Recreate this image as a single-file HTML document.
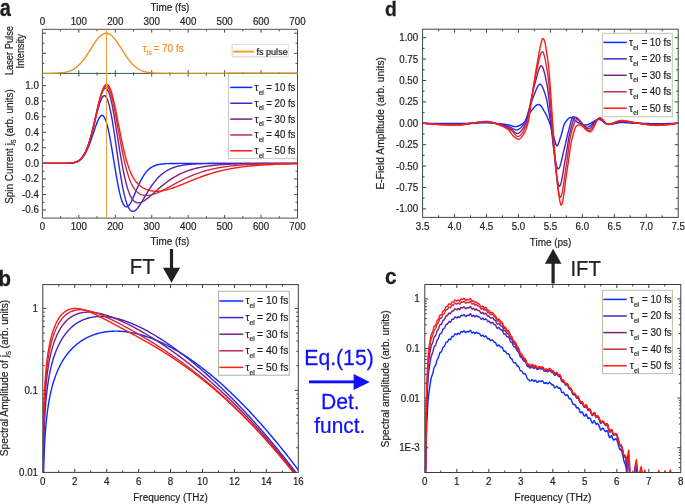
<!DOCTYPE html><html><head><meta charset="utf-8"><title>Spin current figure</title><style>html,body{margin:0;padding:0;background:#fff;width:685px;height:504px;overflow:hidden;}svg{display:block;filter:blur(0.3px);font-family:"Liberation Sans",sans-serif;}</style></head><body><svg width="685" height="504" viewBox="0 0 685 504" font-family="'Liberation Sans', sans-serif"><defs><clipPath id="ca1"><rect x="42.4" y="29.3" width="255.1" height="44.10000000000001"/></clipPath><clipPath id="ca2"><rect x="42.4" y="72.4" width="255.1" height="145.7"/></clipPath><clipPath id="ca1b"><rect x="42.4" y="29.3" width="255.1" height="44.400000000000006"/></clipPath><clipPath id="cb"><rect x="42.8" y="284.6" width="255.5" height="187.79999999999995"/></clipPath><clipPath id="cc"><rect x="424.8" y="284.5" width="255.99999999999994" height="188.0"/></clipPath><clipPath id="cd"><rect x="422.6" y="29.2" width="255.60000000000002" height="188.20000000000002"/></clipPath></defs><rect width="685" height="504" fill="#ffffff"/><line x1="60.62" y1="29.30" x2="60.62" y2="31.30" stroke="#4a4040" stroke-width="1.0" />
<line x1="60.62" y1="218.10" x2="60.62" y2="216.10" stroke="#3f5a4c" stroke-width="1.0" />
<line x1="60.62" y1="72.40" x2="60.62" y2="75.60" stroke="#2f6050" stroke-width="1.0" />
<line x1="78.84" y1="29.30" x2="78.84" y2="32.60" stroke="#4a4040" stroke-width="1.0" />
<line x1="78.84" y1="218.10" x2="78.84" y2="214.80" stroke="#3f5a4c" stroke-width="1.0" />
<line x1="78.84" y1="70.20" x2="78.84" y2="76.70" stroke="#2f6050" stroke-width="1.0" />
<line x1="97.06" y1="29.30" x2="97.06" y2="31.30" stroke="#4a4040" stroke-width="1.0" />
<line x1="97.06" y1="218.10" x2="97.06" y2="216.10" stroke="#3f5a4c" stroke-width="1.0" />
<line x1="97.06" y1="72.40" x2="97.06" y2="75.60" stroke="#2f6050" stroke-width="1.0" />
<line x1="115.29" y1="29.30" x2="115.29" y2="32.60" stroke="#4a4040" stroke-width="1.0" />
<line x1="115.29" y1="218.10" x2="115.29" y2="214.80" stroke="#3f5a4c" stroke-width="1.0" />
<line x1="115.29" y1="70.20" x2="115.29" y2="76.70" stroke="#2f6050" stroke-width="1.0" />
<line x1="133.51" y1="29.30" x2="133.51" y2="31.30" stroke="#4a4040" stroke-width="1.0" />
<line x1="133.51" y1="218.10" x2="133.51" y2="216.10" stroke="#3f5a4c" stroke-width="1.0" />
<line x1="133.51" y1="72.40" x2="133.51" y2="75.60" stroke="#2f6050" stroke-width="1.0" />
<line x1="151.73" y1="29.30" x2="151.73" y2="32.60" stroke="#4a4040" stroke-width="1.0" />
<line x1="151.73" y1="218.10" x2="151.73" y2="214.80" stroke="#3f5a4c" stroke-width="1.0" />
<line x1="151.73" y1="70.20" x2="151.73" y2="76.70" stroke="#2f6050" stroke-width="1.0" />
<line x1="169.95" y1="29.30" x2="169.95" y2="31.30" stroke="#4a4040" stroke-width="1.0" />
<line x1="169.95" y1="218.10" x2="169.95" y2="216.10" stroke="#3f5a4c" stroke-width="1.0" />
<line x1="169.95" y1="72.40" x2="169.95" y2="75.60" stroke="#2f6050" stroke-width="1.0" />
<line x1="188.17" y1="29.30" x2="188.17" y2="32.60" stroke="#4a4040" stroke-width="1.0" />
<line x1="188.17" y1="218.10" x2="188.17" y2="214.80" stroke="#3f5a4c" stroke-width="1.0" />
<line x1="188.17" y1="70.20" x2="188.17" y2="76.70" stroke="#2f6050" stroke-width="1.0" />
<line x1="206.39" y1="29.30" x2="206.39" y2="31.30" stroke="#4a4040" stroke-width="1.0" />
<line x1="206.39" y1="218.10" x2="206.39" y2="216.10" stroke="#3f5a4c" stroke-width="1.0" />
<line x1="206.39" y1="72.40" x2="206.39" y2="75.60" stroke="#2f6050" stroke-width="1.0" />
<line x1="224.61" y1="29.30" x2="224.61" y2="32.60" stroke="#4a4040" stroke-width="1.0" />
<line x1="224.61" y1="218.10" x2="224.61" y2="214.80" stroke="#3f5a4c" stroke-width="1.0" />
<line x1="224.61" y1="70.20" x2="224.61" y2="76.70" stroke="#2f6050" stroke-width="1.0" />
<line x1="242.84" y1="29.30" x2="242.84" y2="31.30" stroke="#4a4040" stroke-width="1.0" />
<line x1="242.84" y1="218.10" x2="242.84" y2="216.10" stroke="#3f5a4c" stroke-width="1.0" />
<line x1="242.84" y1="72.40" x2="242.84" y2="75.60" stroke="#2f6050" stroke-width="1.0" />
<line x1="261.06" y1="29.30" x2="261.06" y2="32.60" stroke="#4a4040" stroke-width="1.0" />
<line x1="261.06" y1="218.10" x2="261.06" y2="214.80" stroke="#3f5a4c" stroke-width="1.0" />
<line x1="261.06" y1="70.20" x2="261.06" y2="76.70" stroke="#2f6050" stroke-width="1.0" />
<line x1="279.28" y1="29.30" x2="279.28" y2="31.30" stroke="#4a4040" stroke-width="1.0" />
<line x1="279.28" y1="218.10" x2="279.28" y2="216.10" stroke="#3f5a4c" stroke-width="1.0" />
<line x1="279.28" y1="72.40" x2="279.28" y2="75.60" stroke="#2f6050" stroke-width="1.0" />
<line x1="42.40" y1="63.35" x2="44.40" y2="63.35" stroke="#3d3d3d" stroke-width="1.0" />
<line x1="297.50" y1="63.35" x2="295.50" y2="63.35" stroke="#3f5a4c" stroke-width="1.0" />
<line x1="42.40" y1="53.30" x2="45.90" y2="53.30" stroke="#3d3d3d" stroke-width="1.0" />
<line x1="297.50" y1="53.30" x2="294.00" y2="53.30" stroke="#3f5a4c" stroke-width="1.0" />
<line x1="42.40" y1="43.25" x2="44.40" y2="43.25" stroke="#3d3d3d" stroke-width="1.0" />
<line x1="297.50" y1="43.25" x2="295.50" y2="43.25" stroke="#3f5a4c" stroke-width="1.0" />
<line x1="42.40" y1="33.20" x2="45.90" y2="33.20" stroke="#3d3d3d" stroke-width="1.0" />
<line x1="297.50" y1="33.20" x2="294.00" y2="33.20" stroke="#3f5a4c" stroke-width="1.0" />
<line x1="42.40" y1="210.08" x2="45.90" y2="210.08" stroke="#3d3d3d" stroke-width="1.0" />
<line x1="297.50" y1="210.08" x2="294.00" y2="210.08" stroke="#3f5a4c" stroke-width="1.0" />
<line x1="42.40" y1="202.30" x2="44.40" y2="202.30" stroke="#3d3d3d" stroke-width="1.0" />
<line x1="297.50" y1="202.30" x2="295.50" y2="202.30" stroke="#3f5a4c" stroke-width="1.0" />
<line x1="42.40" y1="194.52" x2="45.90" y2="194.52" stroke="#3d3d3d" stroke-width="1.0" />
<line x1="297.50" y1="194.52" x2="294.00" y2="194.52" stroke="#3f5a4c" stroke-width="1.0" />
<line x1="42.40" y1="186.74" x2="44.40" y2="186.74" stroke="#3d3d3d" stroke-width="1.0" />
<line x1="297.50" y1="186.74" x2="295.50" y2="186.74" stroke="#3f5a4c" stroke-width="1.0" />
<line x1="42.40" y1="178.96" x2="45.90" y2="178.96" stroke="#3d3d3d" stroke-width="1.0" />
<line x1="297.50" y1="178.96" x2="294.00" y2="178.96" stroke="#3f5a4c" stroke-width="1.0" />
<line x1="42.40" y1="171.18" x2="44.40" y2="171.18" stroke="#3d3d3d" stroke-width="1.0" />
<line x1="297.50" y1="171.18" x2="295.50" y2="171.18" stroke="#3f5a4c" stroke-width="1.0" />
<line x1="42.40" y1="163.40" x2="45.90" y2="163.40" stroke="#3d3d3d" stroke-width="1.0" />
<line x1="297.50" y1="163.40" x2="294.00" y2="163.40" stroke="#3f5a4c" stroke-width="1.0" />
<line x1="42.40" y1="155.62" x2="44.40" y2="155.62" stroke="#3d3d3d" stroke-width="1.0" />
<line x1="297.50" y1="155.62" x2="295.50" y2="155.62" stroke="#3f5a4c" stroke-width="1.0" />
<line x1="42.40" y1="147.84" x2="45.90" y2="147.84" stroke="#3d3d3d" stroke-width="1.0" />
<line x1="297.50" y1="147.84" x2="294.00" y2="147.84" stroke="#3f5a4c" stroke-width="1.0" />
<line x1="42.40" y1="140.06" x2="44.40" y2="140.06" stroke="#3d3d3d" stroke-width="1.0" />
<line x1="297.50" y1="140.06" x2="295.50" y2="140.06" stroke="#3f5a4c" stroke-width="1.0" />
<line x1="42.40" y1="132.28" x2="45.90" y2="132.28" stroke="#3d3d3d" stroke-width="1.0" />
<line x1="297.50" y1="132.28" x2="294.00" y2="132.28" stroke="#3f5a4c" stroke-width="1.0" />
<line x1="42.40" y1="124.50" x2="44.40" y2="124.50" stroke="#3d3d3d" stroke-width="1.0" />
<line x1="297.50" y1="124.50" x2="295.50" y2="124.50" stroke="#3f5a4c" stroke-width="1.0" />
<line x1="42.40" y1="116.72" x2="45.90" y2="116.72" stroke="#3d3d3d" stroke-width="1.0" />
<line x1="297.50" y1="116.72" x2="294.00" y2="116.72" stroke="#3f5a4c" stroke-width="1.0" />
<line x1="42.40" y1="108.94" x2="44.40" y2="108.94" stroke="#3d3d3d" stroke-width="1.0" />
<line x1="297.50" y1="108.94" x2="295.50" y2="108.94" stroke="#3f5a4c" stroke-width="1.0" />
<line x1="42.40" y1="101.16" x2="45.90" y2="101.16" stroke="#3d3d3d" stroke-width="1.0" />
<line x1="297.50" y1="101.16" x2="294.00" y2="101.16" stroke="#3f5a4c" stroke-width="1.0" />
<line x1="42.40" y1="93.38" x2="44.40" y2="93.38" stroke="#3d3d3d" stroke-width="1.0" />
<line x1="297.50" y1="93.38" x2="295.50" y2="93.38" stroke="#3f5a4c" stroke-width="1.0" />
<line x1="42.40" y1="85.60" x2="45.90" y2="85.60" stroke="#3d3d3d" stroke-width="1.0" />
<line x1="297.50" y1="85.60" x2="294.00" y2="85.60" stroke="#3f5a4c" stroke-width="1.0" />
<line x1="42.40" y1="77.82" x2="44.40" y2="77.82" stroke="#3d3d3d" stroke-width="1.0" />
<line x1="297.50" y1="77.82" x2="295.50" y2="77.82" stroke="#3f5a4c" stroke-width="1.0" />
<text transform="translate(42.80 485.30) scale(0.93 1)" font-size="10.50" text-anchor="middle" fill="#1e1e1e" stroke="#1e1e1e" stroke-width="0.2" font-weight="normal" >0</text>
<line x1="58.77" y1="284.60" x2="58.77" y2="286.60" stroke="#3d3d3d" stroke-width="1.0" />
<line x1="58.77" y1="472.40" x2="58.77" y2="470.40" stroke="#3d3d3d" stroke-width="1.0" />
<line x1="74.74" y1="284.60" x2="74.74" y2="288.10" stroke="#3d3d3d" stroke-width="1.0" />
<line x1="74.74" y1="472.40" x2="74.74" y2="468.90" stroke="#3d3d3d" stroke-width="1.0" />
<text transform="translate(74.74 485.30) scale(0.93 1)" font-size="10.50" text-anchor="middle" fill="#1e1e1e" stroke="#1e1e1e" stroke-width="0.2" font-weight="normal" >2</text>
<line x1="90.71" y1="284.60" x2="90.71" y2="286.60" stroke="#3d3d3d" stroke-width="1.0" />
<line x1="90.71" y1="472.40" x2="90.71" y2="470.40" stroke="#3d3d3d" stroke-width="1.0" />
<line x1="106.67" y1="284.60" x2="106.67" y2="288.10" stroke="#3d3d3d" stroke-width="1.0" />
<line x1="106.67" y1="472.40" x2="106.67" y2="468.90" stroke="#3d3d3d" stroke-width="1.0" />
<text transform="translate(106.67 485.30) scale(0.93 1)" font-size="10.50" text-anchor="middle" fill="#1e1e1e" stroke="#1e1e1e" stroke-width="0.2" font-weight="normal" >4</text>
<line x1="122.64" y1="284.60" x2="122.64" y2="286.60" stroke="#3d3d3d" stroke-width="1.0" />
<line x1="122.64" y1="472.40" x2="122.64" y2="470.40" stroke="#3d3d3d" stroke-width="1.0" />
<line x1="138.61" y1="284.60" x2="138.61" y2="288.10" stroke="#3d3d3d" stroke-width="1.0" />
<line x1="138.61" y1="472.40" x2="138.61" y2="468.90" stroke="#3d3d3d" stroke-width="1.0" />
<text transform="translate(138.61 485.30) scale(0.93 1)" font-size="10.50" text-anchor="middle" fill="#1e1e1e" stroke="#1e1e1e" stroke-width="0.2" font-weight="normal" >6</text>
<line x1="154.58" y1="284.60" x2="154.58" y2="286.60" stroke="#3d3d3d" stroke-width="1.0" />
<line x1="154.58" y1="472.40" x2="154.58" y2="470.40" stroke="#3d3d3d" stroke-width="1.0" />
<line x1="170.55" y1="284.60" x2="170.55" y2="288.10" stroke="#3d3d3d" stroke-width="1.0" />
<line x1="170.55" y1="472.40" x2="170.55" y2="468.90" stroke="#3d3d3d" stroke-width="1.0" />
<text transform="translate(170.55 485.30) scale(0.93 1)" font-size="10.50" text-anchor="middle" fill="#1e1e1e" stroke="#1e1e1e" stroke-width="0.2" font-weight="normal" >8</text>
<line x1="186.52" y1="284.60" x2="186.52" y2="286.60" stroke="#3d3d3d" stroke-width="1.0" />
<line x1="186.52" y1="472.40" x2="186.52" y2="470.40" stroke="#3d3d3d" stroke-width="1.0" />
<line x1="202.49" y1="284.60" x2="202.49" y2="288.10" stroke="#3d3d3d" stroke-width="1.0" />
<line x1="202.49" y1="472.40" x2="202.49" y2="468.90" stroke="#3d3d3d" stroke-width="1.0" />
<text transform="translate(202.49 485.30) scale(0.93 1)" font-size="10.50" text-anchor="middle" fill="#1e1e1e" stroke="#1e1e1e" stroke-width="0.2" font-weight="normal" >10</text>
<line x1="218.46" y1="284.60" x2="218.46" y2="286.60" stroke="#3d3d3d" stroke-width="1.0" />
<line x1="218.46" y1="472.40" x2="218.46" y2="470.40" stroke="#3d3d3d" stroke-width="1.0" />
<line x1="234.43" y1="284.60" x2="234.43" y2="288.10" stroke="#3d3d3d" stroke-width="1.0" />
<line x1="234.43" y1="472.40" x2="234.43" y2="468.90" stroke="#3d3d3d" stroke-width="1.0" />
<text transform="translate(234.43 485.30) scale(0.93 1)" font-size="10.50" text-anchor="middle" fill="#1e1e1e" stroke="#1e1e1e" stroke-width="0.2" font-weight="normal" >12</text>
<line x1="250.39" y1="284.60" x2="250.39" y2="286.60" stroke="#3d3d3d" stroke-width="1.0" />
<line x1="250.39" y1="472.40" x2="250.39" y2="470.40" stroke="#3d3d3d" stroke-width="1.0" />
<line x1="266.36" y1="284.60" x2="266.36" y2="288.10" stroke="#3d3d3d" stroke-width="1.0" />
<line x1="266.36" y1="472.40" x2="266.36" y2="468.90" stroke="#3d3d3d" stroke-width="1.0" />
<text transform="translate(266.36 485.30) scale(0.93 1)" font-size="10.50" text-anchor="middle" fill="#1e1e1e" stroke="#1e1e1e" stroke-width="0.2" font-weight="normal" >14</text>
<line x1="282.33" y1="284.60" x2="282.33" y2="286.60" stroke="#3d3d3d" stroke-width="1.0" />
<line x1="282.33" y1="472.40" x2="282.33" y2="470.40" stroke="#3d3d3d" stroke-width="1.0" />
<text transform="translate(298.30 485.30) scale(0.93 1)" font-size="10.50" text-anchor="middle" fill="#1e1e1e" stroke="#1e1e1e" stroke-width="0.2" font-weight="normal" >16</text>
<line x1="42.80" y1="447.72" x2="44.80" y2="447.72" stroke="#3d3d3d" stroke-width="1.0" />
<line x1="298.30" y1="447.72" x2="296.30" y2="447.72" stroke="#3d3d3d" stroke-width="1.0" />
<line x1="42.80" y1="433.28" x2="44.80" y2="433.28" stroke="#3d3d3d" stroke-width="1.0" />
<line x1="298.30" y1="433.28" x2="296.30" y2="433.28" stroke="#3d3d3d" stroke-width="1.0" />
<line x1="42.80" y1="423.03" x2="44.80" y2="423.03" stroke="#3d3d3d" stroke-width="1.0" />
<line x1="298.30" y1="423.03" x2="296.30" y2="423.03" stroke="#3d3d3d" stroke-width="1.0" />
<line x1="42.80" y1="415.08" x2="44.80" y2="415.08" stroke="#3d3d3d" stroke-width="1.0" />
<line x1="298.30" y1="415.08" x2="296.30" y2="415.08" stroke="#3d3d3d" stroke-width="1.0" />
<line x1="42.80" y1="408.59" x2="44.80" y2="408.59" stroke="#3d3d3d" stroke-width="1.0" />
<line x1="298.30" y1="408.59" x2="296.30" y2="408.59" stroke="#3d3d3d" stroke-width="1.0" />
<line x1="42.80" y1="403.10" x2="44.80" y2="403.10" stroke="#3d3d3d" stroke-width="1.0" />
<line x1="298.30" y1="403.10" x2="296.30" y2="403.10" stroke="#3d3d3d" stroke-width="1.0" />
<line x1="42.80" y1="398.35" x2="44.80" y2="398.35" stroke="#3d3d3d" stroke-width="1.0" />
<line x1="298.30" y1="398.35" x2="296.30" y2="398.35" stroke="#3d3d3d" stroke-width="1.0" />
<line x1="42.80" y1="394.15" x2="44.80" y2="394.15" stroke="#3d3d3d" stroke-width="1.0" />
<line x1="298.30" y1="394.15" x2="296.30" y2="394.15" stroke="#3d3d3d" stroke-width="1.0" />
<line x1="42.80" y1="390.40" x2="46.30" y2="390.40" stroke="#3d3d3d" stroke-width="1.0" />
<line x1="298.30" y1="390.40" x2="294.80" y2="390.40" stroke="#3d3d3d" stroke-width="1.0" />
<line x1="42.80" y1="365.72" x2="44.80" y2="365.72" stroke="#3d3d3d" stroke-width="1.0" />
<line x1="298.30" y1="365.72" x2="296.30" y2="365.72" stroke="#3d3d3d" stroke-width="1.0" />
<line x1="42.80" y1="351.28" x2="44.80" y2="351.28" stroke="#3d3d3d" stroke-width="1.0" />
<line x1="298.30" y1="351.28" x2="296.30" y2="351.28" stroke="#3d3d3d" stroke-width="1.0" />
<line x1="42.80" y1="341.03" x2="44.80" y2="341.03" stroke="#3d3d3d" stroke-width="1.0" />
<line x1="298.30" y1="341.03" x2="296.30" y2="341.03" stroke="#3d3d3d" stroke-width="1.0" />
<line x1="42.80" y1="333.08" x2="44.80" y2="333.08" stroke="#3d3d3d" stroke-width="1.0" />
<line x1="298.30" y1="333.08" x2="296.30" y2="333.08" stroke="#3d3d3d" stroke-width="1.0" />
<line x1="42.80" y1="326.59" x2="44.80" y2="326.59" stroke="#3d3d3d" stroke-width="1.0" />
<line x1="298.30" y1="326.59" x2="296.30" y2="326.59" stroke="#3d3d3d" stroke-width="1.0" />
<line x1="42.80" y1="321.10" x2="44.80" y2="321.10" stroke="#3d3d3d" stroke-width="1.0" />
<line x1="298.30" y1="321.10" x2="296.30" y2="321.10" stroke="#3d3d3d" stroke-width="1.0" />
<line x1="42.80" y1="316.35" x2="44.80" y2="316.35" stroke="#3d3d3d" stroke-width="1.0" />
<line x1="298.30" y1="316.35" x2="296.30" y2="316.35" stroke="#3d3d3d" stroke-width="1.0" />
<line x1="42.80" y1="312.15" x2="44.80" y2="312.15" stroke="#3d3d3d" stroke-width="1.0" />
<line x1="298.30" y1="312.15" x2="296.30" y2="312.15" stroke="#3d3d3d" stroke-width="1.0" />
<line x1="42.80" y1="308.40" x2="46.30" y2="308.40" stroke="#3d3d3d" stroke-width="1.0" />
<line x1="298.30" y1="308.40" x2="294.80" y2="308.40" stroke="#3d3d3d" stroke-width="1.0" />
<text transform="translate(424.80 485.20) scale(0.93 1)" font-size="10.50" text-anchor="middle" fill="#1e1e1e" stroke="#1e1e1e" stroke-width="0.2" font-weight="normal" >0</text>
<line x1="440.80" y1="284.50" x2="440.80" y2="286.50" stroke="#3d3d3d" stroke-width="1.0" />
<line x1="440.80" y1="472.50" x2="440.80" y2="470.50" stroke="#3d3d3d" stroke-width="1.0" />
<line x1="456.80" y1="284.50" x2="456.80" y2="288.00" stroke="#3d3d3d" stroke-width="1.0" />
<line x1="456.80" y1="472.50" x2="456.80" y2="469.00" stroke="#3d3d3d" stroke-width="1.0" />
<text transform="translate(456.80 485.20) scale(0.93 1)" font-size="10.50" text-anchor="middle" fill="#1e1e1e" stroke="#1e1e1e" stroke-width="0.2" font-weight="normal" >1</text>
<line x1="472.80" y1="284.50" x2="472.80" y2="286.50" stroke="#3d3d3d" stroke-width="1.0" />
<line x1="472.80" y1="472.50" x2="472.80" y2="470.50" stroke="#3d3d3d" stroke-width="1.0" />
<line x1="488.80" y1="284.50" x2="488.80" y2="288.00" stroke="#3d3d3d" stroke-width="1.0" />
<line x1="488.80" y1="472.50" x2="488.80" y2="469.00" stroke="#3d3d3d" stroke-width="1.0" />
<text transform="translate(488.80 485.20) scale(0.93 1)" font-size="10.50" text-anchor="middle" fill="#1e1e1e" stroke="#1e1e1e" stroke-width="0.2" font-weight="normal" >2</text>
<line x1="504.80" y1="284.50" x2="504.80" y2="286.50" stroke="#3d3d3d" stroke-width="1.0" />
<line x1="504.80" y1="472.50" x2="504.80" y2="470.50" stroke="#3d3d3d" stroke-width="1.0" />
<line x1="520.80" y1="284.50" x2="520.80" y2="288.00" stroke="#3d3d3d" stroke-width="1.0" />
<line x1="520.80" y1="472.50" x2="520.80" y2="469.00" stroke="#3d3d3d" stroke-width="1.0" />
<text transform="translate(520.80 485.20) scale(0.93 1)" font-size="10.50" text-anchor="middle" fill="#1e1e1e" stroke="#1e1e1e" stroke-width="0.2" font-weight="normal" >3</text>
<line x1="536.80" y1="284.50" x2="536.80" y2="286.50" stroke="#3d3d3d" stroke-width="1.0" />
<line x1="536.80" y1="472.50" x2="536.80" y2="470.50" stroke="#3d3d3d" stroke-width="1.0" />
<line x1="552.80" y1="284.50" x2="552.80" y2="288.00" stroke="#3d3d3d" stroke-width="1.0" />
<line x1="552.80" y1="472.50" x2="552.80" y2="469.00" stroke="#3d3d3d" stroke-width="1.0" />
<text transform="translate(552.80 485.20) scale(0.93 1)" font-size="10.50" text-anchor="middle" fill="#1e1e1e" stroke="#1e1e1e" stroke-width="0.2" font-weight="normal" >4</text>
<line x1="568.80" y1="284.50" x2="568.80" y2="286.50" stroke="#3d3d3d" stroke-width="1.0" />
<line x1="568.80" y1="472.50" x2="568.80" y2="470.50" stroke="#3d3d3d" stroke-width="1.0" />
<line x1="584.80" y1="284.50" x2="584.80" y2="288.00" stroke="#3d3d3d" stroke-width="1.0" />
<line x1="584.80" y1="472.50" x2="584.80" y2="469.00" stroke="#3d3d3d" stroke-width="1.0" />
<text transform="translate(584.80 485.20) scale(0.93 1)" font-size="10.50" text-anchor="middle" fill="#1e1e1e" stroke="#1e1e1e" stroke-width="0.2" font-weight="normal" >5</text>
<line x1="600.80" y1="284.50" x2="600.80" y2="286.50" stroke="#3d3d3d" stroke-width="1.0" />
<line x1="600.80" y1="472.50" x2="600.80" y2="470.50" stroke="#3d3d3d" stroke-width="1.0" />
<line x1="616.80" y1="284.50" x2="616.80" y2="288.00" stroke="#3d3d3d" stroke-width="1.0" />
<line x1="616.80" y1="472.50" x2="616.80" y2="469.00" stroke="#3d3d3d" stroke-width="1.0" />
<text transform="translate(616.80 485.20) scale(0.93 1)" font-size="10.50" text-anchor="middle" fill="#1e1e1e" stroke="#1e1e1e" stroke-width="0.2" font-weight="normal" >6</text>
<line x1="632.80" y1="284.50" x2="632.80" y2="286.50" stroke="#3d3d3d" stroke-width="1.0" />
<line x1="632.80" y1="472.50" x2="632.80" y2="470.50" stroke="#3d3d3d" stroke-width="1.0" />
<line x1="648.80" y1="284.50" x2="648.80" y2="288.00" stroke="#3d3d3d" stroke-width="1.0" />
<line x1="648.80" y1="472.50" x2="648.80" y2="469.00" stroke="#3d3d3d" stroke-width="1.0" />
<text transform="translate(648.80 485.20) scale(0.93 1)" font-size="10.50" text-anchor="middle" fill="#1e1e1e" stroke="#1e1e1e" stroke-width="0.2" font-weight="normal" >7</text>
<line x1="664.80" y1="284.50" x2="664.80" y2="286.50" stroke="#3d3d3d" stroke-width="1.0" />
<line x1="664.80" y1="472.50" x2="664.80" y2="470.50" stroke="#3d3d3d" stroke-width="1.0" />
<text transform="translate(680.80 485.20) scale(0.93 1)" font-size="10.50" text-anchor="middle" fill="#1e1e1e" stroke="#1e1e1e" stroke-width="0.2" font-weight="normal" >8</text>
<line x1="424.80" y1="467.44" x2="426.80" y2="467.44" stroke="#3d3d3d" stroke-width="1.0" />
<line x1="680.80" y1="467.44" x2="678.80" y2="467.44" stroke="#3d3d3d" stroke-width="1.0" />
<line x1="424.80" y1="462.63" x2="426.80" y2="462.63" stroke="#3d3d3d" stroke-width="1.0" />
<line x1="680.80" y1="462.63" x2="678.80" y2="462.63" stroke="#3d3d3d" stroke-width="1.0" />
<line x1="424.80" y1="458.70" x2="426.80" y2="458.70" stroke="#3d3d3d" stroke-width="1.0" />
<line x1="680.80" y1="458.70" x2="678.80" y2="458.70" stroke="#3d3d3d" stroke-width="1.0" />
<line x1="424.80" y1="455.38" x2="426.80" y2="455.38" stroke="#3d3d3d" stroke-width="1.0" />
<line x1="680.80" y1="455.38" x2="678.80" y2="455.38" stroke="#3d3d3d" stroke-width="1.0" />
<line x1="424.80" y1="452.51" x2="426.80" y2="452.51" stroke="#3d3d3d" stroke-width="1.0" />
<line x1="680.80" y1="452.51" x2="678.80" y2="452.51" stroke="#3d3d3d" stroke-width="1.0" />
<line x1="424.80" y1="449.97" x2="426.80" y2="449.97" stroke="#3d3d3d" stroke-width="1.0" />
<line x1="680.80" y1="449.97" x2="678.80" y2="449.97" stroke="#3d3d3d" stroke-width="1.0" />
<line x1="424.80" y1="447.70" x2="428.30" y2="447.70" stroke="#3d3d3d" stroke-width="1.0" />
<line x1="680.80" y1="447.70" x2="677.30" y2="447.70" stroke="#3d3d3d" stroke-width="1.0" />
<line x1="424.80" y1="432.77" x2="426.80" y2="432.77" stroke="#3d3d3d" stroke-width="1.0" />
<line x1="680.80" y1="432.77" x2="678.80" y2="432.77" stroke="#3d3d3d" stroke-width="1.0" />
<line x1="424.80" y1="424.03" x2="426.80" y2="424.03" stroke="#3d3d3d" stroke-width="1.0" />
<line x1="680.80" y1="424.03" x2="678.80" y2="424.03" stroke="#3d3d3d" stroke-width="1.0" />
<line x1="424.80" y1="417.84" x2="426.80" y2="417.84" stroke="#3d3d3d" stroke-width="1.0" />
<line x1="680.80" y1="417.84" x2="678.80" y2="417.84" stroke="#3d3d3d" stroke-width="1.0" />
<line x1="424.80" y1="413.03" x2="426.80" y2="413.03" stroke="#3d3d3d" stroke-width="1.0" />
<line x1="680.80" y1="413.03" x2="678.80" y2="413.03" stroke="#3d3d3d" stroke-width="1.0" />
<line x1="424.80" y1="409.10" x2="426.80" y2="409.10" stroke="#3d3d3d" stroke-width="1.0" />
<line x1="680.80" y1="409.10" x2="678.80" y2="409.10" stroke="#3d3d3d" stroke-width="1.0" />
<line x1="424.80" y1="405.78" x2="426.80" y2="405.78" stroke="#3d3d3d" stroke-width="1.0" />
<line x1="680.80" y1="405.78" x2="678.80" y2="405.78" stroke="#3d3d3d" stroke-width="1.0" />
<line x1="424.80" y1="402.91" x2="426.80" y2="402.91" stroke="#3d3d3d" stroke-width="1.0" />
<line x1="680.80" y1="402.91" x2="678.80" y2="402.91" stroke="#3d3d3d" stroke-width="1.0" />
<line x1="424.80" y1="400.37" x2="426.80" y2="400.37" stroke="#3d3d3d" stroke-width="1.0" />
<line x1="680.80" y1="400.37" x2="678.80" y2="400.37" stroke="#3d3d3d" stroke-width="1.0" />
<line x1="424.80" y1="398.10" x2="428.30" y2="398.10" stroke="#3d3d3d" stroke-width="1.0" />
<line x1="680.80" y1="398.10" x2="677.30" y2="398.10" stroke="#3d3d3d" stroke-width="1.0" />
<line x1="424.80" y1="383.17" x2="426.80" y2="383.17" stroke="#3d3d3d" stroke-width="1.0" />
<line x1="680.80" y1="383.17" x2="678.80" y2="383.17" stroke="#3d3d3d" stroke-width="1.0" />
<line x1="424.80" y1="374.43" x2="426.80" y2="374.43" stroke="#3d3d3d" stroke-width="1.0" />
<line x1="680.80" y1="374.43" x2="678.80" y2="374.43" stroke="#3d3d3d" stroke-width="1.0" />
<line x1="424.80" y1="368.24" x2="426.80" y2="368.24" stroke="#3d3d3d" stroke-width="1.0" />
<line x1="680.80" y1="368.24" x2="678.80" y2="368.24" stroke="#3d3d3d" stroke-width="1.0" />
<line x1="424.80" y1="363.43" x2="426.80" y2="363.43" stroke="#3d3d3d" stroke-width="1.0" />
<line x1="680.80" y1="363.43" x2="678.80" y2="363.43" stroke="#3d3d3d" stroke-width="1.0" />
<line x1="424.80" y1="359.50" x2="426.80" y2="359.50" stroke="#3d3d3d" stroke-width="1.0" />
<line x1="680.80" y1="359.50" x2="678.80" y2="359.50" stroke="#3d3d3d" stroke-width="1.0" />
<line x1="424.80" y1="356.18" x2="426.80" y2="356.18" stroke="#3d3d3d" stroke-width="1.0" />
<line x1="680.80" y1="356.18" x2="678.80" y2="356.18" stroke="#3d3d3d" stroke-width="1.0" />
<line x1="424.80" y1="353.31" x2="426.80" y2="353.31" stroke="#3d3d3d" stroke-width="1.0" />
<line x1="680.80" y1="353.31" x2="678.80" y2="353.31" stroke="#3d3d3d" stroke-width="1.0" />
<line x1="424.80" y1="350.77" x2="426.80" y2="350.77" stroke="#3d3d3d" stroke-width="1.0" />
<line x1="680.80" y1="350.77" x2="678.80" y2="350.77" stroke="#3d3d3d" stroke-width="1.0" />
<line x1="424.80" y1="348.50" x2="428.30" y2="348.50" stroke="#3d3d3d" stroke-width="1.0" />
<line x1="680.80" y1="348.50" x2="677.30" y2="348.50" stroke="#3d3d3d" stroke-width="1.0" />
<line x1="424.80" y1="333.57" x2="426.80" y2="333.57" stroke="#3d3d3d" stroke-width="1.0" />
<line x1="680.80" y1="333.57" x2="678.80" y2="333.57" stroke="#3d3d3d" stroke-width="1.0" />
<line x1="424.80" y1="324.83" x2="426.80" y2="324.83" stroke="#3d3d3d" stroke-width="1.0" />
<line x1="680.80" y1="324.83" x2="678.80" y2="324.83" stroke="#3d3d3d" stroke-width="1.0" />
<line x1="424.80" y1="318.64" x2="426.80" y2="318.64" stroke="#3d3d3d" stroke-width="1.0" />
<line x1="680.80" y1="318.64" x2="678.80" y2="318.64" stroke="#3d3d3d" stroke-width="1.0" />
<line x1="424.80" y1="313.83" x2="426.80" y2="313.83" stroke="#3d3d3d" stroke-width="1.0" />
<line x1="680.80" y1="313.83" x2="678.80" y2="313.83" stroke="#3d3d3d" stroke-width="1.0" />
<line x1="424.80" y1="309.90" x2="426.80" y2="309.90" stroke="#3d3d3d" stroke-width="1.0" />
<line x1="680.80" y1="309.90" x2="678.80" y2="309.90" stroke="#3d3d3d" stroke-width="1.0" />
<line x1="424.80" y1="306.58" x2="426.80" y2="306.58" stroke="#3d3d3d" stroke-width="1.0" />
<line x1="680.80" y1="306.58" x2="678.80" y2="306.58" stroke="#3d3d3d" stroke-width="1.0" />
<line x1="424.80" y1="303.71" x2="426.80" y2="303.71" stroke="#3d3d3d" stroke-width="1.0" />
<line x1="680.80" y1="303.71" x2="678.80" y2="303.71" stroke="#3d3d3d" stroke-width="1.0" />
<line x1="424.80" y1="301.17" x2="426.80" y2="301.17" stroke="#3d3d3d" stroke-width="1.0" />
<line x1="680.80" y1="301.17" x2="678.80" y2="301.17" stroke="#3d3d3d" stroke-width="1.0" />
<line x1="424.80" y1="298.90" x2="428.30" y2="298.90" stroke="#3d3d3d" stroke-width="1.0" />
<line x1="680.80" y1="298.90" x2="677.30" y2="298.90" stroke="#3d3d3d" stroke-width="1.0" />
<text transform="translate(422.60 229.80) scale(0.93 1)" font-size="10.50" text-anchor="middle" fill="#1e1e1e" stroke="#1e1e1e" stroke-width="0.2" font-weight="normal" >3.5</text>
<line x1="438.58" y1="29.20" x2="438.58" y2="31.20" stroke="#3d3d3d" stroke-width="1.0" />
<line x1="438.58" y1="217.40" x2="438.58" y2="215.40" stroke="#3d3d3d" stroke-width="1.0" />
<line x1="454.55" y1="29.20" x2="454.55" y2="32.70" stroke="#3d3d3d" stroke-width="1.0" />
<line x1="454.55" y1="217.40" x2="454.55" y2="213.90" stroke="#3d3d3d" stroke-width="1.0" />
<text transform="translate(454.55 229.80) scale(0.93 1)" font-size="10.50" text-anchor="middle" fill="#1e1e1e" stroke="#1e1e1e" stroke-width="0.2" font-weight="normal" >4.0</text>
<line x1="470.53" y1="29.20" x2="470.53" y2="31.20" stroke="#3d3d3d" stroke-width="1.0" />
<line x1="470.53" y1="217.40" x2="470.53" y2="215.40" stroke="#3d3d3d" stroke-width="1.0" />
<line x1="486.50" y1="29.20" x2="486.50" y2="32.70" stroke="#3d3d3d" stroke-width="1.0" />
<line x1="486.50" y1="217.40" x2="486.50" y2="213.90" stroke="#3d3d3d" stroke-width="1.0" />
<text transform="translate(486.50 229.80) scale(0.93 1)" font-size="10.50" text-anchor="middle" fill="#1e1e1e" stroke="#1e1e1e" stroke-width="0.2" font-weight="normal" >4.5</text>
<line x1="502.48" y1="29.20" x2="502.48" y2="31.20" stroke="#3d3d3d" stroke-width="1.0" />
<line x1="502.48" y1="217.40" x2="502.48" y2="215.40" stroke="#3d3d3d" stroke-width="1.0" />
<line x1="518.45" y1="29.20" x2="518.45" y2="32.70" stroke="#3d3d3d" stroke-width="1.0" />
<line x1="518.45" y1="217.40" x2="518.45" y2="213.90" stroke="#3d3d3d" stroke-width="1.0" />
<text transform="translate(518.45 229.80) scale(0.93 1)" font-size="10.50" text-anchor="middle" fill="#1e1e1e" stroke="#1e1e1e" stroke-width="0.2" font-weight="normal" >5.0</text>
<line x1="534.43" y1="29.20" x2="534.43" y2="31.20" stroke="#3d3d3d" stroke-width="1.0" />
<line x1="534.43" y1="217.40" x2="534.43" y2="215.40" stroke="#3d3d3d" stroke-width="1.0" />
<line x1="550.40" y1="29.20" x2="550.40" y2="32.70" stroke="#3d3d3d" stroke-width="1.0" />
<line x1="550.40" y1="217.40" x2="550.40" y2="213.90" stroke="#3d3d3d" stroke-width="1.0" />
<text transform="translate(550.40 229.80) scale(0.93 1)" font-size="10.50" text-anchor="middle" fill="#1e1e1e" stroke="#1e1e1e" stroke-width="0.2" font-weight="normal" >5.5</text>
<line x1="566.38" y1="29.20" x2="566.38" y2="31.20" stroke="#3d3d3d" stroke-width="1.0" />
<line x1="566.38" y1="217.40" x2="566.38" y2="215.40" stroke="#3d3d3d" stroke-width="1.0" />
<line x1="582.35" y1="29.20" x2="582.35" y2="32.70" stroke="#3d3d3d" stroke-width="1.0" />
<line x1="582.35" y1="217.40" x2="582.35" y2="213.90" stroke="#3d3d3d" stroke-width="1.0" />
<text transform="translate(582.35 229.80) scale(0.93 1)" font-size="10.50" text-anchor="middle" fill="#1e1e1e" stroke="#1e1e1e" stroke-width="0.2" font-weight="normal" >6.0</text>
<line x1="598.33" y1="29.20" x2="598.33" y2="31.20" stroke="#3d3d3d" stroke-width="1.0" />
<line x1="598.33" y1="217.40" x2="598.33" y2="215.40" stroke="#3d3d3d" stroke-width="1.0" />
<line x1="614.30" y1="29.20" x2="614.30" y2="32.70" stroke="#3d3d3d" stroke-width="1.0" />
<line x1="614.30" y1="217.40" x2="614.30" y2="213.90" stroke="#3d3d3d" stroke-width="1.0" />
<text transform="translate(614.30 229.80) scale(0.93 1)" font-size="10.50" text-anchor="middle" fill="#1e1e1e" stroke="#1e1e1e" stroke-width="0.2" font-weight="normal" >6.5</text>
<line x1="630.27" y1="29.20" x2="630.27" y2="31.20" stroke="#3d3d3d" stroke-width="1.0" />
<line x1="630.27" y1="217.40" x2="630.27" y2="215.40" stroke="#3d3d3d" stroke-width="1.0" />
<line x1="646.25" y1="29.20" x2="646.25" y2="32.70" stroke="#3d3d3d" stroke-width="1.0" />
<line x1="646.25" y1="217.40" x2="646.25" y2="213.90" stroke="#3d3d3d" stroke-width="1.0" />
<text transform="translate(646.25 229.80) scale(0.93 1)" font-size="10.50" text-anchor="middle" fill="#1e1e1e" stroke="#1e1e1e" stroke-width="0.2" font-weight="normal" >7.0</text>
<line x1="662.23" y1="29.20" x2="662.23" y2="31.20" stroke="#3d3d3d" stroke-width="1.0" />
<line x1="662.23" y1="217.40" x2="662.23" y2="215.40" stroke="#3d3d3d" stroke-width="1.0" />
<text transform="translate(678.20 229.80) scale(0.93 1)" font-size="10.50" text-anchor="middle" fill="#1e1e1e" stroke="#1e1e1e" stroke-width="0.2" font-weight="normal" >7.5</text>
<line x1="422.60" y1="208.90" x2="426.10" y2="208.90" stroke="#3d3d3d" stroke-width="1.0" />
<line x1="678.20" y1="208.90" x2="674.70" y2="208.90" stroke="#3d3d3d" stroke-width="1.0" />
<text transform="translate(418.20 212.30) scale(0.93 1)" font-size="10.50" text-anchor="end" fill="#1e1e1e" stroke="#1e1e1e" stroke-width="0.2" font-weight="normal" >-1.00</text>
<line x1="422.60" y1="198.20" x2="424.60" y2="198.20" stroke="#3d3d3d" stroke-width="1.0" />
<line x1="678.20" y1="198.20" x2="676.20" y2="198.20" stroke="#3d3d3d" stroke-width="1.0" />
<line x1="422.60" y1="187.50" x2="426.10" y2="187.50" stroke="#3d3d3d" stroke-width="1.0" />
<line x1="678.20" y1="187.50" x2="674.70" y2="187.50" stroke="#3d3d3d" stroke-width="1.0" />
<text transform="translate(418.20 190.90) scale(0.93 1)" font-size="10.50" text-anchor="end" fill="#1e1e1e" stroke="#1e1e1e" stroke-width="0.2" font-weight="normal" >-0.75</text>
<line x1="422.60" y1="176.80" x2="424.60" y2="176.80" stroke="#3d3d3d" stroke-width="1.0" />
<line x1="678.20" y1="176.80" x2="676.20" y2="176.80" stroke="#3d3d3d" stroke-width="1.0" />
<line x1="422.60" y1="166.10" x2="426.10" y2="166.10" stroke="#3d3d3d" stroke-width="1.0" />
<line x1="678.20" y1="166.10" x2="674.70" y2="166.10" stroke="#3d3d3d" stroke-width="1.0" />
<text transform="translate(418.20 169.50) scale(0.93 1)" font-size="10.50" text-anchor="end" fill="#1e1e1e" stroke="#1e1e1e" stroke-width="0.2" font-weight="normal" >-0.50</text>
<line x1="422.60" y1="155.40" x2="424.60" y2="155.40" stroke="#3d3d3d" stroke-width="1.0" />
<line x1="678.20" y1="155.40" x2="676.20" y2="155.40" stroke="#3d3d3d" stroke-width="1.0" />
<line x1="422.60" y1="144.70" x2="426.10" y2="144.70" stroke="#3d3d3d" stroke-width="1.0" />
<line x1="678.20" y1="144.70" x2="674.70" y2="144.70" stroke="#3d3d3d" stroke-width="1.0" />
<text transform="translate(418.20 148.10) scale(0.93 1)" font-size="10.50" text-anchor="end" fill="#1e1e1e" stroke="#1e1e1e" stroke-width="0.2" font-weight="normal" >-0.25</text>
<line x1="422.60" y1="134.00" x2="424.60" y2="134.00" stroke="#3d3d3d" stroke-width="1.0" />
<line x1="678.20" y1="134.00" x2="676.20" y2="134.00" stroke="#3d3d3d" stroke-width="1.0" />
<line x1="422.60" y1="123.30" x2="426.10" y2="123.30" stroke="#3d3d3d" stroke-width="1.0" />
<line x1="678.20" y1="123.30" x2="674.70" y2="123.30" stroke="#3d3d3d" stroke-width="1.0" />
<text transform="translate(418.20 126.70) scale(0.93 1)" font-size="10.50" text-anchor="end" fill="#1e1e1e" stroke="#1e1e1e" stroke-width="0.2" font-weight="normal" >0.00</text>
<line x1="422.60" y1="112.60" x2="424.60" y2="112.60" stroke="#3d3d3d" stroke-width="1.0" />
<line x1="678.20" y1="112.60" x2="676.20" y2="112.60" stroke="#3d3d3d" stroke-width="1.0" />
<line x1="422.60" y1="101.90" x2="426.10" y2="101.90" stroke="#3d3d3d" stroke-width="1.0" />
<line x1="678.20" y1="101.90" x2="674.70" y2="101.90" stroke="#3d3d3d" stroke-width="1.0" />
<text transform="translate(418.20 105.30) scale(0.93 1)" font-size="10.50" text-anchor="end" fill="#1e1e1e" stroke="#1e1e1e" stroke-width="0.2" font-weight="normal" >0.25</text>
<line x1="422.60" y1="91.20" x2="424.60" y2="91.20" stroke="#3d3d3d" stroke-width="1.0" />
<line x1="678.20" y1="91.20" x2="676.20" y2="91.20" stroke="#3d3d3d" stroke-width="1.0" />
<line x1="422.60" y1="80.50" x2="426.10" y2="80.50" stroke="#3d3d3d" stroke-width="1.0" />
<line x1="678.20" y1="80.50" x2="674.70" y2="80.50" stroke="#3d3d3d" stroke-width="1.0" />
<text transform="translate(418.20 83.90) scale(0.93 1)" font-size="10.50" text-anchor="end" fill="#1e1e1e" stroke="#1e1e1e" stroke-width="0.2" font-weight="normal" >0.50</text>
<line x1="422.60" y1="69.80" x2="424.60" y2="69.80" stroke="#3d3d3d" stroke-width="1.0" />
<line x1="678.20" y1="69.80" x2="676.20" y2="69.80" stroke="#3d3d3d" stroke-width="1.0" />
<line x1="422.60" y1="59.10" x2="426.10" y2="59.10" stroke="#3d3d3d" stroke-width="1.0" />
<line x1="678.20" y1="59.10" x2="674.70" y2="59.10" stroke="#3d3d3d" stroke-width="1.0" />
<text transform="translate(418.20 62.50) scale(0.93 1)" font-size="10.50" text-anchor="end" fill="#1e1e1e" stroke="#1e1e1e" stroke-width="0.2" font-weight="normal" >0.75</text>
<line x1="422.60" y1="48.40" x2="424.60" y2="48.40" stroke="#3d3d3d" stroke-width="1.0" />
<line x1="678.20" y1="48.40" x2="676.20" y2="48.40" stroke="#3d3d3d" stroke-width="1.0" />
<line x1="422.60" y1="37.70" x2="426.10" y2="37.70" stroke="#3d3d3d" stroke-width="1.0" />
<line x1="678.20" y1="37.70" x2="674.70" y2="37.70" stroke="#3d3d3d" stroke-width="1.0" />
<text transform="translate(418.20 41.10) scale(0.93 1)" font-size="10.50" text-anchor="end" fill="#1e1e1e" stroke="#1e1e1e" stroke-width="0.2" font-weight="normal" >1.00</text>
<path d="M42.40,163.40 L43.13,163.40 L43.86,163.40 L44.59,163.40 L45.32,163.40 L46.04,163.40 L46.77,163.40 L47.50,163.40 L48.23,163.40 L48.96,163.40 L49.69,163.40 L50.42,163.40 L51.15,163.40 L51.88,163.40 L52.60,163.40 L53.33,163.40 L54.06,163.40 L54.79,163.40 L55.52,163.40 L56.25,163.40 L56.98,163.40 L57.71,163.40 L58.43,163.40 L59.16,163.40 L59.89,163.39 L60.62,163.39 L61.35,163.39 L62.08,163.39 L62.81,163.38 L63.54,163.37 L64.27,163.37 L64.99,163.36 L65.72,163.34 L66.45,163.33 L67.18,163.31 L67.91,163.28 L68.64,163.25 L69.37,163.21 L70.10,163.16 L70.83,163.10 L71.55,163.03 L72.28,162.94 L73.01,162.83 L73.74,162.70 L74.47,162.55 L75.20,162.36 L75.93,162.14 L76.66,161.88 L77.39,161.58 L78.11,161.22 L78.84,160.80 L79.57,160.33 L80.30,159.78 L81.03,159.15 L81.76,158.43 L82.49,157.63 L83.22,156.73 L83.94,155.72 L84.67,154.60 L85.40,153.37 L86.13,152.02 L86.86,150.56 L87.59,148.98 L88.32,147.28 L89.05,145.47 L89.78,143.56 L90.50,141.56 L91.23,139.47 L91.96,137.33 L92.69,135.14 L93.42,132.92 L94.15,130.71 L94.88,128.53 L95.61,126.41 L96.34,124.39 L97.06,122.48 L97.79,120.74 L98.52,119.18 L99.25,117.86 L99.98,116.79 L100.71,116.02 L101.44,115.56 L102.17,115.45 L102.90,115.70 L103.62,116.34 L104.35,117.36 L105.08,118.79 L105.81,120.61 L106.54,122.82 L107.27,125.41 L108.00,128.36 L108.73,131.65 L109.45,135.23 L110.18,139.08 L110.91,143.16 L111.64,147.43 L112.37,151.83 L113.10,156.32 L113.83,160.85 L114.56,165.37 L115.29,169.83 L116.01,174.18 L116.74,178.38 L117.47,182.39 L118.20,186.18 L118.93,189.69 L119.66,192.92 L120.39,195.84 L121.12,198.42 L121.85,200.66 L122.57,202.56 L123.30,204.10 L124.03,205.30 L124.76,206.15 L125.49,206.68 L126.22,206.90 L126.95,206.83 L127.68,206.48 L128.41,205.88 L129.13,205.07 L129.86,204.05 L130.59,202.86 L131.32,201.52 L132.05,200.06 L132.78,198.51 L133.51,196.88 L134.24,195.20 L134.96,193.49 L135.69,191.76 L136.42,190.04 L137.15,188.34 L137.88,186.67 L138.61,185.04 L139.34,183.46 L140.07,181.94 L140.80,180.49 L141.52,179.10 L142.25,177.79 L142.98,176.56 L143.71,175.40 L144.44,174.31 L145.17,173.30 L145.90,172.36 L146.63,171.50 L147.36,170.70 L148.08,169.96 L148.81,169.29 L149.54,168.68 L150.27,168.12 L151.00,167.61 L151.73,167.15 L152.46,166.74 L153.19,166.36 L153.92,166.02 L154.64,165.72 L155.37,165.45 L156.10,165.21 L156.83,165.00 L157.56,164.80 L158.29,164.63 L159.02,164.48 L159.75,164.35 L160.47,164.23 L161.20,164.13 L161.93,164.03 L162.66,163.95 L163.39,163.88 L164.12,163.82 L164.85,163.76 L165.58,163.72 L166.31,163.67 L167.03,163.64 L167.76,163.61 L168.49,163.58 L169.22,163.55 L169.95,163.53 L170.68,163.52 L171.41,163.50 L172.14,163.49 L172.87,163.47 L173.59,163.46 L174.32,163.45 L175.05,163.45 L175.78,163.44 L176.51,163.43 L177.24,163.43 L177.97,163.43 L178.70,163.42 L179.43,163.42 L180.15,163.42 L180.88,163.41 L181.61,163.41 L182.34,163.41 L183.07,163.41 L183.80,163.41 L184.53,163.41 L185.26,163.41 L185.98,163.40 L186.71,163.40 L187.44,163.40 L188.17,163.40 L188.90,163.40 L189.63,163.40 L190.36,163.40 L191.09,163.40 L191.82,163.40 L192.54,163.40 L193.27,163.40 L194.00,163.40 L194.73,163.40 L195.46,163.40 L196.19,163.40 L196.92,163.40 L197.65,163.40 L198.38,163.40 L199.10,163.40 L199.83,163.40 L200.56,163.40 L201.29,163.40 L202.02,163.40 L202.75,163.40 L203.48,163.40 L204.21,163.40 L204.94,163.40 L205.66,163.40 L206.39,163.40 L207.12,163.40 L207.85,163.40 L208.58,163.40 L209.31,163.40 L210.04,163.40 L210.77,163.40 L211.49,163.40 L212.22,163.40 L212.95,163.40 L213.68,163.40 L214.41,163.40 L215.14,163.40 L215.87,163.40 L216.60,163.40 L217.33,163.40 L218.05,163.40 L218.78,163.40 L219.51,163.40 L220.24,163.40 L220.97,163.40 L221.70,163.40 L222.43,163.40 L223.16,163.40 L223.89,163.40 L224.61,163.40 L225.34,163.40 L226.07,163.40 L226.80,163.40 L227.53,163.40 L228.26,163.40 L228.99,163.40 L229.72,163.40 L230.45,163.40 L231.17,163.40 L231.90,163.40 L232.63,163.40 L233.36,163.40 L234.09,163.40 L234.82,163.40 L235.55,163.40 L236.28,163.40 L237.00,163.40 L237.73,163.40 L238.46,163.40 L239.19,163.40 L239.92,163.40 L240.65,163.40 L241.38,163.40 L242.11,163.40 L242.84,163.40 L243.56,163.40 L244.29,163.40 L245.02,163.40 L245.75,163.40 L246.48,163.40 L247.21,163.40 L247.94,163.40 L248.67,163.40 L249.40,163.40 L250.12,163.40 L250.85,163.40 L251.58,163.40 L252.31,163.40 L253.04,163.40 L253.77,163.40 L254.50,163.40 L255.23,163.40 L255.96,163.40 L256.68,163.40 L257.41,163.40 L258.14,163.40 L258.87,163.40 L259.60,163.40 L260.33,163.40 L261.06,163.40 L261.79,163.40 L262.51,163.40 L263.24,163.40 L263.97,163.40 L264.70,163.40 L265.43,163.40 L266.16,163.40 L266.89,163.40 L267.62,163.40 L268.35,163.40 L269.07,163.40 L269.80,163.40 L270.53,163.40 L271.26,163.40 L271.99,163.40 L272.72,163.40 L273.45,163.40 L274.18,163.40 L274.91,163.40 L275.63,163.40 L276.36,163.40 L277.09,163.40 L277.82,163.40 L278.55,163.40 L279.28,163.40 L280.01,163.40 L280.74,163.40 L281.47,163.40 L282.19,163.40 L282.92,163.40 L283.65,163.40 L284.38,163.40 L285.11,163.40 L285.84,163.40 L286.57,163.40 L287.30,163.40 L288.02,163.40 L288.75,163.40 L289.48,163.40 L290.21,163.40 L290.94,163.40 L291.67,163.40 L292.40,163.40 L293.13,163.40 L293.86,163.40 L294.58,163.40 L295.31,163.40 L296.04,163.40 L296.77,163.40 L297.50,163.40" fill="none" stroke="#0a2aff" stroke-width="1.4" stroke-linejoin="round" clip-path="url(#ca2)" />
<path d="M42.40,163.40 L43.13,163.40 L43.86,163.40 L44.59,163.40 L45.32,163.40 L46.04,163.40 L46.77,163.40 L47.50,163.40 L48.23,163.40 L48.96,163.40 L49.69,163.40 L50.42,163.40 L51.15,163.40 L51.88,163.40 L52.60,163.40 L53.33,163.40 L54.06,163.40 L54.79,163.40 L55.52,163.40 L56.25,163.40 L56.98,163.40 L57.71,163.40 L58.43,163.40 L59.16,163.40 L59.89,163.39 L60.62,163.39 L61.35,163.39 L62.08,163.38 L62.81,163.38 L63.54,163.37 L64.27,163.37 L64.99,163.35 L65.72,163.34 L66.45,163.32 L67.18,163.30 L67.91,163.28 L68.64,163.24 L69.37,163.20 L70.10,163.15 L70.83,163.09 L71.55,163.01 L72.28,162.91 L73.01,162.80 L73.74,162.66 L74.47,162.49 L75.20,162.29 L75.93,162.05 L76.66,161.76 L77.39,161.43 L78.11,161.04 L78.84,160.58 L79.57,160.06 L80.30,159.45 L81.03,158.75 L81.76,157.95 L82.49,157.05 L83.22,156.03 L83.94,154.89 L84.67,153.61 L85.40,152.20 L86.13,150.64 L86.86,148.94 L87.59,147.08 L88.32,145.07 L89.05,142.91 L89.78,140.61 L90.50,138.16 L91.23,135.59 L91.96,132.89 L92.69,130.10 L93.42,127.23 L94.15,124.30 L94.88,121.34 L95.61,118.38 L96.34,115.45 L97.06,112.59 L97.79,109.83 L98.52,107.21 L99.25,104.76 L99.98,102.53 L100.71,100.56 L101.44,98.87 L102.17,97.51 L102.90,96.50 L103.62,95.88 L104.35,95.66 L105.08,95.86 L105.81,96.51 L106.54,97.59 L107.27,99.12 L108.00,101.10 L108.73,103.50 L109.45,106.32 L110.18,109.52 L110.91,113.09 L111.64,116.99 L112.37,121.19 L113.10,125.64 L113.83,130.30 L114.56,135.12 L115.29,140.07 L116.01,145.09 L116.74,150.14 L117.47,155.17 L118.20,160.14 L118.93,165.01 L119.66,169.75 L120.39,174.31 L121.12,178.67 L121.85,182.80 L122.57,186.67 L123.30,190.29 L124.03,193.61 L124.76,196.65 L125.49,199.39 L126.22,201.83 L126.95,203.98 L127.68,205.82 L128.41,207.39 L129.13,208.68 L129.86,209.70 L130.59,210.47 L131.32,211.00 L132.05,211.31 L132.78,211.42 L133.51,211.34 L134.24,211.08 L134.96,210.67 L135.69,210.11 L136.42,209.43 L137.15,208.64 L137.88,207.76 L138.61,206.79 L139.34,205.75 L140.07,204.66 L140.80,203.52 L141.52,202.34 L142.25,201.13 L142.98,199.90 L143.71,198.66 L144.44,197.42 L145.17,196.17 L145.90,194.94 L146.63,193.71 L147.36,192.50 L148.08,191.30 L148.81,190.13 L149.54,188.98 L150.27,187.86 L151.00,186.76 L151.73,185.70 L152.46,184.67 L153.19,183.66 L153.92,182.69 L154.64,181.76 L155.37,180.85 L156.10,179.98 L156.83,179.14 L157.56,178.34 L158.29,177.57 L159.02,176.82 L159.75,176.11 L160.47,175.43 L161.20,174.79 L161.93,174.17 L162.66,173.57 L163.39,173.01 L164.12,172.47 L164.85,171.96 L165.58,171.48 L166.31,171.01 L167.03,170.58 L167.76,170.16 L168.49,169.76 L169.22,169.39 L169.95,169.04 L170.68,168.70 L171.41,168.38 L172.14,168.08 L172.87,167.80 L173.59,167.53 L174.32,167.28 L175.05,167.04 L175.78,166.81 L176.51,166.60 L177.24,166.40 L177.97,166.21 L178.70,166.04 L179.43,165.87 L180.15,165.71 L180.88,165.57 L181.61,165.43 L182.34,165.30 L183.07,165.17 L183.80,165.06 L184.53,164.95 L185.26,164.85 L185.98,164.76 L186.71,164.67 L187.44,164.58 L188.17,164.51 L188.90,164.43 L189.63,164.36 L190.36,164.30 L191.09,164.24 L191.82,164.18 L192.54,164.13 L193.27,164.08 L194.00,164.04 L194.73,163.99 L195.46,163.95 L196.19,163.91 L196.92,163.88 L197.65,163.85 L198.38,163.82 L199.10,163.79 L199.83,163.76 L200.56,163.74 L201.29,163.71 L202.02,163.69 L202.75,163.67 L203.48,163.65 L204.21,163.63 L204.94,163.62 L205.66,163.60 L206.39,163.59 L207.12,163.58 L207.85,163.56 L208.58,163.55 L209.31,163.54 L210.04,163.53 L210.77,163.52 L211.49,163.51 L212.22,163.50 L212.95,163.50 L213.68,163.49 L214.41,163.48 L215.14,163.48 L215.87,163.47 L216.60,163.47 L217.33,163.46 L218.05,163.46 L218.78,163.45 L219.51,163.45 L220.24,163.45 L220.97,163.44 L221.70,163.44 L222.43,163.44 L223.16,163.43 L223.89,163.43 L224.61,163.43 L225.34,163.43 L226.07,163.43 L226.80,163.42 L227.53,163.42 L228.26,163.42 L228.99,163.42 L229.72,163.42 L230.45,163.42 L231.17,163.41 L231.90,163.41 L232.63,163.41 L233.36,163.41 L234.09,163.41 L234.82,163.41 L235.55,163.41 L236.28,163.41 L237.00,163.41 L237.73,163.41 L238.46,163.41 L239.19,163.41 L239.92,163.41 L240.65,163.41 L241.38,163.41 L242.11,163.40 L242.84,163.40 L243.56,163.40 L244.29,163.40 L245.02,163.40 L245.75,163.40 L246.48,163.40 L247.21,163.40 L247.94,163.40 L248.67,163.40 L249.40,163.40 L250.12,163.40 L250.85,163.40 L251.58,163.40 L252.31,163.40 L253.04,163.40 L253.77,163.40 L254.50,163.40 L255.23,163.40 L255.96,163.40 L256.68,163.40 L257.41,163.40 L258.14,163.40 L258.87,163.40 L259.60,163.40 L260.33,163.40 L261.06,163.40 L261.79,163.40 L262.51,163.40 L263.24,163.40 L263.97,163.40 L264.70,163.40 L265.43,163.40 L266.16,163.40 L266.89,163.40 L267.62,163.40 L268.35,163.40 L269.07,163.40 L269.80,163.40 L270.53,163.40 L271.26,163.40 L271.99,163.40 L272.72,163.40 L273.45,163.40 L274.18,163.40 L274.91,163.40 L275.63,163.40 L276.36,163.40 L277.09,163.40 L277.82,163.40 L278.55,163.40 L279.28,163.40 L280.01,163.40 L280.74,163.40 L281.47,163.40 L282.19,163.40 L282.92,163.40 L283.65,163.40 L284.38,163.40 L285.11,163.40 L285.84,163.40 L286.57,163.40 L287.30,163.40 L288.02,163.40 L288.75,163.40 L289.48,163.40 L290.21,163.40 L290.94,163.40 L291.67,163.40 L292.40,163.40 L293.13,163.40 L293.86,163.40 L294.58,163.40 L295.31,163.40 L296.04,163.40 L296.77,163.40 L297.50,163.40" fill="none" stroke="#3c26c8" stroke-width="1.4" stroke-linejoin="round" clip-path="url(#ca2)" />
<path d="M42.40,163.40 L43.13,163.40 L43.86,163.40 L44.59,163.40 L45.32,163.40 L46.04,163.40 L46.77,163.40 L47.50,163.40 L48.23,163.40 L48.96,163.40 L49.69,163.40 L50.42,163.40 L51.15,163.40 L51.88,163.40 L52.60,163.40 L53.33,163.40 L54.06,163.40 L54.79,163.40 L55.52,163.40 L56.25,163.40 L56.98,163.40 L57.71,163.40 L58.43,163.40 L59.16,163.40 L59.89,163.39 L60.62,163.39 L61.35,163.39 L62.08,163.38 L62.81,163.38 L63.54,163.37 L64.27,163.37 L64.99,163.35 L65.72,163.34 L66.45,163.32 L67.18,163.30 L67.91,163.28 L68.64,163.24 L69.37,163.20 L70.10,163.15 L70.83,163.08 L71.55,163.01 L72.28,162.91 L73.01,162.79 L73.74,162.65 L74.47,162.48 L75.20,162.28 L75.93,162.04 L76.66,161.75 L77.39,161.42 L78.11,161.02 L78.84,160.56 L79.57,160.03 L80.30,159.41 L81.03,158.71 L81.76,157.90 L82.49,156.98 L83.22,155.94 L83.94,154.78 L84.67,153.48 L85.40,152.04 L86.13,150.44 L86.86,148.69 L87.59,146.78 L88.32,144.71 L89.05,142.48 L89.78,140.09 L90.50,137.55 L91.23,134.86 L91.96,132.04 L92.69,129.10 L93.42,126.06 L94.15,122.94 L94.88,119.77 L95.61,116.57 L96.34,113.37 L97.06,110.22 L97.79,107.13 L98.52,104.15 L99.25,101.32 L99.98,98.67 L100.71,96.24 L101.44,94.07 L102.17,92.19 L102.90,90.63 L103.62,89.42 L104.35,88.59 L105.08,88.15 L105.81,88.13 L106.54,88.53 L107.27,89.35 L108.00,90.61 L108.73,92.28 L109.45,94.37 L110.18,96.84 L110.91,99.68 L111.64,102.87 L112.37,106.37 L113.10,110.14 L113.83,114.16 L114.56,118.38 L115.29,122.76 L116.01,127.26 L116.74,131.83 L117.47,136.45 L118.20,141.07 L118.93,145.65 L119.66,150.17 L120.39,154.58 L121.12,158.86 L121.85,162.99 L122.57,166.95 L123.30,170.71 L124.03,174.26 L124.76,177.60 L125.49,180.71 L126.22,183.60 L126.95,186.25 L127.68,188.68 L128.41,190.88 L129.13,192.85 L129.86,194.62 L130.59,196.18 L131.32,197.55 L132.05,198.73 L132.78,199.73 L133.51,200.58 L134.24,201.27 L134.96,201.82 L135.69,202.24 L136.42,202.54 L137.15,202.74 L137.88,202.83 L138.61,202.84 L139.34,202.76 L140.07,202.61 L140.80,202.40 L141.52,202.12 L142.25,201.79 L142.98,201.42 L143.71,201.00 L144.44,200.55 L145.17,200.07 L145.90,199.55 L146.63,199.02 L147.36,198.46 L148.08,197.88 L148.81,197.28 L149.54,196.68 L150.27,196.06 L151.00,195.43 L151.73,194.80 L152.46,194.16 L153.19,193.52 L153.92,192.87 L154.64,192.23 L155.37,191.58 L156.10,190.94 L156.83,190.30 L157.56,189.66 L158.29,189.02 L159.02,188.39 L159.75,187.77 L160.47,187.15 L161.20,186.54 L161.93,185.94 L162.66,185.34 L163.39,184.75 L164.12,184.18 L164.85,183.61 L165.58,183.05 L166.31,182.50 L167.03,181.96 L167.76,181.42 L168.49,180.90 L169.22,180.39 L169.95,179.89 L170.68,179.40 L171.41,178.92 L172.14,178.46 L172.87,178.00 L173.59,177.55 L174.32,177.11 L175.05,176.69 L175.78,176.27 L176.51,175.86 L177.24,175.47 L177.97,175.08 L178.70,174.71 L179.43,174.34 L180.15,173.98 L180.88,173.64 L181.61,173.30 L182.34,172.97 L183.07,172.65 L183.80,172.34 L184.53,172.04 L185.26,171.75 L185.98,171.47 L186.71,171.19 L187.44,170.93 L188.17,170.67 L188.90,170.42 L189.63,170.17 L190.36,169.94 L191.09,169.71 L191.82,169.49 L192.54,169.27 L193.27,169.06 L194.00,168.86 L194.73,168.67 L195.46,168.48 L196.19,168.30 L196.92,168.12 L197.65,167.95 L198.38,167.78 L199.10,167.62 L199.83,167.47 L200.56,167.32 L201.29,167.18 L202.02,167.04 L202.75,166.90 L203.48,166.77 L204.21,166.65 L204.94,166.53 L205.66,166.41 L206.39,166.30 L207.12,166.19 L207.85,166.08 L208.58,165.98 L209.31,165.88 L210.04,165.79 L210.77,165.70 L211.49,165.61 L212.22,165.53 L212.95,165.45 L213.68,165.37 L214.41,165.29 L215.14,165.22 L215.87,165.15 L216.60,165.08 L217.33,165.02 L218.05,164.95 L218.78,164.89 L219.51,164.83 L220.24,164.78 L220.97,164.72 L221.70,164.67 L222.43,164.62 L223.16,164.57 L223.89,164.53 L224.61,164.48 L225.34,164.44 L226.07,164.40 L226.80,164.36 L227.53,164.32 L228.26,164.28 L228.99,164.25 L229.72,164.21 L230.45,164.18 L231.17,164.15 L231.90,164.12 L232.63,164.09 L233.36,164.06 L234.09,164.04 L234.82,164.01 L235.55,163.99 L236.28,163.96 L237.00,163.94 L237.73,163.92 L238.46,163.90 L239.19,163.88 L239.92,163.86 L240.65,163.84 L241.38,163.82 L242.11,163.80 L242.84,163.79 L243.56,163.77 L244.29,163.76 L245.02,163.74 L245.75,163.73 L246.48,163.71 L247.21,163.70 L247.94,163.69 L248.67,163.68 L249.40,163.66 L250.12,163.65 L250.85,163.64 L251.58,163.63 L252.31,163.62 L253.04,163.61 L253.77,163.61 L254.50,163.60 L255.23,163.59 L255.96,163.58 L256.68,163.57 L257.41,163.57 L258.14,163.56 L258.87,163.55 L259.60,163.55 L260.33,163.54 L261.06,163.53 L261.79,163.53 L262.51,163.52 L263.24,163.52 L263.97,163.51 L264.70,163.51 L265.43,163.50 L266.16,163.50 L266.89,163.49 L267.62,163.49 L268.35,163.49 L269.07,163.48 L269.80,163.48 L270.53,163.48 L271.26,163.47 L271.99,163.47 L272.72,163.47 L273.45,163.46 L274.18,163.46 L274.91,163.46 L275.63,163.46 L276.36,163.45 L277.09,163.45 L277.82,163.45 L278.55,163.45 L279.28,163.45 L280.01,163.44 L280.74,163.44 L281.47,163.44 L282.19,163.44 L282.92,163.44 L283.65,163.43 L284.38,163.43 L285.11,163.43 L285.84,163.43 L286.57,163.43 L287.30,163.43 L288.02,163.43 L288.75,163.43 L289.48,163.42 L290.21,163.42 L290.94,163.42 L291.67,163.42 L292.40,163.42 L293.13,163.42 L293.86,163.42 L294.58,163.42 L295.31,163.42 L296.04,163.42 L296.77,163.42 L297.50,163.41" fill="none" stroke="#7a1e86" stroke-width="1.4" stroke-linejoin="round" clip-path="url(#ca2)" />
<path d="M42.40,163.40 L43.13,163.40 L43.86,163.40 L44.59,163.40 L45.32,163.40 L46.04,163.40 L46.77,163.40 L47.50,163.40 L48.23,163.40 L48.96,163.40 L49.69,163.40 L50.42,163.40 L51.15,163.40 L51.88,163.40 L52.60,163.40 L53.33,163.40 L54.06,163.40 L54.79,163.40 L55.52,163.40 L56.25,163.40 L56.98,163.40 L57.71,163.40 L58.43,163.40 L59.16,163.40 L59.89,163.39 L60.62,163.39 L61.35,163.39 L62.08,163.38 L62.81,163.38 L63.54,163.37 L64.27,163.37 L64.99,163.36 L65.72,163.34 L66.45,163.33 L67.18,163.30 L67.91,163.28 L68.64,163.25 L69.37,163.20 L70.10,163.15 L70.83,163.09 L71.55,163.01 L72.28,162.92 L73.01,162.81 L73.74,162.67 L74.47,162.50 L75.20,162.30 L75.93,162.07 L76.66,161.79 L77.39,161.46 L78.11,161.07 L78.84,160.62 L79.57,160.10 L80.30,159.50 L81.03,158.80 L81.76,158.01 L82.49,157.12 L83.22,156.10 L83.94,154.96 L84.67,153.69 L85.40,152.27 L86.13,150.71 L86.86,148.99 L87.59,147.12 L88.32,145.08 L89.05,142.89 L89.78,140.53 L90.50,138.02 L91.23,135.37 L91.96,132.58 L92.69,129.66 L93.42,126.64 L94.15,123.53 L94.88,120.36 L95.61,117.15 L96.34,113.93 L97.06,110.73 L97.79,107.59 L98.52,104.53 L99.25,101.59 L99.98,98.81 L100.71,96.23 L101.44,93.87 L102.17,91.77 L102.90,89.96 L103.62,88.47 L104.35,87.32 L105.08,86.53 L105.81,86.11 L106.54,86.09 L107.27,86.46 L108.00,87.22 L108.73,88.38 L109.45,89.91 L110.18,91.82 L110.91,94.07 L111.64,96.65 L112.37,99.52 L113.10,102.67 L113.83,106.05 L114.56,109.64 L115.29,113.39 L116.01,117.27 L116.74,121.25 L117.47,125.30 L118.20,129.37 L118.93,133.43 L119.66,137.46 L120.39,141.42 L121.12,145.30 L121.85,149.07 L122.57,152.71 L123.30,156.21 L124.03,159.55 L124.76,162.72 L125.49,165.72 L126.22,168.55 L126.95,171.19 L127.68,173.66 L128.41,175.95 L129.13,178.06 L129.86,180.01 L130.59,181.80 L131.32,183.44 L132.05,184.93 L132.78,186.28 L133.51,187.51 L134.24,188.61 L134.96,189.60 L135.69,190.48 L136.42,191.27 L137.15,191.97 L137.88,192.59 L138.61,193.13 L139.34,193.60 L140.07,194.01 L140.80,194.36 L141.52,194.65 L142.25,194.90 L142.98,195.10 L143.71,195.25 L144.44,195.36 L145.17,195.44 L145.90,195.48 L146.63,195.49 L147.36,195.47 L148.08,195.42 L148.81,195.34 L149.54,195.24 L150.27,195.11 L151.00,194.96 L151.73,194.79 L152.46,194.61 L153.19,194.40 L153.92,194.17 L154.64,193.93 L155.37,193.67 L156.10,193.40 L156.83,193.11 L157.56,192.81 L158.29,192.50 L159.02,192.18 L159.75,191.85 L160.47,191.51 L161.20,191.16 L161.93,190.80 L162.66,190.44 L163.39,190.07 L164.12,189.69 L164.85,189.31 L165.58,188.92 L166.31,188.53 L167.03,188.14 L167.76,187.74 L168.49,187.34 L169.22,186.94 L169.95,186.54 L170.68,186.14 L171.41,185.74 L172.14,185.33 L172.87,184.93 L173.59,184.53 L174.32,184.13 L175.05,183.73 L175.78,183.34 L176.51,182.94 L177.24,182.55 L177.97,182.17 L178.70,181.78 L179.43,181.40 L180.15,181.02 L180.88,180.64 L181.61,180.27 L182.34,179.91 L183.07,179.54 L183.80,179.19 L184.53,178.83 L185.26,178.48 L185.98,178.14 L186.71,177.80 L187.44,177.46 L188.17,177.13 L188.90,176.81 L189.63,176.49 L190.36,176.18 L191.09,175.87 L191.82,175.56 L192.54,175.26 L193.27,174.97 L194.00,174.68 L194.73,174.40 L195.46,174.12 L196.19,173.85 L196.92,173.58 L197.65,173.32 L198.38,173.06 L199.10,172.81 L199.83,172.56 L200.56,172.32 L201.29,172.09 L202.02,171.85 L202.75,171.63 L203.48,171.41 L204.21,171.19 L204.94,170.98 L205.66,170.77 L206.39,170.57 L207.12,170.37 L207.85,170.18 L208.58,169.99 L209.31,169.80 L210.04,169.62 L210.77,169.45 L211.49,169.28 L212.22,169.11 L212.95,168.95 L213.68,168.79 L214.41,168.63 L215.14,168.48 L215.87,168.34 L216.60,168.19 L217.33,168.05 L218.05,167.92 L218.78,167.78 L219.51,167.65 L220.24,167.53 L220.97,167.40 L221.70,167.29 L222.43,167.17 L223.16,167.06 L223.89,166.95 L224.61,166.84 L225.34,166.74 L226.07,166.63 L226.80,166.54 L227.53,166.44 L228.26,166.35 L228.99,166.26 L229.72,166.17 L230.45,166.08 L231.17,166.00 L231.90,165.92 L232.63,165.84 L233.36,165.76 L234.09,165.69 L234.82,165.62 L235.55,165.55 L236.28,165.48 L237.00,165.42 L237.73,165.35 L238.46,165.29 L239.19,165.23 L239.92,165.17 L240.65,165.11 L241.38,165.06 L242.11,165.01 L242.84,164.95 L243.56,164.90 L244.29,164.86 L245.02,164.81 L245.75,164.76 L246.48,164.72 L247.21,164.68 L247.94,164.63 L248.67,164.59 L249.40,164.56 L250.12,164.52 L250.85,164.48 L251.58,164.45 L252.31,164.41 L253.04,164.38 L253.77,164.34 L254.50,164.31 L255.23,164.28 L255.96,164.25 L256.68,164.23 L257.41,164.20 L258.14,164.17 L258.87,164.15 L259.60,164.12 L260.33,164.10 L261.06,164.07 L261.79,164.05 L262.51,164.03 L263.24,164.01 L263.97,163.99 L264.70,163.97 L265.43,163.95 L266.16,163.93 L266.89,163.91 L267.62,163.89 L268.35,163.88 L269.07,163.86 L269.80,163.84 L270.53,163.83 L271.26,163.81 L271.99,163.80 L272.72,163.79 L273.45,163.77 L274.18,163.76 L274.91,163.75 L275.63,163.74 L276.36,163.72 L277.09,163.71 L277.82,163.70 L278.55,163.69 L279.28,163.68 L280.01,163.67 L280.74,163.66 L281.47,163.65 L282.19,163.64 L282.92,163.64 L283.65,163.63 L284.38,163.62 L285.11,163.61 L285.84,163.60 L286.57,163.60 L287.30,163.59 L288.02,163.58 L288.75,163.58 L289.48,163.57 L290.21,163.56 L290.94,163.56 L291.67,163.55 L292.40,163.55 L293.13,163.54 L293.86,163.54 L294.58,163.53 L295.31,163.53 L296.04,163.52 L296.77,163.52 L297.50,163.51" fill="none" stroke="#c0304c" stroke-width="1.4" stroke-linejoin="round" clip-path="url(#ca2)" />
<path d="M42.40,163.40 L43.13,163.40 L43.86,163.40 L44.59,163.40 L45.32,163.40 L46.04,163.40 L46.77,163.40 L47.50,163.40 L48.23,163.40 L48.96,163.40 L49.69,163.40 L50.42,163.40 L51.15,163.40 L51.88,163.40 L52.60,163.40 L53.33,163.40 L54.06,163.40 L54.79,163.40 L55.52,163.40 L56.25,163.40 L56.98,163.40 L57.71,163.40 L58.43,163.40 L59.16,163.40 L59.89,163.39 L60.62,163.39 L61.35,163.39 L62.08,163.39 L62.81,163.38 L63.54,163.37 L64.27,163.37 L64.99,163.36 L65.72,163.34 L66.45,163.33 L67.18,163.31 L67.91,163.28 L68.64,163.25 L69.37,163.21 L70.10,163.16 L70.83,163.10 L71.55,163.02 L72.28,162.93 L73.01,162.82 L73.74,162.69 L74.47,162.52 L75.20,162.33 L75.93,162.10 L76.66,161.82 L77.39,161.50 L78.11,161.12 L78.84,160.68 L79.57,160.16 L80.30,159.57 L81.03,158.89 L81.76,158.11 L82.49,157.22 L83.22,156.22 L83.94,155.09 L84.67,153.83 L85.40,152.43 L86.13,150.88 L86.86,149.18 L87.59,147.32 L88.32,145.29 L89.05,143.11 L89.78,140.76 L90.50,138.26 L91.23,135.61 L91.96,132.81 L92.69,129.89 L93.42,126.86 L94.15,123.73 L94.88,120.53 L95.61,117.29 L96.34,114.02 L97.06,110.77 L97.79,107.56 L98.52,104.42 L99.25,101.39 L99.98,98.51 L100.71,95.81 L101.44,93.32 L102.17,91.07 L102.90,89.10 L103.62,87.43 L104.35,86.09 L105.08,85.09 L105.81,84.46 L106.54,84.20 L107.27,84.33 L108.00,84.83 L108.73,85.72 L109.45,86.97 L110.18,88.59 L110.91,90.54 L111.64,92.82 L112.37,95.38 L113.10,98.22 L113.83,101.29 L114.56,104.56 L115.29,108.00 L116.01,111.57 L116.74,115.25 L117.47,118.99 L118.20,122.76 L118.93,126.54 L119.66,130.29 L120.39,133.99 L121.12,137.62 L121.85,141.14 L122.57,144.56 L123.30,147.84 L124.03,150.99 L124.76,153.99 L125.49,156.83 L126.22,159.51 L126.95,162.03 L127.68,164.39 L128.41,166.59 L129.13,168.64 L129.86,170.54 L130.59,172.30 L131.32,173.93 L132.05,175.43 L132.78,176.81 L133.51,178.08 L134.24,179.25 L134.96,180.33 L135.69,181.32 L136.42,182.23 L137.15,183.06 L137.88,183.83 L138.61,184.54 L139.34,185.19 L140.07,185.79 L140.80,186.35 L141.52,186.86 L142.25,187.33 L142.98,187.77 L143.71,188.17 L144.44,188.54 L145.17,188.89 L145.90,189.20 L146.63,189.49 L147.36,189.75 L148.08,189.99 L148.81,190.20 L149.54,190.40 L150.27,190.57 L151.00,190.72 L151.73,190.85 L152.46,190.96 L153.19,191.05 L153.92,191.12 L154.64,191.17 L155.37,191.21 L156.10,191.23 L156.83,191.23 L157.56,191.22 L158.29,191.19 L159.02,191.14 L159.75,191.08 L160.47,191.01 L161.20,190.92 L161.93,190.81 L162.66,190.70 L163.39,190.57 L164.12,190.43 L164.85,190.28 L165.58,190.12 L166.31,189.94 L167.03,189.76 L167.76,189.57 L168.49,189.36 L169.22,189.15 L169.95,188.93 L170.68,188.71 L171.41,188.47 L172.14,188.23 L172.87,187.98 L173.59,187.73 L174.32,187.47 L175.05,187.20 L175.78,186.93 L176.51,186.66 L177.24,186.38 L177.97,186.10 L178.70,185.81 L179.43,185.52 L180.15,185.23 L180.88,184.94 L181.61,184.64 L182.34,184.34 L183.07,184.05 L183.80,183.75 L184.53,183.44 L185.26,183.14 L185.98,182.84 L186.71,182.54 L187.44,182.24 L188.17,181.93 L188.90,181.63 L189.63,181.33 L190.36,181.03 L191.09,180.73 L191.82,180.44 L192.54,180.14 L193.27,179.85 L194.00,179.56 L194.73,179.27 L195.46,178.98 L196.19,178.69 L196.92,178.41 L197.65,178.13 L198.38,177.85 L199.10,177.57 L199.83,177.30 L200.56,177.03 L201.29,176.76 L202.02,176.50 L202.75,176.23 L203.48,175.98 L204.21,175.72 L204.94,175.47 L205.66,175.22 L206.39,174.97 L207.12,174.73 L207.85,174.49 L208.58,174.26 L209.31,174.02 L210.04,173.80 L210.77,173.57 L211.49,173.35 L212.22,173.13 L212.95,172.91 L213.68,172.70 L214.41,172.49 L215.14,172.29 L215.87,172.09 L216.60,171.89 L217.33,171.70 L218.05,171.51 L218.78,171.32 L219.51,171.13 L220.24,170.95 L220.97,170.78 L221.70,170.60 L222.43,170.43 L223.16,170.26 L223.89,170.10 L224.61,169.94 L225.34,169.78 L226.07,169.63 L226.80,169.47 L227.53,169.32 L228.26,169.18 L228.99,169.04 L229.72,168.90 L230.45,168.76 L231.17,168.63 L231.90,168.49 L232.63,168.37 L233.36,168.24 L234.09,168.12 L234.82,168.00 L235.55,167.88 L236.28,167.77 L237.00,167.65 L237.73,167.54 L238.46,167.44 L239.19,167.33 L239.92,167.23 L240.65,167.13 L241.38,167.03 L242.11,166.93 L242.84,166.84 L243.56,166.75 L244.29,166.66 L245.02,166.57 L245.75,166.49 L246.48,166.41 L247.21,166.32 L247.94,166.25 L248.67,166.17 L249.40,166.09 L250.12,166.02 L250.85,165.95 L251.58,165.88 L252.31,165.81 L253.04,165.74 L253.77,165.68 L254.50,165.62 L255.23,165.56 L255.96,165.50 L256.68,165.44 L257.41,165.38 L258.14,165.32 L258.87,165.27 L259.60,165.22 L260.33,165.17 L261.06,165.12 L261.79,165.07 L262.51,165.02 L263.24,164.98 L263.97,164.93 L264.70,164.89 L265.43,164.84 L266.16,164.80 L266.89,164.76 L267.62,164.72 L268.35,164.68 L269.07,164.65 L269.80,164.61 L270.53,164.58 L271.26,164.54 L271.99,164.51 L272.72,164.48 L273.45,164.45 L274.18,164.41 L274.91,164.38 L275.63,164.36 L276.36,164.33 L277.09,164.30 L277.82,164.27 L278.55,164.25 L279.28,164.22 L280.01,164.20 L280.74,164.17 L281.47,164.15 L282.19,164.13 L282.92,164.11 L283.65,164.09 L284.38,164.07 L285.11,164.05 L285.84,164.03 L286.57,164.01 L287.30,163.99 L288.02,163.97 L288.75,163.95 L289.48,163.94 L290.21,163.92 L290.94,163.90 L291.67,163.89 L292.40,163.87 L293.13,163.86 L293.86,163.85 L294.58,163.83 L295.31,163.82 L296.04,163.81 L296.77,163.79 L297.50,163.78" fill="none" stroke="#ff1c10" stroke-width="1.4" stroke-linejoin="round" clip-path="url(#ca2)" />
<path d="M42.88,555.94 L42.98,527.01 L43.08,511.26 L43.18,500.38 L43.28,492.06 L43.38,485.31 L43.48,479.65 L43.58,474.76 L43.68,470.47 L43.78,466.63 L43.88,463.17 L43.98,460.02 L44.08,457.12 L44.18,454.44 L44.28,451.95 L44.38,449.63 L44.48,447.44 L44.58,445.38 L44.68,443.44 L44.78,441.59 L44.88,439.84 L44.98,438.17 L45.08,436.57 L45.18,435.04 L45.28,433.58 L45.38,432.17 L45.48,430.82 L45.58,429.52 L45.68,428.26 L45.78,427.05 L45.88,425.88 L45.98,424.74 L46.08,423.64 L46.18,422.57 L46.28,421.54 L46.38,420.53 L46.48,419.55 L46.58,418.60 L46.68,417.67 L46.78,416.77 L46.88,415.89 L46.98,415.03 L47.08,414.19 L47.18,413.37 L47.28,412.57 L47.38,411.78 L47.48,411.02 L47.58,410.27 L47.68,409.53 L47.78,408.82 L47.88,408.11 L47.98,407.42 L48.08,406.74 L48.18,406.08 L48.28,405.43 L48.38,404.79 L48.48,404.16 L48.58,403.54 L48.68,402.93 L48.78,402.34 L48.88,401.75 L48.98,401.17 L49.08,400.61 L49.18,400.05 L49.28,399.50 L49.38,398.96 L49.48,398.42 L49.58,397.90 L49.68,397.38 L49.78,396.87 L49.88,396.37 L49.98,395.88 L50.08,395.39 L50.18,394.91 L50.28,394.43 L50.38,393.97 L50.48,393.51 L50.58,393.05 L50.68,392.60 L50.78,392.16 L50.78,392.16 L51.62,388.65 L52.46,385.47 L53.30,382.56 L54.14,379.89 L54.98,377.42 L55.82,375.12 L56.65,372.97 L57.49,370.96 L58.33,369.07 L59.17,367.29 L60.01,365.61 L60.85,364.01 L61.68,362.50 L62.52,361.07 L63.36,359.70 L64.20,358.40 L65.04,357.15 L65.88,355.96 L66.72,354.83 L67.55,353.74 L68.39,352.70 L69.23,351.70 L70.07,350.74 L70.91,349.82 L71.75,348.94 L72.59,348.09 L73.42,347.27 L74.26,346.49 L75.10,345.73 L75.94,345.01 L76.78,344.31 L77.62,343.64 L78.45,342.99 L79.29,342.37 L80.13,341.77 L80.97,341.19 L81.81,340.64 L82.65,340.11 L83.49,339.60 L84.32,339.10 L85.16,338.63 L86.00,338.18 L86.84,337.74 L87.68,337.32 L88.52,336.92 L89.36,336.54 L90.19,336.17 L91.03,335.81 L91.87,335.48 L92.71,335.15 L93.55,334.85 L94.39,334.55 L95.22,334.27 L96.06,334.01 L96.90,333.76 L97.74,333.52 L98.58,333.29 L99.42,333.08 L100.26,332.88 L101.09,332.69 L101.93,332.51 L102.77,332.35 L103.61,332.19 L104.45,332.05 L105.29,331.92 L106.12,331.80 L106.96,331.69 L107.80,331.59 L108.64,331.50 L109.48,331.43 L110.32,331.36 L111.16,331.30 L111.99,331.25 L112.83,331.21 L113.67,331.19 L114.51,331.17 L115.35,331.16 L116.19,331.16 L117.03,331.17 L117.86,331.18 L118.70,331.21 L119.54,331.24 L120.38,331.29 L121.22,331.34 L122.06,331.40 L122.89,331.47 L123.73,331.55 L124.57,331.64 L125.41,331.73 L126.25,331.83 L127.09,331.94 L127.93,332.06 L128.76,332.19 L129.60,332.32 L130.44,332.46 L131.28,332.61 L132.12,332.77 L132.96,332.93 L133.80,333.11 L134.63,333.28 L135.47,333.47 L136.31,333.66 L137.15,333.86 L137.99,334.07 L138.83,334.29 L139.66,334.51 L140.50,334.74 L141.34,334.97 L142.18,335.22 L143.02,335.47 L143.86,335.72 L144.70,335.98 L145.53,336.25 L146.37,336.53 L147.21,336.81 L148.05,337.10 L148.89,337.40 L149.73,337.70 L150.57,338.01 L151.40,338.32 L152.24,338.64 L153.08,338.97 L153.92,339.30 L154.76,339.64 L155.60,339.99 L156.43,340.34 L157.27,340.70 L158.11,341.06 L158.95,341.43 L159.79,341.81 L160.63,342.19 L161.47,342.57 L162.30,342.97 L163.14,343.37 L163.98,343.77 L164.82,344.18 L165.66,344.60 L166.50,345.02 L167.33,345.45 L168.17,345.88 L169.01,346.32 L169.85,346.77 L170.69,347.22 L171.53,347.67 L172.37,348.13 L173.20,348.60 L174.04,349.07 L174.88,349.55 L175.72,350.03 L176.56,350.52 L177.40,351.02 L178.24,351.52 L179.07,352.02 L179.91,352.53 L180.75,353.05 L181.59,353.57 L182.43,354.09 L183.27,354.62 L184.10,355.16 L184.94,355.70 L185.78,356.24 L186.62,356.80 L187.46,357.35 L188.30,357.91 L189.14,358.48 L189.97,359.05 L190.81,359.63 L191.65,360.21 L192.49,360.79 L193.33,361.39 L194.17,361.98 L195.01,362.58 L195.84,363.19 L196.68,363.80 L197.52,364.42 L198.36,365.04 L199.20,365.66 L200.04,366.29 L200.87,366.93 L201.71,367.57 L202.55,368.21 L203.39,368.86 L204.23,369.51 L205.07,370.17 L205.91,370.84 L206.74,371.50 L207.58,372.18 L208.42,372.85 L209.26,373.53 L210.10,374.22 L210.94,374.91 L211.78,375.61 L212.61,376.31 L213.45,377.01 L214.29,377.72 L215.13,378.44 L215.97,379.15 L216.81,379.88 L217.64,380.60 L218.48,381.34 L219.32,382.07 L220.16,382.81 L221.00,383.56 L221.84,384.31 L222.68,385.06 L223.51,385.82 L224.35,386.58 L225.19,387.35 L226.03,388.12 L226.87,388.90 L227.71,389.68 L228.54,390.46 L229.38,391.25 L230.22,392.04 L231.06,392.84 L231.90,393.64 L232.74,394.45 L233.58,395.26 L234.41,396.07 L235.25,396.89 L236.09,397.71 L236.93,398.54 L237.77,399.37 L238.61,400.21 L239.45,401.05 L240.28,401.89 L241.12,402.74 L241.96,403.59 L242.80,404.45 L243.64,405.31 L244.48,406.17 L245.31,407.04 L246.15,407.91 L246.99,408.79 L247.83,409.67 L248.67,410.56 L249.51,411.45 L250.35,412.34 L251.18,413.24 L252.02,414.14 L252.86,415.04 L253.70,415.95 L254.54,416.86 L255.38,417.78 L256.22,418.70 L257.05,419.63 L257.89,420.56 L258.73,421.49 L259.57,422.43 L260.41,423.37 L261.25,424.32 L262.08,425.27 L262.92,426.22 L263.76,427.18 L264.60,428.14 L265.44,429.10 L266.28,430.07 L267.12,431.04 L267.95,432.02 L268.79,433.00 L269.63,433.99 L270.47,434.97 L271.31,435.97 L272.15,436.96 L272.98,437.96 L273.82,438.97 L274.66,439.97 L275.50,440.99 L276.34,442.00 L277.18,443.02 L278.02,444.04 L278.85,445.07 L279.69,446.10 L280.53,447.14 L281.37,448.17 L282.21,449.22 L283.05,450.26 L283.89,451.31 L284.72,452.37 L285.56,453.42 L286.40,454.48 L287.24,455.55 L288.08,456.62 L288.92,457.69 L289.75,458.77 L290.59,459.85 L291.43,460.93 L292.27,462.02 L293.11,463.11 L293.95,464.20 L294.79,465.30 L295.62,466.41 L296.46,467.51 L297.30,468.62 L298.14,469.74 L298.98,470.85 L299.82,471.97 L300.66,473.10 L301.49,474.23" fill="none" stroke="#0a2aff" stroke-width="1.4" stroke-linejoin="round" clip-path="url(#cb)" />
<path d="M42.88,531.88 L42.98,502.95 L43.08,487.20 L43.18,476.32 L43.28,468.00 L43.38,461.26 L43.48,455.59 L43.58,450.71 L43.68,446.41 L43.78,442.58 L43.88,439.12 L43.98,435.96 L44.08,433.07 L44.18,430.39 L44.28,427.90 L44.38,425.57 L44.48,423.39 L44.58,421.33 L44.68,419.39 L44.78,417.55 L44.88,415.79 L44.98,414.12 L45.08,412.53 L45.18,411.00 L45.28,409.54 L45.38,408.14 L45.48,406.78 L45.58,405.48 L45.68,404.23 L45.78,403.02 L45.88,401.84 L45.98,400.71 L46.08,399.61 L46.18,398.55 L46.28,397.51 L46.38,396.51 L46.48,395.53 L46.58,394.58 L46.68,393.65 L46.78,392.75 L46.88,391.87 L46.98,391.02 L47.08,390.18 L47.18,389.36 L47.28,388.56 L47.38,387.78 L47.48,387.02 L47.58,386.27 L47.68,385.54 L47.78,384.83 L47.88,384.12 L47.98,383.44 L48.08,382.76 L48.18,382.10 L48.28,381.45 L48.38,380.81 L48.48,380.19 L48.58,379.57 L48.68,378.97 L48.78,378.38 L48.88,377.79 L48.98,377.22 L49.08,376.66 L49.18,376.10 L49.28,375.56 L49.38,375.02 L49.48,374.49 L49.58,373.97 L49.68,373.46 L49.78,372.95 L49.88,372.45 L49.98,371.96 L50.08,371.48 L50.18,371.00 L50.28,370.53 L50.38,370.07 L50.48,369.61 L50.58,369.16 L50.68,368.71 L50.78,368.27 L50.78,368.27 L51.62,364.80 L52.46,361.67 L53.30,358.81 L54.14,356.18 L54.98,353.76 L55.82,351.52 L56.65,349.43 L57.49,347.49 L58.33,345.67 L59.17,343.96 L60.01,342.35 L60.85,340.83 L61.68,339.40 L62.52,338.05 L63.36,336.78 L64.20,335.56 L65.04,334.42 L65.88,333.33 L66.72,332.29 L67.55,331.31 L68.39,330.38 L69.23,329.49 L70.07,328.64 L70.91,327.84 L71.75,327.08 L72.59,326.35 L73.42,325.66 L74.26,325.00 L75.10,324.38 L75.94,323.79 L76.78,323.23 L77.62,322.70 L78.45,322.19 L79.29,321.71 L80.13,321.26 L80.97,320.83 L81.81,320.43 L82.65,320.05 L83.49,319.70 L84.32,319.36 L85.16,319.05 L86.00,318.76 L86.84,318.48 L87.68,318.23 L88.52,318.00 L89.36,317.78 L90.19,317.58 L91.03,317.40 L91.87,317.24 L92.71,317.09 L93.55,316.96 L94.39,316.84 L95.22,316.74 L96.06,316.66 L96.90,316.59 L97.74,316.53 L98.58,316.49 L99.42,316.46 L100.26,316.45 L101.09,316.45 L101.93,316.46 L102.77,316.48 L103.61,316.52 L104.45,316.57 L105.29,316.63 L106.12,316.70 L106.96,316.78 L107.80,316.88 L108.64,316.98 L109.48,317.10 L110.32,317.22 L111.16,317.36 L111.99,317.51 L112.83,317.66 L113.67,317.83 L114.51,318.01 L115.35,318.19 L116.19,318.39 L117.03,318.59 L117.86,318.80 L118.70,319.03 L119.54,319.26 L120.38,319.49 L121.22,319.74 L122.06,320.00 L122.89,320.26 L123.73,320.53 L124.57,320.81 L125.41,321.10 L126.25,321.39 L127.09,321.69 L127.93,322.00 L128.76,322.32 L129.60,322.65 L130.44,322.98 L131.28,323.31 L132.12,323.66 L132.96,324.01 L133.80,324.37 L134.63,324.73 L135.47,325.10 L136.31,325.48 L137.15,325.87 L137.99,326.26 L138.83,326.65 L139.66,327.06 L140.50,327.46 L141.34,327.88 L142.18,328.30 L143.02,328.72 L143.86,329.16 L144.70,329.59 L145.53,330.04 L146.37,330.48 L147.21,330.94 L148.05,331.40 L148.89,331.86 L149.73,332.33 L150.57,332.80 L151.40,333.28 L152.24,333.77 L153.08,334.26 L153.92,334.75 L154.76,335.25 L155.60,335.76 L156.43,336.27 L157.27,336.78 L158.11,337.30 L158.95,337.82 L159.79,338.35 L160.63,338.89 L161.47,339.42 L162.30,339.96 L163.14,340.51 L163.98,341.06 L164.82,341.62 L165.66,342.18 L166.50,342.74 L167.33,343.31 L168.17,343.88 L169.01,344.46 L169.85,345.04 L170.69,345.62 L171.53,346.21 L172.37,346.81 L173.20,347.40 L174.04,348.00 L174.88,348.61 L175.72,349.22 L176.56,349.83 L177.40,350.45 L178.24,351.07 L179.07,351.70 L179.91,352.32 L180.75,352.96 L181.59,353.59 L182.43,354.23 L183.27,354.88 L184.10,355.53 L184.94,356.18 L185.78,356.83 L186.62,357.49 L187.46,358.15 L188.30,358.82 L189.14,359.49 L189.97,360.16 L190.81,360.84 L191.65,361.52 L192.49,362.21 L193.33,362.90 L194.17,363.59 L195.01,364.28 L195.84,364.98 L196.68,365.68 L197.52,366.39 L198.36,367.10 L199.20,367.81 L200.04,368.53 L200.87,369.25 L201.71,369.97 L202.55,370.70 L203.39,371.43 L204.23,372.16 L205.07,372.90 L205.91,373.64 L206.74,374.38 L207.58,375.13 L208.42,375.88 L209.26,376.64 L210.10,377.39 L210.94,378.16 L211.78,378.92 L212.61,379.69 L213.45,380.46 L214.29,381.23 L215.13,382.01 L215.97,382.79 L216.81,383.58 L217.64,384.36 L218.48,385.16 L219.32,385.95 L220.16,386.75 L221.00,387.55 L221.84,388.35 L222.68,389.16 L223.51,389.97 L224.35,390.79 L225.19,391.60 L226.03,392.43 L226.87,393.25 L227.71,394.08 L228.54,394.91 L229.38,395.74 L230.22,396.58 L231.06,397.42 L231.90,398.27 L232.74,399.11 L233.58,399.96 L234.41,400.82 L235.25,401.68 L236.09,402.54 L236.93,403.40 L237.77,404.27 L238.61,405.14 L239.45,406.01 L240.28,406.89 L241.12,407.77 L241.96,408.65 L242.80,409.54 L243.64,410.43 L244.48,411.32 L245.31,412.22 L246.15,413.12 L246.99,414.02 L247.83,414.93 L248.67,415.84 L249.51,416.75 L250.35,417.67 L251.18,418.59 L252.02,419.51 L252.86,420.44 L253.70,421.37 L254.54,422.30 L255.38,423.24 L256.22,424.18 L257.05,425.12 L257.89,426.07 L258.73,427.02 L259.57,427.97 L260.41,428.93 L261.25,429.89 L262.08,430.85 L262.92,431.82 L263.76,432.79 L264.60,433.76 L265.44,434.74 L266.28,435.71 L267.12,436.70 L267.95,437.68 L268.79,438.67 L269.63,439.67 L270.47,440.66 L271.31,441.66 L272.15,442.66 L272.98,443.67 L273.82,444.68 L274.66,445.69 L275.50,446.71 L276.34,447.73 L277.18,448.75 L278.02,449.78 L278.85,450.80 L279.69,451.84 L280.53,452.87 L281.37,453.91 L282.21,454.96 L283.05,456.00 L283.89,457.05 L284.72,458.10 L285.56,459.16 L286.40,460.22 L287.24,461.28 L288.08,462.35 L288.92,463.42 L289.75,464.49 L290.59,465.57 L291.43,466.65 L292.27,467.73 L293.11,468.81 L293.95,469.90 L294.79,471.00 L295.62,472.09 L296.46,473.19 L297.30,474.30 L298.14,475.40 L298.98,476.51 L299.82,477.63 L300.66,478.74 L301.49,479.86" fill="none" stroke="#3c26c8" stroke-width="1.4" stroke-linejoin="round" clip-path="url(#cb)" />
<path d="M42.88,517.04 L42.98,488.11 L43.08,472.36 L43.18,461.48 L43.28,453.16 L43.38,446.42 L43.48,440.75 L43.58,435.87 L43.68,431.57 L43.78,427.74 L43.88,424.28 L43.98,421.13 L44.08,418.24 L44.18,415.56 L44.28,413.07 L44.38,410.75 L44.48,408.57 L44.58,406.51 L44.68,404.57 L44.78,402.73 L44.88,400.98 L44.98,399.31 L45.08,397.72 L45.18,396.20 L45.28,394.74 L45.38,393.33 L45.48,391.99 L45.58,390.69 L45.68,389.44 L45.78,388.23 L45.88,387.06 L45.98,385.93 L46.08,384.84 L46.18,383.77 L46.28,382.74 L46.38,381.74 L46.48,380.77 L46.58,379.83 L46.68,378.90 L46.78,378.01 L46.88,377.13 L46.98,376.28 L47.08,375.45 L47.18,374.64 L47.28,373.85 L47.38,373.07 L47.48,372.31 L47.58,371.57 L47.68,370.85 L47.78,370.13 L47.88,369.44 L47.98,368.76 L48.08,368.09 L48.18,367.43 L48.28,366.79 L48.38,366.16 L48.48,365.54 L48.58,364.93 L48.68,364.34 L48.78,363.75 L48.88,363.18 L48.98,362.61 L49.08,362.05 L49.18,361.51 L49.28,360.97 L49.38,360.44 L49.48,359.92 L49.58,359.40 L49.68,358.90 L49.78,358.40 L49.88,357.91 L49.98,357.43 L50.08,356.96 L50.18,356.49 L50.28,356.03 L50.38,355.57 L50.48,355.12 L50.58,354.68 L50.68,354.24 L50.78,353.81 L50.78,353.81 L51.62,350.43 L52.46,347.38 L53.30,344.62 L54.14,342.10 L54.98,339.80 L55.82,337.68 L56.65,335.72 L57.49,333.91 L58.33,332.22 L59.17,330.66 L60.01,329.21 L60.85,327.85 L61.68,326.59 L62.52,325.41 L63.36,324.31 L64.20,323.28 L65.04,322.32 L65.88,321.42 L66.72,320.58 L67.55,319.79 L68.39,319.06 L69.23,318.38 L70.07,317.75 L70.91,317.16 L71.75,316.61 L72.59,316.10 L73.42,315.63 L74.26,315.20 L75.10,314.80 L75.94,314.44 L76.78,314.11 L77.62,313.80 L78.45,313.53 L79.29,313.29 L80.13,313.07 L80.97,312.87 L81.81,312.70 L82.65,312.56 L83.49,312.43 L84.32,312.33 L85.16,312.25 L86.00,312.19 L86.84,312.15 L87.68,312.13 L88.52,312.12 L89.36,312.13 L90.19,312.16 L91.03,312.21 L91.87,312.27 L92.71,312.34 L93.55,312.43 L94.39,312.53 L95.22,312.65 L96.06,312.78 L96.90,312.92 L97.74,313.08 L98.58,313.24 L99.42,313.42 L100.26,313.60 L101.09,313.80 L101.93,314.01 L102.77,314.23 L103.61,314.46 L104.45,314.69 L105.29,314.94 L106.12,315.19 L106.96,315.45 L107.80,315.72 L108.64,316.00 L109.48,316.29 L110.32,316.58 L111.16,316.88 L111.99,317.19 L112.83,317.51 L113.67,317.83 L114.51,318.16 L115.35,318.49 L116.19,318.83 L117.03,319.18 L117.86,319.53 L118.70,319.89 L119.54,320.25 L120.38,320.62 L121.22,321.00 L122.06,321.37 L122.89,321.76 L123.73,322.15 L124.57,322.54 L125.41,322.94 L126.25,323.35 L127.09,323.76 L127.93,324.17 L128.76,324.59 L129.60,325.01 L130.44,325.43 L131.28,325.86 L132.12,326.30 L132.96,326.74 L133.80,327.18 L134.63,327.62 L135.47,328.07 L136.31,328.53 L137.15,328.99 L137.99,329.45 L138.83,329.91 L139.66,330.38 L140.50,330.85 L141.34,331.33 L142.18,331.81 L143.02,332.29 L143.86,332.78 L144.70,333.27 L145.53,333.76 L146.37,334.26 L147.21,334.76 L148.05,335.26 L148.89,335.77 L149.73,336.28 L150.57,336.79 L151.40,337.31 L152.24,337.83 L153.08,338.35 L153.92,338.88 L154.76,339.41 L155.60,339.94 L156.43,340.48 L157.27,341.02 L158.11,341.56 L158.95,342.10 L159.79,342.65 L160.63,343.20 L161.47,343.76 L162.30,344.32 L163.14,344.88 L163.98,345.44 L164.82,346.01 L165.66,346.58 L166.50,347.15 L167.33,347.73 L168.17,348.31 L169.01,348.89 L169.85,349.48 L170.69,350.06 L171.53,350.66 L172.37,351.25 L173.20,351.85 L174.04,352.45 L174.88,353.05 L175.72,353.66 L176.56,354.27 L177.40,354.88 L178.24,355.50 L179.07,356.12 L179.91,356.74 L180.75,357.37 L181.59,358.00 L182.43,358.63 L183.27,359.26 L184.10,359.90 L184.94,360.54 L185.78,361.19 L186.62,361.83 L187.46,362.48 L188.30,363.14 L189.14,363.79 L189.97,364.45 L190.81,365.11 L191.65,365.78 L192.49,366.45 L193.33,367.12 L194.17,367.80 L195.01,368.48 L195.84,369.16 L196.68,369.84 L197.52,370.53 L198.36,371.22 L199.20,371.92 L200.04,372.61 L200.87,373.31 L201.71,374.02 L202.55,374.72 L203.39,375.43 L204.23,376.15 L205.07,376.86 L205.91,377.58 L206.74,378.31 L207.58,379.03 L208.42,379.76 L209.26,380.49 L210.10,381.23 L210.94,381.97 L211.78,382.71 L212.61,383.46 L213.45,384.21 L214.29,384.96 L215.13,385.71 L215.97,386.47 L216.81,387.23 L217.64,388.00 L218.48,388.77 L219.32,389.54 L220.16,390.31 L221.00,391.09 L221.84,391.87 L222.68,392.66 L223.51,393.44 L224.35,394.24 L225.19,395.03 L226.03,395.83 L226.87,396.63 L227.71,397.43 L228.54,398.24 L229.38,399.05 L230.22,399.87 L231.06,400.68 L231.90,401.50 L232.74,402.33 L233.58,403.16 L234.41,403.99 L235.25,404.82 L236.09,405.66 L236.93,406.50 L237.77,407.34 L238.61,408.19 L239.45,409.04 L240.28,409.90 L241.12,410.75 L241.96,411.61 L242.80,412.48 L243.64,413.35 L244.48,414.22 L245.31,415.09 L246.15,415.97 L246.99,416.85 L247.83,417.73 L248.67,418.62 L249.51,419.51 L250.35,420.41 L251.18,421.31 L252.02,422.21 L252.86,423.11 L253.70,424.02 L254.54,424.93 L255.38,425.85 L256.22,426.77 L257.05,427.69 L257.89,428.61 L258.73,429.54 L259.57,430.47 L260.41,431.41 L261.25,432.35 L262.08,433.29 L262.92,434.23 L263.76,435.18 L264.60,436.14 L265.44,437.09 L266.28,438.05 L267.12,439.01 L267.95,439.98 L268.79,440.95 L269.63,441.92 L270.47,442.90 L271.31,443.88 L272.15,444.86 L272.98,445.85 L273.82,446.84 L274.66,447.83 L275.50,448.83 L276.34,449.83 L277.18,450.83 L278.02,451.84 L278.85,452.85 L279.69,453.87 L280.53,454.88 L281.37,455.91 L282.21,456.93 L283.05,457.96 L283.89,458.99 L284.72,460.03 L285.56,461.06 L286.40,462.11 L287.24,463.15 L288.08,464.20 L288.92,465.25 L289.75,466.31 L290.59,467.37 L291.43,468.43 L292.27,469.50 L293.11,470.57 L293.95,471.64 L294.79,472.72 L295.62,473.80 L296.46,474.88 L297.30,475.97 L298.14,477.06 L298.98,478.15 L299.82,479.25 L300.66,480.35 L301.49,481.45" fill="none" stroke="#7a1e86" stroke-width="1.4" stroke-linejoin="round" clip-path="url(#cb)" />
<path d="M42.88,507.69 L42.98,478.76 L43.08,463.01 L43.18,452.13 L43.28,443.81 L43.38,437.07 L43.48,431.41 L43.58,426.52 L43.68,422.23 L43.78,418.40 L43.88,414.94 L43.98,411.79 L44.08,408.90 L44.18,406.22 L44.28,403.74 L44.38,401.41 L44.48,399.23 L44.58,397.18 L44.68,395.24 L44.78,393.40 L44.88,391.66 L44.98,389.99 L45.08,388.40 L45.18,386.88 L45.28,385.42 L45.38,384.02 L45.48,382.68 L45.58,381.39 L45.68,380.14 L45.78,378.93 L45.88,377.77 L45.98,376.64 L46.08,375.55 L46.18,374.49 L46.28,373.47 L46.38,372.47 L46.48,371.50 L46.58,370.56 L46.68,369.64 L46.78,368.75 L46.88,367.88 L46.98,367.04 L47.08,366.21 L47.18,365.40 L47.28,364.61 L47.38,363.84 L47.48,363.09 L47.58,362.36 L47.68,361.64 L47.78,360.93 L47.88,360.24 L47.98,359.57 L48.08,358.90 L48.18,358.25 L48.28,357.62 L48.38,356.99 L48.48,356.38 L48.58,355.78 L48.68,355.19 L48.78,354.61 L48.88,354.04 L48.98,353.48 L49.08,352.93 L49.18,352.39 L49.28,351.86 L49.38,351.34 L49.48,350.83 L49.58,350.32 L49.68,349.83 L49.78,349.34 L49.88,348.86 L49.98,348.38 L50.08,347.91 L50.18,347.45 L50.28,347.00 L50.38,346.56 L50.48,346.12 L50.58,345.68 L50.68,345.26 L50.78,344.84 L50.78,344.84 L51.62,341.53 L52.46,338.57 L53.30,335.90 L54.14,333.49 L54.98,331.29 L55.82,329.28 L56.65,327.45 L57.49,325.76 L58.33,324.21 L59.17,322.79 L60.01,321.48 L60.85,320.28 L61.68,319.17 L62.52,318.15 L63.36,317.21 L64.20,316.35 L65.04,315.56 L65.88,314.83 L66.72,314.17 L67.55,313.57 L68.39,313.02 L69.23,312.53 L70.07,312.08 L70.91,311.69 L71.75,311.33 L72.59,311.02 L73.42,310.75 L74.26,310.51 L75.10,310.31 L75.94,310.15 L76.78,310.01 L77.62,309.91 L78.45,309.83 L79.29,309.79 L80.13,309.77 L80.97,309.77 L81.81,309.80 L82.65,309.85 L83.49,309.92 L84.32,310.01 L85.16,310.12 L86.00,310.25 L86.84,310.40 L87.68,310.56 L88.52,310.74 L89.36,310.93 L90.19,311.14 L91.03,311.36 L91.87,311.60 L92.71,311.85 L93.55,312.11 L94.39,312.38 L95.22,312.66 L96.06,312.95 L96.90,313.25 L97.74,313.56 L98.58,313.88 L99.42,314.20 L100.26,314.53 L101.09,314.88 L101.93,315.22 L102.77,315.58 L103.61,315.94 L104.45,316.31 L105.29,316.68 L106.12,317.06 L106.96,317.44 L107.80,317.83 L108.64,318.22 L109.48,318.62 L110.32,319.02 L111.16,319.43 L111.99,319.84 L112.83,320.25 L113.67,320.67 L114.51,321.09 L115.35,321.51 L116.19,321.94 L117.03,322.37 L117.86,322.80 L118.70,323.23 L119.54,323.67 L120.38,324.11 L121.22,324.55 L122.06,325.00 L122.89,325.45 L123.73,325.90 L124.57,326.35 L125.41,326.80 L126.25,327.26 L127.09,327.72 L127.93,328.18 L128.76,328.64 L129.60,329.11 L130.44,329.58 L131.28,330.04 L132.12,330.51 L132.96,330.99 L133.80,331.46 L134.63,331.94 L135.47,332.42 L136.31,332.90 L137.15,333.38 L137.99,333.86 L138.83,334.35 L139.66,334.84 L140.50,335.33 L141.34,335.82 L142.18,336.32 L143.02,336.81 L143.86,337.31 L144.70,337.81 L145.53,338.31 L146.37,338.82 L147.21,339.32 L148.05,339.83 L148.89,340.34 L149.73,340.86 L150.57,341.37 L151.40,341.89 L152.24,342.41 L153.08,342.93 L153.92,343.45 L154.76,343.98 L155.60,344.51 L156.43,345.04 L157.27,345.57 L158.11,346.10 L158.95,346.64 L159.79,347.18 L160.63,347.72 L161.47,348.27 L162.30,348.81 L163.14,349.36 L163.98,349.92 L164.82,350.47 L165.66,351.03 L166.50,351.59 L167.33,352.15 L168.17,352.71 L169.01,353.28 L169.85,353.85 L170.69,354.43 L171.53,355.00 L172.37,355.58 L173.20,356.16 L174.04,356.74 L174.88,357.33 L175.72,357.92 L176.56,358.51 L177.40,359.10 L178.24,359.70 L179.07,360.30 L179.91,360.91 L180.75,361.51 L181.59,362.12 L182.43,362.73 L183.27,363.35 L184.10,363.96 L184.94,364.59 L185.78,365.21 L186.62,365.84 L187.46,366.46 L188.30,367.10 L189.14,367.73 L189.97,368.37 L190.81,369.01 L191.65,369.66 L192.49,370.30 L193.33,370.95 L194.17,371.61 L195.01,372.27 L195.84,372.93 L196.68,373.59 L197.52,374.25 L198.36,374.92 L199.20,375.60 L200.04,376.27 L200.87,376.95 L201.71,377.63 L202.55,378.32 L203.39,379.00 L204.23,379.70 L205.07,380.39 L205.91,381.09 L206.74,381.79 L207.58,382.49 L208.42,383.20 L209.26,383.91 L210.10,384.63 L210.94,385.34 L211.78,386.06 L212.61,386.79 L213.45,387.51 L214.29,388.24 L215.13,388.98 L215.97,389.71 L216.81,390.45 L217.64,391.20 L218.48,391.94 L219.32,392.69 L220.16,393.45 L221.00,394.20 L221.84,394.96 L222.68,395.73 L223.51,396.49 L224.35,397.26 L225.19,398.04 L226.03,398.81 L226.87,399.59 L227.71,400.37 L228.54,401.16 L229.38,401.95 L230.22,402.74 L231.06,403.54 L231.90,404.34 L232.74,405.14 L233.58,405.95 L234.41,406.76 L235.25,407.57 L236.09,408.39 L236.93,409.21 L237.77,410.04 L238.61,410.86 L239.45,411.69 L240.28,412.53 L241.12,413.36 L241.96,414.21 L242.80,415.05 L243.64,415.90 L244.48,416.75 L245.31,417.60 L246.15,418.46 L246.99,419.32 L247.83,420.19 L248.67,421.05 L249.51,421.93 L250.35,422.80 L251.18,423.68 L252.02,424.56 L252.86,425.45 L253.70,426.33 L254.54,427.23 L255.38,428.12 L256.22,429.02 L257.05,429.92 L257.89,430.83 L258.73,431.74 L259.57,432.65 L260.41,433.57 L261.25,434.49 L262.08,435.41 L262.92,436.34 L263.76,437.27 L264.60,438.20 L265.44,439.14 L266.28,440.08 L267.12,441.02 L267.95,441.97 L268.79,442.92 L269.63,443.87 L270.47,444.83 L271.31,445.79 L272.15,446.76 L272.98,447.73 L273.82,448.70 L274.66,449.67 L275.50,450.65 L276.34,451.63 L277.18,452.62 L278.02,453.61 L278.85,454.60 L279.69,455.60 L280.53,456.60 L281.37,457.60 L282.21,458.61 L283.05,459.62 L283.89,460.63 L284.72,461.65 L285.56,462.67 L286.40,463.69 L287.24,464.72 L288.08,465.75 L288.92,466.78 L289.75,467.82 L290.59,468.86 L291.43,469.91 L292.27,470.96 L293.11,472.01 L293.95,473.06 L294.79,474.12 L295.62,475.18 L296.46,476.25 L297.30,477.32 L298.14,478.39 L298.98,479.47 L299.82,480.55 L300.66,481.63 L301.49,482.72" fill="none" stroke="#c0304c" stroke-width="1.4" stroke-linejoin="round" clip-path="url(#cb)" />
<path d="M42.88,501.24 L42.98,472.31 L43.08,456.57 L43.18,445.69 L43.28,437.36 L43.38,430.63 L43.48,424.96 L43.58,420.08 L43.68,415.79 L43.78,411.96 L43.88,408.50 L43.98,405.35 L44.08,402.46 L44.18,399.79 L44.28,397.30 L44.38,394.98 L44.48,392.80 L44.58,390.75 L44.68,388.81 L44.78,386.98 L44.88,385.23 L44.98,383.57 L45.08,381.98 L45.18,380.46 L45.28,379.01 L45.38,377.61 L45.48,376.27 L45.58,374.98 L45.68,373.74 L45.78,372.53 L45.88,371.37 L45.98,370.25 L46.08,369.16 L46.18,368.11 L46.28,367.09 L46.38,366.10 L46.48,365.13 L46.58,364.19 L46.68,363.28 L46.78,362.40 L46.88,361.53 L46.98,360.69 L47.08,359.87 L47.18,359.06 L47.28,358.28 L47.38,357.52 L47.48,356.77 L47.58,356.04 L47.68,355.32 L47.78,354.63 L47.88,353.94 L47.98,353.27 L48.08,352.61 L48.18,351.97 L48.28,351.34 L48.38,350.72 L48.48,350.12 L48.58,349.52 L48.68,348.94 L48.78,348.37 L48.88,347.81 L48.98,347.25 L49.08,346.71 L49.18,346.18 L49.28,345.65 L49.38,345.14 L49.48,344.63 L49.58,344.14 L49.68,343.65 L49.78,343.17 L49.88,342.69 L49.98,342.23 L50.08,341.77 L50.18,341.32 L50.28,340.87 L50.38,340.43 L50.48,340.00 L50.58,339.58 L50.68,339.16 L50.78,338.75 L50.78,338.75 L51.62,335.52 L52.46,332.65 L53.30,330.07 L54.14,327.75 L54.98,325.66 L55.82,323.77 L56.65,322.05 L57.49,320.49 L58.33,319.07 L59.17,317.78 L60.01,316.61 L60.85,315.55 L61.68,314.58 L62.52,313.72 L63.36,312.93 L64.20,312.23 L65.04,311.60 L65.88,311.04 L66.72,310.55 L67.55,310.12 L68.39,309.74 L69.23,309.42 L70.07,309.15 L70.91,308.93 L71.75,308.75 L72.59,308.62 L73.42,308.52 L74.26,308.47 L75.10,308.44 L75.94,308.45 L76.78,308.50 L77.62,308.57 L78.45,308.67 L79.29,308.79 L80.13,308.94 L80.97,309.12 L81.81,309.31 L82.65,309.53 L83.49,309.76 L84.32,310.01 L85.16,310.28 L86.00,310.57 L86.84,310.86 L87.68,311.18 L88.52,311.50 L89.36,311.84 L90.19,312.18 L91.03,312.54 L91.87,312.91 L92.71,313.28 L93.55,313.66 L94.39,314.05 L95.22,314.45 L96.06,314.85 L96.90,315.26 L97.74,315.67 L98.58,316.09 L99.42,316.51 L100.26,316.93 L101.09,317.36 L101.93,317.79 L102.77,318.22 L103.61,318.66 L104.45,319.10 L105.29,319.54 L106.12,319.98 L106.96,320.42 L107.80,320.86 L108.64,321.31 L109.48,321.75 L110.32,322.20 L111.16,322.65 L111.99,323.09 L112.83,323.54 L113.67,323.99 L114.51,324.44 L115.35,324.88 L116.19,325.33 L117.03,325.78 L117.86,326.23 L118.70,326.68 L119.54,327.13 L120.38,327.58 L121.22,328.02 L122.06,328.47 L122.89,328.92 L123.73,329.37 L124.57,329.82 L125.41,330.27 L126.25,330.72 L127.09,331.17 L127.93,331.62 L128.76,332.07 L129.60,332.53 L130.44,332.98 L131.28,333.43 L132.12,333.89 L132.96,334.34 L133.80,334.80 L134.63,335.25 L135.47,335.71 L136.31,336.17 L137.15,336.63 L137.99,337.09 L138.83,337.55 L139.66,338.01 L140.50,338.48 L141.34,338.95 L142.18,339.41 L143.02,339.88 L143.86,340.35 L144.70,340.83 L145.53,341.30 L146.37,341.77 L147.21,342.25 L148.05,342.73 L148.89,343.21 L149.73,343.70 L150.57,344.18 L151.40,344.67 L152.24,345.16 L153.08,345.65 L153.92,346.14 L154.76,346.64 L155.60,347.14 L156.43,347.64 L157.27,348.14 L158.11,348.65 L158.95,349.16 L159.79,349.67 L160.63,350.18 L161.47,350.70 L162.30,351.21 L163.14,351.74 L163.98,352.26 L164.82,352.79 L165.66,353.31 L166.50,353.85 L167.33,354.38 L168.17,354.92 L169.01,355.46 L169.85,356.00 L170.69,356.55 L171.53,357.09 L172.37,357.65 L173.20,358.20 L174.04,358.76 L174.88,359.32 L175.72,359.88 L176.56,360.45 L177.40,361.02 L178.24,361.59 L179.07,362.16 L179.91,362.74 L180.75,363.33 L181.59,363.91 L182.43,364.50 L183.27,365.09 L184.10,365.68 L184.94,366.28 L185.78,366.88 L186.62,367.48 L187.46,368.09 L188.30,368.70 L189.14,369.31 L189.97,369.93 L190.81,370.55 L191.65,371.17 L192.49,371.80 L193.33,372.43 L194.17,373.06 L195.01,373.70 L195.84,374.34 L196.68,374.98 L197.52,375.63 L198.36,376.27 L199.20,376.93 L200.04,377.58 L200.87,378.24 L201.71,378.90 L202.55,379.57 L203.39,380.24 L204.23,380.91 L205.07,381.59 L205.91,382.27 L206.74,382.95 L207.58,383.63 L208.42,384.32 L209.26,385.02 L210.10,385.71 L210.94,386.41 L211.78,387.11 L212.61,387.82 L213.45,388.53 L214.29,389.24 L215.13,389.96 L215.97,390.68 L216.81,391.40 L217.64,392.13 L218.48,392.86 L219.32,393.59 L220.16,394.33 L221.00,395.07 L221.84,395.81 L222.68,396.56 L223.51,397.31 L224.35,398.06 L225.19,398.82 L226.03,399.58 L226.87,400.35 L227.71,401.11 L228.54,401.88 L229.38,402.66 L230.22,403.44 L231.06,404.22 L231.90,405.00 L232.74,405.79 L233.58,406.58 L234.41,407.38 L235.25,408.18 L236.09,408.98 L236.93,409.78 L237.77,410.59 L238.61,411.41 L239.45,412.22 L240.28,413.04 L241.12,413.86 L241.96,414.69 L242.80,415.52 L243.64,416.35 L244.48,417.19 L245.31,418.03 L246.15,418.87 L246.99,419.72 L247.83,420.57 L248.67,421.42 L249.51,422.28 L250.35,423.14 L251.18,424.01 L252.02,424.88 L252.86,425.75 L253.70,426.62 L254.54,427.50 L255.38,428.38 L256.22,429.27 L257.05,430.15 L257.89,431.05 L258.73,431.94 L259.57,432.84 L260.41,433.74 L261.25,434.65 L262.08,435.56 L262.92,436.47 L263.76,437.39 L264.60,438.31 L265.44,439.23 L266.28,440.16 L267.12,441.09 L267.95,442.02 L268.79,442.96 L269.63,443.90 L270.47,444.85 L271.31,445.79 L272.15,446.74 L272.98,447.70 L273.82,448.66 L274.66,449.62 L275.50,450.58 L276.34,451.55 L277.18,452.52 L278.02,453.50 L278.85,454.48 L279.69,455.46 L280.53,456.45 L281.37,457.44 L282.21,458.43 L283.05,459.43 L283.89,460.43 L284.72,461.43 L285.56,462.44 L286.40,463.45 L287.24,464.46 L288.08,465.48 L288.92,466.50 L289.75,467.52 L290.59,468.55 L291.43,469.58 L292.27,470.62 L293.11,471.65 L293.95,472.70 L294.79,473.74 L295.62,474.79 L296.46,475.84 L297.30,476.90 L298.14,477.96 L298.98,479.02 L299.82,480.09 L300.66,481.16 L301.49,482.23" fill="none" stroke="#ff1c10" stroke-width="1.4" stroke-linejoin="round" clip-path="url(#cb)" />
<path d="M424.80,475.50 L424.99,475.50 L425.18,475.50 L425.36,475.50 L425.55,475.50 L425.74,464.84 L425.93,454.37 L426.11,446.69 L426.30,440.31 L426.49,434.45 L426.68,429.12 L426.86,424.22 L427.05,419.63 L427.24,415.49 L427.43,411.47 L427.61,407.89 L427.80,404.87 L427.99,402.15 L428.18,399.74 L428.36,397.67 L428.55,395.93 L428.74,394.34 L428.93,392.72 L429.11,391.47 L429.30,390.16 L429.49,388.83 L429.68,387.49 L429.86,386.16 L430.05,384.97 L430.24,383.63 L430.43,382.35 L430.61,381.36 L430.80,380.28 L430.99,379.27 L431.18,378.24 L431.36,377.52 L431.55,377.13 L431.74,376.39 L431.93,375.83 L432.11,375.38 L432.30,374.69 L432.49,374.07 L432.68,373.39 L432.87,372.75 L433.05,372.14 L433.24,371.23 L433.43,370.40 L433.62,369.54 L433.80,368.63 L433.99,367.91 L434.18,367.28 L434.37,366.92 L434.55,366.57 L434.74,366.30 L434.93,366.10 L435.12,366.08 L435.30,365.76 L435.49,365.34 L435.68,364.95 L435.87,364.33 L436.05,363.64 L436.24,362.98 L436.43,362.11 L436.62,361.47 L436.80,360.66 L436.99,360.05 L437.18,359.79 L437.37,359.33 L437.55,359.18 L437.74,358.71 L437.93,358.40 L438.12,358.04 L438.30,357.51 L438.49,357.06 L438.68,356.77 L438.87,355.94 L439.05,355.44 L439.24,354.72 L439.43,354.14 L439.62,353.63 L439.81,353.15 L439.99,352.68 L440.18,352.39 L440.37,352.13 L440.56,352.32 L440.74,352.18 L440.93,352.12 L441.12,352.06 L441.31,351.84 L441.49,351.52 L441.68,351.26 L441.87,350.81 L442.06,350.17 L442.24,349.47 L442.43,348.90 L442.62,348.22 L442.81,347.72 L442.99,347.45 L443.18,347.27 L443.37,347.04 L443.56,346.84 L443.74,346.80 L443.93,346.66 L444.12,346.53 L444.31,346.40 L444.49,346.11 L444.68,345.62 L444.87,345.13 L445.06,344.66 L445.24,344.15 L445.43,343.69 L445.62,343.15 L445.81,342.66 L445.99,342.40 L446.18,342.32 L446.37,342.08 L446.56,342.08 L446.74,341.99 L446.93,342.08 L447.12,342.09 L447.31,341.97 L447.50,341.80 L447.68,341.55 L447.87,341.11 L448.06,340.88 L448.25,340.50 L448.43,340.19 L448.62,339.69 L448.81,339.28 L449.00,339.22 L449.18,339.18 L449.37,339.26 L449.56,339.42 L449.75,339.40 L449.93,339.46 L450.12,339.60 L450.31,339.75 L450.50,339.65 L450.68,339.34 L450.87,338.94 L451.06,338.57 L451.25,338.07 L451.43,337.71 L451.62,337.33 L451.81,336.85 L452.00,336.55 L452.18,336.51 L452.37,336.39 L452.56,336.59 L452.75,336.54 L452.93,336.59 L453.12,336.53 L453.31,336.45 L453.50,336.31 L453.68,336.07 L453.87,335.57 L454.06,335.33 L454.25,334.84 L454.43,334.50 L454.62,334.31 L454.81,333.93 L455.00,333.77 L455.19,333.88 L455.37,333.84 L455.56,334.15 L455.75,334.23 L455.94,334.33 L456.12,334.49 L456.31,334.49 L456.50,334.72 L456.69,334.63 L456.87,334.47 L457.06,334.46 L457.25,334.14 L457.44,333.86 L457.62,333.70 L457.81,333.39 L458.00,333.26 L458.19,333.29 L458.37,333.39 L458.56,333.57 L458.75,333.71 L458.94,333.92 L459.12,334.08 L459.31,334.09 L459.50,334.20 L459.69,334.13 L459.87,333.95 L460.06,333.64 L460.25,333.11 L460.44,332.66 L460.62,332.33 L460.81,331.95 L461.00,331.76 L461.19,331.66 L461.37,331.68 L461.56,331.68 L461.75,331.79 L461.94,331.96 L462.12,332.09 L462.31,332.05 L462.50,332.11 L462.69,332.05 L462.88,331.92 L463.06,331.66 L463.25,331.46 L463.44,331.30 L463.63,330.97 L463.81,330.93 L464.00,330.80 L464.19,330.99 L464.38,331.21 L464.56,331.32 L464.75,331.61 L464.94,331.81 L465.13,332.03 L465.31,332.41 L465.50,332.50 L465.69,332.73 L465.88,332.50 L466.06,332.39 L466.25,332.13 L466.44,332.11 L466.63,331.90 L466.81,331.64 L467.00,331.49 L467.19,331.33 L467.38,331.24 L467.56,331.48 L467.75,331.57 L467.94,331.66 L468.13,331.59 L468.31,331.70 L468.50,331.85 L468.69,331.81 L468.88,331.92 L469.06,331.83 L469.25,331.41 L469.44,331.13 L469.63,331.07 L469.82,330.82 L470.00,330.57 L470.19,330.45 L470.38,330.36 L470.57,330.32 L470.75,330.52 L470.94,330.86 L471.13,331.44 L471.32,331.83 L471.50,332.14 L471.69,332.55 L471.88,332.71 L472.07,332.95 L472.25,333.04 L472.44,332.73 L472.63,332.69 L472.82,332.38 L473.00,332.13 L473.19,332.13 L473.38,332.02 L473.57,332.09 L473.75,332.08 L473.94,332.36 L474.13,332.76 L474.32,333.04 L474.50,333.32 L474.69,333.48 L474.88,333.58 L475.07,333.48 L475.25,333.35 L475.44,333.23 L475.63,332.87 L475.82,332.61 L476.00,332.54 L476.19,332.26 L476.38,332.28 L476.57,332.17 L476.75,332.38 L476.94,332.52 L477.13,332.85 L477.32,332.96 L477.51,333.10 L477.69,333.20 L477.88,333.38 L478.07,333.42 L478.26,333.38 L478.44,333.20 L478.63,333.27 L478.82,333.15 L479.01,333.29 L479.19,333.49 L479.38,333.60 L479.57,333.63 L479.76,333.90 L479.94,334.11 L480.13,334.48 L480.32,334.80 L480.51,335.18 L480.69,335.48 L480.88,335.56 L481.07,335.71 L481.26,335.98 L481.44,335.92 L481.63,335.96 L481.82,335.97 L482.01,335.61 L482.19,335.35 L482.38,335.13 L482.57,335.21 L482.76,335.13 L482.94,335.07 L483.13,335.37 L483.32,335.57 L483.51,335.89 L483.69,336.26 L483.88,336.63 L484.07,336.69 L484.26,336.73 L484.44,336.71 L484.63,336.61 L484.82,336.45 L485.01,336.53 L485.20,336.28 L485.38,336.07 L485.57,335.86 L485.76,335.94 L485.95,335.95 L486.13,336.29 L486.32,336.58 L486.51,336.63 L486.70,336.86 L486.88,337.37 L487.07,337.82 L487.26,338.19 L487.45,338.48 L487.63,338.81 L487.82,338.78 L488.01,339.01 L488.20,339.07 L488.38,338.84 L488.57,338.51 L488.76,338.57 L488.95,338.51 L489.13,338.85 L489.32,338.90 L489.51,339.12 L489.70,339.28 L489.88,339.62 L490.07,340.03 L490.26,340.34 L490.45,340.43 L490.63,340.60 L490.82,340.60 L491.01,340.71 L491.20,340.67 L491.38,340.43 L491.57,340.31 L491.76,340.05 L491.95,340.07 L492.13,340.04 L492.32,340.05 L492.51,340.02 L492.70,340.07 L492.89,340.34 L493.07,340.57 L493.26,340.94 L493.45,341.31 L493.64,341.56 L493.82,341.69 L494.01,342.02 L494.20,342.10 L494.39,342.24 L494.57,342.19 L494.76,342.20 L494.95,342.25 L495.14,342.45 L495.32,342.59 L495.51,342.81 L495.70,343.05 L495.89,343.36 L496.07,343.76 L496.26,344.25 L496.45,344.77 L496.64,345.03 L496.82,345.32 L497.01,345.56 L497.20,345.78 L497.39,345.77 L497.57,346.01 L497.76,345.91 L497.95,345.72 L498.14,345.50 L498.32,345.26 L498.51,345.10 L498.70,345.05 L498.89,345.18 L499.07,345.30 L499.26,345.24 L499.45,345.37 L499.64,345.75 L499.83,346.13 L500.01,346.52 L500.20,346.68 L500.39,346.86 L500.58,346.96 L500.76,347.08 L500.95,347.18 L501.14,347.31 L501.33,347.13 L501.51,347.04 L501.70,347.06 L501.89,347.19 L502.08,347.40 L502.26,347.57 L502.45,347.86 L502.64,348.22 L502.83,348.50 L503.01,349.01 L503.20,349.68 L503.39,350.15 L503.58,350.64 L503.76,350.98 L503.95,351.26 L504.14,351.26 L504.33,351.18 L504.51,351.33 L504.70,351.24 L504.89,351.01 L505.08,351.12 L505.26,351.17 L505.45,351.22 L505.64,351.38 L505.83,351.88 L506.01,352.38 L506.20,352.63 L506.39,352.97 L506.58,353.25 L506.76,353.46 L506.95,353.53 L507.14,353.61 L507.33,353.80 L507.52,353.63 L507.70,353.60 L507.89,353.60 L508.08,353.68 L508.27,353.74 L508.45,353.77 L508.64,354.09 L508.83,354.31 L509.02,354.50 L509.20,354.98 L509.39,355.30 L509.58,355.84 L509.77,356.34 L509.95,356.92 L510.14,357.44 L510.33,357.79 L510.52,357.97 L510.70,358.25 L510.89,358.35 L511.08,358.64 L511.27,358.74 L511.45,358.67 L511.64,358.69 L511.83,358.81 L512.02,359.02 L512.20,359.56 L512.39,359.93 L512.58,360.43 L512.77,360.86 L512.95,361.22 L513.14,361.71 L513.33,362.11 L513.52,362.36 L513.70,362.68 L513.89,362.74 L514.08,362.81 L514.27,362.66 L514.45,362.51 L514.64,362.43 L514.83,362.48 L515.02,362.68 L515.21,362.67 L515.39,362.62 L515.58,362.96 L515.77,363.18 L515.96,363.51 L516.14,364.03 L516.33,364.34 L516.52,364.72 L516.71,365.01 L516.89,365.26 L517.08,365.56 L517.27,365.66 L517.46,365.71 L517.64,366.04 L517.83,365.86 L518.02,366.14 L518.21,366.19 L518.39,366.29 L518.58,366.59 L518.77,366.85 L518.96,367.23 L519.14,367.67 L519.33,368.02 L519.52,368.71 L519.71,369.14 L519.89,369.70 L520.08,370.12 L520.27,370.40 L520.46,370.72 L520.64,370.72 L520.83,370.84 L521.02,370.94 L521.21,371.04 L521.39,371.08 L521.58,371.00 L521.77,371.00 L521.96,371.27 L522.14,371.36 L522.33,371.85 L522.52,372.29 L522.71,372.55 L522.90,372.58 L523.08,372.85 L523.27,373.28 L523.46,373.51 L523.65,373.60 L523.83,373.76 L524.02,373.73 L524.21,373.71 L524.40,373.70 L524.58,373.82 L524.77,373.72 L524.96,373.49 L525.15,373.69 L525.33,373.95 L525.52,374.29 L525.71,374.62 L525.90,374.93 L526.08,375.37 L526.27,375.89 L526.46,376.42 L526.65,377.09 L526.83,377.55 L527.02,378.01 L527.21,378.38 L527.40,378.66 L527.58,379.00 L527.77,379.08 L527.96,379.14 L528.15,379.33 L528.33,379.45 L528.52,379.59 L528.71,379.67 L528.90,379.62 L529.08,379.97 L529.27,380.08 L529.46,380.38 L529.65,380.69 L529.84,380.95 L530.02,381.03 L530.21,381.14 L530.40,381.08 L530.59,381.10 L530.77,380.91 L530.96,380.83 L531.15,380.67 L531.34,380.35 L531.52,379.96 L531.71,379.76 L531.90,379.56 L532.09,379.61 L532.27,379.71 L532.46,379.66 L532.65,379.83 L532.84,380.05 L533.02,380.36 L533.21,380.64 L533.40,381.04 L533.59,381.13 L533.77,381.29 L533.96,381.43 L534.15,381.48 L534.34,381.19 L534.52,380.79 L534.71,380.66 L534.90,380.57 L535.09,380.27 L535.27,380.38 L535.46,380.19 L535.65,380.33 L535.84,380.32 L536.02,380.54 L536.21,381.06 L536.40,381.45 L536.59,381.63 L536.77,381.97 L536.96,382.06 L537.15,382.22 L537.34,382.32 L537.53,382.40 L537.71,382.33 L537.90,382.16 L538.09,381.83 L538.28,381.81 L538.46,381.52 L538.65,381.29 L538.84,381.17 L539.03,380.96 L539.21,380.89 L539.40,380.92 L539.59,381.03 L539.78,381.13 L539.96,381.10 L540.15,381.20 L540.34,381.36 L540.53,381.49 L540.71,381.51 L540.90,381.57 L541.09,381.53 L541.28,381.32 L541.46,381.25 L541.65,381.14 L541.84,381.18 L542.03,380.92 L542.21,380.83 L542.40,380.73 L542.59,380.86 L542.78,381.09 L542.96,381.48 L543.15,381.57 L543.34,381.89 L543.53,382.16 L543.71,382.70 L543.90,383.00 L544.09,383.20 L544.28,383.10 L544.46,383.26 L544.65,383.24 L544.84,383.33 L545.03,383.27 L545.22,383.25 L545.40,382.99 L545.59,382.72 L545.78,382.86 L545.97,382.99 L546.15,382.82 L546.34,382.77 L546.53,382.99 L546.72,382.93 L546.90,382.96 L547.09,383.28 L547.28,383.46 L547.47,383.56 L547.65,383.55 L547.84,383.76 L548.03,383.67 L548.22,383.51 L548.40,383.40 L548.59,383.12 L548.78,382.74 L548.97,382.60 L549.15,382.21 L549.34,382.40 L549.53,382.23 L549.72,382.36 L549.90,382.43 L550.09,382.72 L550.28,382.73 L550.47,383.10 L550.65,383.36 L550.84,383.76 L551.03,383.66 L551.22,384.09 L551.40,384.05 L551.59,384.20 L551.78,384.48 L551.97,384.90 L552.15,384.82 L552.34,384.79 L552.53,384.75 L552.72,384.82 L552.91,384.69 L553.09,385.02 L553.28,385.41 L553.47,385.43 L553.66,385.57 L553.84,385.98 L554.03,386.58 L554.22,387.07 L554.41,387.27 L554.59,387.55 L554.78,387.74 L554.97,387.63 L555.16,387.54 L555.34,387.58 L555.53,387.43 L555.72,387.17 L555.91,386.83 L556.09,386.72 L556.28,386.55 L556.47,386.34 L556.66,386.28 L556.84,386.47 L557.03,386.59 L557.22,386.76 L557.41,386.80 L557.59,387.05 L557.78,387.52 L557.97,387.75 L558.16,388.06 L558.34,388.15 L558.53,388.20 L558.72,388.15 L558.91,388.24 L559.09,388.20 L559.28,387.99 L559.47,387.98 L559.66,387.78 L559.85,387.76 L560.03,387.95 L560.22,388.38 L560.41,388.61 L560.60,388.95 L560.78,389.50 L560.97,390.09 L561.16,390.56 L561.35,391.34 L561.53,391.95 L561.72,392.32 L561.91,392.35 L562.10,392.63 L562.28,392.58 L562.47,392.60 L562.66,392.62 L562.85,392.53 L563.03,392.12 L563.22,391.93 L563.41,392.15 L563.60,392.41 L563.78,392.42 L563.97,392.86 L564.16,393.17 L564.35,393.50 L564.53,393.95 L564.72,394.46 L564.91,394.68 L565.10,394.89 L565.28,394.91 L565.47,395.38 L565.66,395.44 L565.85,395.37 L566.03,395.32 L566.22,395.13 L566.41,394.99 L566.60,395.19 L566.78,395.05 L566.97,395.22 L567.16,395.02 L567.35,394.88 L567.54,395.01 L567.72,395.48 L567.91,395.76 L568.10,396.24 L568.29,396.73 L568.47,397.22 L568.66,397.48 L568.85,397.92 L569.04,398.35 L569.22,398.66 L569.41,398.68 L569.60,398.81 L569.79,398.95 L569.97,398.88 L570.16,398.82 L570.35,398.96 L570.54,398.81 L570.72,398.92 L570.91,399.17 L571.10,399.51 L571.29,399.90 L571.47,400.37 L571.66,400.71 L571.85,401.23 L572.04,401.65 L572.22,402.58 L572.41,403.08 L572.60,403.41 L572.79,403.88 L572.97,404.09 L573.16,404.17 L573.35,404.34 L573.54,404.36 L573.72,404.61 L573.91,404.26 L574.10,404.31 L574.29,404.50 L574.47,404.24 L574.66,404.54 L574.85,404.59 L575.04,404.72 L575.23,404.89 L575.41,405.06 L575.60,405.80 L575.79,406.37 L575.98,406.48 L576.16,407.04 L576.35,407.22 L576.54,407.43 L576.73,407.76 L576.91,407.98 L577.10,408.02 L577.29,407.85 L577.48,407.67 L577.66,407.85 L577.85,407.55 L578.04,407.37 L578.23,408.02 L578.41,408.33 L578.60,408.50 L578.79,408.82 L578.98,409.28 L579.16,409.51 L579.35,410.23 L579.54,410.82 L579.73,411.48 L579.91,411.55 L580.10,411.73 L580.29,412.05 L580.48,412.36 L580.66,412.57 L580.85,412.70 L581.04,412.44 L581.23,412.72 L581.41,412.46 L581.60,412.27 L581.79,412.03 L581.98,412.10 L582.16,412.05 L582.35,412.15 L582.54,412.58 L582.73,412.88 L582.92,413.03 L583.10,413.70 L583.29,414.03 L583.48,414.86 L583.67,415.35 L583.85,415.81 L584.04,415.80 L584.23,415.83 L584.42,415.92 L584.60,416.00 L584.79,415.87 L584.98,416.10 L585.17,415.49 L585.35,415.04 L585.54,414.58 L585.73,414.69 L585.92,414.21 L586.10,414.31 L586.29,414.59 L586.48,414.75 L586.67,414.86 L586.85,415.29 L587.04,415.98 L587.23,416.52 L587.42,416.66 L587.60,417.60 L587.79,417.97 L587.98,418.26 L588.17,418.43 L588.35,418.49 L588.54,418.57 L588.73,418.31 L588.92,418.15 L589.10,418.31 L589.29,417.98 L589.48,417.96 L589.67,417.83 L589.86,417.89 L590.04,418.29 L590.23,418.56 L590.42,418.80 L590.61,419.35 L590.79,419.94 L590.98,420.69 L591.17,420.87 L591.36,421.36 L591.54,421.84 L591.73,422.14 L591.92,422.52 L592.11,422.76 L592.29,423.00 L592.48,423.09 L592.67,422.66 L592.86,422.65 L593.04,422.20 L593.23,421.96 L593.42,421.55 L593.61,421.15 L593.79,420.94 L593.98,420.80 L594.17,420.62 L594.36,420.86 L594.54,421.03 L594.73,421.30 L594.92,421.73 L595.11,422.56 L595.29,423.07 L595.48,423.55 L595.67,423.77 L595.86,423.78 L596.04,423.96 L596.23,424.23 L596.42,424.26 L596.61,424.19 L596.79,423.60 L596.98,423.54 L597.17,423.46 L597.36,423.40 L597.55,423.53 L597.73,423.81 L597.92,423.73 L598.11,424.30 L598.30,424.36 L598.48,424.64 L598.67,424.70 L598.86,425.13 L599.05,425.77 L599.23,426.57 L599.42,426.59 L599.61,427.39 L599.80,427.42 L599.98,428.35 L600.17,428.93 L600.36,429.48 L600.55,429.72 L600.73,429.75 L600.92,429.68 L601.11,430.09 L601.30,429.59 L601.48,429.50 L601.67,428.96 L601.86,428.72 L602.05,428.80 L602.23,428.54 L602.42,428.24 L602.61,428.22 L602.80,428.11 L602.98,428.25 L603.17,428.66 L603.36,428.57 L603.55,428.69 L603.73,428.95 L603.92,429.33 L604.11,429.63 L604.30,430.04 L604.48,430.22 L604.67,430.64 L604.86,430.70 L605.05,430.98 L605.24,431.29 L605.42,431.39 L605.61,431.65 L605.80,431.76 L605.99,431.21 L606.17,431.12 L606.36,430.94 L606.55,430.79 L606.74,430.65 L606.92,430.51 L607.11,430.54 L607.30,430.59 L607.49,430.73 L607.67,431.41 L607.86,432.01 L608.05,432.58 L608.24,433.41 L608.42,434.13 L608.61,435.27 L608.80,435.45 L608.99,436.00 L609.17,436.92 L609.36,437.11 L609.55,437.61 L609.74,437.65 L609.92,437.35 L610.11,437.60 L610.30,437.15 L610.49,437.09 L610.67,436.96 L610.86,436.53 L611.05,436.36 L611.24,435.58 L611.42,435.74 L611.61,435.91 L611.80,435.66 L611.99,436.29 L612.17,436.81 L612.36,437.40 L612.55,438.18 L612.74,438.28 L612.93,439.01 L613.11,439.05 L613.30,439.52 L613.49,440.02 L613.68,439.87 L613.86,440.16 L614.05,439.91 L614.24,439.54 L614.43,439.59 L614.61,439.57 L614.80,439.64 L614.99,439.44 L615.18,439.30 L615.36,439.28 L615.55,438.74 L615.74,438.71 L615.93,438.68 L616.11,439.12 L616.30,439.02 L616.49,439.26 L616.68,439.60 L616.86,440.10 L617.05,440.34 L617.24,441.11 L617.43,441.65 L617.61,442.18 L617.80,442.59 L617.99,443.51 L618.18,444.73 L618.36,445.07 L618.55,445.26 L618.74,445.99 L618.93,446.73 L619.11,447.70 L619.30,448.08 L619.49,448.87 L619.68,448.65 L619.87,448.95 L620.05,449.34 L620.24,449.67 L620.43,449.66 L620.62,449.77 L620.80,449.27 L620.99,449.77 L621.18,449.86 L621.37,450.71 L621.55,450.70 L621.74,451.35 L621.93,452.00 L622.12,452.74 L622.30,453.29 L622.49,454.39 L622.68,454.83 L622.87,455.90 L623.05,456.39 L623.24,457.76 L623.43,458.62 L623.62,459.94 L623.80,460.20 L623.99,460.79 L624.18,461.54 L624.37,462.52 L624.55,462.35 L624.74,463.21 L624.93,462.80 L625.12,463.63 L625.30,464.35 L625.49,465.33 L625.68,465.69 L625.87,466.54 L626.05,467.41 L626.24,469.41 L626.43,470.46 L626.62,472.36 L626.80,473.81 L626.99,475.50 L627.18,475.50 L627.37,475.50 L627.56,475.50 L627.74,475.50 L627.93,475.50 L628.12,475.50 L628.31,475.50 L628.49,475.50 L628.68,475.50 L628.87,475.50 L629.06,475.50 L629.24,475.50 L629.43,475.50 L629.62,475.50 L629.81,475.50 L629.99,475.50 L630.18,475.50 L630.37,475.50 L630.56,475.50 L630.74,475.50 L630.93,475.50 L631.12,475.50 L631.31,475.50 L631.49,475.50 L631.68,475.50 L631.87,475.50 L632.06,475.50 L632.24,475.50 L632.43,475.50 L632.62,475.50 L632.81,475.50 L632.99,475.50 L633.18,475.50 L633.37,475.50 L633.56,475.50 L633.74,475.50 L633.93,475.50 L634.12,475.50 L634.31,475.50 L634.49,475.50 L634.68,475.50 L634.87,475.50 L635.06,475.50 L635.25,475.50 L635.43,475.50 L635.62,475.50 L635.81,475.50 L636.00,475.50 L636.18,475.50 L636.37,475.50 L636.56,475.50 L636.75,475.50 L636.93,475.50 L637.12,475.50 L637.31,475.50 L637.50,475.50 L637.68,475.50 L637.87,475.50 L638.06,475.50 L638.25,475.50 L638.43,475.50 L638.62,475.50 L638.81,475.50 L639.00,475.50 L639.18,475.50 L639.37,475.50 L639.56,475.50 L639.75,475.50 L639.93,475.50 L640.12,475.50 L640.31,475.50 L640.50,475.50 L640.68,475.50 L640.87,475.50 L641.06,475.50 L641.25,475.50 L641.43,475.50 L641.62,475.50 L641.81,475.50 L642.00,475.50 L642.18,475.50 L642.37,475.50 L642.56,475.50 L642.75,475.50 L642.94,475.50 L643.12,475.50 L643.31,475.50 L643.50,475.50 L643.69,475.50 L643.87,475.50 L644.06,475.50 L644.25,475.50 L644.44,475.50 L644.62,475.50 L644.81,475.50 L645.00,475.50 L645.19,475.50 L645.37,475.50 L645.56,475.50 L645.75,475.50 L645.94,475.50 L646.12,475.50 L646.31,475.50 L646.50,475.50 L646.69,475.50 L646.87,475.50 L647.06,475.50 L647.25,475.50 L647.44,475.50 L647.62,475.50 L647.81,475.50 L648.00,475.50 L648.19,475.50 L648.37,475.50 L648.56,475.50 L648.75,475.50 L648.94,475.50 L649.12,475.50 L649.31,475.50 L649.50,475.50 L649.69,475.50 L649.88,475.50 L650.06,475.50 L650.25,475.50 L650.44,475.50 L650.63,475.50 L650.81,475.50 L651.00,475.50 L651.19,475.50 L651.38,475.50 L651.56,475.50 L651.75,475.50 L651.94,475.50 L652.13,475.50 L652.31,475.50 L652.50,475.50 L652.69,475.50 L652.88,475.50 L653.06,475.50 L653.25,475.50 L653.44,475.50 L653.63,475.50 L653.81,475.50 L654.00,475.50 L654.19,475.50 L654.38,475.50 L654.56,475.50 L654.75,475.50 L654.94,475.50 L655.13,475.50 L655.31,475.50 L655.50,475.50 L655.69,475.50 L655.88,475.50 L656.06,475.50 L656.25,475.50 L656.44,475.50 L656.63,475.50 L656.81,475.50 L657.00,475.50 L657.19,475.50 L657.38,475.50 L657.57,475.50 L657.75,475.50 L657.94,475.50 L658.13,475.50 L658.32,475.50 L658.50,475.50 L658.69,475.50 L658.88,475.50 L659.07,475.50 L659.25,475.50 L659.44,475.50 L659.63,475.50 L659.82,475.50 L660.00,475.50 L660.19,475.50 L660.38,475.50 L660.57,475.50 L660.75,475.50 L660.94,475.50 L661.13,475.50 L661.32,475.50 L661.50,475.50 L661.69,475.50 L661.88,475.50 L662.07,475.50 L662.25,475.50 L662.44,475.50 L662.63,475.50 L662.82,475.50 L663.00,475.50 L663.19,475.50 L663.38,475.50 L663.57,475.50 L663.75,475.50 L663.94,475.50 L664.13,475.50 L664.32,475.50 L664.50,475.50 L664.69,475.50 L664.88,475.50 L665.07,475.50 L665.26,475.50 L665.44,475.50 L665.63,475.50 L665.82,475.50 L666.01,475.50 L666.19,475.50 L666.38,475.50 L666.57,475.50 L666.76,475.50 L666.94,475.50 L667.13,475.50 L667.32,475.50 L667.51,475.50 L667.69,475.50 L667.88,475.50 L668.07,475.50 L668.26,475.50 L668.44,475.50 L668.63,475.50 L668.82,475.50 L669.01,475.50 L669.19,475.50 L669.38,475.50 L669.57,475.50 L669.76,475.50 L669.94,475.50 L670.13,475.50 L670.32,475.50 L670.51,475.50 L670.69,475.50 L670.88,475.50 L671.07,475.50 L671.26,475.50 L671.44,475.50 L671.63,475.50 L671.82,475.50 L672.01,475.50 L672.19,475.50 L672.38,475.50 L672.57,475.50 L672.76,475.50 L672.95,475.50 L673.13,475.50 L673.32,475.50 L673.51,475.50 L673.70,475.50 L673.88,475.50 L674.07,475.50 L674.26,475.50 L674.45,475.50 L674.63,475.50 L674.82,475.50 L675.01,475.50 L675.20,475.50 L675.38,475.50 L675.57,475.50 L675.76,475.50 L675.95,475.50 L676.13,475.50 L676.32,475.50 L676.51,475.50 L676.70,475.50 L676.88,475.50 L677.07,475.50 L677.26,475.50 L677.45,475.50 L677.63,475.50 L677.82,475.50 L678.01,475.50 L678.20,475.50 L678.38,475.50 L678.57,475.50 L678.76,475.50 L678.95,475.50 L679.13,475.50 L679.32,475.50 L679.51,475.50 L679.70,475.50 L679.89,475.50 L680.07,475.50 L680.26,475.50 L680.45,475.50 L680.64,475.50 L680.82,475.50 L681.01,475.50 L681.20,475.50 L681.39,475.50 L681.57,475.50 L681.76,475.50 L681.95,475.50 L682.14,475.50 L682.32,475.50 L682.51,475.50 L682.70,475.50 L682.89,475.50 L683.07,475.50 L683.26,475.50 L683.45,475.50 L683.64,475.50 L683.82,475.50 L684.01,475.50 L684.20,475.50 L684.39,475.50 L684.57,475.50 L684.76,475.50 L684.95,475.50 L685.14,475.50 L685.32,475.50 L685.51,475.50 L685.70,475.50 L685.89,475.50 L686.07,475.50 L686.26,475.50 L686.45,475.50 L686.64,475.50 L686.82,475.50 L687.01,475.50 L687.20,475.50" fill="none" stroke="#0a2aff" stroke-width="1.4" stroke-linejoin="round" clip-path="url(#cc)" />
<path d="M424.80,475.50 L424.99,475.50 L425.18,475.50 L425.36,475.50 L425.55,471.38 L425.74,456.94 L425.93,444.30 L426.11,433.34 L426.30,423.97 L426.49,416.58 L426.68,410.76 L426.86,405.36 L427.05,400.26 L427.24,395.63 L427.43,391.12 L427.61,387.07 L427.80,383.61 L427.99,380.49 L428.18,377.73 L428.36,375.36 L428.55,373.42 L428.74,371.76 L428.93,370.20 L429.11,369.05 L429.30,367.83 L429.49,366.57 L429.68,365.30 L429.86,364.04 L430.05,362.92 L430.24,361.64 L430.43,360.42 L430.61,359.49 L430.80,358.47 L430.99,357.53 L431.18,356.58 L431.36,355.94 L431.55,355.64 L431.74,354.98 L431.93,354.51 L432.11,354.15 L432.30,353.55 L432.49,353.00 L432.68,352.40 L432.87,351.82 L433.05,351.27 L433.24,350.41 L433.43,349.65 L433.62,348.86 L433.80,348.01 L433.99,347.36 L434.18,346.79 L434.37,346.50 L434.55,346.21 L434.74,346.01 L434.93,345.88 L435.12,345.93 L435.30,345.66 L435.49,345.31 L435.68,344.98 L435.87,344.43 L436.05,343.79 L436.24,343.20 L436.43,342.39 L436.62,341.80 L436.80,341.04 L436.99,340.49 L437.18,340.27 L437.37,339.87 L437.55,339.77 L437.74,339.35 L437.93,339.09 L438.12,338.77 L438.30,338.30 L438.49,337.89 L438.68,337.65 L438.87,336.88 L439.05,336.42 L439.24,335.75 L439.43,335.21 L439.62,334.75 L439.81,334.32 L439.99,333.90 L440.18,333.65 L440.37,333.44 L440.56,333.67 L440.74,333.57 L440.93,333.56 L441.12,333.53 L441.31,333.36 L441.49,333.07 L441.68,332.86 L441.87,332.44 L442.06,331.83 L442.24,331.17 L442.43,330.64 L442.62,329.99 L442.81,329.53 L442.99,329.28 L443.18,329.14 L443.37,328.93 L443.56,328.76 L443.74,328.74 L443.93,328.63 L444.12,328.52 L444.31,328.41 L444.49,328.14 L444.68,327.67 L444.87,327.20 L445.06,326.74 L445.24,326.25 L445.43,325.80 L445.62,325.28 L445.81,324.79 L445.99,324.54 L446.18,324.47 L446.37,324.24 L446.56,324.24 L446.74,324.17 L446.93,324.27 L447.12,324.29 L447.31,324.18 L447.50,324.01 L447.68,323.77 L447.87,323.34 L448.06,323.12 L448.25,322.75 L448.43,322.46 L448.62,321.97 L448.81,321.57 L449.00,321.53 L449.18,321.50 L449.37,321.60 L449.56,321.77 L449.75,321.77 L449.93,321.85 L450.12,322.01 L450.31,322.18 L450.50,322.10 L450.68,321.81 L450.87,321.44 L451.06,321.09 L451.25,320.61 L451.43,320.28 L451.62,319.93 L451.81,319.48 L452.00,319.21 L452.18,319.21 L452.37,319.12 L452.56,319.35 L452.75,319.33 L452.93,319.41 L453.12,319.38 L453.31,319.32 L453.50,319.21 L453.68,318.99 L453.87,318.52 L454.06,318.30 L454.25,317.83 L454.43,317.52 L454.62,317.35 L454.81,316.99 L455.00,316.85 L455.19,316.98 L455.37,316.96 L455.56,317.29 L455.75,317.39 L455.94,317.51 L456.12,317.68 L456.31,317.69 L456.50,317.95 L456.69,317.86 L456.87,317.72 L457.06,317.72 L457.25,317.42 L457.44,317.15 L457.62,316.99 L457.81,316.70 L458.00,316.58 L458.19,316.62 L458.37,316.74 L458.56,316.93 L458.75,317.09 L458.94,317.32 L459.12,317.49 L459.31,317.52 L459.50,317.64 L459.69,317.59 L459.87,317.43 L460.06,317.13 L460.25,316.62 L460.44,316.18 L460.62,315.87 L460.81,315.51 L461.00,315.32 L461.19,315.24 L461.37,315.28 L461.56,315.29 L461.75,315.42 L461.94,315.60 L462.12,315.74 L462.31,315.71 L462.50,315.79 L462.69,315.74 L462.88,315.63 L463.06,315.38 L463.25,315.19 L463.44,315.05 L463.63,314.73 L463.81,314.70 L464.00,314.58 L464.19,314.78 L464.38,315.01 L464.56,315.13 L464.75,315.43 L464.94,315.64 L465.13,315.87 L465.31,316.26 L465.50,316.36 L465.69,316.60 L465.88,316.38 L466.06,316.28 L466.25,316.03 L466.44,316.01 L466.63,315.79 L466.81,315.50 L467.00,315.33 L467.19,315.15 L467.38,315.04 L467.56,315.26 L467.75,315.33 L467.94,315.39 L468.13,315.30 L468.31,315.39 L468.50,315.52 L468.69,315.46 L468.88,315.55 L469.06,315.44 L469.25,315.00 L469.44,314.69 L469.63,314.62 L469.82,314.34 L470.00,314.07 L470.19,313.93 L470.38,313.82 L470.57,313.76 L470.75,313.94 L470.94,314.25 L471.13,314.81 L471.32,315.17 L471.50,315.47 L471.69,315.85 L471.88,316.00 L472.07,316.22 L472.25,316.29 L472.44,315.97 L472.63,315.92 L472.82,315.60 L473.00,315.35 L473.19,315.34 L473.38,315.23 L473.57,315.29 L473.75,315.28 L473.94,315.57 L474.13,315.97 L474.32,316.24 L474.50,316.53 L474.69,316.69 L474.88,316.80 L475.07,316.71 L475.25,316.58 L475.44,316.47 L475.63,316.12 L475.82,315.87 L476.00,315.81 L476.19,315.54 L476.38,315.58 L476.57,315.47 L476.75,315.69 L476.94,315.84 L477.13,316.18 L477.32,316.29 L477.51,316.44 L477.69,316.54 L477.88,316.73 L478.07,316.77 L478.26,316.73 L478.44,316.55 L478.63,316.62 L478.82,316.50 L479.01,316.63 L479.19,316.83 L479.38,316.93 L479.57,316.95 L479.76,317.21 L479.94,317.41 L480.13,317.77 L480.32,318.08 L480.51,318.45 L480.69,318.73 L480.88,318.80 L481.07,318.93 L481.26,319.18 L481.44,319.11 L481.63,319.14 L481.82,319.13 L482.01,318.75 L482.19,318.47 L482.38,318.23 L482.57,318.30 L482.76,318.19 L482.94,318.12 L483.13,318.41 L483.32,318.58 L483.51,318.88 L483.69,319.24 L483.88,319.58 L484.07,319.63 L484.26,319.65 L484.44,319.61 L484.63,319.49 L484.82,319.32 L485.01,319.38 L485.20,319.11 L485.38,318.89 L485.57,318.66 L485.76,318.72 L485.95,318.72 L486.13,319.04 L486.32,319.32 L486.51,319.35 L486.70,319.56 L486.88,320.06 L487.07,320.49 L487.26,320.85 L487.45,321.12 L487.63,321.43 L487.82,321.39 L488.01,321.61 L488.20,321.65 L488.38,321.41 L488.57,321.07 L488.76,321.11 L488.95,321.04 L489.13,321.37 L489.32,321.41 L489.51,321.62 L489.70,321.77 L489.88,322.09 L490.07,322.50 L490.26,322.79 L490.45,322.88 L490.63,323.04 L490.82,323.03 L491.01,323.13 L491.20,323.08 L491.38,322.84 L491.57,322.71 L491.76,322.44 L491.95,322.46 L492.13,322.43 L492.32,322.44 L492.51,322.40 L492.70,322.45 L492.89,322.72 L493.07,322.94 L493.26,323.31 L493.45,323.68 L493.64,323.93 L493.82,324.06 L494.01,324.39 L494.20,324.46 L494.39,324.60 L494.57,324.56 L494.76,324.56 L494.95,324.62 L495.14,324.82 L495.32,324.96 L495.51,325.19 L495.70,325.43 L495.89,325.74 L496.07,326.15 L496.26,326.65 L496.45,327.17 L496.64,327.44 L496.82,327.73 L497.01,327.97 L497.20,328.20 L497.39,328.19 L497.57,328.45 L497.76,328.35 L497.95,328.17 L498.14,327.95 L498.32,327.73 L498.51,327.57 L498.70,327.53 L498.89,327.67 L499.07,327.80 L499.26,327.74 L499.45,327.89 L499.64,328.28 L499.83,328.67 L500.01,329.07 L500.20,329.24 L500.39,329.44 L500.58,329.54 L500.76,329.68 L500.95,329.79 L501.14,329.92 L501.33,329.76 L501.51,329.68 L501.70,329.71 L501.89,329.86 L502.08,330.08 L502.26,330.26 L502.45,330.57 L502.64,330.94 L502.83,331.23 L503.01,331.76 L503.20,332.44 L503.39,332.93 L503.58,333.43 L503.76,333.79 L503.95,334.08 L504.14,334.10 L504.33,334.03 L504.51,334.19 L504.70,334.12 L504.89,333.90 L505.08,334.03 L505.26,334.09 L505.45,334.15 L505.64,334.32 L505.83,334.84 L506.01,335.35 L506.20,335.61 L506.39,335.96 L506.58,336.25 L506.76,336.48 L506.95,336.56 L507.14,336.66 L507.33,336.86 L507.52,336.70 L507.70,336.69 L507.89,336.70 L508.08,336.80 L508.27,336.87 L508.45,336.92 L508.64,337.25 L508.83,337.48 L509.02,337.69 L509.20,338.19 L509.39,338.52 L509.58,339.08 L509.77,339.61 L509.95,340.20 L510.14,340.75 L510.33,341.11 L510.52,341.31 L510.70,341.61 L510.89,341.74 L511.08,342.05 L511.27,342.17 L511.45,342.12 L511.64,342.17 L511.83,342.31 L512.02,342.55 L512.20,343.11 L512.39,343.51 L512.58,344.04 L512.77,344.49 L512.95,344.89 L513.14,345.41 L513.33,345.84 L513.52,346.13 L513.70,346.48 L513.89,346.59 L514.08,346.70 L514.27,346.60 L514.45,346.51 L514.64,346.49 L514.83,346.60 L515.02,346.86 L515.21,346.92 L515.39,346.95 L515.58,347.36 L515.77,347.66 L515.96,348.06 L516.14,348.66 L516.33,349.05 L516.52,349.51 L516.71,349.88 L516.89,350.21 L517.08,350.60 L517.27,350.77 L517.46,350.91 L517.64,351.31 L517.83,351.22 L518.02,351.58 L518.21,351.71 L518.39,351.89 L518.58,352.27 L518.77,352.60 L518.96,353.06 L519.14,353.57 L519.33,353.98 L519.52,354.74 L519.71,355.24 L519.89,355.86 L520.08,356.35 L520.27,356.68 L520.46,357.06 L520.64,357.11 L520.83,357.28 L521.02,357.42 L521.21,357.57 L521.39,357.66 L521.58,357.63 L521.77,357.68 L521.96,358.00 L522.14,358.15 L522.33,358.69 L522.52,359.20 L522.71,359.52 L522.90,359.61 L523.08,359.95 L523.27,360.44 L523.46,360.74 L523.65,360.90 L523.83,361.11 L524.02,361.15 L524.21,361.19 L524.40,361.24 L524.58,361.42 L524.77,361.37 L524.96,361.19 L525.15,361.44 L525.33,361.75 L525.52,362.12 L525.71,362.47 L525.90,362.79 L526.08,363.24 L526.27,363.75 L526.46,364.26 L526.65,364.91 L526.83,365.34 L527.02,365.75 L527.21,366.07 L527.40,366.30 L527.58,366.58 L527.77,366.58 L527.96,366.57 L528.15,366.69 L528.33,366.73 L528.52,366.79 L528.71,366.81 L528.90,366.69 L529.08,366.98 L529.27,367.05 L529.46,367.31 L529.65,367.60 L529.84,367.85 L530.02,367.93 L530.21,368.05 L530.40,368.01 L530.59,368.04 L530.77,367.86 L530.96,367.79 L531.15,367.64 L531.34,367.33 L531.52,366.95 L531.71,366.75 L531.90,366.56 L532.09,366.62 L532.27,366.73 L532.46,366.68 L532.65,366.86 L532.84,367.09 L533.02,367.40 L533.21,367.69 L533.40,368.09 L533.59,368.19 L533.77,368.35 L533.96,368.49 L534.15,368.55 L534.34,368.26 L534.52,367.87 L534.71,367.74 L534.90,367.66 L535.09,367.36 L535.27,367.47 L535.46,367.29 L535.65,367.43 L535.84,367.42 L536.02,367.64 L536.21,368.16 L536.40,368.55 L536.59,368.74 L536.77,369.08 L536.96,369.18 L537.15,369.37 L537.34,369.49 L537.53,369.59 L537.71,369.54 L537.90,369.38 L538.09,369.08 L538.28,369.08 L538.46,368.81 L538.65,368.60 L538.84,368.50 L539.03,368.32 L539.21,368.28 L539.40,368.33 L539.59,368.47 L539.78,368.59 L539.96,368.58 L540.15,368.70 L540.34,368.88 L540.53,369.03 L540.71,369.08 L540.90,369.16 L541.09,369.14 L541.28,368.95 L541.46,368.90 L541.65,368.81 L541.84,368.87 L542.03,368.62 L542.21,368.55 L542.40,368.47 L542.59,368.62 L542.78,368.87 L542.96,369.28 L543.15,369.39 L543.34,369.72 L543.53,370.00 L543.71,370.55 L543.90,370.87 L544.09,371.08 L544.28,371.00 L544.46,371.17 L544.65,371.17 L544.84,371.26 L545.03,371.22 L545.22,371.21 L545.40,370.96 L545.59,370.70 L545.78,370.84 L545.97,370.98 L546.15,370.82 L546.34,370.77 L546.53,370.99 L546.72,370.94 L546.90,370.97 L547.09,371.30 L547.28,371.48 L547.47,371.57 L547.65,371.56 L547.84,371.76 L548.03,371.67 L548.22,371.51 L548.40,371.39 L548.59,371.11 L548.78,370.72 L548.97,370.58 L549.15,370.18 L549.34,370.35 L549.53,370.17 L549.72,370.30 L549.90,370.36 L550.09,370.64 L550.28,370.64 L550.47,371.01 L550.65,371.25 L550.84,371.64 L551.03,371.53 L551.22,371.95 L551.40,371.90 L551.59,372.04 L551.78,372.31 L551.97,372.71 L552.15,372.63 L552.34,372.59 L552.53,372.54 L552.72,372.60 L552.91,372.46 L553.09,372.79 L553.28,373.17 L553.47,373.18 L553.66,373.31 L553.84,373.72 L554.03,374.31 L554.22,374.80 L554.41,375.00 L554.59,375.27 L554.78,375.46 L554.97,375.34 L555.16,375.26 L555.34,375.29 L555.53,375.15 L555.72,374.89 L555.91,374.55 L556.09,374.46 L556.28,374.30 L556.47,374.11 L556.66,374.07 L556.84,374.28 L557.03,374.43 L557.22,374.64 L557.41,374.71 L557.59,375.00 L557.78,375.51 L557.97,375.78 L558.16,376.13 L558.34,376.27 L558.53,376.36 L558.72,376.37 L558.91,376.51 L559.09,376.52 L559.28,376.37 L559.47,376.41 L559.66,376.26 L559.85,376.30 L560.03,376.54 L560.22,377.03 L560.41,377.31 L560.60,377.70 L560.78,378.31 L560.97,378.95 L561.16,379.48 L561.35,380.31 L561.53,380.97 L561.72,381.39 L561.91,381.46 L562.10,381.78 L562.28,381.78 L562.47,381.83 L562.66,381.89 L562.85,381.83 L563.03,381.46 L563.22,381.30 L563.41,381.54 L563.60,381.83 L563.78,381.86 L563.97,382.32 L564.16,382.66 L564.35,383.02 L564.53,383.49 L564.72,384.03 L564.91,384.28 L565.10,384.51 L565.28,384.56 L565.47,385.07 L565.66,385.15 L565.85,385.11 L566.03,385.09 L566.22,384.93 L566.41,384.82 L566.60,385.05 L566.78,384.94 L566.97,385.15 L567.16,384.97 L567.35,384.87 L567.54,385.04 L567.72,385.53 L567.91,385.85 L568.10,386.36 L568.29,386.89 L568.47,387.41 L568.66,387.71 L568.85,388.18 L569.04,388.65 L569.22,388.99 L569.41,389.04 L569.60,389.20 L569.79,389.36 L569.97,389.31 L570.16,389.26 L570.35,389.42 L570.54,389.28 L570.72,389.40 L570.91,389.66 L571.10,390.01 L571.29,390.41 L571.47,390.87 L571.66,391.21 L571.85,391.74 L572.04,392.15 L572.22,393.08 L572.41,393.57 L572.60,393.89 L572.79,394.35 L572.97,394.55 L573.16,394.62 L573.35,394.77 L573.54,394.79 L573.72,395.02 L573.91,394.66 L574.10,394.69 L574.29,394.86 L574.47,394.59 L574.66,394.88 L574.85,394.91 L575.04,395.03 L575.23,395.20 L575.41,395.36 L575.60,396.09 L575.79,396.66 L575.98,396.75 L576.16,397.31 L576.35,397.50 L576.54,397.70 L576.73,398.04 L576.91,398.26 L577.10,398.31 L577.29,398.14 L577.48,397.97 L577.66,398.16 L577.85,397.88 L578.04,397.71 L578.23,398.38 L578.41,398.71 L578.60,398.90 L578.79,399.24 L578.98,399.73 L579.16,399.99 L579.35,400.74 L579.54,401.37 L579.73,402.06 L579.91,402.16 L580.10,402.37 L580.29,402.72 L580.48,403.06 L580.66,403.31 L580.85,403.46 L581.04,403.24 L581.23,403.55 L581.41,403.32 L581.60,403.16 L581.79,402.95 L581.98,403.05 L582.16,403.04 L582.35,403.16 L582.54,403.63 L582.73,403.96 L582.92,404.14 L583.10,404.84 L583.29,405.20 L583.48,406.07 L583.67,406.59 L583.85,407.08 L584.04,407.11 L584.23,407.17 L584.42,407.29 L584.60,407.41 L584.79,407.31 L584.98,407.57 L585.17,406.99 L585.35,406.57 L585.54,406.15 L585.73,406.29 L585.92,405.85 L586.10,405.98 L586.29,406.29 L586.48,406.48 L586.67,406.62 L586.85,407.09 L587.04,407.81 L587.23,408.38 L587.42,408.56 L587.60,409.53 L587.79,409.93 L587.98,410.24 L588.17,410.45 L588.35,410.54 L588.54,410.65 L588.73,410.42 L588.92,410.29 L589.10,410.47 L589.29,410.17 L589.48,410.18 L589.67,410.07 L589.86,410.17 L590.04,410.59 L590.23,410.89 L590.42,411.16 L590.61,411.73 L590.79,412.35 L590.98,413.13 L591.17,413.32 L591.36,413.84 L591.54,414.34 L591.73,414.67 L591.92,415.07 L592.11,415.33 L592.29,415.59 L592.48,415.70 L592.67,415.29 L592.86,415.31 L593.04,414.87 L593.23,414.66 L593.42,414.27 L593.61,413.88 L593.79,413.69 L593.98,413.57 L594.17,413.42 L594.36,413.67 L594.54,413.86 L594.73,414.16 L594.92,414.60 L595.11,415.45 L595.29,415.98 L595.48,416.47 L595.67,416.71 L595.86,416.74 L596.04,416.94 L596.23,417.23 L596.42,417.28 L596.61,417.23 L596.79,416.66 L596.98,416.61 L597.17,416.56 L597.36,416.51 L597.55,416.66 L597.73,416.96 L597.92,416.90 L598.11,417.49 L598.30,417.57 L598.48,417.87 L598.67,417.94 L598.86,418.40 L599.05,419.05 L599.23,419.87 L599.42,419.91 L599.61,420.73 L599.80,420.79 L599.98,421.74 L600.17,422.34 L600.36,422.91 L600.55,423.17 L600.73,423.22 L600.92,423.17 L601.11,423.61 L601.30,423.13 L601.48,423.06 L601.67,422.54 L601.86,422.32 L602.05,422.42 L602.23,422.19 L602.42,421.91 L602.61,421.91 L602.80,421.82 L602.98,421.98 L603.17,422.40 L603.36,422.33 L603.55,422.47 L603.73,422.74 L603.92,423.13 L604.11,423.44 L604.30,423.86 L604.48,424.06 L604.67,424.48 L604.86,424.55 L605.05,424.84 L605.24,425.17 L605.42,425.27 L605.61,425.55 L605.80,425.67 L605.99,425.13 L606.17,425.06 L606.36,424.90 L606.55,424.77 L606.74,424.64 L606.92,424.53 L607.11,424.58 L607.30,424.65 L607.49,424.81 L607.67,425.51 L607.86,426.14 L608.05,426.73 L608.24,427.58 L608.42,428.33 L608.61,429.50 L608.80,429.70 L608.99,430.28 L609.17,431.23 L609.36,431.44 L609.55,431.97 L609.74,432.04 L609.92,431.77 L610.11,432.05 L610.30,431.62 L610.49,431.60 L610.67,431.50 L610.86,431.10 L611.05,430.96 L611.24,430.22 L611.42,430.40 L611.61,430.61 L611.80,430.39 L611.99,431.05 L612.17,431.60 L612.36,432.23 L612.55,433.04 L612.74,433.18 L612.93,433.94 L613.11,434.01 L613.30,434.51 L613.49,435.04 L613.68,434.92 L613.86,435.23 L614.05,435.01 L614.24,434.67 L614.43,434.75 L614.61,434.75 L614.80,434.84 L614.99,434.66 L615.18,434.55 L615.36,434.55 L615.55,434.04 L615.74,434.03 L615.93,434.03 L616.11,434.50 L616.30,434.43 L616.49,434.71 L616.68,435.08 L616.86,435.61 L617.05,435.89 L617.24,436.70 L617.43,437.27 L617.61,437.83 L617.80,438.28 L617.99,439.23 L618.18,440.49 L618.36,440.86 L618.55,441.09 L618.74,441.85 L618.93,442.62 L619.11,443.63 L619.30,444.03 L619.49,444.85 L619.68,444.65 L619.87,444.97 L620.05,445.38 L620.24,445.72 L620.43,445.72 L620.62,445.84 L620.80,445.34 L620.99,445.83 L621.18,445.92 L621.37,446.76 L621.55,446.72 L621.74,447.37 L621.93,447.99 L622.12,448.72 L622.30,449.24 L622.49,450.32 L622.68,450.75 L622.87,451.79 L623.05,452.27 L623.24,453.61 L623.43,454.40 L623.62,455.58 L623.80,455.62 L623.99,455.94 L624.18,456.38 L624.37,457.02 L624.55,456.46 L624.74,456.93 L624.93,456.12 L625.12,456.55 L625.30,456.88 L625.49,457.49 L625.68,457.63 L625.87,458.42 L626.05,459.37 L626.24,461.59 L626.43,462.98 L626.62,465.26 L626.80,467.08 L626.99,469.42 L627.18,471.98 L627.37,474.85 L627.56,475.50 L627.74,475.50 L627.93,475.50 L628.12,475.50 L628.31,475.50 L628.49,475.50 L628.68,475.50 L628.87,475.50 L629.06,475.50 L629.24,475.50 L629.43,475.50 L629.62,475.50 L629.81,475.50 L629.99,475.50 L630.18,475.50 L630.37,475.50 L630.56,475.50 L630.74,475.50 L630.93,475.50 L631.12,475.50 L631.31,475.50 L631.49,475.50 L631.68,475.50 L631.87,475.50 L632.06,475.50 L632.24,475.50 L632.43,475.50 L632.62,475.50 L632.81,475.50 L632.99,475.50 L633.18,475.50 L633.37,475.50 L633.56,475.50 L633.74,475.50 L633.93,475.50 L634.12,475.50 L634.31,475.50 L634.49,475.50 L634.68,475.50 L634.87,475.50 L635.06,475.50 L635.25,475.50 L635.43,475.50 L635.62,475.50 L635.81,475.50 L636.00,475.50 L636.18,475.50 L636.37,475.50 L636.56,475.50 L636.75,475.50 L636.93,475.50 L637.12,475.50 L637.31,475.50 L637.50,475.50 L637.68,475.50 L637.87,475.50 L638.06,475.50 L638.25,475.50 L638.43,475.50 L638.62,475.50 L638.81,475.50 L639.00,475.50 L639.18,475.50 L639.37,475.50 L639.56,475.50 L639.75,475.50 L639.93,475.50 L640.12,475.50 L640.31,475.50 L640.50,475.50 L640.68,475.50 L640.87,475.50 L641.06,475.50 L641.25,475.50 L641.43,475.50 L641.62,475.50 L641.81,475.50 L642.00,475.50 L642.18,475.50 L642.37,475.50 L642.56,475.50 L642.75,475.50 L642.94,475.50 L643.12,475.50 L643.31,475.50 L643.50,475.50 L643.69,475.50 L643.87,475.50 L644.06,475.50 L644.25,475.50 L644.44,475.50 L644.62,475.50 L644.81,475.50 L645.00,475.50 L645.19,475.50 L645.37,475.50 L645.56,475.50 L645.75,475.50 L645.94,475.50 L646.12,475.50 L646.31,475.50 L646.50,475.50 L646.69,475.50 L646.87,475.50 L647.06,475.50 L647.25,475.50 L647.44,475.50 L647.62,475.50 L647.81,475.50 L648.00,475.50 L648.19,475.50 L648.37,475.50 L648.56,475.50 L648.75,475.50 L648.94,475.50 L649.12,475.50 L649.31,475.50 L649.50,475.50 L649.69,475.50 L649.88,475.50 L650.06,475.50 L650.25,475.50 L650.44,475.50 L650.63,475.50 L650.81,475.50 L651.00,475.50 L651.19,475.50 L651.38,475.50 L651.56,475.50 L651.75,475.50 L651.94,475.50 L652.13,475.50 L652.31,475.50 L652.50,475.50 L652.69,475.50 L652.88,475.50 L653.06,475.50 L653.25,475.50 L653.44,475.50 L653.63,475.50 L653.81,475.50 L654.00,475.50 L654.19,475.50 L654.38,475.50 L654.56,475.50 L654.75,475.50 L654.94,475.50 L655.13,475.50 L655.31,475.50 L655.50,475.50 L655.69,475.50 L655.88,475.50 L656.06,475.50 L656.25,475.50 L656.44,475.50 L656.63,475.50 L656.81,475.50 L657.00,475.50 L657.19,475.50 L657.38,475.50 L657.57,475.50 L657.75,475.50 L657.94,475.50 L658.13,475.50 L658.32,475.50 L658.50,475.50 L658.69,475.50 L658.88,475.50 L659.07,475.50 L659.25,475.50 L659.44,475.50 L659.63,475.50 L659.82,475.50 L660.00,475.50 L660.19,475.50 L660.38,475.50 L660.57,475.50 L660.75,475.50 L660.94,475.50 L661.13,475.50 L661.32,475.50 L661.50,475.50 L661.69,475.50 L661.88,475.50 L662.07,475.50 L662.25,475.50 L662.44,475.50 L662.63,475.50 L662.82,475.50 L663.00,475.50 L663.19,475.50 L663.38,475.50 L663.57,475.50 L663.75,475.50 L663.94,475.50 L664.13,475.50 L664.32,475.50 L664.50,475.50 L664.69,475.50 L664.88,475.50 L665.07,475.50 L665.26,475.50 L665.44,475.50 L665.63,475.50 L665.82,475.50 L666.01,475.50 L666.19,475.50 L666.38,475.50 L666.57,475.50 L666.76,475.50 L666.94,475.50 L667.13,475.50 L667.32,475.50 L667.51,475.50 L667.69,475.50 L667.88,475.50 L668.07,475.50 L668.26,475.50 L668.44,475.50 L668.63,475.50 L668.82,475.50 L669.01,475.50 L669.19,475.50 L669.38,475.50 L669.57,475.50 L669.76,475.50 L669.94,475.50 L670.13,475.50 L670.32,475.50 L670.51,475.50 L670.69,475.50 L670.88,475.50 L671.07,475.50 L671.26,475.50 L671.44,475.50 L671.63,475.50 L671.82,475.50 L672.01,475.50 L672.19,475.50 L672.38,475.50 L672.57,475.50 L672.76,475.50 L672.95,475.50 L673.13,475.50 L673.32,475.50 L673.51,475.50 L673.70,475.50 L673.88,475.50 L674.07,475.50 L674.26,475.50 L674.45,475.50 L674.63,475.50 L674.82,475.50 L675.01,475.50 L675.20,475.50 L675.38,475.50 L675.57,475.50 L675.76,475.50 L675.95,475.50 L676.13,475.50 L676.32,475.50 L676.51,475.50 L676.70,475.50 L676.88,475.50 L677.07,475.50 L677.26,475.50 L677.45,475.50 L677.63,475.50 L677.82,475.50 L678.01,475.50 L678.20,475.50 L678.38,475.50 L678.57,475.50 L678.76,475.50 L678.95,475.50 L679.13,475.50 L679.32,475.50 L679.51,475.50 L679.70,475.50 L679.89,475.50 L680.07,475.50 L680.26,475.50 L680.45,475.50 L680.64,475.50 L680.82,475.50 L681.01,475.50 L681.20,475.50 L681.39,475.50 L681.57,475.50 L681.76,475.50 L681.95,475.50 L682.14,475.50 L682.32,475.50 L682.51,475.50 L682.70,475.50 L682.89,475.50 L683.07,475.50 L683.26,475.50 L683.45,475.50 L683.64,475.50 L683.82,475.50 L684.01,475.50 L684.20,475.50 L684.39,475.50 L684.57,475.50 L684.76,475.50 L684.95,475.50 L685.14,475.50 L685.32,475.50 L685.51,475.50 L685.70,475.50 L685.89,475.50 L686.07,475.50 L686.26,475.50 L686.45,475.50 L686.64,475.50 L686.82,475.50 L687.01,475.50 L687.20,475.50" fill="none" stroke="#3c26c8" stroke-width="1.4" stroke-linejoin="round" clip-path="url(#cc)" />
<path d="M424.80,475.50 L424.99,475.50 L425.18,475.50 L425.36,475.50 L425.55,468.28 L425.74,453.15 L425.93,439.47 L426.11,426.93 L426.30,416.13 L426.49,408.01 L426.68,401.95 L426.86,396.31 L427.05,390.97 L427.24,386.10 L427.43,381.35 L427.61,377.08 L427.80,373.41 L427.99,370.09 L428.18,367.16 L428.36,364.65 L428.55,362.62 L428.74,360.93 L428.93,359.39 L429.11,358.29 L429.30,357.11 L429.49,355.89 L429.68,354.65 L429.86,353.43 L430.05,352.33 L430.24,351.08 L430.43,349.89 L430.61,348.99 L430.80,348.00 L430.99,347.09 L431.18,346.18 L431.36,345.58 L431.55,345.32 L431.74,344.71 L431.93,344.28 L432.11,343.97 L432.30,343.40 L432.49,342.89 L432.68,342.32 L432.87,341.77 L433.05,341.25 L433.24,340.42 L433.43,339.69 L433.62,338.93 L433.80,338.11 L433.99,337.49 L434.18,336.95 L434.37,336.70 L434.55,336.44 L434.74,336.27 L434.93,336.17 L435.12,336.25 L435.30,336.02 L435.49,335.69 L435.68,335.40 L435.87,334.88 L436.05,334.27 L436.24,333.71 L436.43,332.92 L436.62,332.36 L436.80,331.63 L436.99,331.10 L437.18,330.91 L437.37,330.53 L437.55,330.45 L437.74,330.05 L437.93,329.82 L438.12,329.53 L438.30,329.08 L438.49,328.69 L438.68,328.48 L438.87,327.72 L439.05,327.30 L439.24,326.64 L439.43,326.13 L439.62,325.69 L439.81,325.28 L439.99,324.88 L440.18,324.66 L440.37,324.46 L440.56,324.72 L440.74,324.64 L440.93,324.65 L441.12,324.64 L441.31,324.49 L441.49,324.22 L441.68,324.02 L441.87,323.62 L442.06,323.03 L442.24,322.39 L442.43,321.87 L442.62,321.24 L442.81,320.79 L442.99,320.56 L443.18,320.43 L443.37,320.24 L443.56,320.08 L443.74,320.07 L443.93,319.97 L444.12,319.88 L444.31,319.78 L444.49,319.52 L444.68,319.05 L444.87,318.59 L445.06,318.15 L445.24,317.66 L445.43,317.22 L445.62,316.70 L445.81,316.21 L445.99,315.97 L446.18,315.90 L446.37,315.67 L446.56,315.68 L446.74,315.61 L446.93,315.72 L447.12,315.74 L447.31,315.63 L447.50,315.48 L447.68,315.24 L447.87,314.82 L448.06,314.60 L448.25,314.24 L448.43,313.95 L448.62,313.46 L448.81,313.07 L449.00,313.04 L449.18,313.02 L449.37,313.12 L449.56,313.30 L449.75,313.31 L449.93,313.40 L450.12,313.56 L450.31,313.75 L450.50,313.67 L450.68,313.40 L450.87,313.04 L451.06,312.70 L451.25,312.24 L451.43,311.92 L451.62,311.58 L451.81,311.15 L452.00,310.89 L452.18,310.90 L452.37,310.83 L452.56,311.07 L452.75,311.07 L452.93,311.16 L453.12,311.14 L453.31,311.10 L453.50,311.00 L453.68,310.80 L453.87,310.33 L454.06,310.13 L454.25,309.67 L454.43,309.37 L454.62,309.21 L454.81,308.86 L455.00,308.73 L455.19,308.87 L455.37,308.86 L455.56,309.20 L455.75,309.30 L455.94,309.43 L456.12,309.61 L456.31,309.63 L456.50,309.89 L456.69,309.82 L456.87,309.68 L457.06,309.69 L457.25,309.39 L457.44,309.13 L457.62,308.98 L457.81,308.68 L458.00,308.57 L458.19,308.62 L458.37,308.75 L458.56,308.95 L458.75,309.11 L458.94,309.35 L459.12,309.53 L459.31,309.56 L459.50,309.69 L459.69,309.65 L459.87,309.50 L460.06,309.21 L460.25,308.70 L460.44,308.27 L460.62,307.97 L460.81,307.61 L461.00,307.44 L461.19,307.36 L461.37,307.40 L461.56,307.42 L461.75,307.56 L461.94,307.75 L462.12,307.90 L462.31,307.87 L462.50,307.96 L462.69,307.92 L462.88,307.81 L463.06,307.57 L463.25,307.38 L463.44,307.24 L463.63,306.93 L463.81,306.91 L464.00,306.79 L464.19,307.00 L464.38,307.23 L464.56,307.36 L464.75,307.66 L464.94,307.88 L465.13,308.11 L465.31,308.51 L465.50,308.61 L465.69,308.86 L465.88,308.65 L466.06,308.55 L466.25,308.30 L466.44,308.29 L466.63,308.09 L466.81,307.83 L467.00,307.67 L467.19,307.51 L467.38,307.42 L467.56,307.66 L467.75,307.75 L467.94,307.83 L468.13,307.76 L468.31,307.87 L468.50,308.02 L468.69,307.99 L468.88,308.09 L469.06,308.01 L469.25,307.58 L469.44,307.30 L469.63,307.24 L469.82,306.99 L470.00,306.74 L470.19,306.62 L470.38,306.52 L470.57,306.48 L470.75,306.68 L470.94,307.02 L471.13,307.59 L471.32,307.97 L471.50,308.29 L471.69,308.69 L471.88,308.86 L472.07,309.10 L472.25,309.20 L472.44,308.90 L472.63,308.87 L472.82,308.58 L473.00,308.35 L473.19,308.37 L473.38,308.28 L473.57,308.37 L473.75,308.39 L473.94,308.70 L474.13,309.13 L474.32,309.44 L474.50,309.75 L474.69,309.94 L474.88,310.08 L475.07,310.02 L475.25,309.92 L475.44,309.84 L475.63,309.52 L475.82,309.30 L476.00,309.27 L476.19,309.03 L476.38,309.10 L476.57,309.03 L476.75,309.27 L476.94,309.45 L477.13,309.82 L477.32,309.96 L477.51,310.13 L477.69,310.26 L477.88,310.48 L478.07,310.54 L478.26,310.53 L478.44,310.38 L478.63,310.47 L478.82,310.38 L479.01,310.53 L479.19,310.75 L479.38,310.87 L479.57,310.92 L479.76,311.19 L479.94,311.41 L480.13,311.79 L480.32,312.12 L480.51,312.51 L480.69,312.81 L480.88,312.90 L481.07,313.05 L481.26,313.33 L481.44,313.27 L481.63,313.32 L481.82,313.33 L482.01,312.97 L482.19,312.70 L482.38,312.48 L482.57,312.57 L482.76,312.48 L482.94,312.42 L483.13,312.72 L483.32,312.92 L483.51,313.24 L483.69,313.61 L483.88,313.97 L484.07,314.03 L484.26,314.07 L484.44,314.05 L484.63,313.95 L484.82,313.79 L485.01,313.87 L485.20,313.62 L485.38,313.41 L485.57,313.20 L485.76,313.28 L485.95,313.30 L486.13,313.64 L486.32,313.93 L486.51,313.98 L486.70,314.21 L486.88,314.72 L487.07,315.18 L487.26,315.55 L487.45,315.84 L487.63,316.17 L487.82,316.15 L488.01,316.38 L488.20,316.44 L488.38,316.22 L488.57,315.89 L488.76,315.96 L488.95,315.91 L489.13,316.25 L489.32,316.31 L489.51,316.53 L489.70,316.70 L489.88,317.05 L490.07,317.47 L490.26,317.78 L490.45,317.89 L490.63,318.07 L490.82,318.08 L491.01,318.20 L491.20,318.17 L491.38,317.95 L491.57,317.84 L491.76,317.59 L491.95,317.63 L492.13,317.61 L492.32,317.64 L492.51,317.62 L492.70,317.69 L492.89,317.98 L493.07,318.23 L493.26,318.61 L493.45,319.01 L493.64,319.27 L493.82,319.42 L494.01,319.77 L494.20,319.86 L494.39,320.03 L494.57,320.00 L494.76,320.03 L494.95,320.10 L495.14,320.33 L495.32,320.49 L495.51,320.74 L495.70,321.00 L495.89,321.33 L496.07,321.76 L496.26,322.27 L496.45,322.82 L496.64,323.11 L496.82,323.42 L497.01,323.68 L497.20,323.93 L497.39,323.94 L497.57,324.22 L497.76,324.14 L497.95,323.98 L498.14,323.78 L498.32,323.58 L498.51,323.44 L498.70,323.42 L498.89,323.59 L499.07,323.73 L499.26,323.70 L499.45,323.87 L499.64,324.28 L499.83,324.69 L500.01,325.11 L500.20,325.30 L500.39,325.52 L500.58,325.64 L500.76,325.80 L500.95,325.93 L501.14,326.09 L501.33,325.94 L501.51,325.88 L501.70,325.94 L501.89,326.10 L502.08,326.35 L502.26,326.55 L502.45,326.88 L502.64,327.27 L502.83,327.58 L503.01,328.13 L503.20,328.83 L503.39,329.34 L503.58,329.86 L503.76,330.24 L503.95,330.55 L504.14,330.58 L504.33,330.54 L504.51,330.71 L504.70,330.66 L504.89,330.46 L505.08,330.61 L505.26,330.69 L505.45,330.77 L505.64,330.96 L505.83,331.49 L506.01,332.03 L506.20,332.30 L506.39,332.67 L506.58,332.98 L506.76,333.23 L506.95,333.33 L507.14,333.45 L507.33,333.67 L507.52,333.53 L507.70,333.53 L507.89,333.57 L508.08,333.68 L508.27,333.77 L508.45,333.83 L508.64,334.19 L508.83,334.44 L509.02,334.66 L509.20,335.18 L509.39,335.53 L509.58,336.11 L509.77,336.65 L509.95,337.26 L510.14,337.83 L510.33,338.21 L510.52,338.43 L510.70,338.75 L510.89,338.89 L511.08,339.22 L511.27,339.36 L511.45,339.33 L511.64,339.39 L511.83,339.56 L512.02,339.81 L512.20,340.39 L512.39,340.81 L512.58,341.36 L512.77,341.83 L512.95,342.25 L513.14,342.79 L513.33,343.24 L513.52,343.54 L513.70,343.92 L513.89,344.05 L514.08,344.18 L514.27,344.10 L514.45,344.03 L514.64,344.03 L514.83,344.16 L515.02,344.45 L515.21,344.54 L515.39,344.58 L515.58,345.02 L515.77,345.34 L515.96,345.77 L516.14,346.39 L516.33,346.81 L516.52,347.30 L516.71,347.68 L516.89,348.04 L517.08,348.45 L517.27,348.65 L517.46,348.81 L517.64,349.24 L517.83,349.17 L518.02,349.55 L518.21,349.70 L518.39,349.91 L518.58,350.30 L518.77,350.65 L518.96,351.14 L519.14,351.67 L519.33,352.10 L519.52,352.88 L519.71,353.41 L519.89,354.04 L520.08,354.55 L520.27,354.90 L520.46,355.30 L520.64,355.37 L520.83,355.55 L521.02,355.71 L521.21,355.87 L521.39,355.97 L521.58,355.96 L521.77,356.03 L521.96,356.37 L522.14,356.53 L522.33,357.10 L522.52,357.62 L522.71,357.95 L522.90,358.07 L523.08,358.42 L523.27,358.93 L523.46,359.25 L523.65,359.42 L523.83,359.65 L524.02,359.70 L524.21,359.76 L524.40,359.83 L524.58,360.02 L524.77,359.99 L524.96,359.82 L525.15,360.09 L525.33,360.41 L525.52,360.79 L525.71,361.16 L525.90,361.49 L526.08,361.95 L526.27,362.46 L526.46,362.98 L526.65,363.64 L526.83,364.07 L527.02,364.48 L527.21,364.81 L527.40,365.04 L527.58,365.32 L527.77,365.33 L527.96,365.32 L528.15,365.43 L528.33,365.48 L528.52,365.54 L528.71,365.56 L528.90,365.45 L529.08,365.74 L529.27,365.81 L529.46,366.08 L529.65,366.37 L529.84,366.64 L530.02,366.73 L530.21,366.85 L530.40,366.82 L530.59,366.86 L530.77,366.69 L530.96,366.63 L531.15,366.49 L531.34,366.19 L531.52,365.82 L531.71,365.63 L531.90,365.45 L532.09,365.52 L532.27,365.63 L532.46,365.60 L532.65,365.79 L532.84,366.02 L533.02,366.34 L533.21,366.64 L533.40,367.05 L533.59,367.16 L533.77,367.33 L533.96,367.48 L534.15,367.55 L534.34,367.27 L534.52,366.88 L534.71,366.77 L534.90,366.69 L535.09,366.40 L535.27,366.52 L535.46,366.34 L535.65,366.50 L535.84,366.49 L536.02,366.72 L536.21,367.25 L536.40,367.65 L536.59,367.85 L536.77,368.20 L536.96,368.30 L537.15,368.49 L537.34,368.61 L537.53,368.71 L537.71,368.66 L537.90,368.51 L538.09,368.21 L538.28,368.21 L538.46,367.94 L538.65,367.73 L538.84,367.64 L539.03,367.45 L539.21,367.41 L539.40,367.47 L539.59,367.61 L539.78,367.73 L539.96,367.73 L540.15,367.85 L540.34,368.03 L540.53,368.18 L540.71,368.23 L540.90,368.31 L541.09,368.29 L541.28,368.10 L541.46,368.05 L541.65,367.97 L541.84,368.03 L542.03,367.78 L542.21,367.71 L542.40,367.63 L542.59,367.78 L542.78,368.03 L542.96,368.44 L543.15,368.55 L543.34,368.88 L543.53,369.16 L543.71,369.72 L543.90,370.04 L544.09,370.25 L544.28,370.17 L544.46,370.34 L544.65,370.34 L544.84,370.43 L545.03,370.39 L545.22,370.38 L545.40,370.13 L545.59,369.88 L545.78,370.02 L545.97,370.16 L546.15,369.99 L546.34,369.95 L546.53,370.17 L546.72,370.12 L546.90,370.15 L547.09,370.47 L547.28,370.65 L547.47,370.75 L547.65,370.74 L547.84,370.94 L548.03,370.85 L548.22,370.68 L548.40,370.57 L548.59,370.28 L548.78,369.89 L548.97,369.75 L549.15,369.35 L549.34,369.53 L549.53,369.35 L549.72,369.47 L549.90,369.53 L550.09,369.82 L550.28,369.82 L550.47,370.18 L550.65,370.42 L550.84,370.81 L551.03,370.70 L551.22,371.11 L551.40,371.07 L551.59,371.21 L551.78,371.48 L551.97,371.88 L552.15,371.80 L552.34,371.75 L552.53,371.70 L552.72,371.77 L552.91,371.62 L553.09,371.95 L553.28,372.33 L553.47,372.34 L553.66,372.47 L553.84,372.87 L554.03,373.47 L554.22,373.95 L554.41,374.15 L554.59,374.43 L554.78,374.61 L554.97,374.50 L555.16,374.42 L555.34,374.45 L555.53,374.31 L555.72,374.05 L555.91,373.71 L556.09,373.62 L556.28,373.46 L556.47,373.27 L556.66,373.23 L556.84,373.44 L557.03,373.60 L557.22,373.81 L557.41,373.88 L557.59,374.17 L557.78,374.69 L557.97,374.96 L558.16,375.31 L558.34,375.45 L558.53,375.55 L558.72,375.56 L558.91,375.70 L559.09,375.72 L559.28,375.57 L559.47,375.62 L559.66,375.47 L559.85,375.51 L560.03,375.76 L560.22,376.25 L560.41,376.54 L560.60,376.93 L560.78,377.55 L560.97,378.19 L561.16,378.72 L561.35,379.55 L561.53,380.22 L561.72,380.64 L561.91,380.71 L562.10,381.04 L562.28,381.04 L562.47,381.10 L562.66,381.16 L562.85,381.10 L563.03,380.73 L563.22,380.57 L563.41,380.81 L563.60,381.10 L563.78,381.14 L563.97,381.60 L564.16,381.94 L564.35,382.30 L564.53,382.78 L564.72,383.32 L564.91,383.56 L565.10,383.80 L565.28,383.85 L565.47,384.36 L565.66,384.45 L565.85,384.40 L566.03,384.38 L566.22,384.23 L566.41,384.12 L566.60,384.36 L566.78,384.25 L566.97,384.46 L567.16,384.28 L567.35,384.19 L567.54,384.35 L567.72,384.85 L567.91,385.17 L568.10,385.68 L568.29,386.22 L568.47,386.74 L568.66,387.04 L568.85,387.52 L569.04,387.99 L569.22,388.33 L569.41,388.38 L569.60,388.54 L569.79,388.70 L569.97,388.66 L570.16,388.61 L570.35,388.77 L570.54,388.63 L570.72,388.75 L570.91,389.01 L571.10,389.35 L571.29,389.75 L571.47,390.22 L571.66,390.56 L571.85,391.08 L572.04,391.50 L572.22,392.43 L572.41,392.92 L572.60,393.24 L572.79,393.70 L572.97,393.90 L573.16,393.97 L573.35,394.12 L573.54,394.13 L573.72,394.36 L573.91,394.00 L574.10,394.03 L574.29,394.20 L574.47,393.93 L574.66,394.22 L574.85,394.25 L575.04,394.37 L575.23,394.53 L575.41,394.69 L575.60,395.42 L575.79,395.99 L575.98,396.09 L576.16,396.65 L576.35,396.83 L576.54,397.03 L576.73,397.37 L576.91,397.59 L577.10,397.64 L577.29,397.48 L577.48,397.30 L577.66,397.50 L577.85,397.22 L578.04,397.04 L578.23,397.71 L578.41,398.05 L578.60,398.24 L578.79,398.59 L578.98,399.08 L579.16,399.34 L579.35,400.09 L579.54,400.72 L579.73,401.41 L579.91,401.52 L580.10,401.73 L580.29,402.08 L580.48,402.43 L580.66,402.67 L580.85,402.83 L581.04,402.61 L581.23,402.92 L581.41,402.69 L581.60,402.54 L581.79,402.33 L581.98,402.43 L582.16,402.42 L582.35,402.54 L582.54,403.02 L582.73,403.35 L582.92,403.53 L583.10,404.24 L583.29,404.60 L583.48,405.46 L583.67,405.99 L583.85,406.48 L584.04,406.51 L584.23,406.58 L584.42,406.70 L584.60,406.82 L584.79,406.72 L584.98,406.98 L585.17,406.41 L585.35,405.99 L585.54,405.57 L585.73,405.72 L585.92,405.27 L586.10,405.41 L586.29,405.72 L586.48,405.91 L586.67,406.06 L586.85,406.53 L587.04,407.25 L587.23,407.82 L587.42,408.00 L587.60,408.97 L587.79,409.38 L587.98,409.69 L588.17,409.90 L588.35,409.99 L588.54,410.10 L588.73,409.88 L588.92,409.75 L589.10,409.94 L589.29,409.63 L589.48,409.65 L589.67,409.54 L589.86,409.64 L590.04,410.06 L590.23,410.36 L590.42,410.63 L590.61,411.21 L590.79,411.83 L590.98,412.61 L591.17,412.81 L591.36,413.33 L591.54,413.83 L591.73,414.16 L591.92,414.56 L592.11,414.82 L592.29,415.08 L592.48,415.19 L592.67,414.79 L592.86,414.80 L593.04,414.37 L593.23,414.15 L593.42,413.77 L593.61,413.38 L593.79,413.19 L593.98,413.08 L594.17,412.92 L594.36,413.18 L594.54,413.37 L594.73,413.67 L594.92,414.11 L595.11,414.96 L595.29,415.49 L595.48,415.99 L595.67,416.23 L595.86,416.26 L596.04,416.46 L596.23,416.75 L596.42,416.81 L596.61,416.75 L596.79,416.18 L596.98,416.14 L597.17,416.09 L597.36,416.04 L597.55,416.19 L597.73,416.49 L597.92,416.43 L598.11,417.02 L598.30,417.10 L598.48,417.41 L598.67,417.48 L598.86,417.94 L599.05,418.59 L599.23,419.41 L599.42,419.46 L599.61,420.27 L599.80,420.33 L599.98,421.28 L600.17,421.89 L600.36,422.46 L600.55,422.72 L600.73,422.77 L600.92,422.72 L601.11,423.16 L601.30,422.68 L601.48,422.62 L601.67,422.10 L601.86,421.88 L602.05,421.99 L602.23,421.75 L602.42,421.48 L602.61,421.48 L602.80,421.39 L602.98,421.55 L603.17,421.97 L603.36,421.91 L603.55,422.04 L603.73,422.31 L603.92,422.71 L604.11,423.02 L604.30,423.44 L604.48,423.63 L604.67,424.06 L604.86,424.13 L605.05,424.42 L605.24,424.75 L605.42,424.85 L605.61,425.13 L605.80,425.25 L605.99,424.72 L606.17,424.64 L606.36,424.49 L606.55,424.36 L606.74,424.23 L606.92,424.12 L607.11,424.17 L607.30,424.24 L607.49,424.40 L607.67,425.10 L607.86,425.73 L608.05,426.33 L608.24,427.18 L608.42,427.93 L608.61,429.10 L608.80,429.30 L608.99,429.89 L609.17,430.83 L609.36,431.05 L609.55,431.59 L609.74,431.66 L609.92,431.38 L610.11,431.67 L610.30,431.25 L610.49,431.23 L610.67,431.13 L610.86,430.73 L611.05,430.59 L611.24,429.85 L611.42,430.04 L611.61,430.24 L611.80,430.03 L611.99,430.69 L612.17,431.25 L612.36,431.87 L612.55,432.69 L612.74,432.83 L612.93,433.60 L613.11,433.66 L613.30,434.17 L613.49,434.70 L613.68,434.58 L613.86,434.90 L614.05,434.68 L614.24,434.33 L614.43,434.42 L614.61,434.42 L614.80,434.51 L614.99,434.34 L615.18,434.22 L615.36,434.23 L615.55,433.71 L615.74,433.71 L615.93,433.71 L616.11,434.18 L616.30,434.11 L616.49,434.39 L616.68,434.77 L616.86,435.31 L617.05,435.58 L617.24,436.39 L617.43,436.97 L617.61,437.54 L617.80,437.99 L617.99,438.94 L618.18,440.20 L618.36,440.57 L618.55,440.80 L618.74,441.57 L618.93,442.34 L619.11,443.35 L619.30,443.75 L619.49,444.57 L619.68,444.37 L619.87,444.69 L620.05,445.11 L620.24,445.45 L620.43,445.45 L620.62,445.57 L620.80,445.07 L620.99,445.56 L621.18,445.65 L621.37,446.49 L621.55,446.45 L621.74,447.09 L621.93,447.72 L622.12,448.44 L622.30,448.97 L622.49,450.04 L622.68,450.47 L622.87,451.51 L623.05,451.98 L623.24,453.33 L623.43,454.11 L623.62,455.28 L623.80,455.31 L623.99,455.61 L624.18,456.02 L624.37,456.64 L624.55,456.06 L624.74,456.50 L624.93,455.66 L625.12,456.06 L625.30,456.37 L625.49,456.95 L625.68,457.07 L625.87,457.86 L626.05,458.82 L626.24,461.06 L626.43,462.47 L626.62,464.78 L626.80,466.61 L626.99,468.98 L627.18,471.56 L627.37,474.44 L627.56,475.50 L627.74,475.50 L627.93,475.50 L628.12,475.50 L628.31,475.50 L628.49,475.50 L628.68,475.50 L628.87,475.50 L629.06,475.50 L629.24,475.50 L629.43,475.50 L629.62,475.50 L629.81,475.50 L629.99,475.50 L630.18,475.50 L630.37,475.50 L630.56,475.50 L630.74,475.50 L630.93,475.50 L631.12,475.50 L631.31,475.50 L631.49,475.50 L631.68,475.50 L631.87,475.50 L632.06,475.50 L632.24,475.50 L632.43,475.50 L632.62,475.50 L632.81,475.50 L632.99,475.50 L633.18,475.50 L633.37,475.50 L633.56,475.50 L633.74,475.50 L633.93,475.50 L634.12,475.50 L634.31,475.50 L634.49,475.50 L634.68,475.50 L634.87,475.50 L635.06,475.50 L635.25,475.50 L635.43,475.50 L635.62,475.50 L635.81,475.50 L636.00,475.50 L636.18,475.50 L636.37,475.50 L636.56,475.50 L636.75,475.50 L636.93,475.50 L637.12,475.50 L637.31,475.50 L637.50,475.50 L637.68,475.50 L637.87,475.50 L638.06,475.50 L638.25,475.50 L638.43,475.50 L638.62,475.50 L638.81,475.50 L639.00,475.50 L639.18,475.50 L639.37,475.50 L639.56,475.50 L639.75,475.50 L639.93,475.50 L640.12,475.50 L640.31,475.50 L640.50,475.50 L640.68,475.50 L640.87,475.50 L641.06,475.50 L641.25,475.50 L641.43,475.50 L641.62,475.50 L641.81,475.50 L642.00,475.50 L642.18,475.50 L642.37,475.50 L642.56,475.50 L642.75,475.50 L642.94,475.50 L643.12,475.50 L643.31,475.50 L643.50,475.50 L643.69,475.50 L643.87,475.50 L644.06,475.50 L644.25,475.50 L644.44,475.50 L644.62,475.50 L644.81,475.50 L645.00,475.50 L645.19,475.50 L645.37,475.50 L645.56,475.50 L645.75,475.50 L645.94,475.50 L646.12,475.50 L646.31,475.50 L646.50,475.50 L646.69,475.50 L646.87,475.50 L647.06,475.50 L647.25,475.50 L647.44,475.50 L647.62,475.50 L647.81,475.50 L648.00,475.50 L648.19,475.50 L648.37,475.50 L648.56,475.50 L648.75,475.50 L648.94,475.50 L649.12,475.50 L649.31,475.50 L649.50,475.50 L649.69,475.50 L649.88,475.50 L650.06,475.50 L650.25,475.50 L650.44,475.50 L650.63,475.50 L650.81,475.50 L651.00,475.50 L651.19,475.50 L651.38,475.50 L651.56,475.50 L651.75,475.50 L651.94,475.50 L652.13,475.50 L652.31,475.50 L652.50,475.50 L652.69,475.50 L652.88,475.50 L653.06,475.50 L653.25,475.50 L653.44,475.50 L653.63,475.50 L653.81,475.50 L654.00,475.50 L654.19,475.50 L654.38,475.50 L654.56,475.50 L654.75,475.50 L654.94,475.50 L655.13,475.50 L655.31,475.50 L655.50,475.50 L655.69,475.50 L655.88,475.50 L656.06,475.50 L656.25,475.50 L656.44,475.50 L656.63,475.50 L656.81,475.50 L657.00,475.50 L657.19,475.50 L657.38,475.50 L657.57,475.50 L657.75,475.50 L657.94,475.50 L658.13,475.50 L658.32,475.50 L658.50,475.50 L658.69,475.50 L658.88,475.50 L659.07,475.50 L659.25,475.50 L659.44,475.50 L659.63,475.50 L659.82,475.50 L660.00,475.50 L660.19,475.50 L660.38,475.50 L660.57,475.50 L660.75,475.50 L660.94,475.50 L661.13,475.50 L661.32,475.50 L661.50,475.50 L661.69,475.50 L661.88,475.50 L662.07,475.50 L662.25,475.50 L662.44,475.50 L662.63,475.50 L662.82,475.50 L663.00,475.50 L663.19,475.50 L663.38,475.50 L663.57,475.50 L663.75,475.50 L663.94,475.50 L664.13,475.50 L664.32,475.50 L664.50,475.50 L664.69,475.50 L664.88,475.50 L665.07,475.50 L665.26,475.50 L665.44,475.50 L665.63,475.50 L665.82,475.50 L666.01,475.50 L666.19,475.50 L666.38,475.50 L666.57,475.50 L666.76,475.50 L666.94,475.50 L667.13,475.50 L667.32,475.50 L667.51,475.50 L667.69,475.50 L667.88,475.50 L668.07,475.50 L668.26,475.50 L668.44,475.50 L668.63,475.50 L668.82,475.50 L669.01,475.50 L669.19,475.50 L669.38,475.50 L669.57,475.50 L669.76,475.50 L669.94,475.50 L670.13,475.50 L670.32,475.50 L670.51,475.50 L670.69,475.50 L670.88,475.50 L671.07,475.50 L671.26,475.50 L671.44,475.50 L671.63,475.50 L671.82,475.50 L672.01,475.50 L672.19,475.50 L672.38,475.50 L672.57,475.50 L672.76,475.50 L672.95,475.50 L673.13,475.50 L673.32,475.50 L673.51,475.50 L673.70,475.50 L673.88,475.50 L674.07,475.50 L674.26,475.50 L674.45,475.50 L674.63,475.50 L674.82,475.50 L675.01,475.50 L675.20,475.50 L675.38,475.50 L675.57,475.50 L675.76,475.50 L675.95,475.50 L676.13,475.50 L676.32,475.50 L676.51,475.50 L676.70,475.50 L676.88,475.50 L677.07,475.50 L677.26,475.50 L677.45,475.50 L677.63,475.50 L677.82,475.50 L678.01,475.50 L678.20,475.50 L678.38,475.50 L678.57,475.50 L678.76,475.50 L678.95,475.50 L679.13,475.50 L679.32,475.50 L679.51,475.50 L679.70,475.50 L679.89,475.50 L680.07,475.50 L680.26,475.50 L680.45,475.50 L680.64,475.50 L680.82,475.50 L681.01,475.50 L681.20,475.50 L681.39,475.50 L681.57,475.50 L681.76,475.50 L681.95,475.50 L682.14,475.50 L682.32,475.50 L682.51,475.50 L682.70,475.50 L682.89,475.50 L683.07,475.50 L683.26,475.50 L683.45,475.50 L683.64,475.50 L683.82,475.50 L684.01,475.50 L684.20,475.50 L684.39,475.50 L684.57,475.50 L684.76,475.50 L684.95,475.50 L685.14,475.50 L685.32,475.50 L685.51,475.50 L685.70,475.50 L685.89,475.50 L686.07,475.50 L686.26,475.50 L686.45,475.50 L686.64,475.50 L686.82,475.50 L687.01,475.50 L687.20,475.50" fill="none" stroke="#7a1e86" stroke-width="1.4" stroke-linejoin="round" clip-path="url(#cc)" />
<path d="M424.80,475.50 L424.99,475.50 L425.18,475.50 L425.36,475.50 L425.55,466.09 L425.74,450.47 L425.93,436.05 L426.11,422.39 L426.30,410.58 L426.49,401.93 L426.68,395.71 L426.86,389.90 L427.05,384.39 L427.24,379.34 L427.43,374.43 L427.61,370.00 L427.80,366.18 L427.99,362.73 L428.18,359.68 L428.36,357.06 L428.55,354.96 L428.74,353.25 L428.93,351.74 L429.11,350.66 L429.30,349.51 L429.49,348.32 L429.68,347.11 L429.86,345.91 L430.05,344.83 L430.24,343.60 L430.43,342.43 L430.61,341.55 L430.80,340.59 L430.99,339.70 L431.18,338.82 L431.36,338.25 L431.55,338.01 L431.74,337.43 L431.93,337.04 L432.11,336.75 L432.30,336.21 L432.49,335.73 L432.68,335.19 L432.87,334.66 L433.05,334.15 L433.24,333.35 L433.43,332.63 L433.62,331.89 L433.80,331.10 L433.99,330.50 L434.18,329.98 L434.37,329.75 L434.55,329.52 L434.74,329.37 L434.93,329.29 L435.12,329.40 L435.30,329.18 L435.49,328.88 L435.68,328.61 L435.87,328.11 L436.05,327.52 L436.24,326.98 L436.43,326.21 L436.62,325.67 L436.80,324.96 L436.99,324.44 L437.18,324.27 L437.37,323.91 L437.55,323.85 L437.74,323.47 L437.93,323.25 L438.12,322.98 L438.30,322.55 L438.49,322.18 L438.68,321.98 L438.87,321.24 L439.05,320.83 L439.24,320.19 L439.43,319.70 L439.62,319.27 L439.81,318.88 L439.99,318.50 L440.18,318.29 L440.37,318.11 L440.56,318.38 L440.74,318.31 L440.93,318.33 L441.12,318.34 L441.31,318.20 L441.49,317.95 L441.68,317.76 L441.87,317.37 L442.06,316.80 L442.24,316.17 L442.43,315.66 L442.62,315.04 L442.81,314.60 L442.99,314.39 L443.18,314.26 L443.37,314.08 L443.56,313.93 L443.74,313.93 L443.93,313.84 L444.12,313.75 L444.31,313.67 L444.49,313.41 L444.68,312.95 L444.87,312.49 L445.06,312.05 L445.24,311.57 L445.43,311.14 L445.62,310.62 L445.81,310.14 L445.99,309.90 L446.18,309.83 L446.37,309.60 L446.56,309.62 L446.74,309.55 L446.93,309.66 L447.12,309.69 L447.31,309.58 L447.50,309.43 L447.68,309.20 L447.87,308.77 L448.06,308.57 L448.25,308.20 L448.43,307.92 L448.62,307.44 L448.81,307.05 L449.00,307.02 L449.18,307.01 L449.37,307.12 L449.56,307.30 L449.75,307.32 L449.93,307.41 L450.12,307.58 L450.31,307.77 L450.50,307.71 L450.68,307.44 L450.87,307.09 L451.06,306.76 L451.25,306.30 L451.43,305.99 L451.62,305.67 L451.81,305.24 L452.00,305.00 L452.18,305.02 L452.37,304.96 L452.56,305.21 L452.75,305.21 L452.93,305.32 L453.12,305.31 L453.31,305.28 L453.50,305.18 L453.68,304.99 L453.87,304.53 L454.06,304.34 L454.25,303.89 L454.43,303.60 L454.62,303.44 L454.81,303.10 L455.00,302.98 L455.19,303.13 L455.37,303.12 L455.56,303.46 L455.75,303.58 L455.94,303.71 L456.12,303.90 L456.31,303.92 L456.50,304.19 L456.69,304.12 L456.87,303.98 L457.06,304.00 L457.25,303.70 L457.44,303.44 L457.62,303.30 L457.81,303.01 L458.00,302.90 L458.19,302.96 L458.37,303.08 L458.56,303.29 L458.75,303.46 L458.94,303.70 L459.12,303.88 L459.31,303.93 L459.50,304.06 L459.69,304.02 L459.87,303.88 L460.06,303.59 L460.25,303.09 L460.44,302.67 L460.62,302.37 L460.81,302.02 L461.00,301.85 L461.19,301.78 L461.37,301.83 L461.56,301.85 L461.75,301.99 L461.94,302.19 L462.12,302.34 L462.31,302.32 L462.50,302.41 L462.69,302.37 L462.88,302.27 L463.06,302.03 L463.25,301.85 L463.44,301.72 L463.63,301.41 L463.81,301.39 L464.00,301.28 L464.19,301.49 L464.38,301.72 L464.56,301.86 L464.75,302.16 L464.94,302.38 L465.13,302.62 L465.31,303.02 L465.50,303.12 L465.69,303.37 L465.88,303.17 L466.06,303.07 L466.25,302.83 L466.44,302.83 L466.63,302.64 L466.81,302.39 L467.00,302.25 L467.19,302.10 L467.38,302.03 L467.56,302.28 L467.75,302.39 L467.94,302.48 L468.13,302.43 L468.31,302.55 L468.50,302.71 L468.69,302.69 L468.88,302.81 L469.06,302.74 L469.25,302.33 L469.44,302.06 L469.63,302.02 L469.82,301.78 L470.00,301.54 L470.19,301.44 L470.38,301.35 L470.57,301.33 L470.75,301.54 L470.94,301.89 L471.13,302.47 L471.32,302.87 L471.50,303.20 L471.69,303.62 L471.88,303.80 L472.07,304.06 L472.25,304.17 L472.44,303.89 L472.63,303.88 L472.82,303.60 L473.00,303.40 L473.19,303.43 L473.38,303.36 L473.57,303.47 L473.75,303.51 L473.94,303.84 L474.13,304.29 L474.32,304.61 L474.50,304.95 L474.69,305.16 L474.88,305.32 L475.07,305.28 L475.25,305.20 L475.44,305.14 L475.63,304.85 L475.82,304.65 L476.00,304.64 L476.19,304.42 L476.38,304.51 L476.57,304.46 L476.75,304.72 L476.94,304.92 L477.13,305.31 L477.32,305.48 L477.51,305.67 L477.69,305.81 L477.88,306.05 L478.07,306.13 L478.26,306.14 L478.44,306.01 L478.63,306.12 L478.82,306.04 L479.01,306.20 L479.19,306.44 L479.38,306.58 L479.57,306.64 L479.76,306.93 L479.94,307.17 L480.13,307.56 L480.32,307.91 L480.51,308.31 L480.69,308.62 L480.88,308.72 L481.07,308.89 L481.26,309.18 L481.44,309.14 L481.63,309.19 L481.82,309.22 L482.01,308.87 L482.19,308.62 L482.38,308.41 L482.57,308.51 L482.76,308.43 L482.94,308.39 L483.13,308.70 L483.32,308.91 L483.51,309.24 L483.69,309.62 L483.88,310.00 L484.07,310.07 L484.26,310.12 L484.44,310.11 L484.63,310.02 L484.82,309.88 L485.01,309.97 L485.20,309.73 L485.38,309.54 L485.57,309.34 L485.76,309.43 L485.95,309.46 L486.13,309.81 L486.32,310.12 L486.51,310.18 L486.70,310.42 L486.88,310.94 L487.07,311.41 L487.26,311.80 L487.45,312.10 L487.63,312.44 L487.82,312.43 L488.01,312.68 L488.20,312.75 L488.38,312.54 L488.57,312.23 L488.76,312.31 L488.95,312.27 L489.13,312.63 L489.32,312.69 L489.51,312.93 L489.70,313.12 L489.88,313.47 L490.07,313.91 L490.26,314.24 L490.45,314.36 L490.63,314.55 L490.82,314.57 L491.01,314.71 L491.20,314.69 L491.38,314.48 L491.57,314.38 L491.76,314.15 L491.95,314.20 L492.13,314.20 L492.32,314.24 L492.51,314.24 L492.70,314.33 L492.89,314.63 L493.07,314.88 L493.26,315.29 L493.45,315.69 L493.64,315.97 L493.82,316.14 L494.01,316.50 L494.20,316.61 L494.39,316.78 L494.57,316.77 L494.76,316.82 L494.95,316.90 L495.14,317.14 L495.32,317.32 L495.51,317.58 L495.70,317.86 L495.89,318.21 L496.07,318.65 L496.26,319.18 L496.45,319.74 L496.64,320.04 L496.82,320.37 L497.01,320.65 L497.20,320.91 L497.39,320.93 L497.57,321.22 L497.76,321.16 L497.95,321.02 L498.14,320.83 L498.32,320.65 L498.51,320.52 L498.70,320.52 L498.89,320.70 L499.07,320.86 L499.26,320.84 L499.45,321.02 L499.64,321.44 L499.83,321.87 L500.01,322.31 L500.20,322.51 L500.39,322.74 L500.58,322.88 L500.76,323.06 L500.95,323.20 L501.14,323.37 L501.33,323.24 L501.51,323.20 L501.70,323.27 L501.89,323.45 L502.08,323.71 L502.26,323.92 L502.45,324.26 L502.64,324.67 L502.83,324.99 L503.01,325.56 L503.20,326.27 L503.39,326.79 L503.58,327.33 L503.76,327.72 L503.95,328.05 L504.14,328.10 L504.33,328.06 L504.51,328.25 L504.70,328.21 L504.89,328.03 L505.08,328.19 L505.26,328.28 L505.45,328.38 L505.64,328.58 L505.83,329.13 L506.01,329.67 L506.20,329.96 L506.39,330.34 L506.58,330.67 L506.76,330.93 L506.95,331.04 L507.14,331.17 L507.33,331.41 L507.52,331.28 L507.70,331.30 L507.89,331.34 L508.08,331.47 L508.27,331.57 L508.45,331.65 L508.64,332.02 L508.83,332.28 L509.02,332.52 L509.20,333.05 L509.39,333.41 L509.58,334.00 L509.77,334.56 L509.95,335.18 L510.14,335.76 L510.33,336.15 L510.52,336.39 L510.70,336.72 L510.89,336.87 L511.08,337.21 L511.27,337.37 L511.45,337.35 L511.64,337.43 L511.83,337.61 L512.02,337.88 L512.20,338.47 L512.39,338.90 L512.58,339.46 L512.77,339.95 L512.95,340.38 L513.14,340.93 L513.33,341.39 L513.52,341.71 L513.70,342.10 L513.89,342.24 L514.08,342.39 L514.27,342.33 L514.45,342.27 L514.64,342.29 L514.83,342.44 L515.02,342.74 L515.21,342.85 L515.39,342.91 L515.58,343.37 L515.77,343.70 L515.96,344.15 L516.14,344.79 L516.33,345.22 L516.52,345.72 L516.71,346.13 L516.89,346.51 L517.08,346.93 L517.27,347.15 L517.46,347.32 L517.64,347.77 L517.83,347.72 L518.02,348.11 L518.21,348.28 L518.39,348.50 L518.58,348.91 L518.77,349.28 L518.96,349.78 L519.14,350.32 L519.33,350.77 L519.52,351.57 L519.71,352.10 L519.89,352.75 L520.08,353.27 L520.27,353.64 L520.46,354.05 L520.64,354.13 L520.83,354.33 L521.02,354.50 L521.21,354.67 L521.39,354.78 L521.58,354.78 L521.77,354.86 L521.96,355.21 L522.14,355.39 L522.33,355.96 L522.52,356.50 L522.71,356.85 L522.90,356.97 L523.08,357.34 L523.27,357.86 L523.46,358.19 L523.65,358.37 L523.83,358.62 L524.02,358.68 L524.21,358.75 L524.40,358.83 L524.58,359.03 L524.77,359.01 L524.96,358.86 L525.15,359.13 L525.33,359.46 L525.52,359.85 L525.71,360.22 L525.90,360.57 L526.08,361.03 L526.27,361.55 L526.46,362.08 L526.65,362.73 L526.83,363.17 L527.02,363.59 L527.21,363.92 L527.40,364.15 L527.58,364.43 L527.77,364.44 L527.96,364.43 L528.15,364.55 L528.33,364.59 L528.52,364.65 L528.71,364.67 L528.90,364.57 L529.08,364.86 L529.27,364.94 L529.46,365.21 L529.65,365.51 L529.84,365.78 L530.02,365.87 L530.21,366.01 L530.40,365.98 L530.59,366.03 L530.77,365.86 L530.96,365.81 L531.15,365.67 L531.34,365.38 L531.52,365.02 L531.71,364.84 L531.90,364.66 L532.09,364.74 L532.27,364.86 L532.46,364.83 L532.65,365.03 L532.84,365.27 L533.02,365.60 L533.21,365.90 L533.40,366.32 L533.59,366.43 L533.77,366.61 L533.96,366.77 L534.15,366.84 L534.34,366.56 L534.52,366.18 L534.71,366.07 L534.90,366.00 L535.09,365.72 L535.27,365.84 L535.46,365.68 L535.65,365.83 L535.84,365.84 L536.02,366.07 L536.21,366.61 L536.40,367.01 L536.59,367.22 L536.77,367.57 L536.96,367.68 L537.15,367.86 L537.34,367.99 L537.53,368.09 L537.71,368.04 L537.90,367.89 L538.09,367.59 L538.28,367.59 L538.46,367.32 L538.65,367.11 L538.84,367.02 L539.03,366.84 L539.21,366.80 L539.40,366.86 L539.59,367.00 L539.78,367.12 L539.96,367.12 L540.15,367.24 L540.34,367.42 L540.53,367.57 L540.71,367.63 L540.90,367.70 L541.09,367.69 L541.28,367.50 L541.46,367.45 L541.65,367.37 L541.84,367.43 L542.03,367.18 L542.21,367.12 L542.40,367.03 L542.59,367.19 L542.78,367.44 L542.96,367.85 L543.15,367.96 L543.34,368.29 L543.53,368.57 L543.71,369.13 L543.90,369.45 L544.09,369.66 L544.28,369.58 L544.46,369.75 L544.65,369.75 L544.84,369.85 L545.03,369.81 L545.22,369.80 L545.40,369.55 L545.59,369.29 L545.78,369.44 L545.97,369.58 L546.15,369.41 L546.34,369.36 L546.53,369.59 L546.72,369.54 L546.90,369.57 L547.09,369.89 L547.28,370.07 L547.47,370.16 L547.65,370.16 L547.84,370.36 L548.03,370.27 L548.22,370.10 L548.40,369.98 L548.59,369.70 L548.78,369.31 L548.97,369.17 L549.15,368.77 L549.34,368.94 L549.53,368.76 L549.72,368.89 L549.90,368.95 L550.09,369.23 L550.28,369.23 L550.47,369.59 L550.65,369.83 L550.84,370.22 L551.03,370.11 L551.22,370.52 L551.40,370.48 L551.59,370.62 L551.78,370.89 L551.97,371.29 L552.15,371.20 L552.34,371.16 L552.53,371.11 L552.72,371.17 L552.91,371.03 L553.09,371.35 L553.28,371.73 L553.47,371.74 L553.66,371.87 L553.84,372.28 L554.03,372.87 L554.22,373.36 L554.41,373.56 L554.59,373.83 L554.78,374.02 L554.97,373.90 L555.16,373.82 L555.34,373.85 L555.53,373.71 L555.72,373.45 L555.91,373.12 L556.09,373.02 L556.28,372.87 L556.47,372.68 L556.66,372.64 L556.84,372.85 L557.03,373.01 L557.22,373.22 L557.41,373.29 L557.59,373.59 L557.78,374.10 L557.97,374.38 L558.16,374.73 L558.34,374.88 L558.53,374.98 L558.72,374.99 L558.91,375.13 L559.09,375.15 L559.28,375.01 L559.47,375.06 L559.66,374.91 L559.85,374.95 L560.03,375.20 L560.22,375.70 L560.41,375.99 L560.60,376.38 L560.78,377.00 L560.97,377.65 L561.16,378.18 L561.35,379.02 L561.53,379.68 L561.72,380.11 L561.91,380.18 L562.10,380.51 L562.28,380.51 L562.47,380.57 L562.66,380.64 L562.85,380.58 L563.03,380.21 L563.22,380.05 L563.41,380.30 L563.60,380.59 L563.78,380.63 L563.97,381.09 L564.16,381.43 L564.35,381.79 L564.53,382.27 L564.72,382.81 L564.91,383.06 L565.10,383.30 L565.28,383.35 L565.47,383.86 L565.66,383.95 L565.85,383.91 L566.03,383.89 L566.22,383.73 L566.41,383.63 L566.60,383.86 L566.78,383.76 L566.97,383.97 L567.16,383.80 L567.35,383.70 L567.54,383.87 L567.72,384.37 L567.91,384.69 L568.10,385.21 L568.29,385.74 L568.47,386.26 L568.66,386.57 L568.85,387.04 L569.04,387.52 L569.22,387.86 L569.41,387.91 L569.60,388.07 L569.79,388.23 L569.97,388.19 L570.16,388.14 L570.35,388.30 L570.54,388.17 L570.72,388.28 L570.91,388.55 L571.10,388.89 L571.29,389.29 L571.47,389.76 L571.66,390.10 L571.85,390.62 L572.04,391.04 L572.22,391.96 L572.41,392.46 L572.60,392.78 L572.79,393.23 L572.97,393.44 L573.16,393.50 L573.35,393.65 L573.54,393.66 L573.72,393.90 L573.91,393.53 L574.10,393.56 L574.29,393.73 L574.47,393.46 L574.66,393.75 L574.85,393.78 L575.04,393.90 L575.23,394.06 L575.41,394.22 L575.60,394.95 L575.79,395.52 L575.98,395.62 L576.16,396.17 L576.35,396.36 L576.54,396.56 L576.73,396.90 L576.91,397.12 L577.10,397.17 L577.29,397.00 L577.48,396.83 L577.66,397.03 L577.85,396.75 L578.04,396.58 L578.23,397.25 L578.41,397.58 L578.60,397.77 L578.79,398.12 L578.98,398.62 L579.16,398.88 L579.35,399.63 L579.54,400.26 L579.73,400.96 L579.91,401.06 L580.10,401.27 L580.29,401.63 L580.48,401.97 L580.66,402.22 L580.85,402.38 L581.04,402.16 L581.23,402.47 L581.41,402.25 L581.60,402.09 L581.79,401.89 L581.98,401.99 L582.16,401.98 L582.35,402.11 L582.54,402.58 L582.73,402.91 L582.92,403.10 L583.10,403.81 L583.29,404.17 L583.48,405.04 L583.67,405.57 L583.85,406.06 L584.04,406.09 L584.23,406.16 L584.42,406.28 L584.60,406.40 L584.79,406.30 L584.98,406.57 L585.17,405.99 L585.35,405.58 L585.54,405.16 L585.73,405.31 L585.92,404.87 L586.10,405.01 L586.29,405.32 L586.48,405.51 L586.67,405.66 L586.85,406.13 L587.04,406.85 L587.23,407.42 L587.42,407.61 L587.60,408.58 L587.79,408.98 L587.98,409.30 L588.17,409.51 L588.35,409.61 L588.54,409.72 L588.73,409.49 L588.92,409.37 L589.10,409.56 L589.29,409.25 L589.48,409.27 L589.67,409.17 L589.86,409.27 L590.04,409.69 L590.23,409.99 L590.42,410.26 L590.61,410.84 L590.79,411.46 L590.98,412.24 L591.17,412.44 L591.36,412.96 L591.54,413.46 L591.73,413.79 L591.92,414.19 L592.11,414.46 L592.29,414.72 L592.48,414.83 L592.67,414.43 L592.86,414.45 L593.04,414.01 L593.23,413.80 L593.42,413.41 L593.61,413.03 L593.79,412.84 L593.98,412.72 L594.17,412.57 L594.36,412.83 L594.54,413.02 L594.73,413.32 L594.92,413.76 L595.11,414.62 L595.29,415.15 L595.48,415.64 L595.67,415.89 L595.86,415.92 L596.04,416.12 L596.23,416.41 L596.42,416.47 L596.61,416.42 L596.79,415.84 L596.98,415.80 L597.17,415.75 L597.36,415.70 L597.55,415.85 L597.73,416.16 L597.92,416.10 L598.11,416.69 L598.30,416.77 L598.48,417.08 L598.67,417.15 L598.86,417.61 L599.05,418.27 L599.23,419.09 L599.42,419.13 L599.61,419.95 L599.80,420.01 L599.98,420.96 L600.17,421.57 L600.36,422.14 L600.55,422.40 L600.73,422.46 L600.92,422.40 L601.11,422.85 L601.30,422.37 L601.48,422.31 L601.67,421.79 L601.86,421.57 L602.05,421.68 L602.23,421.44 L602.42,421.17 L602.61,421.17 L602.80,421.09 L602.98,421.25 L603.17,421.67 L603.36,421.60 L603.55,421.74 L603.73,422.01 L603.92,422.41 L604.11,422.72 L604.30,423.14 L604.48,423.33 L604.67,423.76 L604.86,423.83 L605.05,424.12 L605.24,424.45 L605.42,424.56 L605.61,424.84 L605.80,424.96 L605.99,424.42 L606.17,424.35 L606.36,424.20 L606.55,424.07 L606.74,423.94 L606.92,423.83 L607.11,423.88 L607.30,423.95 L607.49,424.11 L607.67,424.82 L607.86,425.45 L608.05,426.05 L608.24,426.90 L608.42,427.65 L608.61,428.82 L608.80,429.02 L608.99,429.61 L609.17,430.56 L609.36,430.78 L609.55,431.31 L609.74,431.39 L609.92,431.11 L610.11,431.40 L610.30,430.98 L610.49,430.96 L610.67,430.86 L610.86,430.46 L611.05,430.33 L611.24,429.59 L611.42,429.78 L611.61,429.98 L611.80,429.78 L611.99,430.44 L612.17,430.99 L612.36,431.62 L612.55,432.44 L612.74,432.58 L612.93,433.35 L613.11,433.42 L613.30,433.93 L613.49,434.45 L613.68,434.34 L613.86,434.66 L614.05,434.44 L614.24,434.10 L614.43,434.18 L614.61,434.19 L614.80,434.28 L614.99,434.10 L615.18,433.99 L615.36,434.00 L615.55,433.49 L615.74,433.49 L615.93,433.49 L616.11,433.96 L616.30,433.89 L616.49,434.17 L616.68,434.55 L616.86,435.09 L617.05,435.36 L617.24,436.18 L617.43,436.75 L617.61,437.33 L617.80,437.78 L617.99,438.73 L618.18,440.00 L618.36,440.37 L618.55,440.60 L618.74,441.37 L618.93,442.14 L619.11,443.15 L619.30,443.55 L619.49,444.38 L619.68,444.18 L619.87,444.50 L620.05,444.91 L620.24,445.26 L620.43,445.26 L620.62,445.38 L620.80,444.88 L620.99,445.37 L621.18,445.45 L621.37,446.29 L621.55,446.26 L621.74,446.90 L621.93,447.52 L622.12,448.25 L622.30,448.77 L622.49,449.85 L622.68,450.27 L622.87,451.31 L623.05,451.78 L623.24,453.13 L623.43,453.91 L623.62,455.07 L623.80,455.09 L623.99,455.38 L624.18,455.77 L624.37,456.37 L624.55,455.77 L624.74,456.20 L624.93,455.33 L625.12,455.72 L625.30,456.00 L625.49,456.57 L625.68,456.68 L625.87,457.47 L626.05,458.43 L626.24,460.68 L626.43,462.11 L626.62,464.43 L626.80,466.29 L626.99,468.67 L627.18,471.26 L627.37,474.16 L627.56,475.50 L627.74,475.50 L627.93,475.50 L628.12,475.50 L628.31,475.50 L628.49,475.50 L628.68,475.50 L628.87,475.50 L629.06,475.50 L629.24,475.50 L629.43,475.50 L629.62,475.50 L629.81,475.50 L629.99,475.50 L630.18,475.50 L630.37,475.50 L630.56,475.50 L630.74,475.50 L630.93,475.50 L631.12,475.50 L631.31,475.50 L631.49,475.50 L631.68,475.50 L631.87,475.50 L632.06,475.50 L632.24,475.50 L632.43,475.50 L632.62,475.50 L632.81,475.50 L632.99,475.50 L633.18,475.50 L633.37,475.50 L633.56,475.50 L633.74,475.50 L633.93,475.50 L634.12,475.50 L634.31,475.50 L634.49,475.50 L634.68,475.50 L634.87,475.50 L635.06,475.50 L635.25,475.50 L635.43,475.50 L635.62,475.50 L635.81,475.50 L636.00,475.50 L636.18,475.50 L636.37,475.50 L636.56,475.50 L636.75,475.50 L636.93,475.50 L637.12,475.50 L637.31,475.50 L637.50,475.50 L637.68,475.50 L637.87,475.50 L638.06,475.50 L638.25,475.50 L638.43,475.50 L638.62,475.50 L638.81,475.50 L639.00,475.50 L639.18,475.50 L639.37,475.50 L639.56,475.50 L639.75,475.50 L639.93,475.50 L640.12,475.50 L640.31,475.50 L640.50,475.50 L640.68,475.50 L640.87,475.50 L641.06,475.50 L641.25,475.50 L641.43,475.50 L641.62,475.50 L641.81,475.50 L642.00,475.50 L642.18,475.50 L642.37,475.50 L642.56,475.50 L642.75,475.50 L642.94,475.50 L643.12,475.50 L643.31,475.50 L643.50,475.50 L643.69,475.50 L643.87,475.50 L644.06,475.50 L644.25,475.50 L644.44,475.50 L644.62,475.50 L644.81,475.50 L645.00,475.50 L645.19,475.50 L645.37,475.50 L645.56,475.50 L645.75,475.50 L645.94,475.50 L646.12,475.50 L646.31,475.50 L646.50,475.50 L646.69,475.50 L646.87,475.50 L647.06,475.50 L647.25,475.50 L647.44,475.50 L647.62,475.50 L647.81,475.50 L648.00,475.50 L648.19,475.50 L648.37,475.50 L648.56,475.50 L648.75,475.50 L648.94,475.50 L649.12,475.50 L649.31,475.50 L649.50,475.50 L649.69,475.50 L649.88,475.50 L650.06,475.50 L650.25,475.50 L650.44,475.50 L650.63,475.50 L650.81,475.50 L651.00,475.50 L651.19,475.50 L651.38,475.50 L651.56,475.50 L651.75,475.50 L651.94,475.50 L652.13,475.50 L652.31,475.50 L652.50,475.50 L652.69,475.50 L652.88,475.50 L653.06,475.50 L653.25,475.50 L653.44,475.50 L653.63,475.50 L653.81,475.50 L654.00,475.50 L654.19,475.50 L654.38,475.50 L654.56,475.50 L654.75,475.50 L654.94,475.50 L655.13,475.50 L655.31,475.50 L655.50,475.50 L655.69,475.50 L655.88,475.50 L656.06,475.50 L656.25,475.50 L656.44,475.50 L656.63,475.50 L656.81,475.50 L657.00,475.50 L657.19,475.50 L657.38,475.50 L657.57,475.50 L657.75,475.50 L657.94,475.50 L658.13,475.50 L658.32,475.50 L658.50,475.50 L658.69,475.50 L658.88,475.50 L659.07,475.50 L659.25,475.50 L659.44,475.50 L659.63,475.50 L659.82,475.50 L660.00,475.50 L660.19,475.50 L660.38,475.50 L660.57,475.50 L660.75,475.50 L660.94,475.50 L661.13,475.50 L661.32,475.50 L661.50,475.50 L661.69,475.50 L661.88,475.50 L662.07,475.50 L662.25,475.50 L662.44,475.50 L662.63,475.50 L662.82,475.50 L663.00,475.50 L663.19,475.50 L663.38,475.50 L663.57,475.50 L663.75,475.50 L663.94,475.50 L664.13,475.50 L664.32,475.50 L664.50,475.50 L664.69,475.50 L664.88,475.50 L665.07,475.50 L665.26,475.50 L665.44,475.50 L665.63,475.50 L665.82,475.50 L666.01,475.50 L666.19,475.50 L666.38,475.50 L666.57,475.50 L666.76,475.50 L666.94,475.50 L667.13,475.50 L667.32,475.50 L667.51,475.50 L667.69,475.50 L667.88,475.50 L668.07,475.50 L668.26,475.50 L668.44,475.50 L668.63,475.50 L668.82,475.50 L669.01,475.50 L669.19,475.50 L669.38,475.50 L669.57,475.50 L669.76,475.50 L669.94,475.50 L670.13,475.50 L670.32,475.50 L670.51,475.50 L670.69,475.50 L670.88,475.50 L671.07,475.50 L671.26,475.50 L671.44,475.50 L671.63,475.50 L671.82,475.50 L672.01,475.50 L672.19,475.50 L672.38,475.50 L672.57,475.50 L672.76,475.50 L672.95,475.50 L673.13,475.50 L673.32,475.50 L673.51,475.50 L673.70,475.50 L673.88,475.50 L674.07,475.50 L674.26,475.50 L674.45,475.50 L674.63,475.50 L674.82,475.50 L675.01,475.50 L675.20,475.50 L675.38,475.50 L675.57,475.50 L675.76,475.50 L675.95,475.50 L676.13,475.50 L676.32,475.50 L676.51,475.50 L676.70,475.50 L676.88,475.50 L677.07,475.50 L677.26,475.50 L677.45,475.50 L677.63,475.50 L677.82,475.50 L678.01,475.50 L678.20,475.50 L678.38,475.50 L678.57,475.50 L678.76,475.50 L678.95,475.50 L679.13,475.50 L679.32,475.50 L679.51,475.50 L679.70,475.50 L679.89,475.50 L680.07,475.50 L680.26,475.50 L680.45,475.50 L680.64,475.50 L680.82,475.50 L681.01,475.50 L681.20,475.50 L681.39,475.50 L681.57,475.50 L681.76,475.50 L681.95,475.50 L682.14,475.50 L682.32,475.50 L682.51,475.50 L682.70,475.50 L682.89,475.50 L683.07,475.50 L683.26,475.50 L683.45,475.50 L683.64,475.50 L683.82,475.50 L684.01,475.50 L684.20,475.50 L684.39,475.50 L684.57,475.50 L684.76,475.50 L684.95,475.50 L685.14,475.50 L685.32,475.50 L685.51,475.50 L685.70,475.50 L685.89,475.50 L686.07,475.50 L686.26,475.50 L686.45,475.50 L686.64,475.50 L686.82,475.50 L687.01,475.50 L687.20,475.50" fill="none" stroke="#c0304c" stroke-width="1.4" stroke-linejoin="round" clip-path="url(#cc)" />
<path d="M424.80,475.50 L424.99,475.50 L425.18,475.50 L425.36,475.50 L425.55,464.93 L425.74,449.04 L425.93,434.24 L426.11,419.99 L426.30,407.64 L426.49,398.72 L426.68,392.41 L426.86,386.50 L427.05,380.90 L427.24,375.77 L427.43,370.77 L427.61,366.26 L427.80,362.36 L427.99,358.83 L428.18,355.72 L428.36,353.05 L428.55,350.91 L428.74,349.19 L428.93,347.68 L429.11,346.63 L429.30,345.49 L429.49,344.32 L429.68,343.12 L429.86,341.92 L430.05,340.86 L430.24,339.64 L430.43,338.48 L430.61,337.61 L430.80,336.66 L430.99,335.78 L431.18,334.92 L431.36,334.36 L431.55,334.14 L431.74,333.58 L431.93,333.20 L432.11,332.93 L432.30,332.41 L432.49,331.94 L432.68,331.41 L432.87,330.89 L433.05,330.39 L433.24,329.60 L433.43,328.90 L433.62,328.17 L433.80,327.39 L433.99,326.80 L434.18,326.29 L434.37,326.08 L434.55,325.85 L434.74,325.72 L434.93,325.65 L435.12,325.77 L435.30,325.57 L435.49,325.28 L435.68,325.01 L435.87,324.53 L436.05,323.95 L436.24,323.42 L436.43,322.66 L436.62,322.13 L436.80,321.43 L436.99,320.92 L437.18,320.76 L437.37,320.41 L437.55,320.35 L437.74,319.98 L437.93,319.77 L438.12,319.51 L438.30,319.09 L438.49,318.73 L438.68,318.54 L438.87,317.81 L439.05,317.41 L439.24,316.78 L439.43,316.29 L439.62,315.88 L439.81,315.49 L439.99,315.12 L440.18,314.91 L440.37,314.74 L440.56,315.02 L440.74,314.96 L440.93,314.99 L441.12,315.01 L441.31,314.87 L441.49,314.63 L441.68,314.45 L441.87,314.07 L442.06,313.50 L442.24,312.88 L442.43,312.38 L442.62,311.76 L442.81,311.33 L442.99,311.12 L443.18,311.00 L443.37,310.82 L443.56,310.67 L443.74,310.68 L443.93,310.60 L444.12,310.51 L444.31,310.43 L444.49,310.17 L444.68,309.72 L444.87,309.26 L445.06,308.83 L445.24,308.35 L445.43,307.92 L445.62,307.40 L445.81,306.92 L445.99,306.68 L446.18,306.62 L446.37,306.39 L446.56,306.41 L446.74,306.35 L446.93,306.45 L447.12,306.48 L447.31,306.38 L447.50,306.23 L447.68,306.00 L447.87,305.58 L448.06,305.37 L448.25,305.01 L448.43,304.72 L448.62,304.25 L448.81,303.86 L449.00,303.84 L449.18,303.83 L449.37,303.94 L449.56,304.13 L449.75,304.15 L449.93,304.24 L450.12,304.42 L450.31,304.61 L450.50,304.55 L450.68,304.28 L450.87,303.94 L451.06,303.61 L451.25,303.16 L451.43,302.85 L451.62,302.53 L451.81,302.12 L452.00,301.88 L452.18,301.90 L452.37,301.85 L452.56,302.10 L452.75,302.11 L452.93,302.22 L453.12,302.22 L453.31,302.19 L453.50,302.10 L453.68,301.92 L453.87,301.47 L454.06,301.27 L454.25,300.83 L454.43,300.54 L454.62,300.39 L454.81,300.05 L455.00,299.93 L455.19,300.08 L455.37,300.08 L455.56,300.43 L455.75,300.54 L455.94,300.68 L456.12,300.87 L456.31,300.90 L456.50,301.17 L456.69,301.10 L456.87,300.97 L457.06,300.98 L457.25,300.69 L457.44,300.44 L457.62,300.29 L457.81,300.00 L458.00,299.90 L458.19,299.96 L458.37,300.09 L458.56,300.30 L458.75,300.47 L458.94,300.71 L459.12,300.90 L459.31,300.95 L459.50,301.08 L459.69,301.05 L459.87,300.91 L460.06,300.62 L460.25,300.13 L460.44,299.70 L460.62,299.41 L460.81,299.06 L461.00,298.89 L461.19,298.82 L461.37,298.87 L461.56,298.90 L461.75,299.04 L461.94,299.24 L462.12,299.40 L462.31,299.38 L462.50,299.47 L462.69,299.44 L462.88,299.33 L463.06,299.10 L463.25,298.92 L463.44,298.79 L463.63,298.48 L463.81,298.47 L464.00,298.36 L464.19,298.57 L464.38,298.81 L464.56,298.94 L464.75,299.25 L464.94,299.47 L465.13,299.71 L465.31,300.11 L465.50,300.22 L465.69,300.47 L465.88,300.27 L466.06,300.17 L466.25,299.93 L466.44,299.93 L466.63,299.75 L466.81,299.51 L467.00,299.37 L467.19,299.23 L467.38,299.17 L467.56,299.43 L467.75,299.54 L467.94,299.65 L468.13,299.60 L468.31,299.73 L468.50,299.90 L468.69,299.89 L468.88,300.02 L469.06,299.95 L469.25,299.55 L469.44,299.29 L469.63,299.26 L469.82,299.02 L470.00,298.79 L470.19,298.69 L470.38,298.62 L470.57,298.60 L470.75,298.82 L470.94,299.18 L471.13,299.77 L471.32,300.17 L471.50,300.51 L471.69,300.94 L471.88,301.13 L472.07,301.39 L472.25,301.51 L472.44,301.24 L472.63,301.24 L472.82,300.97 L473.00,300.77 L473.19,300.82 L473.38,300.76 L473.57,300.88 L473.75,300.93 L473.94,301.27 L474.13,301.72 L474.32,302.06 L474.50,302.41 L474.69,302.63 L474.88,302.80 L475.07,302.77 L475.25,302.70 L475.44,302.66 L475.63,302.37 L475.82,302.18 L476.00,302.18 L476.19,301.98 L476.38,302.08 L476.57,302.04 L476.75,302.31 L476.94,302.53 L477.13,302.93 L477.32,303.10 L477.51,303.30 L477.69,303.46 L477.88,303.70 L478.07,303.80 L478.26,303.82 L478.44,303.69 L478.63,303.81 L478.82,303.74 L479.01,303.92 L479.19,304.16 L479.38,304.31 L479.57,304.38 L479.76,304.68 L479.94,304.92 L480.13,305.32 L480.32,305.67 L480.51,306.08 L480.69,306.41 L480.88,306.51 L481.07,306.69 L481.26,306.98 L481.44,306.95 L481.63,307.01 L481.82,307.04 L482.01,306.70 L482.19,306.46 L482.38,306.25 L482.57,306.36 L482.76,306.29 L482.94,306.25 L483.13,306.57 L483.32,306.78 L483.51,307.12 L483.69,307.51 L483.88,307.89 L484.07,307.97 L484.26,308.02 L484.44,308.03 L484.63,307.94 L484.82,307.81 L485.01,307.90 L485.20,307.67 L485.38,307.48 L485.57,307.29 L485.76,307.39 L485.95,307.43 L486.13,307.79 L486.32,308.10 L486.51,308.17 L486.70,308.41 L486.88,308.95 L487.07,309.42 L487.26,309.81 L487.45,310.12 L487.63,310.47 L487.82,310.47 L488.01,310.72 L488.20,310.80 L488.38,310.59 L488.57,310.29 L488.76,310.37 L488.95,310.34 L489.13,310.71 L489.32,310.78 L489.51,311.03 L489.70,311.22 L489.88,311.58 L490.07,312.02 L490.26,312.36 L490.45,312.49 L490.63,312.68 L490.82,312.71 L491.01,312.86 L491.20,312.85 L491.38,312.65 L491.57,312.56 L491.76,312.33 L491.95,312.39 L492.13,312.39 L492.32,312.44 L492.51,312.45 L492.70,312.54 L492.89,312.85 L493.07,313.12 L493.26,313.52 L493.45,313.94 L493.64,314.23 L493.82,314.40 L494.01,314.77 L494.20,314.89 L494.39,315.07 L494.57,315.06 L494.76,315.11 L494.95,315.21 L495.14,315.46 L495.32,315.64 L495.51,315.91 L495.70,316.20 L495.89,316.55 L496.07,317.00 L496.26,317.54 L496.45,318.10 L496.64,318.41 L496.82,318.75 L497.01,319.04 L497.20,319.31 L497.39,319.34 L497.57,319.64 L497.76,319.58 L497.95,319.45 L498.14,319.27 L498.32,319.09 L498.51,318.98 L498.70,318.98 L498.89,319.17 L499.07,319.33 L499.26,319.32 L499.45,319.51 L499.64,319.94 L499.83,320.38 L500.01,320.82 L500.20,321.04 L500.39,321.27 L500.58,321.42 L500.76,321.60 L500.95,321.75 L501.14,321.93 L501.33,321.81 L501.51,321.77 L501.70,321.85 L501.89,322.04 L502.08,322.31 L502.26,322.53 L502.45,322.88 L502.64,323.29 L502.83,323.62 L503.01,324.19 L503.20,324.92 L503.39,325.45 L503.58,325.99 L503.76,326.39 L503.95,326.72 L504.14,326.78 L504.33,326.75 L504.51,326.95 L504.70,326.92 L504.89,326.74 L505.08,326.91 L505.26,327.01 L505.45,327.11 L505.64,327.32 L505.83,327.87 L506.01,328.43 L506.20,328.72 L506.39,329.11 L506.58,329.44 L506.76,329.71 L506.95,329.83 L507.14,329.97 L507.33,330.21 L507.52,330.09 L507.70,330.11 L507.89,330.17 L508.08,330.30 L508.27,330.41 L508.45,330.49 L508.64,330.87 L508.83,331.14 L509.02,331.38 L509.20,331.92 L509.39,332.29 L509.58,332.88 L509.77,333.45 L509.95,334.08 L510.14,334.66 L510.33,335.07 L510.52,335.31 L510.70,335.65 L510.89,335.81 L511.08,336.15 L511.27,336.32 L511.45,336.31 L511.64,336.39 L511.83,336.58 L512.02,336.85 L512.20,337.45 L512.39,337.89 L512.58,338.45 L512.77,338.95 L512.95,339.39 L513.14,339.95 L513.33,340.42 L513.52,340.74 L513.70,341.14 L513.89,341.29 L514.08,341.44 L514.27,341.39 L514.45,341.34 L514.64,341.37 L514.83,341.53 L515.02,341.84 L515.21,341.95 L515.39,342.02 L515.58,342.49 L515.77,342.83 L515.96,343.29 L516.14,343.94 L516.33,344.38 L516.52,344.89 L516.71,345.31 L516.89,345.69 L517.08,346.12 L517.27,346.35 L517.46,346.53 L517.64,346.99 L517.83,346.95 L518.02,347.35 L518.21,347.53 L518.39,347.75 L518.58,348.18 L518.77,348.55 L518.96,349.06 L519.14,349.61 L519.33,350.07 L519.52,350.87 L519.71,351.41 L519.89,352.07 L520.08,352.59 L520.27,352.97 L520.46,353.38 L520.64,353.48 L520.83,353.68 L521.02,353.85 L521.21,354.03 L521.39,354.15 L521.58,354.16 L521.77,354.24 L521.96,354.60 L522.14,354.78 L522.33,355.36 L522.52,355.91 L522.71,356.26 L522.90,356.39 L523.08,356.76 L523.27,357.29 L523.46,357.63 L523.65,357.82 L523.83,358.07 L524.02,358.14 L524.21,358.22 L524.40,358.30 L524.58,358.51 L524.77,358.49 L524.96,358.34 L525.15,358.62 L525.33,358.96 L525.52,359.35 L525.71,359.73 L525.90,360.08 L526.08,360.54 L526.27,361.07 L526.46,361.60 L526.65,362.25 L526.83,362.69 L527.02,363.11 L527.21,363.44 L527.40,363.67 L527.58,363.96 L527.77,363.97 L527.96,363.96 L528.15,364.08 L528.33,364.12 L528.52,364.19 L528.71,364.21 L528.90,364.10 L529.08,364.40 L529.27,364.47 L529.46,364.75 L529.65,365.05 L529.84,365.32 L530.02,365.42 L530.21,365.56 L530.40,365.53 L530.59,365.59 L530.77,365.43 L530.96,365.38 L531.15,365.24 L531.34,364.96 L531.52,364.60 L531.71,364.42 L531.90,364.24 L532.09,364.33 L532.27,364.45 L532.46,364.42 L532.65,364.63 L532.84,364.87 L533.02,365.20 L533.21,365.51 L533.40,365.93 L533.59,366.05 L533.77,366.23 L533.96,366.39 L534.15,366.46 L534.34,366.19 L534.52,365.81 L534.71,365.71 L534.90,365.64 L535.09,365.36 L535.27,365.49 L535.46,365.32 L535.65,365.48 L535.84,365.49 L536.02,365.73 L536.21,366.26 L536.40,366.67 L536.59,366.88 L536.77,367.24 L536.96,367.35 L537.15,367.53 L537.34,367.66 L537.53,367.76 L537.71,367.71 L537.90,367.56 L538.09,367.26 L538.28,367.26 L538.46,367.00 L538.65,366.79 L538.84,366.70 L539.03,366.51 L539.21,366.48 L539.40,366.53 L539.59,366.67 L539.78,366.79 L539.96,366.80 L540.15,366.92 L540.34,367.10 L540.53,367.25 L540.71,367.31 L540.90,367.38 L541.09,367.37 L541.28,367.19 L541.46,367.13 L541.65,367.05 L541.84,367.11 L542.03,366.87 L542.21,366.80 L542.40,366.72 L542.59,366.87 L542.78,367.13 L542.96,367.54 L543.15,367.64 L543.34,367.98 L543.53,368.26 L543.71,368.82 L543.90,369.14 L544.09,369.35 L544.28,369.27 L544.46,369.44 L544.65,369.44 L544.84,369.54 L545.03,369.50 L545.22,369.49 L545.40,369.24 L545.59,368.98 L545.78,369.13 L545.97,369.27 L546.15,369.10 L546.34,369.06 L546.53,369.28 L546.72,369.23 L546.90,369.26 L547.09,369.58 L547.28,369.76 L547.47,369.86 L547.65,369.85 L547.84,370.05 L548.03,369.96 L548.22,369.79 L548.40,369.67 L548.59,369.39 L548.78,369.00 L548.97,368.86 L549.15,368.46 L549.34,368.63 L549.53,368.45 L549.72,368.58 L549.90,368.64 L550.09,368.92 L550.28,368.92 L550.47,369.28 L550.65,369.52 L550.84,369.91 L551.03,369.79 L551.22,370.21 L551.40,370.17 L551.59,370.31 L551.78,370.57 L551.97,370.97 L552.15,370.89 L552.34,370.85 L552.53,370.79 L552.72,370.86 L552.91,370.71 L553.09,371.04 L553.28,371.42 L553.47,371.43 L553.66,371.56 L553.84,371.96 L554.03,372.56 L554.22,373.04 L554.41,373.24 L554.59,373.52 L554.78,373.70 L554.97,373.59 L555.16,373.50 L555.34,373.54 L555.53,373.39 L555.72,373.14 L555.91,372.80 L556.09,372.70 L556.28,372.55 L556.47,372.36 L556.66,372.32 L556.84,372.54 L557.03,372.70 L557.22,372.91 L557.41,372.98 L557.59,373.28 L557.78,373.79 L557.97,374.07 L558.16,374.43 L558.34,374.57 L558.53,374.67 L558.72,374.68 L558.91,374.83 L559.09,374.85 L559.28,374.71 L559.47,374.76 L559.66,374.61 L559.85,374.66 L560.03,374.91 L560.22,375.40 L560.41,375.70 L560.60,376.10 L560.78,376.71 L560.97,377.36 L561.16,377.89 L561.35,378.73 L561.53,379.40 L561.72,379.82 L561.91,379.90 L562.10,380.23 L562.28,380.24 L562.47,380.30 L562.66,380.36 L562.85,380.31 L563.03,379.94 L563.22,379.78 L563.41,380.02 L563.60,380.31 L563.78,380.36 L563.97,380.82 L564.16,381.16 L564.35,381.52 L564.53,382.00 L564.72,382.54 L564.91,382.79 L565.10,383.03 L565.28,383.08 L565.47,383.59 L565.66,383.68 L565.85,383.64 L566.03,383.62 L566.22,383.47 L566.41,383.37 L566.60,383.60 L566.78,383.50 L566.97,383.71 L567.16,383.54 L567.35,383.44 L567.54,383.61 L567.72,384.11 L567.91,384.43 L568.10,384.95 L568.29,385.48 L568.47,386.01 L568.66,386.32 L568.85,386.79 L569.04,387.27 L569.22,387.61 L569.41,387.66 L569.60,387.82 L569.79,387.99 L569.97,387.94 L570.16,387.90 L570.35,388.06 L570.54,387.92 L570.72,388.04 L570.91,388.30 L571.10,388.65 L571.29,389.05 L571.47,389.52 L571.66,389.85 L571.85,390.38 L572.04,390.79 L572.22,391.72 L572.41,392.21 L572.60,392.53 L572.79,392.99 L572.97,393.19 L573.16,393.26 L573.35,393.41 L573.54,393.42 L573.72,393.65 L573.91,393.28 L574.10,393.32 L574.29,393.48 L574.47,393.21 L574.66,393.50 L574.85,393.53 L575.04,393.65 L575.23,393.81 L575.41,393.97 L575.60,394.70 L575.79,395.27 L575.98,395.37 L576.16,395.92 L576.35,396.11 L576.54,396.31 L576.73,396.65 L576.91,396.87 L577.10,396.92 L577.29,396.75 L577.48,396.58 L577.66,396.78 L577.85,396.50 L578.04,396.33 L578.23,397.00 L578.41,397.34 L578.60,397.53 L578.79,397.88 L578.98,398.37 L579.16,398.63 L579.35,399.39 L579.54,400.02 L579.73,400.71 L579.91,400.82 L580.10,401.03 L580.29,401.39 L580.48,401.74 L580.66,401.98 L580.85,402.15 L581.04,401.92 L581.23,402.24 L581.41,402.01 L581.60,401.86 L581.79,401.65 L581.98,401.76 L582.16,401.75 L582.35,401.88 L582.54,402.35 L582.73,402.68 L582.92,402.87 L583.10,403.58 L583.29,403.94 L583.48,404.81 L583.67,405.34 L583.85,405.83 L584.04,405.87 L584.23,405.94 L584.42,406.06 L584.60,406.18 L584.79,406.08 L584.98,406.35 L585.17,405.78 L585.35,405.36 L585.54,404.95 L585.73,405.09 L585.92,404.65 L586.10,404.79 L586.29,405.11 L586.48,405.30 L586.67,405.45 L586.85,405.92 L587.04,406.64 L587.23,407.22 L587.42,407.40 L587.60,408.37 L587.79,408.78 L587.98,409.10 L588.17,409.31 L588.35,409.40 L588.54,409.51 L588.73,409.29 L588.92,409.16 L589.10,409.35 L589.29,409.05 L589.48,409.07 L589.67,408.97 L589.86,409.07 L590.04,409.49 L590.23,409.79 L590.42,410.07 L590.61,410.65 L590.79,411.27 L590.98,412.04 L591.17,412.24 L591.36,412.77 L591.54,413.27 L591.73,413.60 L591.92,414.00 L592.11,414.27 L592.29,414.53 L592.48,414.64 L592.67,414.24 L592.86,414.26 L593.04,413.83 L593.23,413.61 L593.42,413.23 L593.61,412.84 L593.79,412.66 L593.98,412.54 L594.17,412.39 L594.36,412.65 L594.54,412.84 L594.73,413.13 L594.92,413.58 L595.11,414.43 L595.29,414.97 L595.48,415.46 L595.67,415.71 L595.86,415.73 L596.04,415.94 L596.23,416.23 L596.42,416.29 L596.61,416.24 L596.79,415.67 L596.98,415.63 L597.17,415.57 L597.36,415.52 L597.55,415.68 L597.73,415.99 L597.92,415.92 L598.11,416.51 L598.30,416.59 L598.48,416.90 L598.67,416.98 L598.86,417.44 L599.05,418.10 L599.23,418.91 L599.42,418.96 L599.61,419.78 L599.80,419.84 L599.98,420.79 L600.17,421.40 L600.36,421.97 L600.55,422.24 L600.73,422.29 L600.92,422.24 L601.11,422.68 L601.30,422.20 L601.48,422.14 L601.67,421.62 L601.86,421.41 L602.05,421.51 L602.23,421.28 L602.42,421.01 L602.61,421.01 L602.80,420.93 L602.98,421.08 L603.17,421.51 L603.36,421.44 L603.55,421.58 L603.73,421.85 L603.92,422.25 L604.11,422.56 L604.30,422.98 L604.48,423.18 L604.67,423.60 L604.86,423.67 L605.05,423.96 L605.24,424.29 L605.42,424.40 L605.61,424.68 L605.80,424.80 L605.99,424.27 L606.17,424.19 L606.36,424.04 L606.55,423.91 L606.74,423.79 L606.92,423.67 L607.11,423.73 L607.30,423.80 L607.49,423.96 L607.67,424.67 L607.86,425.30 L608.05,425.90 L608.24,426.75 L608.42,427.50 L608.61,428.67 L608.80,428.88 L608.99,429.46 L609.17,430.41 L609.36,430.63 L609.55,431.17 L609.74,431.24 L609.92,430.97 L610.11,431.26 L610.30,430.84 L610.49,430.82 L610.67,430.72 L610.86,430.32 L611.05,430.19 L611.24,429.45 L611.42,429.64 L611.61,429.85 L611.80,429.64 L611.99,430.31 L612.17,430.86 L612.36,431.49 L612.55,432.31 L612.74,432.45 L612.93,433.22 L613.11,433.29 L613.30,433.80 L613.49,434.33 L613.68,434.22 L613.86,434.53 L614.05,434.31 L614.24,433.97 L614.43,434.06 L614.61,434.06 L614.80,434.16 L614.99,433.98 L615.18,433.87 L615.36,433.87 L615.55,433.36 L615.74,433.37 L615.93,433.37 L616.11,433.84 L616.30,433.77 L616.49,434.06 L616.68,434.43 L616.86,434.97 L617.05,435.25 L617.24,436.06 L617.43,436.64 L617.61,437.21 L617.80,437.67 L617.99,438.62 L618.18,439.89 L618.36,440.26 L618.55,440.49 L618.74,441.26 L618.93,442.04 L619.11,443.04 L619.30,443.45 L619.49,444.27 L619.68,444.08 L619.87,444.40 L620.05,444.81 L620.24,445.16 L620.43,445.16 L620.62,445.28 L620.80,444.78 L620.99,445.27 L621.18,445.35 L621.37,446.19 L621.55,446.16 L621.74,446.80 L621.93,447.42 L622.12,448.14 L622.30,448.67 L622.49,449.74 L622.68,450.17 L622.87,451.21 L623.05,451.68 L623.24,453.02 L623.43,453.80 L623.62,454.95 L623.80,454.97 L623.99,455.25 L624.18,455.64 L624.37,456.23 L624.55,455.62 L624.74,456.04 L624.93,455.16 L625.12,455.54 L625.30,455.81 L625.49,456.37 L625.68,456.47 L625.87,457.26 L626.05,458.22 L626.24,460.48 L626.43,461.91 L626.62,464.25 L626.80,466.11 L626.99,468.50 L627.18,471.10 L627.37,474.00 L627.56,475.50 L627.74,475.50 L627.93,475.50 L628.12,475.50 L628.31,475.50 L628.49,475.50 L628.68,475.50 L628.87,475.50 L629.06,475.50 L629.24,475.50 L629.43,475.50 L629.62,475.50 L629.81,475.50 L629.99,475.50 L630.18,475.50 L630.37,475.50 L630.56,475.50 L630.74,475.50 L630.93,475.50 L631.12,475.50 L631.31,475.50 L631.49,475.50 L631.68,475.50 L631.87,475.50 L632.06,475.50 L632.24,475.50 L632.43,475.50 L632.62,475.50 L632.81,475.50 L632.99,475.50 L633.18,475.50 L633.37,475.50 L633.56,475.50 L633.74,475.50 L633.93,475.50 L634.12,475.50 L634.31,475.50 L634.49,475.50 L634.68,475.50 L634.87,475.50 L635.06,475.50 L635.25,475.50 L635.43,475.50 L635.62,475.50 L635.81,475.50 L636.00,475.50 L636.18,475.50 L636.37,475.50 L636.56,475.50 L636.75,475.50 L636.93,475.50 L637.12,475.50 L637.31,475.50 L637.50,475.50 L637.68,475.50 L637.87,475.50 L638.06,475.50 L638.25,475.50 L638.43,475.50 L638.62,475.50 L638.81,475.50 L639.00,475.50 L639.18,475.50 L639.37,475.50 L639.56,475.50 L639.75,475.50 L639.93,475.50 L640.12,475.50 L640.31,475.50 L640.50,475.50 L640.68,475.50 L640.87,475.50 L641.06,475.50 L641.25,475.50 L641.43,475.50 L641.62,475.50 L641.81,475.50 L642.00,475.50 L642.18,475.50 L642.37,475.50 L642.56,475.50 L642.75,475.50 L642.94,475.50 L643.12,475.50 L643.31,475.50 L643.50,475.50 L643.69,475.50 L643.87,475.50 L644.06,475.50 L644.25,475.50 L644.44,475.50 L644.62,475.50 L644.81,475.50 L645.00,475.50 L645.19,475.50 L645.37,475.50 L645.56,475.50 L645.75,475.50 L645.94,475.50 L646.12,475.50 L646.31,475.50 L646.50,475.50 L646.69,475.50 L646.87,475.50 L647.06,475.50 L647.25,475.50 L647.44,475.50 L647.62,475.50 L647.81,475.50 L648.00,475.50 L648.19,475.50 L648.37,475.50 L648.56,475.50 L648.75,475.50 L648.94,475.50 L649.12,475.50 L649.31,475.50 L649.50,475.50 L649.69,475.50 L649.88,475.50 L650.06,475.50 L650.25,475.50 L650.44,475.50 L650.63,475.50 L650.81,475.50 L651.00,475.50 L651.19,475.50 L651.38,475.50 L651.56,475.50 L651.75,475.50 L651.94,475.50 L652.13,475.50 L652.31,475.50 L652.50,475.50 L652.69,475.50 L652.88,475.50 L653.06,475.50 L653.25,475.50 L653.44,475.50 L653.63,475.50 L653.81,475.50 L654.00,475.50 L654.19,475.50 L654.38,475.50 L654.56,475.50 L654.75,475.50 L654.94,475.50 L655.13,475.50 L655.31,475.50 L655.50,475.50 L655.69,475.50 L655.88,475.50 L656.06,475.50 L656.25,475.50 L656.44,475.50 L656.63,475.50 L656.81,475.50 L657.00,475.50 L657.19,475.50 L657.38,475.50 L657.57,475.50 L657.75,475.50 L657.94,475.50 L658.13,475.50 L658.32,475.50 L658.50,475.50 L658.69,475.50 L658.88,475.50 L659.07,475.50 L659.25,475.50 L659.44,475.50 L659.63,475.50 L659.82,475.50 L660.00,475.50 L660.19,475.50 L660.38,475.50 L660.57,475.50 L660.75,475.50 L660.94,475.50 L661.13,475.50 L661.32,475.50 L661.50,475.50 L661.69,475.50 L661.88,475.50 L662.07,475.50 L662.25,475.50 L662.44,475.50 L662.63,475.50 L662.82,475.50 L663.00,475.50 L663.19,475.50 L663.38,475.50 L663.57,475.50 L663.75,475.50 L663.94,475.50 L664.13,475.50 L664.32,475.50 L664.50,475.50 L664.69,475.50 L664.88,475.50 L665.07,475.50 L665.26,475.50 L665.44,475.50 L665.63,475.50 L665.82,475.50 L666.01,475.50 L666.19,475.50 L666.38,475.50 L666.57,475.50 L666.76,475.50 L666.94,475.50 L667.13,475.50 L667.32,475.50 L667.51,475.50 L667.69,475.50 L667.88,475.50 L668.07,475.50 L668.26,475.50 L668.44,475.50 L668.63,475.50 L668.82,475.50 L669.01,475.50 L669.19,475.50 L669.38,475.50 L669.57,475.50 L669.76,475.50 L669.94,475.50 L670.13,475.50 L670.32,475.50 L670.51,475.50 L670.69,475.50 L670.88,475.50 L671.07,475.50 L671.26,475.50 L671.44,475.50 L671.63,475.50 L671.82,475.50 L672.01,475.50 L672.19,475.50 L672.38,475.50 L672.57,475.50 L672.76,475.50 L672.95,475.50 L673.13,475.50 L673.32,475.50 L673.51,475.50 L673.70,475.50 L673.88,475.50 L674.07,475.50 L674.26,475.50 L674.45,475.50 L674.63,475.50 L674.82,475.50 L675.01,475.50 L675.20,475.50 L675.38,475.50 L675.57,475.50 L675.76,475.50 L675.95,475.50 L676.13,475.50 L676.32,475.50 L676.51,475.50 L676.70,475.50 L676.88,475.50 L677.07,475.50 L677.26,475.50 L677.45,475.50 L677.63,475.50 L677.82,475.50 L678.01,475.50 L678.20,475.50 L678.38,475.50 L678.57,475.50 L678.76,475.50 L678.95,475.50 L679.13,475.50 L679.32,475.50 L679.51,475.50 L679.70,475.50 L679.89,475.50 L680.07,475.50 L680.26,475.50 L680.45,475.50 L680.64,475.50 L680.82,475.50 L681.01,475.50 L681.20,475.50 L681.39,475.50 L681.57,475.50 L681.76,475.50 L681.95,475.50 L682.14,475.50 L682.32,475.50 L682.51,475.50 L682.70,475.50 L682.89,475.50 L683.07,475.50 L683.26,475.50 L683.45,475.50 L683.64,475.50 L683.82,475.50 L684.01,475.50 L684.20,475.50 L684.39,475.50 L684.57,475.50 L684.76,475.50 L684.95,475.50 L685.14,475.50 L685.32,475.50 L685.51,475.50 L685.70,475.50 L685.89,475.50 L686.07,475.50 L686.26,475.50 L686.45,475.50 L686.64,475.50 L686.82,475.50 L687.01,475.50 L687.20,475.50" fill="none" stroke="#ff1c10" stroke-width="1.4" stroke-linejoin="round" clip-path="url(#cc)" />
<path d="M626.34,474.50 L627.94,454.70 L629.54,474.50" fill="none" stroke="#0a2aff" stroke-width="1.4" stroke-linejoin="round" clip-path="url(#cc)" />
<path d="M626.72,474.50 L628.32,452.31 L629.92,474.50" fill="none" stroke="#7a1e86" stroke-width="1.4" stroke-linejoin="round" clip-path="url(#cc)" />
<path d="M627.10,474.50 L628.70,450.15 L630.30,474.50" fill="none" stroke="#ff1c10" stroke-width="1.4" stroke-linejoin="round" clip-path="url(#cc)" />
<path d="M634.02,474.50 L635.62,464.08 L637.22,474.50" fill="none" stroke="#0a2aff" stroke-width="1.4" stroke-linejoin="round" clip-path="url(#cc)" />
<path d="M634.40,474.50 L636.00,461.68 L637.60,474.50" fill="none" stroke="#7a1e86" stroke-width="1.4" stroke-linejoin="round" clip-path="url(#cc)" />
<path d="M634.78,474.50 L636.38,459.53 L637.98,474.50" fill="none" stroke="#ff1c10" stroke-width="1.4" stroke-linejoin="round" clip-path="url(#cc)" />
<path d="M639.14,474.50 L640.42,470.94 L641.70,474.50" fill="none" stroke="#0a2aff" stroke-width="1.4" stroke-linejoin="round" clip-path="url(#cc)" />
<path d="M639.52,474.50 L640.80,468.54 L642.08,474.50" fill="none" stroke="#7a1e86" stroke-width="1.4" stroke-linejoin="round" clip-path="url(#cc)" />
<path d="M639.90,474.50 L641.18,466.39 L642.46,474.50" fill="none" stroke="#ff1c10" stroke-width="1.4" stroke-linejoin="round" clip-path="url(#cc)" />
<path d="M642.98,474.50 L643.94,474.44 L644.90,474.50" fill="none" stroke="#0a2aff" stroke-width="1.4" stroke-linejoin="round" clip-path="url(#cc)" />
<path d="M643.36,474.50 L644.32,472.04 L645.28,474.50" fill="none" stroke="#7a1e86" stroke-width="1.4" stroke-linejoin="round" clip-path="url(#cc)" />
<path d="M643.74,474.50 L644.70,469.89 L645.66,474.50" fill="none" stroke="#ff1c10" stroke-width="1.4" stroke-linejoin="round" clip-path="url(#cc)" />
<path d="M657.06,474.50 L658.02,475.08 L658.98,474.50" fill="none" stroke="#0a2aff" stroke-width="1.4" stroke-linejoin="round" clip-path="url(#cc)" />
<path d="M657.44,474.50 L658.40,472.69 L659.36,474.50" fill="none" stroke="#7a1e86" stroke-width="1.4" stroke-linejoin="round" clip-path="url(#cc)" />
<path d="M657.82,474.50 L658.78,470.53 L659.74,474.50" fill="none" stroke="#ff1c10" stroke-width="1.4" stroke-linejoin="round" clip-path="url(#cc)" />
<path d="M663.62,474.50 L664.42,475.75 L665.22,474.50" fill="none" stroke="#0a2aff" stroke-width="1.4" stroke-linejoin="round" clip-path="url(#cc)" />
<path d="M664.00,474.50 L664.80,473.35 L665.60,474.50" fill="none" stroke="#7a1e86" stroke-width="1.4" stroke-linejoin="round" clip-path="url(#cc)" />
<path d="M664.38,474.50 L665.18,471.19 L665.98,474.50" fill="none" stroke="#ff1c10" stroke-width="1.4" stroke-linejoin="round" clip-path="url(#cc)" />
<path d="M668.58,474.50 L669.54,474.44 L670.50,474.50" fill="none" stroke="#0a2aff" stroke-width="1.4" stroke-linejoin="round" clip-path="url(#cc)" />
<path d="M668.96,474.50 L669.92,472.04 L670.88,474.50" fill="none" stroke="#7a1e86" stroke-width="1.4" stroke-linejoin="round" clip-path="url(#cc)" />
<path d="M669.34,474.50 L670.30,469.89 L671.26,474.50" fill="none" stroke="#ff1c10" stroke-width="1.4" stroke-linejoin="round" clip-path="url(#cc)" />
<path d="M422.60,123.30 L422.88,123.31 L423.17,123.31 L423.45,123.32 L423.74,123.32 L424.02,123.33 L424.31,123.34 L424.59,123.34 L424.87,123.35 L425.16,123.35 L425.44,123.36 L425.73,123.36 L426.01,123.37 L426.30,123.37 L426.58,123.38 L426.86,123.38 L427.15,123.39 L427.43,123.39 L427.72,123.40 L428.00,123.40 L428.29,123.41 L428.57,123.41 L428.85,123.41 L429.14,123.42 L429.42,123.42 L429.71,123.43 L429.99,123.43 L430.28,123.43 L430.56,123.44 L430.85,123.44 L431.13,123.45 L431.41,123.45 L431.70,123.45 L431.98,123.46 L432.27,123.46 L432.55,123.46 L432.84,123.47 L433.12,123.47 L433.40,123.47 L433.69,123.47 L433.97,123.48 L434.26,123.48 L434.54,123.48 L434.83,123.49 L435.11,123.49 L435.39,123.49 L435.68,123.49 L435.96,123.50 L436.25,123.50 L436.53,123.50 L436.82,123.50 L437.10,123.50 L437.38,123.51 L437.67,123.51 L437.95,123.51 L438.24,123.51 L438.52,123.51 L438.81,123.52 L439.09,123.52 L439.37,123.52 L439.66,123.52 L439.94,123.52 L440.23,123.53 L440.51,123.53 L440.80,123.53 L441.08,123.53 L441.36,123.53 L441.65,123.53 L441.93,123.53 L442.22,123.53 L442.50,123.54 L442.79,123.54 L443.07,123.54 L443.36,123.54 L443.64,123.54 L443.92,123.54 L444.21,123.54 L444.49,123.54 L444.78,123.54 L445.06,123.54 L445.35,123.55 L445.63,123.55 L445.91,123.55 L446.20,123.55 L446.48,123.55 L446.77,123.55 L447.05,123.55 L447.34,123.55 L447.62,123.55 L447.90,123.55 L448.19,123.55 L448.47,123.55 L448.76,123.55 L449.04,123.55 L449.33,123.55 L449.61,123.55 L449.89,123.55 L450.18,123.55 L450.46,123.55 L450.75,123.55 L451.03,123.56 L451.32,123.56 L451.60,123.56 L451.88,123.56 L452.17,123.56 L452.45,123.56 L452.74,123.56 L453.02,123.56 L453.31,123.56 L453.59,123.56 L453.87,123.56 L454.16,123.56 L454.44,123.56 L454.73,123.56 L455.01,123.56 L455.30,123.56 L455.58,123.56 L455.86,123.56 L456.15,123.56 L456.43,123.56 L456.72,123.56 L457.00,123.56 L457.29,123.56 L457.57,123.56 L457.86,123.56 L458.14,123.56 L458.42,123.56 L458.71,123.55 L458.99,123.55 L459.28,123.55 L459.56,123.55 L459.85,123.55 L460.13,123.54 L460.41,123.54 L460.70,123.53 L460.98,123.53 L461.27,123.52 L461.55,123.52 L461.84,123.51 L462.12,123.51 L462.40,123.50 L462.69,123.50 L462.97,123.49 L463.26,123.48 L463.54,123.48 L463.83,123.47 L464.11,123.46 L464.39,123.45 L464.68,123.44 L464.96,123.44 L465.25,123.43 L465.53,123.42 L465.82,123.41 L466.10,123.40 L466.38,123.39 L466.67,123.38 L466.95,123.37 L467.24,123.36 L467.52,123.35 L467.81,123.34 L468.09,123.33 L468.37,123.32 L468.66,123.31 L468.94,123.30 L469.23,123.29 L469.51,123.28 L469.80,123.26 L470.08,123.25 L470.37,123.24 L470.65,123.23 L470.93,123.22 L471.22,123.21 L471.50,123.20 L471.79,123.19 L472.07,123.17 L472.36,123.16 L472.64,123.15 L472.92,123.14 L473.21,123.13 L473.49,123.12 L473.78,123.11 L474.06,123.09 L474.35,123.08 L474.63,123.07 L474.91,123.06 L475.20,123.05 L475.48,123.04 L475.77,123.03 L476.05,123.02 L476.34,123.01 L476.62,123.00 L476.90,122.99 L477.19,122.98 L477.47,122.97 L477.76,122.96 L478.04,122.95 L478.33,122.94 L478.61,122.93 L478.89,122.92 L479.18,122.91 L479.46,122.90 L479.75,122.89 L480.03,122.89 L480.32,122.88 L480.60,122.87 L480.88,122.86 L481.17,122.86 L481.45,122.85 L481.74,122.84 L482.02,122.84 L482.31,122.83 L482.59,122.83 L482.87,122.82 L483.16,122.82 L483.44,122.81 L483.73,122.81 L484.01,122.80 L484.30,122.80 L484.58,122.80 L484.87,122.79 L485.15,122.79 L485.43,122.79 L485.72,122.79 L486.00,122.79 L486.29,122.79 L486.57,122.79 L486.86,122.79 L487.14,122.79 L487.42,122.79 L487.71,122.80 L487.99,122.80 L488.28,122.81 L488.56,122.82 L488.85,122.83 L489.13,122.84 L489.41,122.85 L489.70,122.87 L489.98,122.88 L490.27,122.89 L490.55,122.91 L490.84,122.93 L491.12,122.94 L491.40,122.96 L491.69,122.98 L491.97,123.00 L492.26,123.02 L492.54,123.04 L492.83,123.07 L493.11,123.09 L493.39,123.11 L493.68,123.14 L493.96,123.16 L494.25,123.19 L494.53,123.21 L494.82,123.24 L495.10,123.27 L495.38,123.29 L495.67,123.32 L495.95,123.35 L496.24,123.38 L496.52,123.40 L496.81,123.43 L497.09,123.46 L497.38,123.49 L497.66,123.52 L497.94,123.55 L498.23,123.58 L498.51,123.61 L498.80,123.63 L499.08,123.66 L499.37,123.69 L499.65,123.72 L499.93,123.75 L500.22,123.78 L500.50,123.81 L500.79,123.84 L501.07,123.87 L501.36,123.90 L501.64,123.93 L501.92,123.96 L502.21,123.99 L502.49,124.03 L502.78,124.06 L503.06,124.10 L503.35,124.14 L503.63,124.17 L503.91,124.21 L504.20,124.25 L504.48,124.29 L504.77,124.33 L505.05,124.38 L505.34,124.42 L505.62,124.46 L505.90,124.51 L506.19,124.55 L506.47,124.60 L506.76,124.64 L507.04,124.69 L507.33,124.74 L507.61,124.79 L507.89,124.84 L508.18,124.89 L508.46,124.94 L508.75,124.99 L509.03,125.04 L509.32,125.11 L509.60,125.17 L509.88,125.25 L510.17,125.33 L510.45,125.41 L510.74,125.50 L511.02,125.60 L511.31,125.69 L511.59,125.78 L511.88,125.88 L512.16,125.97 L512.44,126.06 L512.73,126.15 L513.01,126.23 L513.30,126.31 L513.58,126.38 L513.87,126.44 L514.15,126.50 L514.43,126.55 L514.72,126.59 L515.00,126.62 L515.29,126.63 L515.57,126.64 L515.86,126.63 L516.14,126.60 L516.42,126.57 L516.71,126.52 L516.99,126.46 L517.28,126.39 L517.56,126.30 L517.85,126.21 L518.13,126.11 L518.41,125.99 L518.70,125.87 L518.98,125.74 L519.27,125.60 L519.55,125.46 L519.84,125.31 L520.12,125.15 L520.40,124.98 L520.69,124.81 L520.97,124.64 L521.26,124.46 L521.54,124.27 L521.83,124.09 L522.11,123.90 L522.39,123.71 L522.68,123.51 L522.96,123.32 L523.25,123.10 L523.53,122.85 L523.82,122.56 L524.10,122.23 L524.39,121.87 L524.67,121.48 L524.95,121.07 L525.24,120.63 L525.52,120.17 L525.81,119.70 L526.09,119.21 L526.38,118.70 L526.66,118.19 L526.94,117.67 L527.23,117.15 L527.51,116.63 L527.80,116.11 L528.08,115.60 L528.37,115.09 L528.65,114.60 L528.93,114.12 L529.22,113.65 L529.50,113.21 L529.79,112.79 L530.07,112.39 L530.36,112.03 L530.64,111.69 L530.92,111.36 L531.21,111.02 L531.49,110.67 L531.78,110.32 L532.06,109.97 L532.35,109.61 L532.63,109.26 L532.91,108.90 L533.20,108.55 L533.48,108.21 L533.77,107.87 L534.05,107.53 L534.34,107.21 L534.62,106.90 L534.90,106.60 L535.19,106.31 L535.47,106.04 L535.76,105.78 L536.04,105.54 L536.33,105.32 L536.61,105.13 L536.89,104.95 L537.18,104.80 L537.46,104.68 L537.75,104.58 L538.03,104.51 L538.32,104.48 L538.60,104.47 L538.89,104.51 L539.17,104.60 L539.45,104.73 L539.74,104.90 L540.02,105.12 L540.31,105.37 L540.59,105.65 L540.88,105.97 L541.16,106.32 L541.44,106.69 L541.73,107.09 L542.01,107.51 L542.30,107.94 L542.58,108.40 L542.87,108.86 L543.15,109.34 L543.43,109.83 L543.72,110.32 L544.00,110.82 L544.29,111.31 L544.57,111.81 L544.86,112.30 L545.14,112.78 L545.42,113.26 L545.71,113.76 L545.99,114.29 L546.28,114.84 L546.56,115.43 L546.85,116.03 L547.13,116.66 L547.41,117.31 L547.70,117.98 L547.98,118.66 L548.27,119.37 L548.55,120.09 L548.84,120.82 L549.12,121.57 L549.40,122.33 L549.69,123.10 L549.97,123.90 L550.26,124.75 L550.54,125.65 L550.83,126.58 L551.11,127.55 L551.40,128.55 L551.68,129.55 L551.96,130.57 L552.25,131.59 L552.53,132.59 L552.82,133.58 L553.10,134.55 L553.39,135.48 L553.67,136.37 L553.95,137.34 L554.24,138.37 L554.52,139.46 L554.81,140.55 L555.09,141.62 L555.38,142.64 L555.66,143.56 L555.94,144.36 L556.23,145.01 L556.51,145.47 L556.80,145.70 L557.08,145.70 L557.37,145.51 L557.65,145.16 L557.93,144.67 L558.22,144.07 L558.50,143.36 L558.79,142.58 L559.07,141.74 L559.36,140.87 L559.64,139.97 L559.92,139.07 L560.21,138.20 L560.49,137.36 L560.78,136.56 L561.06,135.68 L561.35,134.71 L561.63,133.67 L561.91,132.60 L562.20,131.49 L562.48,130.37 L562.77,129.27 L563.05,128.19 L563.34,127.15 L563.62,126.19 L563.91,125.30 L564.19,124.52 L564.47,123.85 L564.76,123.33 L565.04,122.90 L565.33,122.47 L565.61,122.05 L565.90,121.64 L566.18,121.24 L566.46,120.85 L566.75,120.48 L567.03,120.12 L567.32,119.77 L567.60,119.45 L567.89,119.15 L568.17,118.86 L568.45,118.60 L568.74,118.36 L569.02,118.15 L569.31,117.96 L569.59,117.81 L569.88,117.68 L570.16,117.58 L570.44,117.51 L570.73,117.48 L571.01,117.49 L571.30,117.53 L571.58,117.60 L571.87,117.71 L572.15,117.84 L572.43,118.00 L572.72,118.18 L573.00,118.39 L573.29,118.61 L573.57,118.85 L573.86,119.10 L574.14,119.36 L574.42,119.63 L574.71,119.90 L574.99,120.18 L575.28,120.45 L575.56,120.72 L575.85,120.98 L576.13,121.24 L576.41,121.48 L576.70,121.71 L576.98,121.92 L577.27,122.11 L577.55,122.28 L577.84,122.43 L578.12,122.55 L578.41,122.68 L578.69,122.81 L578.97,122.94 L579.26,123.07 L579.54,123.20 L579.83,123.32 L580.11,123.45 L580.40,123.57 L580.68,123.70 L580.96,123.82 L581.25,123.93 L581.53,124.04 L581.82,124.15 L582.10,124.26 L582.39,124.36 L582.67,124.45 L582.95,124.54 L583.24,124.62 L583.52,124.70 L583.81,124.76 L584.09,124.82 L584.38,124.88 L584.66,124.92 L584.94,124.96 L585.23,124.99 L585.51,125.00 L585.80,125.01 L586.08,125.01 L586.37,124.99 L586.65,124.95 L586.93,124.91 L587.22,124.85 L587.50,124.77 L587.79,124.69 L588.07,124.59 L588.36,124.48 L588.64,124.37 L588.92,124.24 L589.21,124.11 L589.49,123.97 L589.78,123.82 L590.06,123.66 L590.35,123.50 L590.63,123.34 L590.92,123.17 L591.20,123.00 L591.48,122.82 L591.77,122.64 L592.05,122.46 L592.34,122.28 L592.62,122.10 L592.91,121.92 L593.19,121.74 L593.47,121.56 L593.76,121.39 L594.04,121.21 L594.33,121.05 L594.61,120.88 L594.90,120.72 L595.18,120.57 L595.46,120.43 L595.75,120.29 L596.03,120.16 L596.32,120.04 L596.60,119.93 L596.89,119.82 L597.17,119.73 L597.45,119.65 L597.74,119.58 L598.02,119.53 L598.31,119.49 L598.59,119.46 L598.88,119.45 L599.16,119.45 L599.44,119.48 L599.73,119.54 L600.01,119.62 L600.30,119.71 L600.58,119.83 L600.87,119.97 L601.15,120.12 L601.43,120.28 L601.72,120.46 L602.00,120.65 L602.29,120.85 L602.57,121.06 L602.86,121.27 L603.14,121.49 L603.42,121.71 L603.71,121.94 L603.99,122.16 L604.28,122.38 L604.56,122.60 L604.85,122.82 L605.13,123.03 L605.42,123.23 L605.70,123.42 L605.98,123.61 L606.27,123.78 L606.55,123.93 L606.84,124.07 L607.12,124.20 L607.41,124.30 L607.69,124.38 L607.97,124.45 L608.26,124.48 L608.54,124.50 L608.83,124.50 L609.11,124.49 L609.40,124.47 L609.68,124.45 L609.96,124.43 L610.25,124.40 L610.53,124.36 L610.82,124.33 L611.10,124.28 L611.39,124.24 L611.67,124.19 L611.95,124.14 L612.24,124.08 L612.52,124.03 L612.81,123.97 L613.09,123.90 L613.38,123.84 L613.66,123.78 L613.94,123.71 L614.23,123.65 L614.51,123.58 L614.80,123.52 L615.08,123.45 L615.37,123.38 L615.65,123.32 L615.93,123.26 L616.22,123.19 L616.50,123.13 L616.79,123.07 L617.07,123.02 L617.36,122.96 L617.64,122.91 L617.93,122.86 L618.21,122.82 L618.49,122.78 L618.78,122.74 L619.06,122.71 L619.35,122.68 L619.63,122.66 L619.92,122.64 L620.20,122.62 L620.48,122.62 L620.77,122.62 L621.05,122.62 L621.34,122.62 L621.62,122.62 L621.91,122.62 L622.19,122.63 L622.47,122.63 L622.76,122.64 L623.04,122.64 L623.33,122.65 L623.61,122.65 L623.90,122.66 L624.18,122.67 L624.46,122.68 L624.75,122.69 L625.03,122.70 L625.32,122.71 L625.60,122.72 L625.89,122.73 L626.17,122.74 L626.45,122.75 L626.74,122.76 L627.02,122.77 L627.31,122.79 L627.59,122.80 L627.88,122.81 L628.16,122.83 L628.44,122.84 L628.73,122.85 L629.01,122.87 L629.30,122.88 L629.58,122.90 L629.87,122.91 L630.15,122.93 L630.43,122.94 L630.72,122.96 L631.00,122.97 L631.29,122.98 L631.57,123.00 L631.86,123.01 L632.14,123.03 L632.43,123.04 L632.71,123.06 L632.99,123.07 L633.28,123.09 L633.56,123.10 L633.85,123.11 L634.13,123.13 L634.42,123.14 L634.70,123.16 L634.98,123.17 L635.27,123.18 L635.55,123.19 L635.84,123.21 L636.12,123.22 L636.41,123.23 L636.69,123.24 L636.97,123.25 L637.26,123.26 L637.54,123.27 L637.83,123.28 L638.11,123.29 L638.40,123.30 L638.68,123.30 L638.96,123.31 L639.25,123.32 L639.53,123.33 L639.82,123.33 L640.10,123.34 L640.39,123.35 L640.67,123.36 L640.95,123.36 L641.24,123.37 L641.52,123.38 L641.81,123.39 L642.09,123.39 L642.38,123.40 L642.66,123.41 L642.94,123.42 L643.23,123.43 L643.51,123.43 L643.80,123.44 L644.08,123.45 L644.37,123.46 L644.65,123.46 L644.94,123.47 L645.22,123.48 L645.50,123.49 L645.79,123.49 L646.07,123.50 L646.36,123.51 L646.64,123.51 L646.93,123.52 L647.21,123.53 L647.49,123.53 L647.78,123.54 L648.06,123.55 L648.35,123.55 L648.63,123.56 L648.92,123.56 L649.20,123.57 L649.48,123.58 L649.77,123.58 L650.05,123.59 L650.34,123.59 L650.62,123.60 L650.91,123.60 L651.19,123.61 L651.47,123.61 L651.76,123.61 L652.04,123.62 L652.33,123.62 L652.61,123.62 L652.90,123.63 L653.18,123.63 L653.46,123.63 L653.75,123.63 L654.03,123.64 L654.32,123.64 L654.60,123.64 L654.89,123.64 L655.17,123.64 L655.45,123.64 L655.74,123.64 L656.02,123.64 L656.31,123.64 L656.59,123.64 L656.88,123.64 L657.16,123.64 L657.44,123.64 L657.73,123.64 L658.01,123.64 L658.30,123.64 L658.58,123.64 L658.87,123.64 L659.15,123.64 L659.44,123.64 L659.72,123.63 L660.00,123.63 L660.29,123.63 L660.57,123.63 L660.86,123.63 L661.14,123.63 L661.43,123.63 L661.71,123.62 L661.99,123.62 L662.28,123.62 L662.56,123.62 L662.85,123.62 L663.13,123.61 L663.42,123.61 L663.70,123.61 L663.98,123.61 L664.27,123.60 L664.55,123.60 L664.84,123.60 L665.12,123.59 L665.41,123.59 L665.69,123.59 L665.97,123.58 L666.26,123.58 L666.54,123.58 L666.83,123.57 L667.11,123.57 L667.40,123.56 L667.68,123.56 L667.96,123.56 L668.25,123.55 L668.53,123.55 L668.82,123.54 L669.10,123.54 L669.39,123.53 L669.67,123.53 L669.95,123.52 L670.24,123.52 L670.52,123.51 L670.81,123.50 L671.09,123.50 L671.38,123.49 L671.66,123.49 L671.95,123.48 L672.23,123.47 L672.51,123.47 L672.80,123.46 L673.08,123.45 L673.37,123.45 L673.65,123.44 L673.94,123.43 L674.22,123.42 L674.50,123.42 L674.79,123.41 L675.07,123.40 L675.36,123.39 L675.64,123.38 L675.93,123.37 L676.21,123.37 L676.49,123.36 L676.78,123.35 L677.06,123.34 L677.35,123.33 L677.63,123.32 L677.92,123.31 L678.20,123.30" fill="none" stroke="#0a2aff" stroke-width="1.4" stroke-linejoin="round" clip-path="url(#cd)" />
<path d="M422.60,123.22 L422.88,123.24 L423.17,123.26 L423.45,123.28 L423.74,123.30 L424.02,123.31 L424.31,123.33 L424.59,123.35 L424.87,123.36 L425.16,123.38 L425.44,123.40 L425.73,123.41 L426.01,123.43 L426.30,123.44 L426.58,123.46 L426.86,123.47 L427.15,123.49 L427.43,123.50 L427.72,123.52 L428.00,123.53 L428.29,123.54 L428.57,123.56 L428.85,123.57 L429.14,123.58 L429.42,123.60 L429.71,123.61 L429.99,123.62 L430.28,123.63 L430.56,123.64 L430.85,123.66 L431.13,123.67 L431.41,123.68 L431.70,123.69 L431.98,123.70 L432.27,123.71 L432.55,123.72 L432.84,123.73 L433.12,123.74 L433.40,123.75 L433.69,123.76 L433.97,123.77 L434.26,123.77 L434.54,123.78 L434.83,123.79 L435.11,123.80 L435.39,123.81 L435.68,123.81 L435.96,123.82 L436.25,123.83 L436.53,123.84 L436.82,123.84 L437.10,123.85 L437.38,123.86 L437.67,123.86 L437.95,123.87 L438.24,123.88 L438.52,123.88 L438.81,123.89 L439.09,123.89 L439.37,123.90 L439.66,123.90 L439.94,123.91 L440.23,123.91 L440.51,123.92 L440.80,123.92 L441.08,123.93 L441.36,123.93 L441.65,123.94 L441.93,123.94 L442.22,123.94 L442.50,123.95 L442.79,123.95 L443.07,123.96 L443.36,123.96 L443.64,123.96 L443.92,123.97 L444.21,123.97 L444.49,123.97 L444.78,123.97 L445.06,123.98 L445.35,123.98 L445.63,123.98 L445.91,123.98 L446.20,123.99 L446.48,123.99 L446.77,123.99 L447.05,123.99 L447.34,124.00 L447.62,124.00 L447.90,124.00 L448.19,124.00 L448.47,124.00 L448.76,124.00 L449.04,124.00 L449.33,124.01 L449.61,124.01 L449.89,124.01 L450.18,124.01 L450.46,124.01 L450.75,124.01 L451.03,124.01 L451.32,124.01 L451.60,124.01 L451.88,124.01 L452.17,124.01 L452.45,124.02 L452.74,124.02 L453.02,124.02 L453.31,124.02 L453.59,124.02 L453.87,124.02 L454.16,124.02 L454.44,124.02 L454.73,124.02 L455.01,124.02 L455.30,124.02 L455.58,124.02 L455.86,124.02 L456.15,124.02 L456.43,124.02 L456.72,124.02 L457.00,124.02 L457.29,124.02 L457.57,124.02 L457.86,124.02 L458.14,124.02 L458.42,124.02 L458.71,124.01 L458.99,124.01 L459.28,124.01 L459.56,124.00 L459.85,123.99 L460.13,123.99 L460.41,123.98 L460.70,123.97 L460.98,123.96 L461.27,123.95 L461.55,123.94 L461.84,123.93 L462.12,123.92 L462.40,123.90 L462.69,123.89 L462.97,123.88 L463.26,123.86 L463.54,123.85 L463.83,123.83 L464.11,123.81 L464.39,123.80 L464.68,123.78 L464.96,123.76 L465.25,123.74 L465.53,123.72 L465.82,123.70 L466.10,123.68 L466.38,123.66 L466.67,123.64 L466.95,123.62 L467.24,123.60 L467.52,123.58 L467.81,123.56 L468.09,123.53 L468.37,123.51 L468.66,123.49 L468.94,123.47 L469.23,123.44 L469.51,123.42 L469.80,123.39 L470.08,123.37 L470.37,123.35 L470.65,123.32 L470.93,123.30 L471.22,123.27 L471.50,123.25 L471.79,123.23 L472.07,123.20 L472.36,123.18 L472.64,123.15 L472.92,123.13 L473.21,123.10 L473.49,123.08 L473.78,123.06 L474.06,123.03 L474.35,123.01 L474.63,122.98 L474.91,122.96 L475.20,122.94 L475.48,122.91 L475.77,122.89 L476.05,122.87 L476.34,122.85 L476.62,122.82 L476.90,122.80 L477.19,122.78 L477.47,122.76 L477.76,122.74 L478.04,122.72 L478.33,122.70 L478.61,122.68 L478.89,122.66 L479.18,122.64 L479.46,122.62 L479.75,122.60 L480.03,122.59 L480.32,122.57 L480.60,122.55 L480.88,122.54 L481.17,122.52 L481.45,122.51 L481.74,122.50 L482.02,122.48 L482.31,122.47 L482.59,122.46 L482.87,122.45 L483.16,122.44 L483.44,122.43 L483.73,122.42 L484.01,122.41 L484.30,122.40 L484.58,122.40 L484.87,122.39 L485.15,122.39 L485.43,122.38 L485.72,122.38 L486.00,122.38 L486.29,122.38 L486.57,122.38 L486.86,122.38 L487.14,122.38 L487.42,122.39 L487.71,122.40 L487.99,122.41 L488.28,122.42 L488.56,122.44 L488.85,122.46 L489.13,122.48 L489.41,122.50 L489.70,122.52 L489.98,122.55 L490.27,122.58 L490.55,122.61 L490.84,122.64 L491.12,122.67 L491.40,122.71 L491.69,122.74 L491.97,122.78 L492.26,122.82 L492.54,122.86 L492.83,122.90 L493.11,122.95 L493.39,122.99 L493.68,123.04 L493.96,123.08 L494.25,123.13 L494.53,123.18 L494.82,123.23 L495.10,123.28 L495.38,123.33 L495.67,123.38 L495.95,123.44 L496.24,123.49 L496.52,123.54 L496.81,123.60 L497.09,123.65 L497.38,123.71 L497.66,123.76 L497.94,123.82 L498.23,123.87 L498.51,123.93 L498.80,123.98 L499.08,124.04 L499.37,124.10 L499.65,124.15 L499.93,124.21 L500.22,124.26 L500.50,124.32 L500.79,124.37 L501.07,124.43 L501.36,124.49 L501.64,124.55 L501.92,124.62 L502.21,124.68 L502.49,124.75 L502.78,124.82 L503.06,124.89 L503.35,124.97 L503.63,125.04 L503.91,125.12 L504.20,125.20 L504.48,125.28 L504.77,125.36 L505.05,125.44 L505.34,125.53 L505.62,125.61 L505.90,125.70 L506.19,125.79 L506.47,125.88 L506.76,125.97 L507.04,126.07 L507.33,126.16 L507.61,126.25 L507.89,126.35 L508.18,126.44 L508.46,126.54 L508.75,126.64 L509.03,126.74 L509.32,126.84 L509.60,126.94 L509.88,127.04 L510.17,127.15 L510.45,127.27 L510.74,127.41 L511.02,127.55 L511.31,127.70 L511.59,127.86 L511.88,128.02 L512.16,128.19 L512.44,128.36 L512.73,128.52 L513.01,128.69 L513.30,128.85 L513.58,129.00 L513.87,129.15 L514.15,129.29 L514.43,129.42 L514.72,129.54 L515.00,129.64 L515.29,129.73 L515.57,129.80 L515.86,129.85 L516.14,129.88 L516.42,129.89 L516.71,129.88 L516.99,129.84 L517.28,129.79 L517.56,129.71 L517.85,129.62 L518.13,129.50 L518.41,129.37 L518.70,129.22 L518.98,129.06 L519.27,128.87 L519.55,128.67 L519.84,128.46 L520.12,128.23 L520.40,127.98 L520.69,127.73 L520.97,127.46 L521.26,127.17 L521.54,126.88 L521.83,126.57 L522.11,126.25 L522.39,125.93 L522.68,125.59 L522.96,125.25 L523.25,124.89 L523.53,124.53 L523.82,124.16 L524.10,123.79 L524.39,123.41 L524.67,122.99 L524.95,122.47 L525.24,121.85 L525.52,121.14 L525.81,120.36 L526.09,119.51 L526.38,118.61 L526.66,117.67 L526.94,116.69 L527.23,115.70 L527.51,114.70 L527.80,113.71 L528.08,112.72 L528.37,111.77 L528.65,110.85 L528.93,109.98 L529.22,109.13 L529.50,108.26 L529.79,107.38 L530.07,106.50 L530.36,105.60 L530.64,104.71 L530.92,103.82 L531.21,102.93 L531.49,102.06 L531.78,101.20 L532.06,100.36 L532.35,99.54 L532.63,98.74 L532.91,97.97 L533.20,97.23 L533.48,96.53 L533.77,95.86 L534.05,95.17 L534.34,94.45 L534.62,93.73 L534.90,92.99 L535.19,92.26 L535.47,91.52 L535.76,90.79 L536.04,90.08 L536.33,89.38 L536.61,88.70 L536.89,88.05 L537.18,87.44 L537.46,86.86 L537.75,86.32 L538.03,85.83 L538.32,85.40 L538.60,85.02 L538.89,84.71 L539.17,84.46 L539.45,84.29 L539.74,84.20 L540.02,84.19 L540.31,84.26 L540.59,84.41 L540.88,84.64 L541.16,84.93 L541.44,85.29 L541.73,85.72 L542.01,86.20 L542.30,86.74 L542.58,87.33 L542.87,87.96 L543.15,88.64 L543.43,89.36 L543.72,90.11 L544.00,90.89 L544.29,91.69 L544.57,92.52 L544.86,93.37 L545.14,94.23 L545.42,95.10 L545.71,95.98 L545.99,96.90 L546.28,98.00 L546.56,99.26 L546.85,100.66 L547.13,102.17 L547.41,103.75 L547.70,105.39 L547.98,107.04 L548.27,108.69 L548.55,110.31 L548.84,111.92 L549.12,113.56 L549.40,115.24 L549.69,116.97 L549.97,118.77 L550.26,120.63 L550.54,122.59 L550.83,124.66 L551.11,126.95 L551.40,129.39 L551.68,131.93 L551.96,134.50 L552.25,137.04 L552.53,139.49 L552.82,141.79 L553.10,143.94 L553.39,146.13 L553.67,148.33 L553.95,150.52 L554.24,152.66 L554.52,154.73 L554.81,156.70 L555.09,158.54 L555.38,160.21 L555.66,161.70 L555.94,162.96 L556.23,164.02 L556.51,165.07 L556.80,166.08 L557.08,167.00 L557.37,167.80 L557.65,168.42 L557.93,168.81 L558.22,168.92 L558.50,168.82 L558.79,168.57 L559.07,168.17 L559.36,167.65 L559.64,167.00 L559.92,166.24 L560.21,165.38 L560.49,164.44 L560.78,163.42 L561.06,162.33 L561.35,161.19 L561.63,160.00 L561.91,158.78 L562.20,157.53 L562.48,156.28 L562.77,155.02 L563.05,153.77 L563.34,152.54 L563.62,151.35 L563.91,150.19 L564.19,149.09 L564.47,148.02 L564.76,146.89 L565.04,145.72 L565.33,144.52 L565.61,143.29 L565.90,142.03 L566.18,140.77 L566.46,139.50 L566.75,138.23 L567.03,136.97 L567.32,135.73 L567.60,134.52 L567.89,133.35 L568.17,132.21 L568.45,131.13 L568.74,130.10 L569.02,129.07 L569.31,127.98 L569.59,126.85 L569.88,125.70 L570.16,124.55 L570.44,123.41 L570.73,122.31 L571.01,121.26 L571.30,120.27 L571.58,119.38 L571.87,118.59 L572.15,117.92 L572.43,117.39 L572.72,117.02 L573.00,116.82 L573.29,116.80 L573.57,116.82 L573.86,116.87 L574.14,116.94 L574.42,117.04 L574.71,117.15 L574.99,117.29 L575.28,117.44 L575.56,117.62 L575.85,117.81 L576.13,118.01 L576.41,118.23 L576.70,118.46 L576.98,118.71 L577.27,118.97 L577.55,119.24 L577.84,119.51 L578.12,119.80 L578.41,120.09 L578.69,120.39 L578.97,120.70 L579.26,121.01 L579.54,121.32 L579.83,121.64 L580.11,121.95 L580.40,122.27 L580.68,122.58 L580.96,122.90 L581.25,123.21 L581.53,123.51 L581.82,123.81 L582.10,124.11 L582.39,124.40 L582.67,124.68 L582.95,124.94 L583.24,125.20 L583.52,125.45 L583.81,125.69 L584.09,125.91 L584.38,126.12 L584.66,126.31 L584.94,126.48 L585.23,126.64 L585.51,126.78 L585.80,126.89 L586.08,126.99 L586.37,127.07 L586.65,127.12 L586.93,127.15 L587.22,127.15 L587.50,127.13 L587.79,127.08 L588.07,127.00 L588.36,126.91 L588.64,126.79 L588.92,126.65 L589.21,126.49 L589.49,126.32 L589.78,126.13 L590.06,125.92 L590.35,125.70 L590.63,125.46 L590.92,125.22 L591.20,124.96 L591.48,124.70 L591.77,124.42 L592.05,124.14 L592.34,123.86 L592.62,123.57 L592.91,123.28 L593.19,122.99 L593.47,122.70 L593.76,122.41 L594.04,122.12 L594.33,121.84 L594.61,121.56 L594.90,121.29 L595.18,121.02 L595.46,120.77 L595.75,120.52 L596.03,120.29 L596.32,120.07 L596.60,119.86 L596.89,119.67 L597.17,119.50 L597.45,119.34 L597.74,119.20 L598.02,119.09 L598.31,118.99 L598.59,118.92 L598.88,118.87 L599.16,118.85 L599.44,118.86 L599.73,118.90 L600.01,118.97 L600.30,119.07 L600.58,119.20 L600.87,119.35 L601.15,119.52 L601.43,119.72 L601.72,119.93 L602.00,120.16 L602.29,120.40 L602.57,120.65 L602.86,120.91 L603.14,121.17 L603.42,121.44 L603.71,121.71 L603.99,121.98 L604.28,122.24 L604.56,122.50 L604.85,122.76 L605.13,123.00 L605.42,123.22 L605.70,123.44 L605.98,123.63 L606.27,123.81 L606.55,123.97 L606.84,124.10 L607.12,124.20 L607.41,124.27 L607.69,124.32 L607.97,124.33 L608.26,124.32 L608.54,124.31 L608.83,124.30 L609.11,124.27 L609.40,124.25 L609.68,124.22 L609.96,124.18 L610.25,124.14 L610.53,124.09 L610.82,124.04 L611.10,123.99 L611.39,123.94 L611.67,123.88 L611.95,123.81 L612.24,123.75 L612.52,123.68 L612.81,123.62 L613.09,123.55 L613.38,123.47 L613.66,123.40 L613.94,123.33 L614.23,123.25 L614.51,123.18 L614.80,123.10 L615.08,123.03 L615.37,122.95 L615.65,122.88 L615.93,122.81 L616.22,122.74 L616.50,122.67 L616.79,122.60 L617.07,122.53 L617.36,122.47 L617.64,122.41 L617.93,122.35 L618.21,122.30 L618.49,122.24 L618.78,122.20 L619.06,122.15 L619.35,122.11 L619.63,122.08 L619.92,122.05 L620.20,122.02 L620.48,122.00 L620.77,121.99 L621.05,121.98 L621.34,121.97 L621.62,121.97 L621.91,121.98 L622.19,121.98 L622.47,121.99 L622.76,121.99 L623.04,122.00 L623.33,122.01 L623.61,122.02 L623.90,122.03 L624.18,122.05 L624.46,122.06 L624.75,122.08 L625.03,122.09 L625.32,122.11 L625.60,122.13 L625.89,122.15 L626.17,122.17 L626.45,122.19 L626.74,122.21 L627.02,122.24 L627.31,122.26 L627.59,122.28 L627.88,122.31 L628.16,122.33 L628.44,122.36 L628.73,122.39 L629.01,122.41 L629.30,122.44 L629.58,122.47 L629.87,122.50 L630.15,122.53 L630.43,122.55 L630.72,122.58 L631.00,122.61 L631.29,122.64 L631.57,122.67 L631.86,122.70 L632.14,122.73 L632.43,122.76 L632.71,122.79 L632.99,122.82 L633.28,122.85 L633.56,122.88 L633.85,122.90 L634.13,122.93 L634.42,122.96 L634.70,122.99 L634.98,123.02 L635.27,123.04 L635.55,123.07 L635.84,123.09 L636.12,123.12 L636.41,123.14 L636.69,123.17 L636.97,123.19 L637.26,123.21 L637.54,123.23 L637.83,123.25 L638.11,123.27 L638.40,123.29 L638.68,123.31 L638.96,123.32 L639.25,123.34 L639.53,123.36 L639.82,123.38 L640.10,123.39 L640.39,123.41 L640.67,123.43 L640.95,123.45 L641.24,123.47 L641.52,123.49 L641.81,123.51 L642.09,123.53 L642.38,123.55 L642.66,123.56 L642.94,123.58 L643.23,123.60 L643.51,123.62 L643.80,123.64 L644.08,123.66 L644.37,123.68 L644.65,123.70 L644.94,123.72 L645.22,123.73 L645.50,123.75 L645.79,123.77 L646.07,123.79 L646.36,123.81 L646.64,123.82 L646.93,123.84 L647.21,123.86 L647.49,123.87 L647.78,123.89 L648.06,123.91 L648.35,123.92 L648.63,123.94 L648.92,123.95 L649.20,123.97 L649.48,123.98 L649.77,124.00 L650.05,124.01 L650.34,124.02 L650.62,124.04 L650.91,124.05 L651.19,124.06 L651.47,124.07 L651.76,124.08 L652.04,124.09 L652.33,124.10 L652.61,124.11 L652.90,124.11 L653.18,124.12 L653.46,124.13 L653.75,124.13 L654.03,124.14 L654.32,124.14 L654.60,124.15 L654.89,124.15 L655.17,124.15 L655.45,124.16 L655.74,124.16 L656.02,124.16 L656.31,124.16 L656.59,124.16 L656.88,124.15 L657.16,124.15 L657.44,124.15 L657.73,124.15 L658.01,124.15 L658.30,124.15 L658.58,124.14 L658.87,124.14 L659.15,124.14 L659.44,124.14 L659.72,124.13 L660.00,124.13 L660.29,124.13 L660.57,124.12 L660.86,124.12 L661.14,124.11 L661.43,124.11 L661.71,124.10 L661.99,124.10 L662.28,124.09 L662.56,124.09 L662.85,124.08 L663.13,124.07 L663.42,124.07 L663.70,124.06 L663.98,124.05 L664.27,124.04 L664.55,124.03 L664.84,124.03 L665.12,124.02 L665.41,124.01 L665.69,124.00 L665.97,123.99 L666.26,123.98 L666.54,123.97 L666.83,123.96 L667.11,123.95 L667.40,123.94 L667.68,123.92 L667.96,123.91 L668.25,123.90 L668.53,123.89 L668.82,123.87 L669.10,123.86 L669.39,123.85 L669.67,123.83 L669.95,123.82 L670.24,123.80 L670.52,123.79 L670.81,123.77 L671.09,123.75 L671.38,123.74 L671.66,123.72 L671.95,123.70 L672.23,123.69 L672.51,123.67 L672.80,123.65 L673.08,123.63 L673.37,123.61 L673.65,123.59 L673.94,123.57 L674.22,123.55 L674.50,123.53 L674.79,123.51 L675.07,123.49 L675.36,123.47 L675.64,123.44 L675.93,123.42 L676.21,123.40 L676.49,123.37 L676.78,123.35 L677.06,123.33 L677.35,123.30 L677.63,123.28 L677.92,123.25 L678.20,123.22" fill="none" stroke="#3c26c8" stroke-width="1.4" stroke-linejoin="round" clip-path="url(#cd)" />
<path d="M422.60,123.15 L422.88,123.18 L423.17,123.21 L423.45,123.24 L423.74,123.27 L424.02,123.29 L424.31,123.32 L424.59,123.35 L424.87,123.37 L425.16,123.40 L425.44,123.43 L425.73,123.45 L426.01,123.48 L426.30,123.50 L426.58,123.52 L426.86,123.55 L427.15,123.57 L427.43,123.59 L427.72,123.62 L428.00,123.64 L428.29,123.66 L428.57,123.68 L428.85,123.70 L429.14,123.72 L429.42,123.74 L429.71,123.76 L429.99,123.78 L430.28,123.80 L430.56,123.82 L430.85,123.84 L431.13,123.85 L431.41,123.87 L431.70,123.89 L431.98,123.91 L432.27,123.92 L432.55,123.94 L432.84,123.95 L433.12,123.97 L433.40,123.98 L433.69,124.00 L433.97,124.01 L434.26,124.03 L434.54,124.04 L434.83,124.06 L435.11,124.07 L435.39,124.08 L435.68,124.09 L435.96,124.11 L436.25,124.12 L436.53,124.13 L436.82,124.14 L437.10,124.15 L437.38,124.17 L437.67,124.18 L437.95,124.19 L438.24,124.20 L438.52,124.21 L438.81,124.22 L439.09,124.23 L439.37,124.23 L439.66,124.24 L439.94,124.25 L440.23,124.26 L440.51,124.27 L440.80,124.28 L441.08,124.28 L441.36,124.29 L441.65,124.30 L441.93,124.31 L442.22,124.31 L442.50,124.32 L442.79,124.33 L443.07,124.33 L443.36,124.34 L443.64,124.34 L443.92,124.35 L444.21,124.36 L444.49,124.36 L444.78,124.37 L445.06,124.37 L445.35,124.37 L445.63,124.38 L445.91,124.38 L446.20,124.39 L446.48,124.39 L446.77,124.40 L447.05,124.40 L447.34,124.40 L447.62,124.41 L447.90,124.41 L448.19,124.41 L448.47,124.41 L448.76,124.42 L449.04,124.42 L449.33,124.42 L449.61,124.42 L449.89,124.43 L450.18,124.43 L450.46,124.43 L450.75,124.43 L451.03,124.43 L451.32,124.44 L451.60,124.44 L451.88,124.44 L452.17,124.44 L452.45,124.44 L452.74,124.44 L453.02,124.44 L453.31,124.44 L453.59,124.45 L453.87,124.45 L454.16,124.45 L454.44,124.45 L454.73,124.45 L455.01,124.45 L455.30,124.45 L455.58,124.45 L455.86,124.45 L456.15,124.45 L456.43,124.45 L456.72,124.45 L457.00,124.45 L457.29,124.45 L457.57,124.45 L457.86,124.45 L458.14,124.45 L458.42,124.45 L458.71,124.44 L458.99,124.44 L459.28,124.43 L459.56,124.42 L459.85,124.41 L460.13,124.40 L460.41,124.39 L460.70,124.38 L460.98,124.36 L461.27,124.35 L461.55,124.33 L461.84,124.32 L462.12,124.30 L462.40,124.28 L462.69,124.26 L462.97,124.24 L463.26,124.21 L463.54,124.19 L463.83,124.17 L464.11,124.14 L464.39,124.12 L464.68,124.09 L464.96,124.06 L465.25,124.04 L465.53,124.01 L465.82,123.98 L466.10,123.95 L466.38,123.92 L466.67,123.89 L466.95,123.86 L467.24,123.82 L467.52,123.79 L467.81,123.76 L468.09,123.72 L468.37,123.69 L468.66,123.66 L468.94,123.62 L469.23,123.59 L469.51,123.55 L469.80,123.52 L470.08,123.48 L470.37,123.45 L470.65,123.41 L470.93,123.37 L471.22,123.34 L471.50,123.30 L471.79,123.26 L472.07,123.23 L472.36,123.19 L472.64,123.15 L472.92,123.12 L473.21,123.08 L473.49,123.05 L473.78,123.01 L474.06,122.97 L474.35,122.94 L474.63,122.90 L474.91,122.87 L475.20,122.83 L475.48,122.80 L475.77,122.76 L476.05,122.73 L476.34,122.70 L476.62,122.66 L476.90,122.63 L477.19,122.60 L477.47,122.57 L477.76,122.54 L478.04,122.51 L478.33,122.48 L478.61,122.45 L478.89,122.42 L479.18,122.39 L479.46,122.36 L479.75,122.34 L480.03,122.31 L480.32,122.28 L480.60,122.26 L480.88,122.24 L481.17,122.21 L481.45,122.19 L481.74,122.17 L482.02,122.15 L482.31,122.13 L482.59,122.12 L482.87,122.10 L483.16,122.08 L483.44,122.07 L483.73,122.06 L484.01,122.04 L484.30,122.03 L484.58,122.02 L484.87,122.01 L485.15,122.01 L485.43,122.00 L485.72,122.00 L486.00,121.99 L486.29,121.99 L486.57,121.99 L486.86,121.99 L487.14,122.00 L487.42,122.01 L487.71,122.03 L487.99,122.04 L488.28,122.06 L488.56,122.09 L488.85,122.11 L489.13,122.14 L489.41,122.17 L489.70,122.21 L489.98,122.25 L490.27,122.29 L490.55,122.33 L490.84,122.38 L491.12,122.43 L491.40,122.48 L491.69,122.53 L491.97,122.59 L492.26,122.64 L492.54,122.70 L492.83,122.76 L493.11,122.83 L493.39,122.89 L493.68,122.96 L493.96,123.02 L494.25,123.09 L494.53,123.16 L494.82,123.23 L495.10,123.31 L495.38,123.38 L495.67,123.46 L495.95,123.53 L496.24,123.61 L496.52,123.69 L496.81,123.76 L497.09,123.84 L497.38,123.92 L497.66,124.00 L497.94,124.08 L498.23,124.16 L498.51,124.24 L498.80,124.32 L499.08,124.40 L499.37,124.48 L499.65,124.56 L499.93,124.64 L500.22,124.71 L500.50,124.79 L500.79,124.87 L501.07,124.95 L501.36,125.03 L501.64,125.12 L501.92,125.20 L502.21,125.29 L502.49,125.38 L502.78,125.48 L503.06,125.57 L503.35,125.67 L503.63,125.77 L503.91,125.87 L504.20,125.98 L504.48,126.08 L504.77,126.19 L505.05,126.30 L505.34,126.41 L505.62,126.52 L505.90,126.64 L506.19,126.76 L506.47,126.88 L506.76,127.00 L507.04,127.12 L507.33,127.25 L507.61,127.38 L507.89,127.50 L508.18,127.64 L508.46,127.77 L508.75,127.90 L509.03,128.04 L509.32,128.18 L509.60,128.32 L509.88,128.46 L510.17,128.60 L510.45,128.75 L510.74,128.89 L511.02,129.06 L511.31,129.24 L511.59,129.45 L511.88,129.67 L512.16,129.91 L512.44,130.15 L512.73,130.41 L513.01,130.67 L513.30,130.94 L513.58,131.21 L513.87,131.47 L514.15,131.73 L514.43,131.98 L514.72,132.22 L515.00,132.44 L515.29,132.65 L515.57,132.84 L515.86,133.01 L516.14,133.15 L516.42,133.26 L516.71,133.34 L516.99,133.39 L517.28,133.40 L517.56,133.38 L517.85,133.33 L518.13,133.26 L518.41,133.15 L518.70,133.02 L518.98,132.87 L519.27,132.69 L519.55,132.49 L519.84,132.26 L520.12,132.01 L520.40,131.74 L520.69,131.45 L520.97,131.14 L521.26,130.81 L521.54,130.46 L521.83,130.09 L522.11,129.70 L522.39,129.30 L522.68,128.88 L522.96,128.44 L523.25,127.99 L523.53,127.52 L523.82,127.05 L524.10,126.55 L524.39,126.05 L524.67,125.53 L524.95,125.01 L525.24,124.47 L525.52,123.92 L525.81,123.37 L526.09,122.74 L526.38,121.95 L526.66,121.02 L526.94,119.95 L527.23,118.78 L527.51,117.51 L527.80,116.17 L528.08,114.76 L528.37,113.32 L528.65,111.85 L528.93,110.37 L529.22,108.89 L529.50,107.45 L529.79,106.04 L530.07,104.70 L530.36,103.43 L530.64,102.17 L530.92,100.88 L531.21,99.58 L531.49,98.27 L531.78,96.95 L532.06,95.63 L532.35,94.31 L532.63,93.01 L532.91,91.72 L533.20,90.46 L533.48,89.22 L533.77,88.02 L534.05,86.85 L534.34,85.73 L534.62,84.66 L534.90,83.64 L535.19,82.64 L535.47,81.61 L535.76,80.55 L536.04,79.47 L536.33,78.38 L536.61,77.29 L536.89,76.21 L537.18,75.14 L537.46,74.09 L537.75,73.07 L538.03,72.08 L538.32,71.14 L538.60,70.25 L538.89,69.41 L539.17,68.65 L539.45,67.96 L539.74,67.35 L540.02,66.82 L540.31,66.40 L540.59,66.08 L540.88,65.87 L541.16,65.78 L541.44,65.82 L541.73,65.99 L542.01,66.28 L542.30,66.69 L542.58,67.21 L542.87,67.83 L543.15,68.55 L543.43,69.36 L543.72,70.25 L544.00,71.21 L544.29,72.25 L544.57,73.35 L544.86,74.50 L545.14,75.70 L545.42,76.95 L545.71,78.23 L545.99,79.54 L546.28,80.87 L546.56,82.21 L546.85,83.57 L547.13,85.07 L547.41,86.87 L547.70,88.92 L547.98,91.16 L548.27,93.55 L548.55,96.05 L548.84,98.59 L549.12,101.14 L549.40,103.64 L549.69,106.14 L549.97,108.71 L550.26,111.36 L550.54,114.08 L550.83,116.85 L551.11,119.69 L551.40,122.57 L551.68,125.55 L551.96,128.69 L552.25,131.95 L552.53,135.28 L552.82,138.61 L553.10,141.90 L553.39,145.09 L553.67,148.12 L553.95,150.98 L554.24,153.85 L554.52,156.75 L554.81,159.65 L555.09,162.51 L555.38,165.29 L555.66,167.97 L555.94,170.50 L556.23,172.85 L556.51,174.99 L556.80,176.87 L557.08,178.47 L557.37,179.85 L557.65,181.22 L557.93,182.55 L558.22,183.77 L558.50,184.82 L558.79,185.64 L559.07,186.19 L559.36,186.39 L559.64,186.28 L559.92,185.96 L560.21,185.44 L560.49,184.74 L560.78,183.87 L561.06,182.84 L561.35,181.68 L561.63,180.39 L561.91,178.99 L562.20,177.50 L562.48,175.93 L562.77,174.30 L563.05,172.62 L563.34,170.90 L563.62,169.16 L563.91,167.42 L564.19,165.69 L564.47,163.99 L564.76,162.33 L565.04,160.72 L565.33,159.19 L565.61,157.70 L565.90,156.12 L566.18,154.46 L566.46,152.72 L566.75,150.93 L567.03,149.11 L567.32,147.28 L567.60,145.44 L567.89,143.62 L568.17,141.84 L568.45,140.11 L568.74,138.45 L569.02,136.88 L569.31,135.42 L569.59,134.08 L569.88,132.89 L570.16,131.78 L570.44,130.65 L570.73,129.51 L571.01,128.37 L571.30,127.24 L571.58,126.13 L571.87,125.05 L572.15,124.00 L572.43,122.99 L572.72,122.04 L573.00,121.15 L573.29,120.33 L573.57,119.59 L573.86,118.94 L574.14,118.38 L574.42,117.93 L574.71,117.60 L574.99,117.39 L575.28,117.31 L575.56,117.32 L575.85,117.37 L576.13,117.45 L576.41,117.55 L576.70,117.68 L576.98,117.84 L577.27,118.03 L577.55,118.23 L577.84,118.46 L578.12,118.71 L578.41,118.98 L578.69,119.27 L578.97,119.57 L579.26,119.88 L579.54,120.21 L579.83,120.55 L580.11,120.90 L580.40,121.26 L580.68,121.62 L580.96,122.00 L581.25,122.37 L581.53,122.75 L581.82,123.13 L582.10,123.51 L582.39,123.89 L582.67,124.26 L582.95,124.63 L583.24,125.00 L583.52,125.35 L583.81,125.70 L584.09,126.04 L584.38,126.36 L584.66,126.68 L584.94,126.97 L585.23,127.25 L585.51,127.52 L585.80,127.76 L586.08,127.99 L586.37,128.19 L586.65,128.37 L586.93,128.52 L587.22,128.65 L587.50,128.75 L587.79,128.82 L588.07,128.86 L588.36,128.86 L588.64,128.83 L588.92,128.76 L589.21,128.66 L589.49,128.52 L589.78,128.35 L590.06,128.16 L590.35,127.93 L590.63,127.68 L590.92,127.41 L591.20,127.11 L591.48,126.80 L591.77,126.47 L592.05,126.12 L592.34,125.76 L592.62,125.39 L592.91,125.01 L593.19,124.62 L593.47,124.23 L593.76,123.84 L594.04,123.44 L594.33,123.04 L594.61,122.65 L594.90,122.27 L595.18,121.89 L595.46,121.52 L595.75,121.16 L596.03,120.81 L596.32,120.48 L596.60,120.17 L596.89,119.87 L597.17,119.60 L597.45,119.35 L597.74,119.12 L598.02,118.93 L598.31,118.76 L598.59,118.62 L598.88,118.52 L599.16,118.45 L599.44,118.42 L599.73,118.43 L600.01,118.48 L600.30,118.56 L600.58,118.68 L600.87,118.83 L601.15,119.00 L601.43,119.20 L601.72,119.43 L602.00,119.67 L602.29,119.92 L602.57,120.20 L602.86,120.48 L603.14,120.77 L603.42,121.07 L603.71,121.37 L603.99,121.67 L604.28,121.96 L604.56,122.26 L604.85,122.54 L605.13,122.81 L605.42,123.07 L605.70,123.31 L605.98,123.54 L606.27,123.74 L606.55,123.91 L606.84,124.06 L607.12,124.18 L607.41,124.27 L607.69,124.32 L607.97,124.33 L608.26,124.32 L608.54,124.31 L608.83,124.29 L609.11,124.26 L609.40,124.23 L609.68,124.19 L609.96,124.14 L610.25,124.09 L610.53,124.03 L610.82,123.97 L611.10,123.91 L611.39,123.84 L611.67,123.76 L611.95,123.68 L612.24,123.60 L612.52,123.52 L612.81,123.43 L613.09,123.35 L613.38,123.26 L613.66,123.17 L613.94,123.07 L614.23,122.98 L614.51,122.89 L614.80,122.79 L615.08,122.70 L615.37,122.61 L615.65,122.51 L615.93,122.42 L616.22,122.33 L616.50,122.25 L616.79,122.16 L617.07,122.08 L617.36,122.00 L617.64,121.92 L617.93,121.85 L618.21,121.78 L618.49,121.71 L618.78,121.65 L619.06,121.60 L619.35,121.55 L619.63,121.50 L619.92,121.47 L620.20,121.43 L620.48,121.41 L620.77,121.39 L621.05,121.38 L621.34,121.37 L621.62,121.38 L621.91,121.38 L622.19,121.38 L622.47,121.39 L622.76,121.40 L623.04,121.41 L623.33,121.43 L623.61,121.44 L623.90,121.46 L624.18,121.48 L624.46,121.50 L624.75,121.52 L625.03,121.55 L625.32,121.57 L625.60,121.60 L625.89,121.63 L626.17,121.65 L626.45,121.69 L626.74,121.72 L627.02,121.75 L627.31,121.78 L627.59,121.82 L627.88,121.85 L628.16,121.89 L628.44,121.93 L628.73,121.97 L629.01,122.01 L629.30,122.05 L629.58,122.09 L629.87,122.13 L630.15,122.17 L630.43,122.21 L630.72,122.25 L631.00,122.29 L631.29,122.34 L631.57,122.38 L631.86,122.42 L632.14,122.46 L632.43,122.51 L632.71,122.55 L632.99,122.59 L633.28,122.63 L633.56,122.68 L633.85,122.72 L634.13,122.76 L634.42,122.80 L634.70,122.84 L634.98,122.88 L635.27,122.92 L635.55,122.95 L635.84,122.99 L636.12,123.03 L636.41,123.06 L636.69,123.10 L636.97,123.13 L637.26,123.16 L637.54,123.20 L637.83,123.23 L638.11,123.26 L638.40,123.28 L638.68,123.31 L638.96,123.34 L639.25,123.36 L639.53,123.39 L639.82,123.42 L640.10,123.44 L640.39,123.47 L640.67,123.50 L640.95,123.53 L641.24,123.56 L641.52,123.59 L641.81,123.62 L642.09,123.65 L642.38,123.68 L642.66,123.71 L642.94,123.74 L643.23,123.77 L643.51,123.79 L643.80,123.82 L644.08,123.85 L644.37,123.88 L644.65,123.91 L644.94,123.94 L645.22,123.97 L645.50,124.00 L645.79,124.03 L646.07,124.06 L646.36,124.08 L646.64,124.11 L646.93,124.14 L647.21,124.16 L647.49,124.19 L647.78,124.22 L648.06,124.24 L648.35,124.27 L648.63,124.29 L648.92,124.32 L649.20,124.34 L649.48,124.36 L649.77,124.38 L650.05,124.40 L650.34,124.42 L650.62,124.44 L650.91,124.46 L651.19,124.48 L651.47,124.50 L651.76,124.51 L652.04,124.53 L652.33,124.54 L652.61,124.56 L652.90,124.57 L653.18,124.58 L653.46,124.59 L653.75,124.60 L654.03,124.61 L654.32,124.62 L654.60,124.62 L654.89,124.63 L655.17,124.63 L655.45,124.63 L655.74,124.64 L656.02,124.64 L656.31,124.63 L656.59,124.63 L656.88,124.63 L657.16,124.63 L657.44,124.63 L657.73,124.63 L658.01,124.62 L658.30,124.62 L658.58,124.62 L658.87,124.61 L659.15,124.61 L659.44,124.60 L659.72,124.60 L660.00,124.59 L660.29,124.59 L660.57,124.58 L660.86,124.57 L661.14,124.57 L661.43,124.56 L661.71,124.55 L661.99,124.54 L662.28,124.53 L662.56,124.52 L662.85,124.51 L663.13,124.50 L663.42,124.49 L663.70,124.48 L663.98,124.47 L664.27,124.45 L664.55,124.44 L664.84,124.43 L665.12,124.41 L665.41,124.40 L665.69,124.38 L665.97,124.37 L666.26,124.35 L666.54,124.33 L666.83,124.32 L667.11,124.30 L667.40,124.28 L667.68,124.26 L667.96,124.24 L668.25,124.22 L668.53,124.20 L668.82,124.18 L669.10,124.16 L669.39,124.14 L669.67,124.12 L669.95,124.09 L670.24,124.07 L670.52,124.04 L670.81,124.02 L671.09,123.99 L671.38,123.97 L671.66,123.94 L671.95,123.91 L672.23,123.89 L672.51,123.86 L672.80,123.83 L673.08,123.80 L673.37,123.77 L673.65,123.74 L673.94,123.70 L674.22,123.67 L674.50,123.64 L674.79,123.61 L675.07,123.57 L675.36,123.54 L675.64,123.50 L675.93,123.46 L676.21,123.43 L676.49,123.39 L676.78,123.35 L677.06,123.31 L677.35,123.27 L677.63,123.23 L677.92,123.19 L678.20,123.15" fill="none" stroke="#7a1e86" stroke-width="1.4" stroke-linejoin="round" clip-path="url(#cd)" />
<path d="M422.60,123.09 L422.88,123.13 L423.17,123.17 L423.45,123.20 L423.74,123.24 L424.02,123.28 L424.31,123.31 L424.59,123.35 L424.87,123.38 L425.16,123.42 L425.44,123.45 L425.73,123.48 L426.01,123.51 L426.30,123.55 L426.58,123.58 L426.86,123.61 L427.15,123.64 L427.43,123.67 L427.72,123.70 L428.00,123.72 L428.29,123.75 L428.57,123.78 L428.85,123.81 L429.14,123.83 L429.42,123.86 L429.71,123.89 L429.99,123.91 L430.28,123.94 L430.56,123.96 L430.85,123.98 L431.13,124.01 L431.41,124.03 L431.70,124.05 L431.98,124.08 L432.27,124.10 L432.55,124.12 L432.84,124.14 L433.12,124.16 L433.40,124.18 L433.69,124.20 L433.97,124.22 L434.26,124.24 L434.54,124.26 L434.83,124.27 L435.11,124.29 L435.39,124.31 L435.68,124.32 L435.96,124.34 L436.25,124.36 L436.53,124.37 L436.82,124.39 L437.10,124.40 L437.38,124.42 L437.67,124.43 L437.95,124.45 L438.24,124.46 L438.52,124.47 L438.81,124.49 L439.09,124.50 L439.37,124.51 L439.66,124.52 L439.94,124.53 L440.23,124.55 L440.51,124.56 L440.80,124.57 L441.08,124.58 L441.36,124.59 L441.65,124.60 L441.93,124.61 L442.22,124.62 L442.50,124.62 L442.79,124.63 L443.07,124.64 L443.36,124.65 L443.64,124.66 L443.92,124.66 L444.21,124.67 L444.49,124.68 L444.78,124.69 L445.06,124.69 L445.35,124.70 L445.63,124.71 L445.91,124.71 L446.20,124.72 L446.48,124.72 L446.77,124.73 L447.05,124.73 L447.34,124.74 L447.62,124.74 L447.90,124.75 L448.19,124.75 L448.47,124.75 L448.76,124.76 L449.04,124.76 L449.33,124.76 L449.61,124.77 L449.89,124.77 L450.18,124.77 L450.46,124.78 L450.75,124.78 L451.03,124.78 L451.32,124.78 L451.60,124.79 L451.88,124.79 L452.17,124.79 L452.45,124.79 L452.74,124.79 L453.02,124.79 L453.31,124.80 L453.59,124.80 L453.87,124.80 L454.16,124.80 L454.44,124.80 L454.73,124.80 L455.01,124.80 L455.30,124.80 L455.58,124.80 L455.86,124.80 L456.15,124.80 L456.43,124.80 L456.72,124.80 L457.00,124.80 L457.29,124.80 L457.57,124.80 L457.86,124.80 L458.14,124.80 L458.42,124.80 L458.71,124.79 L458.99,124.79 L459.28,124.78 L459.56,124.77 L459.85,124.76 L460.13,124.74 L460.41,124.73 L460.70,124.71 L460.98,124.69 L461.27,124.68 L461.55,124.65 L461.84,124.63 L462.12,124.61 L462.40,124.59 L462.69,124.56 L462.97,124.53 L463.26,124.50 L463.54,124.47 L463.83,124.44 L464.11,124.41 L464.39,124.38 L464.68,124.35 L464.96,124.31 L465.25,124.28 L465.53,124.24 L465.82,124.20 L466.10,124.17 L466.38,124.13 L466.67,124.09 L466.95,124.05 L467.24,124.01 L467.52,123.97 L467.81,123.92 L468.09,123.88 L468.37,123.84 L468.66,123.80 L468.94,123.75 L469.23,123.71 L469.51,123.66 L469.80,123.62 L470.08,123.57 L470.37,123.53 L470.65,123.48 L470.93,123.43 L471.22,123.39 L471.50,123.34 L471.79,123.30 L472.07,123.25 L472.36,123.20 L472.64,123.16 L472.92,123.11 L473.21,123.06 L473.49,123.02 L473.78,122.97 L474.06,122.93 L474.35,122.88 L474.63,122.84 L474.91,122.79 L475.20,122.75 L475.48,122.70 L475.77,122.66 L476.05,122.62 L476.34,122.57 L476.62,122.53 L476.90,122.49 L477.19,122.45 L477.47,122.41 L477.76,122.37 L478.04,122.33 L478.33,122.29 L478.61,122.25 L478.89,122.22 L479.18,122.18 L479.46,122.15 L479.75,122.11 L480.03,122.08 L480.32,122.05 L480.60,122.02 L480.88,121.99 L481.17,121.96 L481.45,121.93 L481.74,121.91 L482.02,121.88 L482.31,121.86 L482.59,121.83 L482.87,121.81 L483.16,121.79 L483.44,121.78 L483.73,121.76 L484.01,121.74 L484.30,121.73 L484.58,121.72 L484.87,121.71 L485.15,121.70 L485.43,121.69 L485.72,121.68 L486.00,121.68 L486.29,121.68 L486.57,121.68 L486.86,121.68 L487.14,121.69 L487.42,121.70 L487.71,121.72 L487.99,121.74 L488.28,121.77 L488.56,121.80 L488.85,121.83 L489.13,121.87 L489.41,121.91 L489.70,121.95 L489.98,122.00 L490.27,122.05 L490.55,122.11 L490.84,122.17 L491.12,122.23 L491.40,122.29 L491.69,122.36 L491.97,122.43 L492.26,122.50 L492.54,122.58 L492.83,122.65 L493.11,122.73 L493.39,122.81 L493.68,122.90 L493.96,122.98 L494.25,123.07 L494.53,123.16 L494.82,123.25 L495.10,123.34 L495.38,123.43 L495.67,123.52 L495.95,123.62 L496.24,123.72 L496.52,123.81 L496.81,123.91 L497.09,124.01 L497.38,124.11 L497.66,124.20 L497.94,124.30 L498.23,124.40 L498.51,124.50 L498.80,124.60 L499.08,124.70 L499.37,124.80 L499.65,124.89 L499.93,124.99 L500.22,125.09 L500.50,125.18 L500.79,125.28 L501.07,125.37 L501.36,125.47 L501.64,125.57 L501.92,125.68 L502.21,125.78 L502.49,125.89 L502.78,126.00 L503.06,126.11 L503.35,126.22 L503.63,126.33 L503.91,126.45 L504.20,126.57 L504.48,126.69 L504.77,126.81 L505.05,126.94 L505.34,127.07 L505.62,127.20 L505.90,127.33 L506.19,127.46 L506.47,127.60 L506.76,127.74 L507.04,127.88 L507.33,128.02 L507.61,128.17 L507.89,128.32 L508.18,128.47 L508.46,128.63 L508.75,128.78 L509.03,128.94 L509.32,129.11 L509.60,129.27 L509.88,129.44 L510.17,129.61 L510.45,129.79 L510.74,129.96 L511.02,130.14 L511.31,130.32 L511.59,130.51 L511.88,130.74 L512.16,130.99 L512.44,131.27 L512.73,131.58 L513.01,131.90 L513.30,132.24 L513.58,132.59 L513.87,132.95 L514.15,133.31 L514.43,133.68 L514.72,134.03 L515.00,134.38 L515.29,134.72 L515.57,135.04 L515.86,135.33 L516.14,135.61 L516.42,135.85 L516.71,136.06 L516.99,136.23 L517.28,136.36 L517.56,136.45 L517.85,136.48 L518.13,136.47 L518.41,136.43 L518.70,136.35 L518.98,136.24 L519.27,136.10 L519.55,135.93 L519.84,135.73 L520.12,135.51 L520.40,135.25 L520.69,134.97 L520.97,134.66 L521.26,134.32 L521.54,133.96 L521.83,133.58 L522.11,133.17 L522.39,132.74 L522.68,132.29 L522.96,131.82 L523.25,131.32 L523.53,130.81 L523.82,130.28 L524.10,129.73 L524.39,129.16 L524.67,128.57 L524.95,127.97 L525.24,127.35 L525.52,126.72 L525.81,126.08 L526.09,125.42 L526.38,124.75 L526.66,124.06 L526.94,123.37 L527.23,122.58 L527.51,121.59 L527.80,120.42 L528.08,119.09 L528.37,117.62 L528.65,116.03 L528.93,114.35 L529.22,112.59 L529.50,110.78 L529.79,108.94 L530.07,107.10 L530.36,105.26 L530.64,103.46 L530.92,101.71 L531.21,100.04 L531.49,98.46 L531.78,96.88 L532.06,95.27 L532.35,93.64 L532.63,92.00 L532.91,90.35 L533.20,88.70 L533.48,87.06 L533.77,85.44 L534.05,83.84 L534.34,82.26 L534.62,80.72 L534.90,79.22 L535.19,77.77 L535.47,76.38 L535.76,75.05 L536.04,73.79 L536.33,72.53 L536.61,71.23 L536.89,69.91 L537.18,68.56 L537.46,67.20 L537.75,65.84 L538.03,64.49 L538.32,63.16 L538.60,61.85 L538.89,60.58 L539.17,59.36 L539.45,58.19 L539.74,57.10 L540.02,56.07 L540.31,55.13 L540.59,54.29 L540.88,53.55 L541.16,52.92 L541.44,52.42 L541.73,52.04 L542.01,51.82 L542.30,51.74 L542.58,51.83 L542.87,52.10 L543.15,52.52 L543.43,53.11 L543.72,53.83 L544.00,54.70 L544.29,55.68 L544.57,56.79 L544.86,58.00 L545.14,59.30 L545.42,60.70 L545.71,62.17 L545.99,63.71 L546.28,65.31 L546.56,66.96 L546.85,68.65 L547.13,70.36 L547.41,72.10 L547.70,73.86 L547.98,75.81 L548.27,78.16 L548.55,80.83 L548.84,83.77 L549.12,86.89 L549.40,90.13 L549.69,93.43 L549.97,96.72 L550.26,99.94 L550.54,103.25 L550.83,106.69 L551.11,110.23 L551.40,113.83 L551.68,117.45 L551.96,121.06 L552.25,124.63 L552.53,128.27 L552.82,131.97 L553.10,135.70 L553.39,139.43 L553.67,143.10 L553.95,146.70 L554.24,150.18 L554.52,153.50 L554.81,156.70 L555.09,159.96 L555.38,163.24 L555.66,166.51 L555.94,169.73 L556.23,172.87 L556.51,175.88 L556.80,178.73 L557.08,181.39 L557.37,183.81 L557.65,185.95 L557.93,187.79 L558.22,189.36 L558.50,190.92 L558.79,192.43 L559.07,193.84 L559.36,195.09 L559.64,196.11 L559.92,196.84 L560.21,197.22 L560.49,197.22 L560.78,196.94 L561.06,196.43 L561.35,195.69 L561.63,194.75 L561.91,193.62 L562.20,192.32 L562.48,190.87 L562.77,189.28 L563.05,187.58 L563.34,185.77 L563.62,183.88 L563.91,181.93 L564.19,179.93 L564.47,177.91 L564.76,175.87 L565.04,173.83 L565.33,171.82 L565.61,169.85 L565.90,167.94 L566.18,166.10 L566.46,164.36 L566.75,162.53 L567.03,160.57 L567.32,158.51 L567.60,156.36 L567.89,154.15 L568.17,151.92 L568.45,149.69 L568.74,147.48 L569.02,145.32 L569.31,143.25 L569.59,141.27 L569.88,139.43 L570.16,137.75 L570.44,136.26 L570.73,134.97 L571.01,133.90 L571.30,132.86 L571.58,131.83 L571.87,130.82 L572.15,129.82 L572.43,128.84 L572.72,127.89 L573.00,126.96 L573.29,126.07 L573.57,125.22 L573.86,124.40 L574.14,123.64 L574.42,122.92 L574.71,122.26 L574.99,121.66 L575.28,121.12 L575.56,120.65 L575.85,120.25 L576.13,119.92 L576.41,119.68 L576.70,119.52 L576.98,119.45 L577.27,119.46 L577.55,119.50 L577.84,119.58 L578.12,119.69 L578.41,119.83 L578.69,119.99 L578.97,120.19 L579.26,120.41 L579.54,120.65 L579.83,120.91 L580.11,121.20 L580.40,121.50 L580.68,121.82 L580.96,122.15 L581.25,122.50 L581.53,122.85 L581.82,123.22 L582.10,123.60 L582.39,123.98 L582.67,124.36 L582.95,124.75 L583.24,125.14 L583.52,125.53 L583.81,125.92 L584.09,126.30 L584.38,126.68 L584.66,127.05 L584.94,127.41 L585.23,127.76 L585.51,128.10 L585.80,128.42 L586.08,128.73 L586.37,129.02 L586.65,129.29 L586.93,129.54 L587.22,129.77 L587.50,129.97 L587.79,130.14 L588.07,130.29 L588.36,130.41 L588.64,130.50 L588.92,130.56 L589.21,130.58 L589.49,130.55 L589.78,130.48 L590.06,130.35 L590.35,130.18 L590.63,129.96 L590.92,129.71 L591.20,129.42 L591.48,129.09 L591.77,128.73 L592.05,128.34 L592.34,127.93 L592.62,127.49 L592.91,127.04 L593.19,126.56 L593.47,126.08 L593.76,125.58 L594.04,125.08 L594.33,124.57 L594.61,124.06 L594.90,123.55 L595.18,123.04 L595.46,122.55 L595.75,122.06 L596.03,121.58 L596.32,121.13 L596.60,120.69 L596.89,120.27 L597.17,119.88 L597.45,119.52 L597.74,119.19 L598.02,118.89 L598.31,118.63 L598.59,118.41 L598.88,118.23 L599.16,118.10 L599.44,118.02 L599.73,117.99 L600.01,118.01 L600.30,118.08 L600.58,118.18 L600.87,118.32 L601.15,118.49 L601.43,118.70 L601.72,118.93 L602.00,119.18 L602.29,119.46 L602.57,119.75 L602.86,120.05 L603.14,120.37 L603.42,120.70 L603.71,121.03 L603.99,121.36 L604.28,121.68 L604.56,122.01 L604.85,122.32 L605.13,122.63 L605.42,122.92 L605.70,123.19 L605.98,123.44 L606.27,123.66 L606.55,123.86 L606.84,124.03 L607.12,124.16 L607.41,124.26 L607.69,124.31 L607.97,124.33 L608.26,124.32 L608.54,124.30 L608.83,124.28 L609.11,124.25 L609.40,124.21 L609.68,124.16 L609.96,124.11 L610.25,124.05 L610.53,123.98 L610.82,123.91 L611.10,123.84 L611.39,123.75 L611.67,123.67 L611.95,123.58 L612.24,123.48 L612.52,123.39 L612.81,123.29 L613.09,123.18 L613.38,123.08 L613.66,122.97 L613.94,122.86 L614.23,122.75 L614.51,122.65 L614.80,122.54 L615.08,122.43 L615.37,122.32 L615.65,122.21 L615.93,122.10 L616.22,122.00 L616.50,121.90 L616.79,121.80 L617.07,121.70 L617.36,121.61 L617.64,121.52 L617.93,121.43 L618.21,121.35 L618.49,121.28 L618.78,121.21 L619.06,121.14 L619.35,121.09 L619.63,121.03 L619.92,120.99 L620.20,120.95 L620.48,120.92 L620.77,120.90 L621.05,120.89 L621.34,120.88 L621.62,120.88 L621.91,120.89 L622.19,120.89 L622.47,120.90 L622.76,120.92 L623.04,120.93 L623.33,120.95 L623.61,120.97 L623.90,120.99 L624.18,121.01 L624.46,121.04 L624.75,121.07 L625.03,121.10 L625.32,121.13 L625.60,121.16 L625.89,121.20 L626.17,121.23 L626.45,121.27 L626.74,121.31 L627.02,121.35 L627.31,121.39 L627.59,121.44 L627.88,121.48 L628.16,121.53 L628.44,121.57 L628.73,121.62 L629.01,121.67 L629.30,121.72 L629.58,121.77 L629.87,121.82 L630.15,121.87 L630.43,121.93 L630.72,121.98 L631.00,122.03 L631.29,122.08 L631.57,122.14 L631.86,122.19 L632.14,122.24 L632.43,122.30 L632.71,122.35 L632.99,122.40 L633.28,122.46 L633.56,122.51 L633.85,122.56 L634.13,122.61 L634.42,122.66 L634.70,122.72 L634.98,122.76 L635.27,122.81 L635.55,122.86 L635.84,122.91 L636.12,122.96 L636.41,123.00 L636.69,123.04 L636.97,123.09 L637.26,123.13 L637.54,123.17 L637.83,123.21 L638.11,123.24 L638.40,123.28 L638.68,123.31 L638.96,123.35 L639.25,123.38 L639.53,123.41 L639.82,123.45 L640.10,123.49 L640.39,123.52 L640.67,123.56 L640.95,123.60 L641.24,123.63 L641.52,123.67 L641.81,123.71 L642.09,123.75 L642.38,123.78 L642.66,123.82 L642.94,123.86 L643.23,123.90 L643.51,123.94 L643.80,123.98 L644.08,124.01 L644.37,124.05 L644.65,124.09 L644.94,124.13 L645.22,124.16 L645.50,124.20 L645.79,124.24 L646.07,124.28 L646.36,124.31 L646.64,124.35 L646.93,124.38 L647.21,124.42 L647.49,124.45 L647.78,124.48 L648.06,124.52 L648.35,124.55 L648.63,124.58 L648.92,124.61 L649.20,124.64 L649.48,124.67 L649.77,124.70 L650.05,124.73 L650.34,124.75 L650.62,124.78 L650.91,124.80 L651.19,124.83 L651.47,124.85 L651.76,124.87 L652.04,124.89 L652.33,124.91 L652.61,124.93 L652.90,124.94 L653.18,124.96 L653.46,124.97 L653.75,124.99 L654.03,125.00 L654.32,125.01 L654.60,125.01 L654.89,125.02 L655.17,125.02 L655.45,125.03 L655.74,125.03 L656.02,125.03 L656.31,125.03 L656.59,125.03 L656.88,125.03 L657.16,125.02 L657.44,125.02 L657.73,125.02 L658.01,125.01 L658.30,125.01 L658.58,125.01 L658.87,125.00 L659.15,124.99 L659.44,124.99 L659.72,124.98 L660.00,124.97 L660.29,124.97 L660.57,124.96 L660.86,124.95 L661.14,124.94 L661.43,124.93 L661.71,124.92 L661.99,124.91 L662.28,124.89 L662.56,124.88 L662.85,124.87 L663.13,124.85 L663.42,124.84 L663.70,124.82 L663.98,124.81 L664.27,124.79 L664.55,124.77 L664.84,124.76 L665.12,124.74 L665.41,124.72 L665.69,124.70 L665.97,124.68 L666.26,124.66 L666.54,124.64 L666.83,124.61 L667.11,124.59 L667.40,124.57 L667.68,124.54 L667.96,124.52 L668.25,124.49 L668.53,124.46 L668.82,124.44 L669.10,124.41 L669.39,124.38 L669.67,124.35 L669.95,124.32 L670.24,124.29 L670.52,124.26 L670.81,124.22 L671.09,124.19 L671.38,124.16 L671.66,124.12 L671.95,124.09 L672.23,124.05 L672.51,124.01 L672.80,123.97 L673.08,123.93 L673.37,123.89 L673.65,123.85 L673.94,123.81 L674.22,123.77 L674.50,123.73 L674.79,123.68 L675.07,123.64 L675.36,123.59 L675.64,123.55 L675.93,123.50 L676.21,123.45 L676.49,123.40 L676.78,123.35 L677.06,123.30 L677.35,123.25 L677.63,123.20 L677.92,123.15 L678.20,123.09" fill="none" stroke="#c0304c" stroke-width="1.4" stroke-linejoin="round" clip-path="url(#cd)" />
<path d="M422.60,122.79 L422.88,122.84 L423.17,122.88 L423.45,122.93 L423.74,122.98 L424.02,123.02 L424.31,123.07 L424.59,123.11 L424.87,123.16 L425.16,123.20 L425.44,123.24 L425.73,123.29 L426.01,123.33 L426.30,123.37 L426.58,123.41 L426.86,123.45 L427.15,123.49 L427.43,123.53 L427.72,123.56 L428.00,123.60 L428.29,123.64 L428.57,123.67 L428.85,123.71 L429.14,123.74 L429.42,123.78 L429.71,123.81 L429.99,123.84 L430.28,123.88 L430.56,123.91 L430.85,123.94 L431.13,123.97 L431.41,124.00 L431.70,124.03 L431.98,124.06 L432.27,124.09 L432.55,124.12 L432.84,124.15 L433.12,124.17 L433.40,124.20 L433.69,124.23 L433.97,124.25 L434.26,124.28 L434.54,124.30 L434.83,124.33 L435.11,124.35 L435.39,124.37 L435.68,124.40 L435.96,124.42 L436.25,124.44 L436.53,124.46 L436.82,124.48 L437.10,124.50 L437.38,124.52 L437.67,124.54 L437.95,124.56 L438.24,124.58 L438.52,124.60 L438.81,124.62 L439.09,124.64 L439.37,124.65 L439.66,124.67 L439.94,124.69 L440.23,124.70 L440.51,124.72 L440.80,124.73 L441.08,124.75 L441.36,124.76 L441.65,124.78 L441.93,124.79 L442.22,124.80 L442.50,124.82 L442.79,124.83 L443.07,124.84 L443.36,124.85 L443.64,124.86 L443.92,124.87 L444.21,124.89 L444.49,124.90 L444.78,124.91 L445.06,124.92 L445.35,124.93 L445.63,124.93 L445.91,124.94 L446.20,124.95 L446.48,124.96 L446.77,124.97 L447.05,124.98 L447.34,124.98 L447.62,124.99 L447.90,125.00 L448.19,125.00 L448.47,125.01 L448.76,125.02 L449.04,125.02 L449.33,125.03 L449.61,125.03 L449.89,125.04 L450.18,125.04 L450.46,125.05 L450.75,125.05 L451.03,125.06 L451.32,125.06 L451.60,125.06 L451.88,125.07 L452.17,125.07 L452.45,125.07 L452.74,125.08 L453.02,125.08 L453.31,125.08 L453.59,125.08 L453.87,125.09 L454.16,125.09 L454.44,125.09 L454.73,125.09 L455.01,125.09 L455.30,125.09 L455.58,125.09 L455.86,125.09 L456.15,125.10 L456.43,125.10 L456.72,125.10 L457.00,125.10 L457.29,125.10 L457.57,125.10 L457.86,125.10 L458.14,125.10 L458.42,125.09 L458.71,125.09 L458.99,125.08 L459.28,125.07 L459.56,125.06 L459.85,125.04 L460.13,125.03 L460.41,125.01 L460.70,124.99 L460.98,124.97 L461.27,124.95 L461.55,124.92 L461.84,124.90 L462.12,124.87 L462.40,124.84 L462.69,124.81 L462.97,124.78 L463.26,124.74 L463.54,124.71 L463.83,124.67 L464.11,124.64 L464.39,124.60 L464.68,124.56 L464.96,124.52 L465.25,124.48 L465.53,124.43 L465.82,124.39 L466.10,124.35 L466.38,124.30 L466.67,124.25 L466.95,124.21 L467.24,124.16 L467.52,124.11 L467.81,124.06 L468.09,124.01 L468.37,123.96 L468.66,123.91 L468.94,123.86 L469.23,123.81 L469.51,123.75 L469.80,123.70 L470.08,123.65 L470.37,123.59 L470.65,123.54 L470.93,123.48 L471.22,123.43 L471.50,123.38 L471.79,123.32 L472.07,123.27 L472.36,123.21 L472.64,123.16 L472.92,123.10 L473.21,123.05 L473.49,122.99 L473.78,122.94 L474.06,122.89 L474.35,122.83 L474.63,122.78 L474.91,122.73 L475.20,122.68 L475.48,122.62 L475.77,122.57 L476.05,122.52 L476.34,122.47 L476.62,122.42 L476.90,122.37 L477.19,122.32 L477.47,122.28 L477.76,122.23 L478.04,122.18 L478.33,122.14 L478.61,122.10 L478.89,122.05 L479.18,122.01 L479.46,121.97 L479.75,121.93 L480.03,121.89 L480.32,121.85 L480.60,121.82 L480.88,121.78 L481.17,121.75 L481.45,121.72 L481.74,121.69 L482.02,121.66 L482.31,121.63 L482.59,121.60 L482.87,121.58 L483.16,121.55 L483.44,121.53 L483.73,121.51 L484.01,121.49 L484.30,121.48 L484.58,121.46 L484.87,121.45 L485.15,121.44 L485.43,121.43 L485.72,121.42 L486.00,121.42 L486.29,121.42 L486.57,121.42 L486.86,121.42 L487.14,121.43 L487.42,121.45 L487.71,121.47 L487.99,121.49 L488.28,121.52 L488.56,121.55 L488.85,121.59 L489.13,121.64 L489.41,121.69 L489.70,121.74 L489.98,121.79 L490.27,121.85 L490.55,121.92 L490.84,121.99 L491.12,122.06 L491.40,122.13 L491.69,122.21 L491.97,122.29 L492.26,122.37 L492.54,122.46 L492.83,122.55 L493.11,122.64 L493.39,122.74 L493.68,122.83 L493.96,122.93 L494.25,123.03 L494.53,123.14 L494.82,123.24 L495.10,123.35 L495.38,123.45 L495.67,123.56 L495.95,123.67 L496.24,123.79 L496.52,123.90 L496.81,124.01 L497.09,124.13 L497.38,124.24 L497.66,124.36 L497.94,124.47 L498.23,124.59 L498.51,124.70 L498.80,124.82 L499.08,124.93 L499.37,125.05 L499.65,125.16 L499.93,125.28 L500.22,125.39 L500.50,125.50 L500.79,125.62 L501.07,125.73 L501.36,125.85 L501.64,125.97 L501.92,126.09 L502.21,126.21 L502.49,126.34 L502.78,126.47 L503.06,126.60 L503.35,126.74 L503.63,126.88 L503.91,127.02 L504.20,127.17 L504.48,127.32 L504.77,127.47 L505.05,127.63 L505.34,127.79 L505.62,127.96 L505.90,128.13 L506.19,128.31 L506.47,128.49 L506.76,128.67 L507.04,128.87 L507.33,129.06 L507.61,129.26 L507.89,129.47 L508.18,129.68 L508.46,129.91 L508.75,130.17 L509.03,130.46 L509.32,130.78 L509.60,131.12 L509.88,131.48 L510.17,131.85 L510.45,132.23 L510.74,132.62 L511.02,133.02 L511.31,133.42 L511.59,133.81 L511.88,134.20 L512.16,134.58 L512.44,134.95 L512.73,135.30 L513.01,135.64 L513.30,135.94 L513.58,136.23 L513.87,136.48 L514.15,136.70 L514.43,136.93 L514.72,137.17 L515.00,137.40 L515.29,137.63 L515.57,137.85 L515.86,138.07 L516.14,138.28 L516.42,138.47 L516.71,138.65 L516.99,138.81 L517.28,138.95 L517.56,139.06 L517.85,139.14 L518.13,139.20 L518.41,139.22 L518.70,139.20 L518.98,139.14 L519.27,139.03 L519.55,138.88 L519.84,138.70 L520.12,138.48 L520.40,138.24 L520.69,137.96 L520.97,137.67 L521.26,137.35 L521.54,137.02 L521.83,136.68 L522.11,136.32 L522.39,135.96 L522.68,135.60 L522.96,135.23 L523.25,134.85 L523.53,134.42 L523.82,133.96 L524.10,133.47 L524.39,132.94 L524.67,132.37 L524.95,131.76 L525.24,131.12 L525.52,130.45 L525.81,129.73 L526.09,128.98 L526.38,128.19 L526.66,127.36 L526.94,126.50 L527.23,125.60 L527.51,124.66 L527.80,123.69 L528.08,122.64 L528.37,121.40 L528.65,119.98 L528.93,118.39 L529.22,116.66 L529.50,114.81 L529.79,112.86 L530.07,110.83 L530.36,108.75 L530.64,106.63 L530.92,104.49 L531.21,102.36 L531.49,100.26 L531.78,98.21 L532.06,96.23 L532.35,94.35 L532.63,92.48 L532.91,90.57 L533.20,88.64 L533.48,86.69 L533.77,84.73 L534.05,82.78 L534.34,80.82 L534.62,78.89 L534.90,76.97 L535.19,75.09 L535.47,73.25 L535.76,71.46 L536.04,69.73 L536.33,68.06 L536.61,66.46 L536.89,64.95 L537.18,63.46 L537.46,61.93 L537.75,60.36 L538.03,58.76 L538.32,57.15 L538.60,55.53 L538.89,53.92 L539.17,52.33 L539.45,50.78 L539.74,49.26 L540.02,47.80 L540.31,46.40 L540.59,45.09 L540.88,43.85 L541.16,42.72 L541.44,41.70 L541.73,40.81 L542.01,40.04 L542.30,39.42 L542.58,38.96 L542.87,38.67 L543.15,38.56 L543.43,38.65 L543.72,38.96 L544.00,39.47 L544.29,40.18 L544.57,41.08 L544.86,42.14 L545.14,43.36 L545.42,44.73 L545.71,46.23 L545.99,47.85 L546.28,49.58 L546.56,51.40 L546.85,53.31 L547.13,55.29 L547.41,57.33 L547.70,59.42 L547.98,61.54 L548.27,63.69 L548.55,65.91 L548.84,68.60 L549.12,71.75 L549.40,75.27 L549.69,79.07 L549.97,83.05 L550.26,87.12 L550.54,91.17 L550.83,95.13 L551.11,99.19 L551.40,103.44 L551.68,107.80 L551.96,112.20 L552.25,116.58 L552.53,120.85 L552.82,124.97 L553.10,129.09 L553.39,133.20 L553.67,137.29 L553.95,141.33 L554.24,145.28 L554.52,149.11 L554.81,152.81 L555.09,156.33 L555.38,159.71 L555.66,163.09 L555.94,166.47 L556.23,169.83 L556.51,173.13 L556.80,176.35 L557.08,179.47 L557.37,182.45 L557.65,185.28 L557.93,187.93 L558.22,190.37 L558.50,192.57 L558.79,194.52 L559.07,196.25 L559.36,197.99 L559.64,199.70 L559.92,201.31 L560.21,202.72 L560.49,203.86 L560.78,204.66 L561.06,205.03 L561.35,204.97 L561.63,204.61 L561.91,203.98 L562.20,203.10 L562.48,202.00 L562.77,200.70 L563.05,199.21 L563.34,197.55 L563.62,195.76 L563.91,193.84 L564.19,191.82 L564.47,189.72 L564.76,187.56 L565.04,185.36 L565.33,183.14 L565.61,180.93 L565.90,178.73 L566.18,176.59 L566.46,174.50 L566.75,172.51 L567.03,170.61 L567.32,168.83 L567.60,167.00 L567.89,165.08 L568.17,163.09 L568.45,161.06 L568.74,159.01 L569.02,156.94 L569.31,154.88 L569.59,152.84 L569.88,150.85 L570.16,148.91 L570.44,147.06 L570.73,145.30 L571.01,143.66 L571.30,142.14 L571.58,140.78 L571.87,139.58 L572.15,138.44 L572.43,137.30 L572.72,136.18 L573.00,135.08 L573.29,134.01 L573.57,132.97 L573.86,131.98 L574.14,131.03 L574.42,130.14 L574.71,129.30 L574.99,128.54 L575.28,127.86 L575.56,127.26 L575.85,126.74 L576.13,126.33 L576.41,126.01 L576.70,125.80 L576.98,125.62 L577.27,125.45 L577.55,125.30 L577.84,125.16 L578.12,125.05 L578.41,124.95 L578.69,124.89 L578.97,124.85 L579.26,124.84 L579.54,124.87 L579.83,124.92 L580.11,124.99 L580.40,125.09 L580.68,125.22 L580.96,125.36 L581.25,125.52 L581.53,125.70 L581.82,125.90 L582.10,126.11 L582.39,126.33 L582.67,126.57 L582.95,126.82 L583.24,127.07 L583.52,127.33 L583.81,127.60 L584.09,127.87 L584.38,128.15 L584.66,128.42 L584.94,128.70 L585.23,128.97 L585.51,129.24 L585.80,129.50 L586.08,129.76 L586.37,130.01 L586.65,130.25 L586.93,130.48 L587.22,130.70 L587.50,130.91 L587.79,131.09 L588.07,131.26 L588.36,131.42 L588.64,131.55 L588.92,131.66 L589.21,131.75 L589.49,131.81 L589.78,131.85 L590.06,131.86 L590.35,131.81 L590.63,131.70 L590.92,131.53 L591.20,131.31 L591.48,131.02 L591.77,130.69 L592.05,130.32 L592.34,129.90 L592.62,129.45 L592.91,128.96 L593.19,128.44 L593.47,127.90 L593.76,127.34 L594.04,126.76 L594.33,126.17 L594.61,125.56 L594.90,124.96 L595.18,124.35 L595.46,123.75 L595.75,123.15 L596.03,122.56 L596.32,121.99 L596.60,121.44 L596.89,120.91 L597.17,120.40 L597.45,119.93 L597.74,119.49 L598.02,119.10 L598.31,118.74 L598.59,118.43 L598.88,118.18 L599.16,117.97 L599.44,117.83 L599.73,117.75 L600.01,117.74 L600.30,117.78 L600.58,117.86 L600.87,117.98 L601.15,118.14 L601.43,118.34 L601.72,118.56 L602.00,118.82 L602.29,119.09 L602.57,119.39 L602.86,119.70 L603.14,120.02 L603.42,120.36 L603.71,120.70 L603.99,121.04 L604.28,121.38 L604.56,121.72 L604.85,122.05 L605.13,122.37 L605.42,122.67 L605.70,122.95 L605.98,123.22 L606.27,123.45 L606.55,123.66 L606.84,123.84 L607.12,123.98 L607.41,124.08 L607.69,124.14 L607.97,124.16 L608.26,124.15 L608.54,124.13 L608.83,124.11 L609.11,124.07 L609.40,124.03 L609.68,123.98 L609.96,123.92 L610.25,123.86 L610.53,123.79 L610.82,123.71 L611.10,123.63 L611.39,123.54 L611.67,123.45 L611.95,123.35 L612.24,123.25 L612.52,123.15 L612.81,123.04 L613.09,122.93 L613.38,122.82 L613.66,122.71 L613.94,122.59 L614.23,122.48 L614.51,122.36 L614.80,122.24 L615.08,122.13 L615.37,122.01 L615.65,121.89 L615.93,121.78 L616.22,121.67 L616.50,121.56 L616.79,121.45 L617.07,121.35 L617.36,121.25 L617.64,121.16 L617.93,121.07 L618.21,120.98 L618.49,120.90 L618.78,120.82 L619.06,120.75 L619.35,120.69 L619.63,120.64 L619.92,120.59 L620.20,120.55 L620.48,120.52 L620.77,120.49 L621.05,120.48 L621.34,120.48 L621.62,120.48 L621.91,120.48 L622.19,120.49 L622.47,120.50 L622.76,120.51 L623.04,120.53 L623.33,120.55 L623.61,120.57 L623.90,120.60 L624.18,120.63 L624.46,120.66 L624.75,120.69 L625.03,120.72 L625.32,120.76 L625.60,120.80 L625.89,120.84 L626.17,120.88 L626.45,120.92 L626.74,120.97 L627.02,121.02 L627.31,121.07 L627.59,121.12 L627.88,121.17 L628.16,121.22 L628.44,121.28 L628.73,121.33 L629.01,121.39 L629.30,121.45 L629.58,121.51 L629.87,121.56 L630.15,121.62 L630.43,121.68 L630.72,121.75 L631.00,121.81 L631.29,121.87 L631.57,121.93 L631.86,121.99 L632.14,122.06 L632.43,122.12 L632.71,122.18 L632.99,122.24 L633.28,122.30 L633.56,122.37 L633.85,122.43 L634.13,122.49 L634.42,122.55 L634.70,122.61 L634.98,122.66 L635.27,122.72 L635.55,122.78 L635.84,122.83 L636.12,122.89 L636.41,122.94 L636.69,122.99 L636.97,123.04 L637.26,123.09 L637.54,123.14 L637.83,123.19 L638.11,123.23 L638.40,123.27 L638.68,123.31 L638.96,123.35 L639.25,123.40 L639.53,123.44 L639.82,123.48 L640.10,123.53 L640.39,123.57 L640.67,123.61 L640.95,123.66 L641.24,123.71 L641.52,123.75 L641.81,123.80 L642.09,123.84 L642.38,123.89 L642.66,123.94 L642.94,123.99 L643.23,124.03 L643.51,124.08 L643.80,124.13 L644.08,124.17 L644.37,124.22 L644.65,124.27 L644.94,124.31 L645.22,124.36 L645.50,124.41 L645.79,124.45 L646.07,124.50 L646.36,124.54 L646.64,124.59 L646.93,124.63 L647.21,124.67 L647.49,124.72 L647.78,124.76 L648.06,124.80 L648.35,124.84 L648.63,124.88 L648.92,124.92 L649.20,124.96 L649.48,124.99 L649.77,125.03 L650.05,125.06 L650.34,125.10 L650.62,125.13 L650.91,125.16 L651.19,125.19 L651.47,125.22 L651.76,125.24 L652.04,125.27 L652.33,125.29 L652.61,125.31 L652.90,125.33 L653.18,125.35 L653.46,125.37 L653.75,125.39 L654.03,125.40 L654.32,125.41 L654.60,125.42 L654.89,125.43 L655.17,125.43 L655.45,125.44 L655.74,125.44 L656.02,125.44 L656.31,125.44 L656.59,125.44 L656.88,125.44 L657.16,125.43 L657.44,125.43 L657.73,125.42 L658.01,125.42 L658.30,125.41 L658.58,125.41 L658.87,125.40 L659.15,125.39 L659.44,125.38 L659.72,125.37 L660.00,125.36 L660.29,125.35 L660.57,125.34 L660.86,125.33 L661.14,125.31 L661.43,125.30 L661.71,125.29 L661.99,125.27 L662.28,125.25 L662.56,125.24 L662.85,125.22 L663.13,125.20 L663.42,125.18 L663.70,125.16 L663.98,125.14 L664.27,125.11 L664.55,125.09 L664.84,125.07 L665.12,125.04 L665.41,125.02 L665.69,124.99 L665.97,124.96 L666.26,124.93 L666.54,124.90 L666.83,124.87 L667.11,124.84 L667.40,124.81 L667.68,124.78 L667.96,124.74 L668.25,124.71 L668.53,124.67 L668.82,124.64 L669.10,124.60 L669.39,124.56 L669.67,124.52 L669.95,124.48 L670.24,124.44 L670.52,124.40 L670.81,124.36 L671.09,124.31 L671.38,124.27 L671.66,124.22 L671.95,124.17 L672.23,124.12 L672.51,124.08 L672.80,124.02 L673.08,123.97 L673.37,123.92 L673.65,123.87 L673.94,123.81 L674.22,123.76 L674.50,123.70 L674.79,123.64 L675.07,123.59 L675.36,123.53 L675.64,123.47 L675.93,123.40 L676.21,123.34 L676.49,123.28 L676.78,123.21 L677.06,123.15 L677.35,123.08 L677.63,123.01 L677.92,122.94 L678.20,122.87" fill="none" stroke="#ff1c10" stroke-width="1.4" stroke-linejoin="round" clip-path="url(#cd)" />
<line x1="42.40" y1="29.30" x2="297.50" y2="29.30" stroke="#5e5050" stroke-width="1.0" />
<line x1="42.40" y1="29.30" x2="42.40" y2="218.10" stroke="#55505a" stroke-width="1.0" />
<line x1="297.50" y1="29.30" x2="297.50" y2="218.10" stroke="#3f5a4c" stroke-width="1.0" />
<line x1="42.40" y1="218.10" x2="297.50" y2="218.10" stroke="#3f5a4c" stroke-width="1.0" />
<line x1="42.40" y1="73.40" x2="297.50" y2="73.40" stroke="#2f6050" stroke-width="1.0" />
<text transform="translate(42.40 25.20) scale(0.93 1)" font-size="10.50" text-anchor="middle" fill="#1e1e1e" stroke="#1e1e1e" stroke-width="0.2" font-weight="normal" >0</text>
<text transform="translate(42.40 229.50) scale(0.93 1)" font-size="10.50" text-anchor="middle" fill="#1e1e1e" stroke="#1e1e1e" stroke-width="0.2" font-weight="normal" >0</text>
<text transform="translate(78.84 25.20) scale(0.93 1)" font-size="10.50" text-anchor="middle" fill="#1e1e1e" stroke="#1e1e1e" stroke-width="0.2" font-weight="normal" >100</text>
<text transform="translate(78.84 229.50) scale(0.93 1)" font-size="10.50" text-anchor="middle" fill="#1e1e1e" stroke="#1e1e1e" stroke-width="0.2" font-weight="normal" >100</text>
<text transform="translate(115.29 25.20) scale(0.93 1)" font-size="10.50" text-anchor="middle" fill="#1e1e1e" stroke="#1e1e1e" stroke-width="0.2" font-weight="normal" >200</text>
<text transform="translate(115.29 229.50) scale(0.93 1)" font-size="10.50" text-anchor="middle" fill="#1e1e1e" stroke="#1e1e1e" stroke-width="0.2" font-weight="normal" >200</text>
<text transform="translate(151.73 25.20) scale(0.93 1)" font-size="10.50" text-anchor="middle" fill="#1e1e1e" stroke="#1e1e1e" stroke-width="0.2" font-weight="normal" >300</text>
<text transform="translate(151.73 229.50) scale(0.93 1)" font-size="10.50" text-anchor="middle" fill="#1e1e1e" stroke="#1e1e1e" stroke-width="0.2" font-weight="normal" >300</text>
<text transform="translate(188.17 25.20) scale(0.93 1)" font-size="10.50" text-anchor="middle" fill="#1e1e1e" stroke="#1e1e1e" stroke-width="0.2" font-weight="normal" >400</text>
<text transform="translate(188.17 229.50) scale(0.93 1)" font-size="10.50" text-anchor="middle" fill="#1e1e1e" stroke="#1e1e1e" stroke-width="0.2" font-weight="normal" >400</text>
<text transform="translate(224.61 25.20) scale(0.93 1)" font-size="10.50" text-anchor="middle" fill="#1e1e1e" stroke="#1e1e1e" stroke-width="0.2" font-weight="normal" >500</text>
<text transform="translate(224.61 229.50) scale(0.93 1)" font-size="10.50" text-anchor="middle" fill="#1e1e1e" stroke="#1e1e1e" stroke-width="0.2" font-weight="normal" >500</text>
<text transform="translate(261.06 25.20) scale(0.93 1)" font-size="10.50" text-anchor="middle" fill="#1e1e1e" stroke="#1e1e1e" stroke-width="0.2" font-weight="normal" >600</text>
<text transform="translate(261.06 229.50) scale(0.93 1)" font-size="10.50" text-anchor="middle" fill="#1e1e1e" stroke="#1e1e1e" stroke-width="0.2" font-weight="normal" >600</text>
<text transform="translate(297.50 25.20) scale(0.93 1)" font-size="10.50" text-anchor="middle" fill="#1e1e1e" stroke="#1e1e1e" stroke-width="0.2" font-weight="normal" >700</text>
<text transform="translate(297.50 229.50) scale(0.93 1)" font-size="10.50" text-anchor="middle" fill="#1e1e1e" stroke="#1e1e1e" stroke-width="0.2" font-weight="normal" >700</text>
<text transform="translate(170.00 10.90) scale(0.88 1)" font-size="11.30" text-anchor="middle" fill="#1e1e1e" stroke="#1e1e1e" stroke-width="0.2" font-weight="normal" >Time (fs)</text>
<text transform="translate(170.00 244.80) scale(0.88 1)" font-size="11.30" text-anchor="middle" fill="#1e1e1e" stroke="#1e1e1e" stroke-width="0.2" font-weight="normal" >Time (fs)</text>
<text transform="translate(38.90 213.48) scale(0.93 1)" font-size="10.50" text-anchor="end" fill="#1e1e1e" stroke="#1e1e1e" stroke-width="0.2" font-weight="normal" >-0.6</text>
<text transform="translate(38.90 197.92) scale(0.93 1)" font-size="10.50" text-anchor="end" fill="#1e1e1e" stroke="#1e1e1e" stroke-width="0.2" font-weight="normal" >-0.4</text>
<text transform="translate(38.90 182.36) scale(0.93 1)" font-size="10.50" text-anchor="end" fill="#1e1e1e" stroke="#1e1e1e" stroke-width="0.2" font-weight="normal" >-0.2</text>
<text transform="translate(38.90 166.80) scale(0.93 1)" font-size="10.50" text-anchor="end" fill="#1e1e1e" stroke="#1e1e1e" stroke-width="0.2" font-weight="normal" >0.0</text>
<text transform="translate(38.90 151.24) scale(0.93 1)" font-size="10.50" text-anchor="end" fill="#1e1e1e" stroke="#1e1e1e" stroke-width="0.2" font-weight="normal" >0.2</text>
<text transform="translate(38.90 135.68) scale(0.93 1)" font-size="10.50" text-anchor="end" fill="#1e1e1e" stroke="#1e1e1e" stroke-width="0.2" font-weight="normal" >0.4</text>
<text transform="translate(38.90 120.12) scale(0.93 1)" font-size="10.50" text-anchor="end" fill="#1e1e1e" stroke="#1e1e1e" stroke-width="0.2" font-weight="normal" >0.6</text>
<text transform="translate(38.90 104.56) scale(0.93 1)" font-size="10.50" text-anchor="end" fill="#1e1e1e" stroke="#1e1e1e" stroke-width="0.2" font-weight="normal" >0.8</text>
<text transform="translate(38.90 89.00) scale(0.93 1)" font-size="10.50" text-anchor="end" fill="#1e1e1e" stroke="#1e1e1e" stroke-width="0.2" font-weight="normal" >1.0</text>
<text transform="translate(12.90 50.60) rotate(-90) scale(0.825 1)" font-size="11.30" text-anchor="middle" fill="#1e1e1e" stroke="#1e1e1e" stroke-width="0.2" font-weight="normal" >Laser Pulse</text>
<text transform="translate(24.20 51.30) rotate(-90) scale(0.815 1)" font-size="11.30" text-anchor="middle" fill="#1e1e1e" stroke="#1e1e1e" stroke-width="0.2" font-weight="normal" >Intensity</text>
<text transform="translate(12.80 146.50) rotate(-90) scale(0.88 1)" font-size="11.30" text-anchor="middle" fill="#1e1e1e" stroke="#1e1e1e" stroke-width="0.2" font-weight="normal" >Spin Current j<tspan font-size="6.5" dy="2.8">S</tspan><tspan dy="-2.8"> (arb. units)</tspan></text>
<path d="M42.40,73.39 L43.04,73.39 L43.68,73.39 L44.32,73.39 L44.96,73.39 L45.60,73.38 L46.24,73.38 L46.88,73.38 L47.51,73.37 L48.15,73.37 L48.79,73.36 L49.43,73.36 L50.07,73.35 L50.71,73.34 L51.35,73.33 L51.99,73.32 L52.63,73.31 L53.27,73.29 L53.91,73.28 L54.55,73.26 L55.19,73.24 L55.83,73.21 L56.47,73.18 L57.11,73.15 L57.74,73.12 L58.38,73.08 L59.02,73.03 L59.66,72.99 L60.30,72.93 L60.94,72.87 L61.58,72.80 L62.22,72.72 L62.86,72.64 L63.50,72.54 L64.14,72.44 L64.78,72.33 L65.42,72.20 L66.06,72.06 L66.70,71.91 L67.33,71.74 L67.97,71.56 L68.61,71.36 L69.25,71.15 L69.89,70.91 L70.53,70.66 L71.17,70.39 L71.81,70.09 L72.45,69.77 L73.09,69.43 L73.73,69.06 L74.37,68.66 L75.01,68.24 L75.65,67.80 L76.29,67.32 L76.92,66.81 L77.56,66.28 L78.20,65.71 L78.84,65.11 L79.48,64.49 L80.12,63.83 L80.76,63.14 L81.40,62.42 L82.04,61.67 L82.68,60.89 L83.32,60.08 L83.96,59.24 L84.60,58.38 L85.24,57.49 L85.88,56.58 L86.52,55.64 L87.15,54.69 L87.79,53.72 L88.43,52.74 L89.07,51.74 L89.71,50.73 L90.35,49.72 L90.99,48.71 L91.63,47.70 L92.27,46.69 L92.91,45.69 L93.55,44.70 L94.19,43.73 L94.83,42.78 L95.47,41.85 L96.11,40.96 L96.74,40.09 L97.38,39.26 L98.02,38.47 L98.66,37.72 L99.30,37.02 L99.94,36.37 L100.58,35.77 L101.22,35.23 L101.86,34.75 L102.50,34.33 L103.14,33.98 L103.78,33.69 L104.42,33.46 L105.06,33.31 L105.70,33.22 L106.33,33.20 L106.97,33.25 L107.61,33.38 L108.25,33.57 L108.89,33.82 L109.53,34.15 L110.17,34.53 L110.81,34.99 L111.45,35.50 L112.09,36.07 L112.73,36.69 L113.37,37.36 L114.01,38.09 L114.65,38.86 L115.29,39.67 L115.93,40.52 L116.56,41.40 L117.20,42.32 L117.84,43.25 L118.48,44.22 L119.12,45.19 L119.76,46.19 L120.40,47.19 L121.04,48.20 L121.68,49.22 L122.32,50.23 L122.96,51.24 L123.60,52.24 L124.24,53.23 L124.88,54.21 L125.52,55.17 L126.15,56.11 L126.79,57.04 L127.43,57.94 L128.07,58.81 L128.71,59.66 L129.35,60.49 L129.99,61.28 L130.63,62.05 L131.27,62.78 L131.91,63.49 L132.55,64.16 L133.19,64.80 L133.83,65.42 L134.47,66.00 L135.11,66.55 L135.74,67.07 L136.38,67.56 L137.02,68.02 L137.66,68.46 L138.30,68.87 L138.94,69.25 L139.58,69.60 L140.22,69.93 L140.86,70.24 L141.50,70.53 L142.14,70.79 L142.78,71.03 L143.42,71.26 L144.06,71.46 L144.70,71.65 L145.34,71.83 L145.97,71.99 L146.61,72.13 L147.25,72.27 L147.89,72.39 L148.53,72.49 L149.17,72.59 L149.81,72.68 L150.45,72.76 L151.09,72.83 L151.73,72.90 L152.37,72.96 L153.01,73.01 L153.65,73.06 L154.29,73.10 L154.93,73.14 L155.56,73.17 L156.20,73.20 L156.84,73.22 L157.48,73.25 L158.12,73.27 L158.76,73.28 L159.40,73.30 L160.04,73.31 L160.68,73.32 L161.32,73.34 L161.96,73.34 L162.60,73.35 L163.24,73.36 L163.88,73.36 L164.52,73.37 L165.15,73.37 L165.79,73.38 L166.43,73.38 L167.07,73.38 L167.71,73.39 L168.35,73.39 L168.99,73.39 L169.63,73.39 L170.27,73.39 L170.91,73.39 L171.55,73.40 L172.19,73.40 L172.83,73.40 L173.47,73.40 L174.11,73.40 L174.75,73.40 L175.38,73.40 L176.02,73.40 L176.66,73.40 L177.30,73.40 L177.94,73.40 L178.58,73.40 L179.22,73.40 L179.86,73.40 L180.50,73.40 L181.14,73.40 L181.78,73.40 L182.42,73.40 L183.06,73.40 L183.70,73.40 L184.34,73.40 L184.97,73.40 L185.61,73.40 L186.25,73.40 L186.89,73.40 L187.53,73.40 L188.17,73.40 L188.81,73.40 L189.45,73.40 L190.09,73.40 L190.73,73.40 L191.37,73.40 L192.01,73.40 L192.65,73.40 L193.29,73.40 L193.93,73.40 L194.56,73.40 L195.20,73.40 L195.84,73.40 L196.48,73.40 L197.12,73.40 L197.76,73.40 L198.40,73.40 L199.04,73.40 L199.68,73.40 L200.32,73.40 L200.96,73.40 L201.60,73.40 L202.24,73.40 L202.88,73.40 L203.52,73.40 L204.16,73.40 L204.79,73.40 L205.43,73.40 L206.07,73.40 L206.71,73.40 L207.35,73.40 L207.99,73.40 L208.63,73.40 L209.27,73.40 L209.91,73.40 L210.55,73.40 L211.19,73.40 L211.83,73.40 L212.47,73.40 L213.11,73.40 L213.75,73.40 L214.38,73.40 L215.02,73.40 L215.66,73.40 L216.30,73.40 L216.94,73.40 L217.58,73.40 L218.22,73.40 L218.86,73.40 L219.50,73.40 L220.14,73.40 L220.78,73.40 L221.42,73.40 L222.06,73.40 L222.70,73.40 L223.34,73.40 L223.97,73.40 L224.61,73.40 L225.25,73.40 L225.89,73.40 L226.53,73.40 L227.17,73.40 L227.81,73.40 L228.45,73.40 L229.09,73.40 L229.73,73.40 L230.37,73.40 L231.01,73.40 L231.65,73.40 L232.29,73.40 L232.93,73.40 L233.57,73.40 L234.20,73.40 L234.84,73.40 L235.48,73.40 L236.12,73.40 L236.76,73.40 L237.40,73.40 L238.04,73.40 L238.68,73.40 L239.32,73.40 L239.96,73.40 L240.60,73.40 L241.24,73.40 L241.88,73.40 L242.52,73.40 L243.16,73.40 L243.79,73.40 L244.43,73.40 L245.07,73.40 L245.71,73.40 L246.35,73.40 L246.99,73.40 L247.63,73.40 L248.27,73.40 L248.91,73.40 L249.55,73.40 L250.19,73.40 L250.83,73.40 L251.47,73.40 L252.11,73.40 L252.75,73.40 L253.38,73.40 L254.02,73.40 L254.66,73.40 L255.30,73.40 L255.94,73.40 L256.58,73.40 L257.22,73.40 L257.86,73.40 L258.50,73.40 L259.14,73.40 L259.78,73.40 L260.42,73.40 L261.06,73.40 L261.70,73.40 L262.34,73.40 L262.98,73.40 L263.61,73.40 L264.25,73.40 L264.89,73.40 L265.53,73.40 L266.17,73.40 L266.81,73.40 L267.45,73.40 L268.09,73.40 L268.73,73.40 L269.37,73.40 L270.01,73.40 L270.65,73.40 L271.29,73.40 L271.93,73.40 L272.57,73.40 L273.20,73.40 L273.84,73.40 L274.48,73.40 L275.12,73.40 L275.76,73.40 L276.40,73.40 L277.04,73.40 L277.68,73.40 L278.32,73.40 L278.96,73.40 L279.60,73.40 L280.24,73.40 L280.88,73.40 L281.52,73.40 L282.16,73.40 L282.79,73.40 L283.43,73.40 L284.07,73.40 L284.71,73.40 L285.35,73.40 L285.99,73.40 L286.63,73.40 L287.27,73.40 L287.91,73.40 L288.55,73.40 L289.19,73.40 L289.83,73.40 L290.47,73.40 L291.11,73.40 L291.75,73.40 L292.39,73.40 L293.02,73.40 L293.66,73.40 L294.30,73.40 L294.94,73.40 L295.58,73.40 L296.22,73.40 L296.86,73.40 L297.50,73.40" fill="none" stroke="#f0901e" stroke-width="1.4" stroke-linejoin="round" clip-path="url(#ca1b)" />
<line x1="106.50" y1="29.30" x2="106.50" y2="218.10" stroke="#f5a040" stroke-width="1.0" />
<rect x="232.2" y="44.5" width="56.1" height="12.3" fill="#ffffff" stroke="#c8e4dc" stroke-width="0.9"/>
<line x1="232.20" y1="56.80" x2="288.30" y2="56.80" stroke="#f4d0dc" stroke-width="0.9" />
<line x1="232.20" y1="44.50" x2="232.20" y2="56.80" stroke="#f0d4dc" stroke-width="0.9" />
<line x1="233.20" y1="51.60" x2="254.00" y2="51.60" stroke="#f59a30" stroke-width="1.9" />
<text transform="translate(256.40 54.80) scale(1.0 1)" font-size="9.10" text-anchor="start" fill="#1e1e1e" stroke="#1e1e1e" stroke-width="0.2" font-weight="normal" >fs pulse</text>
<text transform="translate(142.60 51.70) scale(1.0 1)" font-size="10.00" text-anchor="start" fill="#f7901e" stroke="#f7901e" stroke-width="0.2" font-weight="normal" >&#964;</text>
<text transform="translate(146.60 55.00) scale(1.0 1)" font-size="6.40" text-anchor="start" fill="#f7901e" stroke="#f7901e" stroke-width="0.2" font-weight="normal" >fs</text>
<text transform="translate(153.40 51.70) scale(1.0 1)" font-size="10.00" text-anchor="start" fill="#f7901e" stroke="#f7901e" stroke-width="0.2" font-weight="normal" >= 70 fs</text>
<rect x="228.5" y="73.40" width="69.00" height="85.20" fill="#ffffff" stroke="#cdc6c0" stroke-width="1"/>
<line x1="230.20" y1="87.40" x2="252.30" y2="87.40" stroke="#0a2aff" stroke-width="1.5" />
<text transform="translate(254.60 90.90) scale(1.0 1)" font-size="10.00" text-anchor="start" fill="#1e1e1e" stroke="#1e1e1e" stroke-width="0.2" font-weight="normal" >&#964;</text>
<text transform="translate(258.70 94.60) scale(1.0 1)" font-size="6.60" text-anchor="start" fill="#1e1e1e" stroke="#1e1e1e" stroke-width="0.2" font-weight="normal" >el</text>
<text transform="translate(266.30 90.90) scale(0.96 1)" font-size="10.00" text-anchor="start" fill="#1e1e1e" stroke="#1e1e1e" stroke-width="0.2" font-weight="normal" >= 10 fs</text>
<line x1="230.20" y1="103.25" x2="252.30" y2="103.25" stroke="#3c26c8" stroke-width="1.5" />
<text transform="translate(254.60 106.75) scale(1.0 1)" font-size="10.00" text-anchor="start" fill="#1e1e1e" stroke="#1e1e1e" stroke-width="0.2" font-weight="normal" >&#964;</text>
<text transform="translate(258.70 110.45) scale(1.0 1)" font-size="6.60" text-anchor="start" fill="#1e1e1e" stroke="#1e1e1e" stroke-width="0.2" font-weight="normal" >el</text>
<text transform="translate(266.30 106.75) scale(0.96 1)" font-size="10.00" text-anchor="start" fill="#1e1e1e" stroke="#1e1e1e" stroke-width="0.2" font-weight="normal" >= 20 fs</text>
<line x1="230.20" y1="119.10" x2="252.30" y2="119.10" stroke="#7a1e86" stroke-width="1.5" />
<text transform="translate(254.60 122.60) scale(1.0 1)" font-size="10.00" text-anchor="start" fill="#1e1e1e" stroke="#1e1e1e" stroke-width="0.2" font-weight="normal" >&#964;</text>
<text transform="translate(258.70 126.30) scale(1.0 1)" font-size="6.60" text-anchor="start" fill="#1e1e1e" stroke="#1e1e1e" stroke-width="0.2" font-weight="normal" >el</text>
<text transform="translate(266.30 122.60) scale(0.96 1)" font-size="10.00" text-anchor="start" fill="#1e1e1e" stroke="#1e1e1e" stroke-width="0.2" font-weight="normal" >= 30 fs</text>
<line x1="230.20" y1="134.95" x2="252.30" y2="134.95" stroke="#c0304c" stroke-width="1.5" />
<text transform="translate(254.60 138.45) scale(1.0 1)" font-size="10.00" text-anchor="start" fill="#1e1e1e" stroke="#1e1e1e" stroke-width="0.2" font-weight="normal" >&#964;</text>
<text transform="translate(258.70 142.15) scale(1.0 1)" font-size="6.60" text-anchor="start" fill="#1e1e1e" stroke="#1e1e1e" stroke-width="0.2" font-weight="normal" >el</text>
<text transform="translate(266.30 138.45) scale(0.96 1)" font-size="10.00" text-anchor="start" fill="#1e1e1e" stroke="#1e1e1e" stroke-width="0.2" font-weight="normal" >= 40 fs</text>
<line x1="230.20" y1="150.80" x2="252.30" y2="150.80" stroke="#ff1c10" stroke-width="1.5" />
<text transform="translate(254.60 154.30) scale(1.0 1)" font-size="10.00" text-anchor="start" fill="#1e1e1e" stroke="#1e1e1e" stroke-width="0.2" font-weight="normal" >&#964;</text>
<text transform="translate(258.70 158.00) scale(1.0 1)" font-size="6.60" text-anchor="start" fill="#1e1e1e" stroke="#1e1e1e" stroke-width="0.2" font-weight="normal" >el</text>
<text transform="translate(266.30 154.30) scale(0.96 1)" font-size="10.00" text-anchor="start" fill="#1e1e1e" stroke="#1e1e1e" stroke-width="0.2" font-weight="normal" >= 50 fs</text>
<line x1="297.50" y1="73.40" x2="297.50" y2="218.10" stroke="#3f5a4c" stroke-width="1.0" />
<line x1="228.00" y1="73.40" x2="297.50" y2="73.40" stroke="#2f6050" stroke-width="1.0" />
<path d="M225.25,73.40 L225.89,73.40 L226.53,73.40 L227.17,73.40 L227.81,73.40 L228.45,73.40 L229.09,73.40 L229.73,73.40 L230.37,73.40 L231.01,73.40 L231.65,73.40 L232.29,73.40 L232.93,73.40 L233.57,73.40 L234.20,73.40 L234.84,73.40 L235.48,73.40 L236.12,73.40 L236.76,73.40 L237.40,73.40 L238.04,73.40 L238.68,73.40 L239.32,73.40 L239.96,73.40 L240.60,73.40 L241.24,73.40 L241.88,73.40 L242.52,73.40 L243.16,73.40 L243.79,73.40 L244.43,73.40 L245.07,73.40 L245.71,73.40 L246.35,73.40 L246.99,73.40 L247.63,73.40 L248.27,73.40 L248.91,73.40 L249.55,73.40 L250.19,73.40 L250.83,73.40 L251.47,73.40 L252.11,73.40 L252.75,73.40 L253.38,73.40 L254.02,73.40 L254.66,73.40 L255.30,73.40 L255.94,73.40 L256.58,73.40 L257.22,73.40 L257.86,73.40 L258.50,73.40 L259.14,73.40 L259.78,73.40 L260.42,73.40 L261.06,73.40 L261.70,73.40 L262.34,73.40 L262.98,73.40 L263.61,73.40 L264.25,73.40 L264.89,73.40 L265.53,73.40 L266.17,73.40 L266.81,73.40 L267.45,73.40 L268.09,73.40 L268.73,73.40 L269.37,73.40 L270.01,73.40 L270.65,73.40 L271.29,73.40 L271.93,73.40 L272.57,73.40 L273.20,73.40 L273.84,73.40 L274.48,73.40 L275.12,73.40 L275.76,73.40 L276.40,73.40 L277.04,73.40 L277.68,73.40 L278.32,73.40 L278.96,73.40 L279.60,73.40 L280.24,73.40 L280.88,73.40 L281.52,73.40 L282.16,73.40 L282.79,73.40 L283.43,73.40 L284.07,73.40 L284.71,73.40 L285.35,73.40 L285.99,73.40 L286.63,73.40 L287.27,73.40 L287.91,73.40 L288.55,73.40 L289.19,73.40 L289.83,73.40 L290.47,73.40 L291.11,73.40 L291.75,73.40 L292.39,73.40 L293.02,73.40 L293.66,73.40 L294.30,73.40 L294.94,73.40 L295.58,73.40 L296.22,73.40 L296.86,73.40 L297.50,73.40" fill="none" stroke="#f0901e" stroke-width="1.4" stroke-linejoin="round" clip-path="url(#ca1b)" />
<rect x="42.80" y="284.60" width="255.50" height="187.80" fill="none" stroke="#3d3d3d" stroke-width="1.0"/>
<text transform="translate(38.00 476.00) scale(0.93 1)" font-size="10.50" text-anchor="end" fill="#1e1e1e" stroke="#1e1e1e" stroke-width="0.2" font-weight="normal" >0.01</text>
<text transform="translate(38.00 394.00) scale(0.93 1)" font-size="10.50" text-anchor="end" fill="#1e1e1e" stroke="#1e1e1e" stroke-width="0.2" font-weight="normal" >0.1</text>
<text transform="translate(38.00 312.00) scale(0.93 1)" font-size="10.50" text-anchor="end" fill="#1e1e1e" stroke="#1e1e1e" stroke-width="0.2" font-weight="normal" >1</text>
<text transform="translate(170.50 501.30) scale(0.88 1)" font-size="11.30" text-anchor="middle" fill="#1e1e1e" stroke="#1e1e1e" stroke-width="0.2" font-weight="normal" >Frequency (THz)</text>
<text transform="translate(8.40 378.00) rotate(-90) scale(0.9 1)" font-size="11.30" text-anchor="middle" fill="#1e1e1e" stroke="#1e1e1e" stroke-width="0.2" font-weight="normal" >Spectral Amplitude of j<tspan font-size="6.5" dy="2.8">S</tspan><tspan dy="-2.8"> (arb. units)</tspan></text>
<rect x="218.50" y="291.30" width="70.80" height="83.90" fill="#ffffff" stroke="#aab4a4" stroke-width="1"/>
<line x1="219.40" y1="301.00" x2="243.30" y2="301.00" stroke="#0a2aff" stroke-width="1.5" />
<text transform="translate(245.50 304.40) scale(1.0 1)" font-size="10.00" text-anchor="start" fill="#1e1e1e" stroke="#1e1e1e" stroke-width="0.2" font-weight="normal" >&#964;</text>
<text transform="translate(249.60 308.10) scale(1.0 1)" font-size="6.60" text-anchor="start" fill="#1e1e1e" stroke="#1e1e1e" stroke-width="0.2" font-weight="normal" >el</text>
<text transform="translate(257.10 304.40) scale(1.03 1)" font-size="10.00" text-anchor="start" fill="#1e1e1e" stroke="#1e1e1e" stroke-width="0.2" font-weight="normal" >= 10 fs</text>
<line x1="219.40" y1="317.60" x2="243.30" y2="317.60" stroke="#3c26c8" stroke-width="1.5" />
<text transform="translate(245.50 321.00) scale(1.0 1)" font-size="10.00" text-anchor="start" fill="#1e1e1e" stroke="#1e1e1e" stroke-width="0.2" font-weight="normal" >&#964;</text>
<text transform="translate(249.60 324.70) scale(1.0 1)" font-size="6.60" text-anchor="start" fill="#1e1e1e" stroke="#1e1e1e" stroke-width="0.2" font-weight="normal" >el</text>
<text transform="translate(257.10 321.00) scale(1.03 1)" font-size="10.00" text-anchor="start" fill="#1e1e1e" stroke="#1e1e1e" stroke-width="0.2" font-weight="normal" >= 20 fs</text>
<line x1="219.40" y1="334.20" x2="243.30" y2="334.20" stroke="#7a1e86" stroke-width="1.5" />
<text transform="translate(245.50 337.60) scale(1.0 1)" font-size="10.00" text-anchor="start" fill="#1e1e1e" stroke="#1e1e1e" stroke-width="0.2" font-weight="normal" >&#964;</text>
<text transform="translate(249.60 341.30) scale(1.0 1)" font-size="6.60" text-anchor="start" fill="#1e1e1e" stroke="#1e1e1e" stroke-width="0.2" font-weight="normal" >el</text>
<text transform="translate(257.10 337.60) scale(1.03 1)" font-size="10.00" text-anchor="start" fill="#1e1e1e" stroke="#1e1e1e" stroke-width="0.2" font-weight="normal" >= 30 fs</text>
<line x1="219.40" y1="350.80" x2="243.30" y2="350.80" stroke="#c0304c" stroke-width="1.5" />
<text transform="translate(245.50 354.20) scale(1.0 1)" font-size="10.00" text-anchor="start" fill="#1e1e1e" stroke="#1e1e1e" stroke-width="0.2" font-weight="normal" >&#964;</text>
<text transform="translate(249.60 357.90) scale(1.0 1)" font-size="6.60" text-anchor="start" fill="#1e1e1e" stroke="#1e1e1e" stroke-width="0.2" font-weight="normal" >el</text>
<text transform="translate(257.10 354.20) scale(1.03 1)" font-size="10.00" text-anchor="start" fill="#1e1e1e" stroke="#1e1e1e" stroke-width="0.2" font-weight="normal" >= 40 fs</text>
<line x1="219.40" y1="367.40" x2="243.30" y2="367.40" stroke="#ff1c10" stroke-width="1.5" />
<text transform="translate(245.50 370.80) scale(1.0 1)" font-size="10.00" text-anchor="start" fill="#1e1e1e" stroke="#1e1e1e" stroke-width="0.2" font-weight="normal" >&#964;</text>
<text transform="translate(249.60 374.50) scale(1.0 1)" font-size="6.60" text-anchor="start" fill="#1e1e1e" stroke="#1e1e1e" stroke-width="0.2" font-weight="normal" >el</text>
<text transform="translate(257.10 370.80) scale(1.03 1)" font-size="10.00" text-anchor="start" fill="#1e1e1e" stroke="#1e1e1e" stroke-width="0.2" font-weight="normal" >= 50 fs</text>
<rect x="424.80" y="284.50" width="256.00" height="188.00" fill="none" stroke="#3d3d3d" stroke-width="1.0"/>
<text transform="translate(419.80 451.10) scale(0.93 1)" font-size="10.50" text-anchor="end" fill="#1e1e1e" stroke="#1e1e1e" stroke-width="0.2" font-weight="normal" >1E-3</text>
<text transform="translate(419.80 401.50) scale(0.93 1)" font-size="10.50" text-anchor="end" fill="#1e1e1e" stroke="#1e1e1e" stroke-width="0.2" font-weight="normal" >0.01</text>
<text transform="translate(419.80 351.90) scale(0.93 1)" font-size="10.50" text-anchor="end" fill="#1e1e1e" stroke="#1e1e1e" stroke-width="0.2" font-weight="normal" >0.1</text>
<text transform="translate(419.80 302.30) scale(0.93 1)" font-size="10.50" text-anchor="end" fill="#1e1e1e" stroke="#1e1e1e" stroke-width="0.2" font-weight="normal" >1</text>
<text transform="translate(552.90 501.40) scale(0.91 1)" font-size="11.30" text-anchor="middle" fill="#1e1e1e" stroke="#1e1e1e" stroke-width="0.2" font-weight="normal" >Frequency (THz)</text>
<text transform="translate(388.80 378.90) rotate(-90) scale(0.91 1)" font-size="11.30" text-anchor="middle" fill="#1e1e1e" stroke="#1e1e1e" stroke-width="0.2" font-weight="normal" >Spectral amplitude (arb. units)</text>
<rect x="602.50" y="290.30" width="69.90" height="83.30" fill="#ffffff" stroke="#b4c4a4" stroke-width="1"/>
<line x1="603.30" y1="299.40" x2="626.70" y2="299.40" stroke="#0a2aff" stroke-width="1.5" />
<text transform="translate(629.80 302.80) scale(1.0 1)" font-size="10.00" text-anchor="start" fill="#1e1e1e" stroke="#1e1e1e" stroke-width="0.2" font-weight="normal" >&#964;</text>
<text transform="translate(633.90 306.50) scale(1.0 1)" font-size="6.60" text-anchor="start" fill="#1e1e1e" stroke="#1e1e1e" stroke-width="0.2" font-weight="normal" >el</text>
<text transform="translate(642.10 302.80) scale(0.98 1)" font-size="10.00" text-anchor="start" fill="#1e1e1e" stroke="#1e1e1e" stroke-width="0.2" font-weight="normal" >= 10 fs</text>
<line x1="603.30" y1="316.00" x2="626.70" y2="316.00" stroke="#3c26c8" stroke-width="1.5" />
<text transform="translate(629.80 319.40) scale(1.0 1)" font-size="10.00" text-anchor="start" fill="#1e1e1e" stroke="#1e1e1e" stroke-width="0.2" font-weight="normal" >&#964;</text>
<text transform="translate(633.90 323.10) scale(1.0 1)" font-size="6.60" text-anchor="start" fill="#1e1e1e" stroke="#1e1e1e" stroke-width="0.2" font-weight="normal" >el</text>
<text transform="translate(642.10 319.40) scale(0.98 1)" font-size="10.00" text-anchor="start" fill="#1e1e1e" stroke="#1e1e1e" stroke-width="0.2" font-weight="normal" >= 20 fs</text>
<line x1="603.30" y1="332.60" x2="626.70" y2="332.60" stroke="#7a1e86" stroke-width="1.5" />
<text transform="translate(629.80 336.00) scale(1.0 1)" font-size="10.00" text-anchor="start" fill="#1e1e1e" stroke="#1e1e1e" stroke-width="0.2" font-weight="normal" >&#964;</text>
<text transform="translate(633.90 339.70) scale(1.0 1)" font-size="6.60" text-anchor="start" fill="#1e1e1e" stroke="#1e1e1e" stroke-width="0.2" font-weight="normal" >el</text>
<text transform="translate(642.10 336.00) scale(0.98 1)" font-size="10.00" text-anchor="start" fill="#1e1e1e" stroke="#1e1e1e" stroke-width="0.2" font-weight="normal" >= 30 fs</text>
<line x1="603.30" y1="349.20" x2="626.70" y2="349.20" stroke="#c0304c" stroke-width="1.5" />
<text transform="translate(629.80 352.60) scale(1.0 1)" font-size="10.00" text-anchor="start" fill="#1e1e1e" stroke="#1e1e1e" stroke-width="0.2" font-weight="normal" >&#964;</text>
<text transform="translate(633.90 356.30) scale(1.0 1)" font-size="6.60" text-anchor="start" fill="#1e1e1e" stroke="#1e1e1e" stroke-width="0.2" font-weight="normal" >el</text>
<text transform="translate(642.10 352.60) scale(0.98 1)" font-size="10.00" text-anchor="start" fill="#1e1e1e" stroke="#1e1e1e" stroke-width="0.2" font-weight="normal" >= 40 fs</text>
<line x1="603.30" y1="365.80" x2="626.70" y2="365.80" stroke="#ff1c10" stroke-width="1.5" />
<text transform="translate(629.80 369.20) scale(1.0 1)" font-size="10.00" text-anchor="start" fill="#1e1e1e" stroke="#1e1e1e" stroke-width="0.2" font-weight="normal" >&#964;</text>
<text transform="translate(633.90 372.90) scale(1.0 1)" font-size="6.60" text-anchor="start" fill="#1e1e1e" stroke="#1e1e1e" stroke-width="0.2" font-weight="normal" >el</text>
<text transform="translate(642.10 369.20) scale(0.98 1)" font-size="10.00" text-anchor="start" fill="#1e1e1e" stroke="#1e1e1e" stroke-width="0.2" font-weight="normal" >= 50 fs</text>
<rect x="422.60" y="29.20" width="255.60" height="188.20" fill="none" stroke="#3a4a40" stroke-width="1.0"/>
<text transform="translate(550.50 245.60) scale(0.88 1)" font-size="11.30" text-anchor="middle" fill="#1e1e1e" stroke="#1e1e1e" stroke-width="0.2" font-weight="normal" >Time (ps)</text>
<text transform="translate(384.20 123.30) rotate(-90) scale(0.91 1)" font-size="11.30" text-anchor="middle" fill="#1e1e1e" stroke="#1e1e1e" stroke-width="0.2" font-weight="normal" >E-Field Amplitude (arb. units)</text>
<rect x="602.30" y="33.30" width="70.00" height="83.40" fill="#ffffff" stroke="#b8c8b0" stroke-width="1"/>
<line x1="603.50" y1="42.40" x2="626.70" y2="42.40" stroke="#0a2aff" stroke-width="1.5" />
<text transform="translate(629.10 45.80) scale(1.0 1)" font-size="10.00" text-anchor="start" fill="#1e1e1e" stroke="#1e1e1e" stroke-width="0.2" font-weight="normal" >&#964;</text>
<text transform="translate(633.20 49.50) scale(1.0 1)" font-size="6.60" text-anchor="start" fill="#1e1e1e" stroke="#1e1e1e" stroke-width="0.2" font-weight="normal" >el</text>
<text transform="translate(641.40 45.80) scale(0.98 1)" font-size="10.00" text-anchor="start" fill="#1e1e1e" stroke="#1e1e1e" stroke-width="0.2" font-weight="normal" >= 10 fs</text>
<line x1="603.50" y1="58.85" x2="626.70" y2="58.85" stroke="#3c26c8" stroke-width="1.5" />
<text transform="translate(629.10 62.25) scale(1.0 1)" font-size="10.00" text-anchor="start" fill="#1e1e1e" stroke="#1e1e1e" stroke-width="0.2" font-weight="normal" >&#964;</text>
<text transform="translate(633.20 65.95) scale(1.0 1)" font-size="6.60" text-anchor="start" fill="#1e1e1e" stroke="#1e1e1e" stroke-width="0.2" font-weight="normal" >el</text>
<text transform="translate(641.40 62.25) scale(0.98 1)" font-size="10.00" text-anchor="start" fill="#1e1e1e" stroke="#1e1e1e" stroke-width="0.2" font-weight="normal" >= 20 fs</text>
<line x1="603.50" y1="75.30" x2="626.70" y2="75.30" stroke="#7a1e86" stroke-width="1.5" />
<text transform="translate(629.10 78.70) scale(1.0 1)" font-size="10.00" text-anchor="start" fill="#1e1e1e" stroke="#1e1e1e" stroke-width="0.2" font-weight="normal" >&#964;</text>
<text transform="translate(633.20 82.40) scale(1.0 1)" font-size="6.60" text-anchor="start" fill="#1e1e1e" stroke="#1e1e1e" stroke-width="0.2" font-weight="normal" >el</text>
<text transform="translate(641.40 78.70) scale(0.98 1)" font-size="10.00" text-anchor="start" fill="#1e1e1e" stroke="#1e1e1e" stroke-width="0.2" font-weight="normal" >= 30 fs</text>
<line x1="603.50" y1="91.75" x2="626.70" y2="91.75" stroke="#c0304c" stroke-width="1.5" />
<text transform="translate(629.10 95.15) scale(1.0 1)" font-size="10.00" text-anchor="start" fill="#1e1e1e" stroke="#1e1e1e" stroke-width="0.2" font-weight="normal" >&#964;</text>
<text transform="translate(633.20 98.85) scale(1.0 1)" font-size="6.60" text-anchor="start" fill="#1e1e1e" stroke="#1e1e1e" stroke-width="0.2" font-weight="normal" >el</text>
<text transform="translate(641.40 95.15) scale(0.98 1)" font-size="10.00" text-anchor="start" fill="#1e1e1e" stroke="#1e1e1e" stroke-width="0.2" font-weight="normal" >= 40 fs</text>
<line x1="603.50" y1="108.20" x2="626.70" y2="108.20" stroke="#ff1c10" stroke-width="1.5" />
<text transform="translate(629.10 111.60) scale(1.0 1)" font-size="10.00" text-anchor="start" fill="#1e1e1e" stroke="#1e1e1e" stroke-width="0.2" font-weight="normal" >&#964;</text>
<text transform="translate(633.20 115.30) scale(1.0 1)" font-size="6.60" text-anchor="start" fill="#1e1e1e" stroke="#1e1e1e" stroke-width="0.2" font-weight="normal" >el</text>
<text transform="translate(641.40 111.60) scale(0.98 1)" font-size="10.00" text-anchor="start" fill="#1e1e1e" stroke="#1e1e1e" stroke-width="0.2" font-weight="normal" >= 50 fs</text>
<text transform="translate(-0.20 16.20) scale(0.86 1)" font-size="23.30" text-anchor="start" fill="#1e1e1e" stroke="#1e1e1e" stroke-width="0.25" font-weight="bold" >a</text>
<text transform="translate(-1.60 285.70) scale(0.95 1)" font-size="21.50" text-anchor="start" fill="#1e1e1e" stroke="#1e1e1e" stroke-width="0.25" font-weight="bold" >b</text>
<text transform="translate(384.90 283.60) scale(0.95 1)" font-size="22.00" text-anchor="start" fill="#1e1e1e" stroke="#1e1e1e" stroke-width="0.25" font-weight="bold" >c</text>
<text transform="translate(385.00 16.00) scale(0.92 1)" font-size="21.00" text-anchor="start" fill="#1e1e1e" stroke="#1e1e1e" stroke-width="0.25" font-weight="bold" >d</text>
<text transform="translate(129.80 273.70) scale(0.91 1)" font-size="22.40" text-anchor="start" fill="#222222" stroke="#222222" stroke-width="0.25" font-weight="normal" >FT</text>
<rect x="169.9" y="249" width="3.2" height="20" fill="#222222"/>
<polygon points="162.9,267.8 180.1,267.8 171.5,282.8" fill="#222222"/>
<text transform="translate(570.40 275.90) scale(0.91 1)" font-size="22.40" text-anchor="start" fill="#222222" stroke="#222222" stroke-width="0.25" font-weight="normal" >IFT</text>
<rect x="551.5" y="262" width="3.2" height="21.5" fill="#222222"/>
<polygon points="544.9,263.8 561.5,263.8 553.1,248.8" fill="#222222"/>
<text transform="translate(339.00 364.90) scale(0.985 1)" font-size="21.50" text-anchor="middle" fill="#1010ff" stroke="#1010ff" stroke-width="0.25" font-weight="normal" >Eq.(15)</text>
<rect x="309" y="380.4" width="46" height="2.9" fill="#1010ff"/>
<polygon points="353.6,373.9 369.8,381.9 353.6,389.9" fill="#1010ff"/>
<text transform="translate(340.30 409.30) scale(0.985 1)" font-size="21.50" text-anchor="middle" fill="#1010ff" stroke="#1010ff" stroke-width="0.25" font-weight="normal" >Det.</text>
<text transform="translate(339.80 433.40) scale(0.97 1)" font-size="21.50" text-anchor="middle" fill="#1010ff" stroke="#1010ff" stroke-width="0.25" font-weight="normal" >funct.</text></svg></body></html>
